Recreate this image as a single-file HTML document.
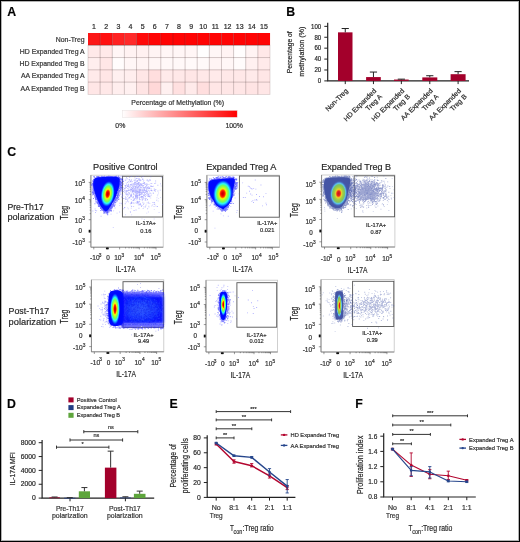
<!DOCTYPE html>
<html><head><meta charset="utf-8"><style>
html,body{margin:0;padding:0;background:#fff;}
body{width:520px;height:542px;overflow:hidden;position:relative;}
svg{position:absolute;left:0;top:0;will-change:transform;}
text{font-family:"Liberation Sans",sans-serif;stroke:#333;stroke-width:0.2px;}
</style></head><body>
<svg width="520" height="542" viewBox="0 0 520 542" font-family="Liberation Sans, sans-serif">
<rect x="0" y="0" width="520" height="542" fill="#fff"/>
<text x="7.30" y="16.20" font-size="12.3" text-anchor="start" fill="#000" font-weight="bold" >A</text>
<text x="94.07" y="28.60" font-size="7" text-anchor="middle" fill="#222" >1</text>
<text x="106.20" y="28.60" font-size="7" text-anchor="middle" fill="#222" >2</text>
<text x="118.33" y="28.60" font-size="7" text-anchor="middle" fill="#222" >3</text>
<text x="130.47" y="28.60" font-size="7" text-anchor="middle" fill="#222" >4</text>
<text x="142.60" y="28.60" font-size="7" text-anchor="middle" fill="#222" >5</text>
<text x="154.73" y="28.60" font-size="7" text-anchor="middle" fill="#222" >6</text>
<text x="166.87" y="28.60" font-size="7" text-anchor="middle" fill="#222" >7</text>
<text x="179.00" y="28.60" font-size="7" text-anchor="middle" fill="#222" >8</text>
<text x="191.13" y="28.60" font-size="7" text-anchor="middle" fill="#222" >9</text>
<text x="203.27" y="28.60" font-size="7" text-anchor="middle" fill="#222" >10</text>
<text x="215.40" y="28.60" font-size="7" text-anchor="middle" fill="#222" >11</text>
<text x="227.53" y="28.60" font-size="7" text-anchor="middle" fill="#222" >12</text>
<text x="239.67" y="28.60" font-size="7" text-anchor="middle" fill="#222" >13</text>
<text x="251.80" y="28.60" font-size="7" text-anchor="middle" fill="#222" >14</text>
<text x="263.93" y="28.60" font-size="7" text-anchor="middle" fill="#222" >15</text>
<text x="84.60" y="41.64" font-size="6.9" text-anchor="end" fill="#333" >Non-Treg</text>
<text x="84.60" y="53.92" font-size="6.9" text-anchor="end" fill="#333" >HD Expanded Treg A</text>
<text x="84.60" y="66.20" font-size="6.9" text-anchor="end" fill="#333" >HD Expanded Treg B</text>
<text x="84.60" y="78.48" font-size="6.9" text-anchor="end" fill="#333" >AA Expanded Treg A</text>
<text x="84.60" y="90.76" font-size="6.9" text-anchor="end" fill="#333" >AA Expanded Treg B</text>
<rect x="88.00" y="33.00" width="12.18" height="12.33" fill="#fc1616"/>
<rect x="100.13" y="33.00" width="12.18" height="12.33" fill="#ff1010"/>
<rect x="112.27" y="33.00" width="12.18" height="12.33" fill="#ff2222"/>
<rect x="124.40" y="33.00" width="12.18" height="12.33" fill="#ff2a2a"/>
<rect x="136.53" y="33.00" width="12.18" height="12.33" fill="#ff0a0a"/>
<rect x="148.67" y="33.00" width="12.18" height="12.33" fill="#ff0404"/>
<rect x="160.80" y="33.00" width="12.18" height="12.33" fill="#ff0404"/>
<rect x="172.93" y="33.00" width="12.18" height="12.33" fill="#ff0404"/>
<rect x="185.07" y="33.00" width="12.18" height="12.33" fill="#ff0404"/>
<rect x="197.20" y="33.00" width="12.18" height="12.33" fill="#ff0404"/>
<rect x="209.33" y="33.00" width="12.18" height="12.33" fill="#ff0404"/>
<rect x="221.47" y="33.00" width="12.18" height="12.33" fill="#ff0404"/>
<rect x="233.60" y="33.00" width="12.18" height="12.33" fill="#ff0404"/>
<rect x="245.73" y="33.00" width="12.18" height="12.33" fill="#ff0404"/>
<rect x="257.87" y="33.00" width="12.18" height="12.33" fill="#ff0404"/>
<rect x="88.00" y="45.28" width="12.18" height="12.33" fill="#ffe9e9"/>
<rect x="100.13" y="45.28" width="12.18" height="12.33" fill="#ffe9e9"/>
<rect x="112.27" y="45.28" width="12.18" height="12.33" fill="#fff6f6"/>
<rect x="124.40" y="45.28" width="12.18" height="12.33" fill="#fff2f2"/>
<rect x="136.53" y="45.28" width="12.18" height="12.33" fill="#fff1f1"/>
<rect x="148.67" y="45.28" width="12.18" height="12.33" fill="#fff4f4"/>
<rect x="160.80" y="45.28" width="12.18" height="12.33" fill="#fff6f6"/>
<rect x="172.93" y="45.28" width="12.18" height="12.33" fill="#fff6f6"/>
<rect x="185.07" y="45.28" width="12.18" height="12.33" fill="#fff6f6"/>
<rect x="197.20" y="45.28" width="12.18" height="12.33" fill="#fffefe"/>
<rect x="209.33" y="45.28" width="12.18" height="12.33" fill="#fff6f6"/>
<rect x="221.47" y="45.28" width="12.18" height="12.33" fill="#fff3f3"/>
<rect x="233.60" y="45.28" width="12.18" height="12.33" fill="#fffdfd"/>
<rect x="245.73" y="45.28" width="12.18" height="12.33" fill="#fff3f3"/>
<rect x="257.87" y="45.28" width="12.18" height="12.33" fill="#ffe8e8"/>
<rect x="88.00" y="57.56" width="12.18" height="12.33" fill="#ffeeee"/>
<rect x="100.13" y="57.56" width="12.18" height="12.33" fill="#ffe6e6"/>
<rect x="112.27" y="57.56" width="12.18" height="12.33" fill="#fffcfc"/>
<rect x="124.40" y="57.56" width="12.18" height="12.33" fill="#fff6f6"/>
<rect x="136.53" y="57.56" width="12.18" height="12.33" fill="#fff4f4"/>
<rect x="148.67" y="57.56" width="12.18" height="12.33" fill="#fff6f6"/>
<rect x="160.80" y="57.56" width="12.18" height="12.33" fill="#fff8f8"/>
<rect x="172.93" y="57.56" width="12.18" height="12.33" fill="#fff8f8"/>
<rect x="185.07" y="57.56" width="12.18" height="12.33" fill="#fff9f9"/>
<rect x="197.20" y="57.56" width="12.18" height="12.33" fill="#fff9f9"/>
<rect x="209.33" y="57.56" width="12.18" height="12.33" fill="#fff4f4"/>
<rect x="221.47" y="57.56" width="12.18" height="12.33" fill="#fff6f6"/>
<rect x="233.60" y="57.56" width="12.18" height="12.33" fill="#fffbfb"/>
<rect x="245.73" y="57.56" width="12.18" height="12.33" fill="#fff0f0"/>
<rect x="257.87" y="57.56" width="12.18" height="12.33" fill="#ffeaea"/>
<rect x="88.00" y="69.84" width="12.18" height="12.33" fill="#ffeaea"/>
<rect x="100.13" y="69.84" width="12.18" height="12.33" fill="#ffe6e6"/>
<rect x="112.27" y="69.84" width="12.18" height="12.33" fill="#fff0f0"/>
<rect x="124.40" y="69.84" width="12.18" height="12.33" fill="#ffeeee"/>
<rect x="136.53" y="69.84" width="12.18" height="12.33" fill="#ffe6e6"/>
<rect x="148.67" y="69.84" width="12.18" height="12.33" fill="#ffdede"/>
<rect x="160.80" y="69.84" width="12.18" height="12.33" fill="#ffeaea"/>
<rect x="172.93" y="69.84" width="12.18" height="12.33" fill="#ffe8e8"/>
<rect x="185.07" y="69.84" width="12.18" height="12.33" fill="#ffe6e6"/>
<rect x="197.20" y="69.84" width="12.18" height="12.33" fill="#ffe8e8"/>
<rect x="209.33" y="69.84" width="12.18" height="12.33" fill="#ffeaea"/>
<rect x="221.47" y="69.84" width="12.18" height="12.33" fill="#ffe8e8"/>
<rect x="233.60" y="69.84" width="12.18" height="12.33" fill="#ffe8e8"/>
<rect x="245.73" y="69.84" width="12.18" height="12.33" fill="#ffeaea"/>
<rect x="257.87" y="69.84" width="12.18" height="12.33" fill="#ffe6e6"/>
<rect x="88.00" y="82.12" width="12.18" height="12.33" fill="#ffe6e6"/>
<rect x="100.13" y="82.12" width="12.18" height="12.33" fill="#ffe8e8"/>
<rect x="112.27" y="82.12" width="12.18" height="12.33" fill="#ffeeee"/>
<rect x="124.40" y="82.12" width="12.18" height="12.33" fill="#fff0f0"/>
<rect x="136.53" y="82.12" width="12.18" height="12.33" fill="#ffe4e4"/>
<rect x="148.67" y="82.12" width="12.18" height="12.33" fill="#ffd8d8"/>
<rect x="160.80" y="82.12" width="12.18" height="12.33" fill="#fff0f0"/>
<rect x="172.93" y="82.12" width="12.18" height="12.33" fill="#ffe0e0"/>
<rect x="185.07" y="82.12" width="12.18" height="12.33" fill="#ffeaea"/>
<rect x="197.20" y="82.12" width="12.18" height="12.33" fill="#ffdede"/>
<rect x="209.33" y="82.12" width="12.18" height="12.33" fill="#ffe6e6"/>
<rect x="221.47" y="82.12" width="12.18" height="12.33" fill="#ffe6e6"/>
<rect x="233.60" y="82.12" width="12.18" height="12.33" fill="#ffe6e6"/>
<rect x="245.73" y="82.12" width="12.18" height="12.33" fill="#ffe4e4"/>
<rect x="257.87" y="82.12" width="12.18" height="12.33" fill="#ffe6e6"/>
<path d="M100.13 33.0V94.4M112.27 33.0V94.4M124.40 33.0V94.4M136.53 33.0V94.4M148.67 33.0V94.4M160.80 33.0V94.4M172.93 33.0V94.4M185.07 33.0V94.4M197.20 33.0V94.4M209.33 33.0V94.4M221.47 33.0V94.4M233.60 33.0V94.4M245.73 33.0V94.4M257.87 33.0V94.4M88.0 45.28H270.0M88.0 57.56H270.0M88.0 69.84H270.0M88.0 82.12H270.0" stroke="#3c2020" stroke-width="0.9" fill="none" stroke-opacity="0.26"/>
<rect x="88.0" y="45.28" width="182.0" height="49.12" fill="none" stroke="#3c2020" stroke-opacity="0.18" stroke-width="0.8"/>
<text x="177.70" y="105.20" font-size="6.9" text-anchor="middle" fill="#333" >Percentage of Methylation (%)</text>
<defs><linearGradient id="cb" x1="0" x2="1" y1="0" y2="0"><stop offset="0" stop-color="#ffffff"/><stop offset="1" stop-color="#ff0000"/></linearGradient></defs>
<rect x="122.3" y="110.4" width="114.9" height="6.9" fill="url(#cb)" stroke="#e8e0e0" stroke-width="0.5"/>
<text x="115.30" y="127.60" font-size="6.9" text-anchor="start" fill="#333" >0%</text>
<text x="243.00" y="127.60" font-size="6.9" text-anchor="end" fill="#333" >100%</text>
<text x="286.20" y="16.20" font-size="12.3" text-anchor="start" fill="#000" font-weight="bold" >B</text>
<path d="M327.7 22.8V81.4M327.09999999999997 80.9H469.0" stroke="#222" stroke-width="1.2" fill="none"/>
<text x="321.20" y="83.20" font-size="6.6" text-anchor="end" fill="#222" textLength="3.4" lengthAdjust="spacingAndGlyphs" >0</text>
<text x="321.20" y="72.29" font-size="6.6" text-anchor="end" fill="#222" textLength="6.8" lengthAdjust="spacingAndGlyphs" >20</text>
<text x="321.20" y="61.38" font-size="6.6" text-anchor="end" fill="#222" textLength="6.8" lengthAdjust="spacingAndGlyphs" >40</text>
<text x="321.20" y="50.47" font-size="6.6" text-anchor="end" fill="#222" textLength="6.8" lengthAdjust="spacingAndGlyphs" >60</text>
<text x="321.20" y="39.56" font-size="6.6" text-anchor="end" fill="#222" textLength="6.8" lengthAdjust="spacingAndGlyphs" >80</text>
<text x="321.20" y="28.65" font-size="6.6" text-anchor="end" fill="#222" textLength="10.2" lengthAdjust="spacingAndGlyphs" >100</text>
<path d="M324.3 80.90H327.7M324.3 69.99H327.7M324.3 59.08H327.7M324.3 48.17H327.7M324.3 37.26H327.7M324.3 26.35H327.7" stroke="#222" stroke-width="1" fill="none"/>
<rect x="338.0" y="32.35" width="14.50" height="48.55" fill="#a3002b"/>
<path d="M345.25 32.35V28.53M341.65 28.53H348.85" stroke="#222" stroke-width="1" fill="none"/>
<rect x="366.1" y="77.08" width="14.70" height="3.82" fill="#a3002b"/>
<path d="M373.45 77.08V72.06M369.85 72.06H377.05" stroke="#222" stroke-width="1" fill="none"/>
<rect x="394.0" y="79.54" width="14.70" height="1.36" fill="#a3002b"/>
<path d="M401.35 79.54V79.15M397.75 79.15H404.95" stroke="#222" stroke-width="1" fill="none"/>
<rect x="422.3" y="77.41" width="15.00" height="3.49" fill="#a3002b"/>
<path d="M429.80 77.41V75.72M426.20 75.72H433.40" stroke="#222" stroke-width="1" fill="none"/>
<rect x="450.6" y="74.19" width="15.00" height="6.71" fill="#a3002b"/>
<path d="M458.10 74.19V71.63M454.50 71.63H461.70" stroke="#222" stroke-width="1" fill="none"/>
<path d="M345.25 80.9V84.10000000000001M373.45 80.9V84.10000000000001M401.35 80.9V84.10000000000001M429.80 80.9V84.10000000000001M458.10 80.9V84.10000000000001" stroke="#222" stroke-width="1" fill="none"/>
<text transform="translate(292.0 52.3) rotate(-90)" font-size="7.6" text-anchor="middle" fill="#222" textLength="41.8" lengthAdjust="spacingAndGlyphs">Percentage of</text>
<text transform="translate(304.4 51.7) rotate(-90)" font-size="7.6" text-anchor="middle" fill="#222" textLength="50.3" lengthAdjust="spacingAndGlyphs">methylation (%)</text>
<g transform="translate(346.85 89.60) rotate(-45)"><text x="0" y="2.4" font-size="6.9" text-anchor="end" fill="#222">Non-Treg</text></g>
<g transform="translate(375.05 89.60) rotate(-45)"><text x="0" y="2.4" font-size="6.9" text-anchor="end" fill="#222">HD Expanded</text><text x="0" y="10.6" font-size="6.9" text-anchor="end" fill="#222">Treg A</text></g>
<g transform="translate(402.95 89.60) rotate(-45)"><text x="0" y="2.4" font-size="6.9" text-anchor="end" fill="#222">HD Expanded</text><text x="0" y="10.6" font-size="6.9" text-anchor="end" fill="#222">Treg B</text></g>
<g transform="translate(431.40 89.60) rotate(-45)"><text x="0" y="2.4" font-size="6.9" text-anchor="end" fill="#222">AA Expanded</text><text x="0" y="10.6" font-size="6.9" text-anchor="end" fill="#222">Treg A</text></g>
<g transform="translate(459.70 89.60) rotate(-45)"><text x="0" y="2.4" font-size="6.9" text-anchor="end" fill="#222">AA Expanded</text><text x="0" y="10.6" font-size="6.9" text-anchor="end" fill="#222">Treg B</text></g>
<text x="7.30" y="155.80" font-size="12.3" text-anchor="start" fill="#000" font-weight="bold" >C</text>
<text x="7.40" y="210.00" font-size="9.0" text-anchor="start" fill="#222" textLength="36.2" lengthAdjust="spacingAndGlyphs" >Pre-Th17</text>
<text x="7.40" y="220.40" font-size="9.0" text-anchor="start" fill="#222" textLength="47.0" lengthAdjust="spacingAndGlyphs" >polarization</text>
<text x="8.60" y="313.80" font-size="9.0" text-anchor="start" fill="#222" textLength="40.6" lengthAdjust="spacingAndGlyphs" >Post-Th17</text>
<text x="8.60" y="324.80" font-size="9.0" text-anchor="start" fill="#222" textLength="47.5" lengthAdjust="spacingAndGlyphs" >polarization</text>
<rect x="90.9" y="175.2" width="72.30" height="72.00" fill="none" stroke="#c4c4c4" stroke-width="0.8"/>
<path d="M90.9 175.2V247.2H163.2" stroke="#777" stroke-width="0.8" fill="none"/>
<path d="M88.70 182.40H90.9M156.02 247.2V249.40M88.70 199.60H90.9M139.37 247.2V249.40M88.70 219.70H90.9M119.62 247.2V249.40M88.70 231.20H90.9M107.35 247.2V249.40M88.70 242.00H90.9M93.79 247.2V249.40M89.70 213.65H90.9M125.56 247.2V248.40M89.70 210.11H90.9M129.04 247.2V248.40M89.70 207.60H90.9M131.51 247.2V248.40M89.70 205.65H90.9M133.42 247.2V248.40M89.70 204.06H90.9M134.99 247.2V248.40M89.70 202.71H90.9M136.31 247.2V248.40M89.70 201.55H90.9M137.45 247.2V248.40M89.70 200.52H90.9M138.46 247.2V248.40M89.70 194.42H90.9M144.38 247.2V248.40M89.70 191.39H90.9M147.31 247.2V248.40M89.70 189.24H90.9M149.39 247.2V248.40M89.70 187.58H90.9M151.01 247.2V248.40M89.70 186.22H90.9M152.33 247.2V248.40M89.70 185.06H90.9M153.44 247.2V248.40M89.70 184.07H90.9M154.41 247.2V248.40M89.70 183.19H90.9M155.26 247.2V248.40" stroke="#555" stroke-width="0.6" fill="none"/>
<rect x="88.70" y="229.80" width="1.8" height="2.8" fill="#111"/>
<rect x="105.95" y="247.50" width="2.8" height="1.8" fill="#111"/>
<text x="82.10" y="185.80" font-size="6.6" text-anchor="end" fill="#333" >10</text>
<text x="82.20" y="182.80" font-size="4.8" text-anchor="start" fill="#333" >5</text>
<text x="82.10" y="203.00" font-size="6.6" text-anchor="end" fill="#333" >10</text>
<text x="82.20" y="200.00" font-size="4.8" text-anchor="start" fill="#333" >4</text>
<text x="82.10" y="223.10" font-size="6.6" text-anchor="end" fill="#333" >10</text>
<text x="82.20" y="220.10" font-size="4.8" text-anchor="start" fill="#333" >3</text>
<text x="82.00" y="233.30" font-size="6.3" text-anchor="end" fill="#333" >0</text>
<text x="82.10" y="245.40" font-size="6.6" text-anchor="end" fill="#333" >-10</text>
<text x="82.20" y="242.40" font-size="4.8" text-anchor="start" fill="#333" >3</text>
<text x="94.79" y="260.00" font-size="6.6" text-anchor="middle" fill="#333" >-10</text>
<text x="98.69" y="256.80" font-size="4.8" text-anchor="start" fill="#333" >3</text>
<text x="107.95" y="260.20" font-size="6.4" text-anchor="middle" fill="#333" >0</text>
<text x="117.82" y="260.00" font-size="6.6" text-anchor="middle" fill="#333" >10</text>
<text x="121.62" y="256.80" font-size="4.8" text-anchor="start" fill="#333" >3</text>
<text x="137.57" y="260.00" font-size="6.6" text-anchor="middle" fill="#333" >10</text>
<text x="141.37" y="256.80" font-size="4.8" text-anchor="start" fill="#333" >4</text>
<text x="154.22" y="260.00" font-size="6.6" text-anchor="middle" fill="#333" >10</text>
<text x="158.02" y="256.80" font-size="4.8" text-anchor="start" fill="#333" >5</text>
<text x="125.60" y="272.30" font-size="9.0" text-anchor="middle" fill="#1a1a1a" textLength="19.8" lengthAdjust="spacingAndGlyphs" >IL-17A</text>
<text transform="translate(67.60 212.75) rotate(-90)" font-size="10.2" text-anchor="middle" fill="#1a1a1a" textLength="13.9" lengthAdjust="spacingAndGlyphs">Treg</text>
<text x="93.10" y="169.90" font-size="9.6" text-anchor="start" fill="#222" textLength="64.5" lengthAdjust="spacingAndGlyphs" >Positive Control</text>
<rect x="122.4" y="176.3" width="40.10" height="40.70" fill="none" stroke="#555" stroke-width="0.9"/>
<text x="145.90" y="225.45" font-size="5.7" text-anchor="middle" fill="#2a2a2a" >IL-17A+</text>
<text x="145.90" y="232.55" font-size="5.7" text-anchor="middle" fill="#2a2a2a" >0.16</text>
<path d="M137.0 193.2h0.9v0.9h-0.9zM134.5 184.3h0.9v0.9h-0.9zM132.9 183.6h0.9v0.9h-0.9zM137.5 201.1h0.9v0.9h-0.9zM132.6 186.3h0.9v0.9h-0.9zM141.4 193.7h0.9v0.9h-0.9zM137.9 184.0h0.9v0.9h-0.9zM136.7 196.2h0.9v0.9h-0.9zM124.9 187.6h0.9v0.9h-0.9zM119.9 181.3h0.9v0.9h-0.9zM120.4 189.2h0.9v0.9h-0.9zM125.6 193.0h0.9v0.9h-0.9zM138.4 189.6h0.9v0.9h-0.9zM114.3 187.0h0.9v0.9h-0.9zM136.6 191.8h0.9v0.9h-0.9zM123.2 187.4h0.9v0.9h-0.9zM128.2 184.9h0.9v0.9h-0.9zM146.5 184.9h0.9v0.9h-0.9zM136.7 197.6h0.9v0.9h-0.9zM131.7 190.2h0.9v0.9h-0.9zM138.0 191.5h0.9v0.9h-0.9zM126.0 191.6h0.9v0.9h-0.9zM149.2 179.4h0.9v0.9h-0.9zM144.7 191.9h0.9v0.9h-0.9zM131.2 206.0h0.9v0.9h-0.9zM143.9 182.0h0.9v0.9h-0.9zM137.7 195.3h0.9v0.9h-0.9zM135.3 196.1h0.9v0.9h-0.9zM136.4 196.0h0.9v0.9h-0.9zM149.9 185.9h0.9v0.9h-0.9zM138.8 187.5h0.9v0.9h-0.9zM138.1 182.1h0.9v0.9h-0.9zM131.8 189.5h0.9v0.9h-0.9zM145.1 199.6h0.9v0.9h-0.9zM125.1 185.0h0.9v0.9h-0.9zM142.8 176.1h0.9v0.9h-0.9zM132.8 190.3h0.9v0.9h-0.9zM148.3 196.2h0.9v0.9h-0.9zM134.1 188.2h0.9v0.9h-0.9zM134.7 202.4h0.9v0.9h-0.9zM133.1 188.7h0.9v0.9h-0.9zM140.2 190.1h0.9v0.9h-0.9zM135.2 182.6h0.9v0.9h-0.9zM136.9 187.7h0.9v0.9h-0.9zM147.5 195.9h0.9v0.9h-0.9zM136.8 196.0h0.9v0.9h-0.9zM133.9 198.9h0.9v0.9h-0.9zM137.0 195.4h0.9v0.9h-0.9zM125.4 193.6h0.9v0.9h-0.9zM121.8 175.7h0.9v0.9h-0.9zM134.3 184.3h0.9v0.9h-0.9zM138.5 207.8h0.9v0.9h-0.9zM129.5 186.3h0.9v0.9h-0.9zM138.8 194.7h0.9v0.9h-0.9zM135.4 189.5h0.9v0.9h-0.9zM143.3 194.9h0.9v0.9h-0.9zM127.7 190.4h0.9v0.9h-0.9zM137.3 183.1h0.9v0.9h-0.9zM139.3 184.6h0.9v0.9h-0.9zM145.7 192.4h0.9v0.9h-0.9zM137.8 186.6h0.9v0.9h-0.9zM135.9 176.0h0.9v0.9h-0.9zM126.8 193.7h0.9v0.9h-0.9zM117.8 197.3h0.9v0.9h-0.9zM121.3 196.7h0.9v0.9h-0.9zM129.4 196.8h0.9v0.9h-0.9zM138.2 179.5h0.9v0.9h-0.9zM148.2 201.8h0.9v0.9h-0.9zM136.4 188.9h0.9v0.9h-0.9zM135.6 183.7h0.9v0.9h-0.9zM146.9 186.9h0.9v0.9h-0.9zM136.5 185.1h0.9v0.9h-0.9zM131.4 181.4h0.9v0.9h-0.9zM148.3 189.8h0.9v0.9h-0.9zM145.7 191.1h0.9v0.9h-0.9zM130.8 188.5h0.9v0.9h-0.9zM132.0 191.1h0.9v0.9h-0.9zM133.6 188.8h0.9v0.9h-0.9zM124.6 184.9h0.9v0.9h-0.9zM151.9 186.0h0.9v0.9h-0.9zM127.5 193.5h0.9v0.9h-0.9zM149.7 180.1h0.9v0.9h-0.9zM135.1 186.3h0.9v0.9h-0.9zM121.2 196.5h0.9v0.9h-0.9zM136.8 191.5h0.9v0.9h-0.9zM130.2 194.4h0.9v0.9h-0.9zM132.1 189.9h0.9v0.9h-0.9zM127.0 181.9h0.9v0.9h-0.9zM149.0 187.2h0.9v0.9h-0.9zM139.6 190.7h0.9v0.9h-0.9zM133.0 187.2h0.9v0.9h-0.9zM142.7 188.7h0.9v0.9h-0.9zM135.6 191.2h0.9v0.9h-0.9zM147.6 196.1h0.9v0.9h-0.9zM140.4 186.8h0.9v0.9h-0.9zM124.6 198.1h0.9v0.9h-0.9zM145.7 189.9h0.9v0.9h-0.9zM141.9 196.9h0.9v0.9h-0.9zM144.5 197.9h0.9v0.9h-0.9zM132.9 202.4h0.9v0.9h-0.9zM125.8 197.5h0.9v0.9h-0.9zM141.4 197.6h0.9v0.9h-0.9zM153.9 202.1h0.9v0.9h-0.9zM126.7 178.3h0.9v0.9h-0.9zM144.4 183.4h0.9v0.9h-0.9zM136.9 197.3h0.9v0.9h-0.9zM139.3 191.3h0.9v0.9h-0.9zM134.8 191.3h0.9v0.9h-0.9zM129.3 179.6h0.9v0.9h-0.9zM135.5 183.7h0.9v0.9h-0.9zM122.2 194.8h0.9v0.9h-0.9zM136.4 194.0h0.9v0.9h-0.9zM128.1 186.1h0.9v0.9h-0.9zM128.0 184.4h0.9v0.9h-0.9zM138.8 185.1h0.9v0.9h-0.9zM140.2 193.5h0.9v0.9h-0.9zM155.2 180.6h0.9v0.9h-0.9zM145.0 190.3h0.9v0.9h-0.9zM136.9 180.1h0.9v0.9h-0.9zM132.9 196.6h0.9v0.9h-0.9zM136.3 191.6h0.9v0.9h-0.9zM134.4 199.7h0.9v0.9h-0.9zM130.8 176.2h0.9v0.9h-0.9zM107.7 187.0h0.9v0.9h-0.9zM149.0 191.4h0.9v0.9h-0.9zM126.4 183.9h0.9v0.9h-0.9zM147.2 192.2h0.9v0.9h-0.9zM137.4 190.6h0.9v0.9h-0.9zM137.3 197.0h0.9v0.9h-0.9zM142.0 192.6h0.9v0.9h-0.9zM127.6 194.8h0.9v0.9h-0.9zM130.8 199.2h0.9v0.9h-0.9zM125.6 190.0h0.9v0.9h-0.9zM136.9 181.1h0.9v0.9h-0.9zM152.5 202.0h0.9v0.9h-0.9zM132.8 196.8h0.9v0.9h-0.9zM139.3 190.5h0.9v0.9h-0.9zM137.7 182.9h0.9v0.9h-0.9zM134.6 189.7h0.9v0.9h-0.9zM147.7 193.5h0.9v0.9h-0.9zM137.0 202.5h0.9v0.9h-0.9zM132.0 188.1h0.9v0.9h-0.9zM120.6 202.8h0.9v0.9h-0.9zM145.7 197.9h0.9v0.9h-0.9zM143.0 191.8h0.9v0.9h-0.9zM138.9 189.1h0.9v0.9h-0.9zM135.2 191.4h0.9v0.9h-0.9zM150.6 195.2h0.9v0.9h-0.9zM136.5 186.7h0.9v0.9h-0.9zM131.3 203.0h0.9v0.9h-0.9zM141.6 191.5h0.9v0.9h-0.9zM133.9 182.7h0.9v0.9h-0.9zM136.4 197.6h0.9v0.9h-0.9zM133.5 189.3h0.9v0.9h-0.9zM135.0 191.8h0.9v0.9h-0.9zM122.7 189.2h0.9v0.9h-0.9zM129.3 197.6h0.9v0.9h-0.9zM130.1 195.3h0.9v0.9h-0.9zM150.7 188.6h0.9v0.9h-0.9zM131.6 192.4h0.9v0.9h-0.9zM137.0 183.5h0.9v0.9h-0.9zM141.1 206.1h0.9v0.9h-0.9zM134.7 189.5h0.9v0.9h-0.9zM127.6 193.4h0.9v0.9h-0.9zM125.8 182.7h0.9v0.9h-0.9zM148.5 184.2h0.9v0.9h-0.9zM146.7 202.4h0.9v0.9h-0.9zM139.3 195.2h0.9v0.9h-0.9zM154.6 189.5h0.9v0.9h-0.9zM131.7 180.9h0.9v0.9h-0.9zM137.4 202.1h0.9v0.9h-0.9zM145.6 183.9h0.9v0.9h-0.9zM129.3 187.2h0.9v0.9h-0.9zM139.6 189.5h0.9v0.9h-0.9zM138.9 193.2h0.9v0.9h-0.9zM134.3 190.7h0.9v0.9h-0.9zM138.9 190.4h0.9v0.9h-0.9zM141.5 205.0h0.9v0.9h-0.9zM142.3 191.4h0.9v0.9h-0.9zM121.8 193.9h0.9v0.9h-0.9zM119.5 180.4h0.9v0.9h-0.9zM144.7 196.3h0.9v0.9h-0.9zM135.7 178.2h0.9v0.9h-0.9zM133.7 185.9h0.9v0.9h-0.9zM142.7 207.9h0.9v0.9h-0.9zM139.0 185.2h0.9v0.9h-0.9zM126.5 190.6h0.9v0.9h-0.9zM135.4 182.4h0.9v0.9h-0.9zM138.0 182.4h0.9v0.9h-0.9zM147.0 199.0h0.9v0.9h-0.9zM146.8 187.4h0.9v0.9h-0.9zM141.6 190.0h0.9v0.9h-0.9zM133.5 188.5h0.9v0.9h-0.9zM125.3 180.2h0.9v0.9h-0.9zM144.1 189.6h0.9v0.9h-0.9zM138.9 198.5h0.9v0.9h-0.9zM121.4 185.1h0.9v0.9h-0.9zM138.6 193.9h0.9v0.9h-0.9zM133.6 198.7h0.9v0.9h-0.9zM138.9 181.9h0.9v0.9h-0.9zM128.6 197.0h0.9v0.9h-0.9zM141.2 176.8h0.9v0.9h-0.9zM149.1 195.5h0.9v0.9h-0.9zM149.1 188.1h0.9v0.9h-0.9zM134.3 182.6h0.9v0.9h-0.9zM159.8 189.7h0.9v0.9h-0.9zM151.3 186.1h0.9v0.9h-0.9zM138.5 178.5h0.9v0.9h-0.9zM133.6 198.4h0.9v0.9h-0.9zM125.7 199.0h0.9v0.9h-0.9zM140.0 183.2h0.9v0.9h-0.9zM132.5 187.6h0.9v0.9h-0.9zM136.6 187.0h0.9v0.9h-0.9zM129.6 188.7h0.9v0.9h-0.9zM127.8 181.3h0.9v0.9h-0.9zM136.6 197.6h0.9v0.9h-0.9zM123.2 191.0h0.9v0.9h-0.9zM131.2 183.7h0.9v0.9h-0.9zM144.7 187.1h0.9v0.9h-0.9zM150.5 185.2h0.9v0.9h-0.9zM140.5 189.3h0.9v0.9h-0.9zM130.2 195.4h0.9v0.9h-0.9zM135.6 195.5h0.9v0.9h-0.9zM136.6 182.9h0.9v0.9h-0.9zM136.1 191.4h0.9v0.9h-0.9zM145.6 184.2h0.9v0.9h-0.9zM136.6 178.1h0.9v0.9h-0.9zM142.9 182.9h0.9v0.9h-0.9zM120.7 190.6h0.9v0.9h-0.9zM147.0 179.6h0.9v0.9h-0.9zM127.2 185.4h0.9v0.9h-0.9zM126.8 193.8h0.9v0.9h-0.9zM129.7 185.6h0.9v0.9h-0.9zM142.2 185.3h0.9v0.9h-0.9zM140.9 183.7h0.9v0.9h-0.9zM126.1 177.2h0.9v0.9h-0.9zM153.8 188.6h0.9v0.9h-0.9zM139.2 190.8h0.9v0.9h-0.9zM138.4 191.4h0.9v0.9h-0.9zM154.2 183.2h0.9v0.9h-0.9zM123.0 183.4h0.9v0.9h-0.9zM125.0 196.6h0.9v0.9h-0.9zM144.4 183.8h0.9v0.9h-0.9zM124.5 188.3h0.9v0.9h-0.9zM141.7 182.9h0.9v0.9h-0.9zM146.4 182.9h0.9v0.9h-0.9zM134.4 179.7h0.9v0.9h-0.9zM128.2 201.4h0.9v0.9h-0.9zM144.4 188.0h0.9v0.9h-0.9zM129.2 176.8h0.9v0.9h-0.9zM133.5 190.8h0.9v0.9h-0.9zM136.2 190.3h0.9v0.9h-0.9zM126.9 190.5h0.9v0.9h-0.9zM136.7 200.7h0.9v0.9h-0.9zM153.8 190.0h0.9v0.9h-0.9zM130.1 190.5h0.9v0.9h-0.9zM131.5 185.4h0.9v0.9h-0.9zM136.5 183.2h0.9v0.9h-0.9zM142.5 190.2h0.9v0.9h-0.9zM139.3 189.6h0.9v0.9h-0.9zM130.5 183.9h0.9v0.9h-0.9zM134.9 186.9h0.9v0.9h-0.9zM139.1 191.0h0.9v0.9h-0.9zM124.7 191.5h0.9v0.9h-0.9zM124.9 186.4h0.9v0.9h-0.9zM137.8 192.1h0.9v0.9h-0.9zM135.6 187.8h0.9v0.9h-0.9zM133.6 183.7h0.9v0.9h-0.9zM134.6 186.9h0.9v0.9h-0.9zM137.8 182.0h0.9v0.9h-0.9zM139.1 192.1h0.9v0.9h-0.9zM135.7 187.7h0.9v0.9h-0.9zM142.0 178.5h0.9v0.9h-0.9zM141.1 192.8h0.9v0.9h-0.9zM139.6 193.9h0.9v0.9h-0.9zM131.1 189.1h0.9v0.9h-0.9zM142.7 194.2h0.9v0.9h-0.9zM138.9 179.6h0.9v0.9h-0.9zM141.8 199.8h0.9v0.9h-0.9zM146.1 192.8h0.9v0.9h-0.9zM123.0 198.1h0.9v0.9h-0.9zM140.4 179.8h0.9v0.9h-0.9zM125.3 186.2h0.9v0.9h-0.9zM148.5 188.2h0.9v0.9h-0.9zM139.4 204.1h0.9v0.9h-0.9zM151.3 190.2h0.9v0.9h-0.9zM134.8 181.5h0.9v0.9h-0.9zM130.7 194.2h0.9v0.9h-0.9zM140.6 191.8h0.9v0.9h-0.9zM146.0 185.2h0.9v0.9h-0.9zM136.5 196.5h0.9v0.9h-0.9zM142.3 199.0h0.9v0.9h-0.9zM140.6 188.7h0.9v0.9h-0.9zM140.3 183.5h0.9v0.9h-0.9zM122.2 195.4h0.9v0.9h-0.9zM136.5 193.3h0.9v0.9h-0.9zM121.7 188.3h0.9v0.9h-0.9zM131.6 184.5h0.9v0.9h-0.9zM116.7 188.5h0.9v0.9h-0.9zM145.1 193.9h0.9v0.9h-0.9zM131.6 190.9h0.9v0.9h-0.9zM135.9 195.1h0.9v0.9h-0.9zM143.1 203.8h0.9v0.9h-0.9zM147.2 193.3h0.9v0.9h-0.9zM139.7 196.9h0.9v0.9h-0.9zM132.1 190.7h0.9v0.9h-0.9zM145.2 205.7h0.9v0.9h-0.9zM135.6 190.6h0.9v0.9h-0.9zM138.8 201.1h0.9v0.9h-0.9zM136.7 202.0h0.9v0.9h-0.9zM128.3 189.6h0.9v0.9h-0.9zM135.2 196.9h0.9v0.9h-0.9zM146.4 179.7h0.9v0.9h-0.9zM128.8 193.5h0.9v0.9h-0.9zM131.1 179.6h0.9v0.9h-0.9zM146.3 194.7h0.9v0.9h-0.9zM141.4 187.4h0.9v0.9h-0.9zM146.3 189.2h0.9v0.9h-0.9zM146.9 184.2h0.9v0.9h-0.9zM129.3 192.5h0.9v0.9h-0.9zM130.7 196.1h0.9v0.9h-0.9zM139.3 184.1h0.9v0.9h-0.9zM137.7 188.4h0.9v0.9h-0.9zM145.2 186.3h0.9v0.9h-0.9zM133.0 200.1h0.9v0.9h-0.9zM157.1 206.0h0.9v0.9h-0.9zM137.6 192.6h0.9v0.9h-0.9zM150.8 190.1h0.9v0.9h-0.9zM128.2 191.9h0.9v0.9h-0.9zM141.1 184.8h0.9v0.9h-0.9zM122.2 180.2h0.9v0.9h-0.9zM143.0 185.3h0.9v0.9h-0.9zM135.7 192.6h0.9v0.9h-0.9zM142.6 188.5h0.9v0.9h-0.9zM141.5 184.3h0.9v0.9h-0.9zM133.7 183.3h0.9v0.9h-0.9zM147.2 190.8h0.9v0.9h-0.9zM130.3 188.4h0.9v0.9h-0.9zM135.0 196.3h0.9v0.9h-0.9zM122.6 183.2h0.9v0.9h-0.9zM133.6 210.0h0.9v0.9h-0.9zM145.6 190.2h0.9v0.9h-0.9zM143.4 206.4h0.9v0.9h-0.9zM134.9 188.3h0.9v0.9h-0.9zM147.9 194.7h0.9v0.9h-0.9zM143.0 187.2h0.9v0.9h-0.9zM154.3 203.8h0.9v0.9h-0.9zM142.1 196.1h0.9v0.9h-0.9zM118.8 195.8h0.9v0.9h-0.9zM135.3 194.3h0.9v0.9h-0.9zM143.1 188.4h0.9v0.9h-0.9zM121.8 193.8h0.9v0.9h-0.9zM130.3 188.5h0.9v0.9h-0.9zM131.6 188.4h0.9v0.9h-0.9zM116.2 200.1h0.9v0.9h-0.9zM139.3 199.3h0.9v0.9h-0.9zM154.8 191.2h0.9v0.9h-0.9zM120.8 184.3h0.9v0.9h-0.9zM126.1 187.2h0.9v0.9h-0.9zM137.7 176.0h0.9v0.9h-0.9zM140.1 179.7h0.9v0.9h-0.9zM139.7 190.2h0.9v0.9h-0.9zM134.2 190.5h0.9v0.9h-0.9zM132.1 186.4h0.9v0.9h-0.9zM121.9 190.8h0.9v0.9h-0.9zM153.6 205.9h0.9v0.9h-0.9zM148.9 196.3h0.9v0.9h-0.9zM130.9 201.8h0.9v0.9h-0.9zM136.5 190.5h0.9v0.9h-0.9zM134.4 191.7h0.9v0.9h-0.9zM133.1 190.4h0.9v0.9h-0.9zM127.2 188.2h0.9v0.9h-0.9zM157.5 190.5h0.9v0.9h-0.9zM134.9 195.0h0.9v0.9h-0.9zM143.4 182.6h0.9v0.9h-0.9zM135.1 197.9h0.9v0.9h-0.9zM139.4 191.9h0.9v0.9h-0.9zM151.0 185.9h0.9v0.9h-0.9zM137.7 187.1h0.9v0.9h-0.9zM150.4 176.4h0.9v0.9h-0.9zM131.0 187.0h0.9v0.9h-0.9zM143.0 195.5h0.9v0.9h-0.9zM149.6 179.2h0.9v0.9h-0.9zM143.8 188.8h0.9v0.9h-0.9zM131.0 195.0h0.9v0.9h-0.9zM133.7 179.8h0.9v0.9h-0.9zM131.2 193.8h0.9v0.9h-0.9zM139.8 202.9h0.9v0.9h-0.9zM135.2 179.5h0.9v0.9h-0.9zM130.2 184.1h0.9v0.9h-0.9zM126.0 194.3h0.9v0.9h-0.9zM131.2 176.2h0.9v0.9h-0.9zM143.3 190.2h0.9v0.9h-0.9zM140.2 191.8h0.9v0.9h-0.9zM142.7 191.3h0.9v0.9h-0.9zM148.1 194.2h0.9v0.9h-0.9zM140.5 194.1h0.9v0.9h-0.9zM123.9 189.8h0.9v0.9h-0.9zM134.7 192.6h0.9v0.9h-0.9zM124.8 203.3h0.9v0.9h-0.9zM137.9 181.9h0.9v0.9h-0.9zM121.6 188.9h0.9v0.9h-0.9zM136.2 185.6h0.9v0.9h-0.9zM137.8 186.2h0.9v0.9h-0.9zM142.0 185.6h0.9v0.9h-0.9zM136.7 198.3h0.9v0.9h-0.9zM160.1 183.4h0.9v0.9h-0.9zM132.8 184.7h0.9v0.9h-0.9zM144.1 182.4h0.9v0.9h-0.9zM132.6 190.8h0.9v0.9h-0.9zM128.2 183.8h0.9v0.9h-0.9zM124.0 187.9h0.9v0.9h-0.9zM138.3 189.6h0.9v0.9h-0.9zM121.0 187.5h0.9v0.9h-0.9zM144.2 195.2h0.9v0.9h-0.9zM136.3 184.3h0.9v0.9h-0.9zM142.7 186.7h0.9v0.9h-0.9zM126.5 185.0h0.9v0.9h-0.9zM150.0 192.7h0.9v0.9h-0.9zM147.4 187.4h0.9v0.9h-0.9zM145.4 186.5h0.9v0.9h-0.9zM135.6 209.6h0.9v0.9h-0.9zM143.9 187.2h0.9v0.9h-0.9zM136.2 193.4h0.9v0.9h-0.9zM147.9 187.3h0.9v0.9h-0.9zM121.3 188.9h0.9v0.9h-0.9zM137.1 191.8h0.9v0.9h-0.9zM148.9 193.4h0.9v0.9h-0.9zM144.3 182.7h0.9v0.9h-0.9zM144.8 206.7h0.9v0.9h-0.9zM144.0 192.9h0.9v0.9h-0.9zM138.4 204.4h0.9v0.9h-0.9zM128.7 190.2h0.9v0.9h-0.9zM141.1 196.6h0.9v0.9h-0.9zM133.1 193.3h0.9v0.9h-0.9zM134.5 191.9h0.9v0.9h-0.9zM135.8 182.4h0.9v0.9h-0.9zM136.8 197.6h0.9v0.9h-0.9zM128.3 189.2h0.9v0.9h-0.9zM143.0 183.0h0.9v0.9h-0.9zM138.6 183.0h0.9v0.9h-0.9zM147.2 208.3h0.9v0.9h-0.9zM155.2 189.4h0.9v0.9h-0.9zM143.7 191.9h0.9v0.9h-0.9zM137.9 202.6h0.9v0.9h-0.9zM125.1 198.9h0.9v0.9h-0.9zM136.6 201.6h0.9v0.9h-0.9zM138.7 186.0h0.9v0.9h-0.9zM139.5 196.5h0.9v0.9h-0.9zM137.3 194.7h0.9v0.9h-0.9zM145.1 196.2h0.9v0.9h-0.9zM138.3 191.5h0.9v0.9h-0.9zM146.3 187.6h0.9v0.9h-0.9zM130.6 189.6h0.9v0.9h-0.9zM147.7 180.6h0.9v0.9h-0.9zM147.7 186.2h0.9v0.9h-0.9zM127.1 200.5h0.9v0.9h-0.9zM136.1 181.2h0.9v0.9h-0.9zM133.8 198.0h0.9v0.9h-0.9zM147.7 187.8h0.9v0.9h-0.9zM140.7 196.4h0.9v0.9h-0.9zM131.2 193.7h0.9v0.9h-0.9zM136.7 187.0h0.9v0.9h-0.9zM132.6 191.5h0.9v0.9h-0.9zM137.3 186.8h0.9v0.9h-0.9zM133.2 199.4h0.9v0.9h-0.9zM138.9 197.6h0.9v0.9h-0.9zM147.8 195.4h0.9v0.9h-0.9zM157.4 184.8h0.9v0.9h-0.9zM144.3 188.6h0.9v0.9h-0.9zM153.7 203.8h0.9v0.9h-0.9zM119.4 183.7h0.9v0.9h-0.9zM143.0 196.9h0.9v0.9h-0.9zM143.6 190.5h0.9v0.9h-0.9zM141.1 195.9h0.9v0.9h-0.9zM136.3 198.7h0.9v0.9h-0.9zM116.7 195.8h0.9v0.9h-0.9zM127.7 198.2h0.9v0.9h-0.9zM134.9 184.3h0.9v0.9h-0.9zM140.4 184.2h0.9v0.9h-0.9zM128.8 179.2h0.9v0.9h-0.9zM136.8 194.7h0.9v0.9h-0.9zM146.2 189.9h0.9v0.9h-0.9zM146.4 191.1h0.9v0.9h-0.9zM136.2 195.3h0.9v0.9h-0.9zM146.5 188.4h0.9v0.9h-0.9zM134.8 189.8h0.9v0.9h-0.9zM137.7 184.2h0.9v0.9h-0.9zM146.3 188.0h0.9v0.9h-0.9zM141.2 184.8h0.9v0.9h-0.9zM140.2 193.9h0.9v0.9h-0.9zM133.2 206.2h0.9v0.9h-0.9zM140.3 204.3h0.9v0.9h-0.9zM145.6 186.0h0.9v0.9h-0.9zM133.6 194.3h0.9v0.9h-0.9zM137.6 191.4h0.9v0.9h-0.9zM134.4 177.4h0.9v0.9h-0.9zM140.3 185.6h0.9v0.9h-0.9zM130.6 189.4h0.9v0.9h-0.9zM139.5 180.3h0.9v0.9h-0.9zM121.3 183.0h0.9v0.9h-0.9zM118.6 183.7h0.9v0.9h-0.9zM151.3 183.1h0.9v0.9h-0.9zM142.9 180.7h0.9v0.9h-0.9zM139.7 188.6h0.9v0.9h-0.9zM136.5 195.3h0.9v0.9h-0.9zM152.8 192.5h0.9v0.9h-0.9zM138.1 183.7h0.9v0.9h-0.9zM142.3 189.2h0.9v0.9h-0.9z" fill="#6a6aff" opacity="0.5"/>
<path d="M150.8 193.6h0.9v0.9h-0.9zM136.1 202.8h0.9v0.9h-0.9zM135.4 186.1h0.9v0.9h-0.9zM136.5 180.2h0.9v0.9h-0.9zM141.5 218.4h0.9v0.9h-0.9zM154.9 182.9h0.9v0.9h-0.9zM128.6 190.0h0.9v0.9h-0.9zM153.1 185.8h0.9v0.9h-0.9zM131.0 202.8h0.9v0.9h-0.9zM151.2 190.3h0.9v0.9h-0.9zM125.5 178.5h0.9v0.9h-0.9zM149.7 187.7h0.9v0.9h-0.9zM146.3 212.7h0.9v0.9h-0.9zM155.2 182.5h0.9v0.9h-0.9zM151.3 205.6h0.9v0.9h-0.9zM130.3 184.5h0.9v0.9h-0.9zM138.6 178.0h0.9v0.9h-0.9zM125.6 191.3h0.9v0.9h-0.9zM137.0 195.7h0.9v0.9h-0.9zM143.5 191.9h0.9v0.9h-0.9zM140.0 186.9h0.9v0.9h-0.9zM141.7 196.2h0.9v0.9h-0.9zM128.1 187.6h0.9v0.9h-0.9zM150.3 197.5h0.9v0.9h-0.9zM131.2 214.4h0.9v0.9h-0.9zM143.9 219.1h0.9v0.9h-0.9zM150.2 196.2h0.9v0.9h-0.9zM137.3 188.6h0.9v0.9h-0.9zM137.2 188.5h0.9v0.9h-0.9zM149.7 190.0h0.9v0.9h-0.9zM134.3 182.0h0.9v0.9h-0.9zM139.4 185.1h0.9v0.9h-0.9zM137.7 204.4h0.9v0.9h-0.9zM144.8 199.0h0.9v0.9h-0.9zM144.6 194.6h0.9v0.9h-0.9zM138.3 190.9h0.9v0.9h-0.9zM149.9 183.2h0.9v0.9h-0.9zM157.4 194.3h0.9v0.9h-0.9zM130.3 189.1h0.9v0.9h-0.9zM131.2 195.6h0.9v0.9h-0.9zM130.7 205.4h0.9v0.9h-0.9zM139.5 204.6h0.9v0.9h-0.9zM148.4 180.6h0.9v0.9h-0.9zM130.1 211.8h0.9v0.9h-0.9zM144.1 194.0h0.9v0.9h-0.9zM153.7 218.5h0.9v0.9h-0.9zM156.9 195.4h0.9v0.9h-0.9zM144.6 200.2h0.9v0.9h-0.9zM132.0 183.4h0.9v0.9h-0.9zM140.7 184.5h0.9v0.9h-0.9zM139.2 195.0h0.9v0.9h-0.9zM138.4 192.4h0.9v0.9h-0.9zM145.7 204.5h0.9v0.9h-0.9zM133.6 185.8h0.9v0.9h-0.9zM118.7 184.7h0.9v0.9h-0.9zM147.0 194.5h0.9v0.9h-0.9zM126.8 190.3h0.9v0.9h-0.9zM140.4 199.0h0.9v0.9h-0.9zM132.3 191.5h0.9v0.9h-0.9zM116.4 182.5h0.9v0.9h-0.9zM135.6 196.2h0.9v0.9h-0.9zM135.1 185.9h0.9v0.9h-0.9zM139.2 194.0h0.9v0.9h-0.9zM138.1 185.4h0.9v0.9h-0.9zM132.9 196.3h0.9v0.9h-0.9zM148.3 203.0h0.9v0.9h-0.9zM133.5 203.2h0.9v0.9h-0.9zM155.3 205.4h0.9v0.9h-0.9zM158.1 192.5h0.9v0.9h-0.9zM137.7 202.3h0.9v0.9h-0.9zM122.2 196.1h0.9v0.9h-0.9zM133.1 190.3h0.9v0.9h-0.9zM117.4 185.1h0.9v0.9h-0.9zM139.7 202.9h0.9v0.9h-0.9zM152.9 193.2h0.9v0.9h-0.9zM137.5 185.7h0.9v0.9h-0.9zM145.2 191.5h0.9v0.9h-0.9zM147.9 211.5h0.9v0.9h-0.9zM139.6 179.0h0.9v0.9h-0.9zM128.8 179.4h0.9v0.9h-0.9zM124.4 207.1h0.9v0.9h-0.9zM142.9 178.8h0.9v0.9h-0.9zM148.5 206.6h0.9v0.9h-0.9zM135.3 187.2h0.9v0.9h-0.9zM135.6 196.8h0.9v0.9h-0.9zM148.3 205.8h0.9v0.9h-0.9zM155.8 205.9h0.9v0.9h-0.9zM157.7 200.6h0.9v0.9h-0.9zM120.1 192.7h0.9v0.9h-0.9zM144.1 190.2h0.9v0.9h-0.9zM151.8 190.4h0.9v0.9h-0.9zM128.0 208.4h0.9v0.9h-0.9zM148.7 196.2h0.9v0.9h-0.9zM152.0 204.6h0.9v0.9h-0.9zM131.2 189.4h0.9v0.9h-0.9zM127.2 196.0h0.9v0.9h-0.9zM155.5 189.2h0.9v0.9h-0.9zM125.2 214.3h0.9v0.9h-0.9zM134.1 181.7h0.9v0.9h-0.9zM143.1 198.3h0.9v0.9h-0.9zM130.8 201.9h0.9v0.9h-0.9zM133.7 184.8h0.9v0.9h-0.9zM142.3 201.7h0.9v0.9h-0.9zM131.8 197.3h0.9v0.9h-0.9zM138.8 222.2h0.9v0.9h-0.9zM130.8 207.8h0.9v0.9h-0.9zM139.3 192.7h0.9v0.9h-0.9zM149.4 202.9h0.9v0.9h-0.9zM156.5 197.3h0.9v0.9h-0.9zM132.2 188.6h0.9v0.9h-0.9zM146.6 199.8h0.9v0.9h-0.9zM158.2 198.2h0.9v0.9h-0.9zM153.8 209.2h0.9v0.9h-0.9zM142.1 179.1h0.9v0.9h-0.9zM124.7 179.6h0.9v0.9h-0.9zM160.7 185.5h0.9v0.9h-0.9zM156.0 199.9h0.9v0.9h-0.9zM162.3 204.0h0.9v0.9h-0.9zM138.7 192.0h0.9v0.9h-0.9zM141.1 195.8h0.9v0.9h-0.9zM133.1 193.7h0.9v0.9h-0.9zM160.9 177.0h0.9v0.9h-0.9zM143.4 184.9h0.9v0.9h-0.9zM142.4 202.4h0.9v0.9h-0.9zM139.3 201.7h0.9v0.9h-0.9zM119.3 205.1h0.9v0.9h-0.9zM132.2 200.2h0.9v0.9h-0.9zM130.2 196.2h0.9v0.9h-0.9zM160.2 196.9h0.9v0.9h-0.9zM143.4 179.9h0.9v0.9h-0.9zM158.6 212.1h0.9v0.9h-0.9zM140.4 191.8h0.9v0.9h-0.9zM119.0 202.8h0.9v0.9h-0.9zM156.4 199.4h0.9v0.9h-0.9zM127.2 207.4h0.9v0.9h-0.9zM124.0 191.9h0.9v0.9h-0.9zM143.6 202.8h0.9v0.9h-0.9zM145.4 197.9h0.9v0.9h-0.9zM130.1 181.1h0.9v0.9h-0.9zM140.8 186.9h0.9v0.9h-0.9zM123.0 181.3h0.9v0.9h-0.9zM122.5 177.6h0.9v0.9h-0.9zM142.4 198.1h0.9v0.9h-0.9zM131.2 203.1h0.9v0.9h-0.9zM137.2 190.7h0.9v0.9h-0.9z" fill="#8888ff" opacity="0.4"/>
<path d="M121.4 190.3h0.9v0.9h-0.9zM95.6 179.5h0.9v0.9h-0.9zM109.0 197.4h0.9v0.9h-0.9zM93.7 183.2h0.9v0.9h-0.9zM110.8 200.3h0.9v0.9h-0.9zM100.2 200.8h0.9v0.9h-0.9zM103.2 198.6h0.9v0.9h-0.9zM103.5 202.3h0.9v0.9h-0.9zM129.5 181.6h0.9v0.9h-0.9zM114.6 207.6h0.9v0.9h-0.9zM114.8 195.6h0.9v0.9h-0.9zM95.5 200.9h0.9v0.9h-0.9zM131.5 201.8h0.9v0.9h-0.9zM122.4 184.0h0.9v0.9h-0.9zM119.2 211.5h0.9v0.9h-0.9zM120.0 193.8h0.9v0.9h-0.9zM95.2 192.0h0.9v0.9h-0.9zM106.8 183.1h0.9v0.9h-0.9zM104.5 192.8h0.9v0.9h-0.9zM123.4 208.3h0.9v0.9h-0.9zM105.6 207.3h0.9v0.9h-0.9zM99.0 190.3h0.9v0.9h-0.9zM114.2 180.3h0.9v0.9h-0.9zM103.5 179.5h0.9v0.9h-0.9zM107.1 212.0h0.9v0.9h-0.9zM99.2 196.5h0.9v0.9h-0.9zM97.9 181.4h0.9v0.9h-0.9zM94.9 210.0h0.9v0.9h-0.9zM127.3 199.3h0.9v0.9h-0.9zM99.6 201.8h0.9v0.9h-0.9zM103.0 202.8h0.9v0.9h-0.9zM108.6 197.1h0.9v0.9h-0.9zM111.5 187.6h0.9v0.9h-0.9zM102.0 178.4h0.9v0.9h-0.9zM104.7 183.5h0.9v0.9h-0.9zM106.9 199.0h0.9v0.9h-0.9zM93.2 185.1h0.9v0.9h-0.9zM97.5 202.2h0.9v0.9h-0.9zM121.4 203.4h0.9v0.9h-0.9zM102.9 210.1h0.9v0.9h-0.9zM92.4 210.5h0.9v0.9h-0.9zM129.9 211.4h0.9v0.9h-0.9zM96.7 195.9h0.9v0.9h-0.9zM104.1 195.1h0.9v0.9h-0.9zM92.7 186.5h0.9v0.9h-0.9zM110.2 196.4h0.9v0.9h-0.9zM116.8 194.9h0.9v0.9h-0.9zM127.1 186.1h0.9v0.9h-0.9zM94.7 208.6h0.9v0.9h-0.9zM97.5 199.8h0.9v0.9h-0.9zM105.4 182.5h0.9v0.9h-0.9zM102.9 188.3h0.9v0.9h-0.9zM101.6 202.3h0.9v0.9h-0.9zM111.9 187.6h0.9v0.9h-0.9zM97.8 197.1h0.9v0.9h-0.9zM105.1 205.3h0.9v0.9h-0.9zM129.9 203.3h0.9v0.9h-0.9zM105.7 192.1h0.9v0.9h-0.9zM98.3 184.0h0.9v0.9h-0.9zM97.0 189.7h0.9v0.9h-0.9zM102.2 202.2h0.9v0.9h-0.9zM102.4 191.8h0.9v0.9h-0.9zM95.0 212.1h0.9v0.9h-0.9zM110.6 213.7h0.9v0.9h-0.9zM113.2 210.4h0.9v0.9h-0.9zM103.8 201.9h0.9v0.9h-0.9zM130.3 180.5h0.9v0.9h-0.9zM116.6 212.7h0.9v0.9h-0.9zM109.8 202.4h0.9v0.9h-0.9zM117.5 186.6h0.9v0.9h-0.9zM109.8 184.2h0.9v0.9h-0.9zM99.8 187.1h0.9v0.9h-0.9zM104.7 195.6h0.9v0.9h-0.9zM110.2 178.0h0.9v0.9h-0.9zM124.2 207.0h0.9v0.9h-0.9zM112.7 190.0h0.9v0.9h-0.9zM105.2 200.2h0.9v0.9h-0.9zM112.8 226.9h0.9v0.9h-0.9zM109.4 192.7h0.9v0.9h-0.9zM118.7 180.7h0.9v0.9h-0.9zM107.5 210.5h0.9v0.9h-0.9zM104.2 189.3h0.9v0.9h-0.9zM107.1 189.0h0.9v0.9h-0.9zM120.3 183.7h0.9v0.9h-0.9zM114.1 179.8h0.9v0.9h-0.9zM112.2 192.8h0.9v0.9h-0.9zM96.1 189.0h0.9v0.9h-0.9zM120.2 181.4h0.9v0.9h-0.9zM96.2 210.3h0.9v0.9h-0.9zM107.1 211.4h0.9v0.9h-0.9zM109.0 184.0h0.9v0.9h-0.9zM105.4 207.9h0.9v0.9h-0.9zM114.7 194.0h0.9v0.9h-0.9zM106.5 192.7h0.9v0.9h-0.9zM100.6 215.8h0.9v0.9h-0.9zM106.1 181.2h0.9v0.9h-0.9zM101.6 202.2h0.9v0.9h-0.9zM111.9 192.4h0.9v0.9h-0.9zM99.8 194.3h0.9v0.9h-0.9zM113.4 188.6h0.9v0.9h-0.9zM109.5 207.8h0.9v0.9h-0.9zM112.0 194.2h0.9v0.9h-0.9zM125.7 201.6h0.9v0.9h-0.9zM102.7 202.3h0.9v0.9h-0.9zM109.8 184.3h0.9v0.9h-0.9zM106.7 192.1h0.9v0.9h-0.9zM103.4 189.0h0.9v0.9h-0.9z" fill="#5050ff" opacity="0.4"/>
<defs><radialGradient id="g1" cx="0.5" cy="0.5" r="0.5"><stop offset="0" stop-color="#c00000"/><stop offset="0.12" stop-color="#e00000"/><stop offset="0.22" stop-color="#ff2000"/><stop offset="0.27" stop-color="#ff6000"/><stop offset="0.31" stop-color="#ffb000"/><stop offset="0.35" stop-color="#ffe800"/><stop offset="0.39" stop-color="#d8ff18"/><stop offset="0.46" stop-color="#a8ff38"/><stop offset="0.55" stop-color="#80ff50"/><stop offset="0.61" stop-color="#60ff78"/><stop offset="0.66" stop-color="#40ffc0"/><stop offset="0.71" stop-color="#30f0f8"/><stop offset="0.77" stop-color="#20b8ff"/><stop offset="0.83" stop-color="#1078ff"/><stop offset="0.88" stop-color="#0840ff"/><stop offset="0.94" stop-color="#0010ff"/><stop offset="1" stop-color="#0008ff"/></radialGradient></defs>
<defs><filter id="fg1" x="-30%" y="-30%" width="160%" height="160%"><feGaussianBlur stdDeviation="0.7"/></filter></defs>
<path d="M99.9 206.4h0.9v0.9h-0.9zM99.3 203.6h0.9v0.9h-0.9zM102.8 177.7h0.9v0.9h-0.9zM107.9 209.9h0.9v0.9h-0.9zM96.3 198.5h0.9v0.9h-0.9zM93.9 179.3h0.9v0.9h-0.9zM109.4 175.8h0.9v0.9h-0.9zM116.9 177.4h0.9v0.9h-0.9zM115.5 194.3h0.9v0.9h-0.9zM106.8 177.8h0.9v0.9h-0.9zM112.9 200.9h0.9v0.9h-0.9zM119.8 183.8h0.9v0.9h-0.9zM107.1 211.4h0.9v0.9h-0.9zM113.6 199.8h0.9v0.9h-0.9zM104.0 211.4h0.9v0.9h-0.9zM114.6 177.6h0.9v0.9h-0.9zM102.0 209.9h0.9v0.9h-0.9zM101.6 206.9h0.9v0.9h-0.9zM101.1 209.6h0.9v0.9h-0.9zM96.6 176.1h0.9v0.9h-0.9zM93.7 188.3h0.9v0.9h-0.9zM112.2 204.6h0.9v0.9h-0.9zM117.0 177.4h0.9v0.9h-0.9zM119.0 191.0h0.9v0.9h-0.9zM116.7 200.7h0.9v0.9h-0.9zM114.1 199.1h0.9v0.9h-0.9zM115.1 175.9h0.9v0.9h-0.9zM116.3 176.1h0.9v0.9h-0.9zM119.8 185.6h0.9v0.9h-0.9zM97.1 203.3h0.9v0.9h-0.9zM118.9 192.2h0.9v0.9h-0.9zM93.8 176.6h0.9v0.9h-0.9zM116.4 193.0h0.9v0.9h-0.9zM110.8 177.4h0.9v0.9h-0.9zM92.8 180.9h0.9v0.9h-0.9zM91.6 184.7h0.9v0.9h-0.9zM118.6 178.2h0.9v0.9h-0.9zM115.1 201.8h0.9v0.9h-0.9zM121.4 184.6h0.9v0.9h-0.9zM95.2 177.4h0.9v0.9h-0.9zM94.2 192.1h0.9v0.9h-0.9zM108.9 176.7h0.9v0.9h-0.9zM118.0 190.3h0.9v0.9h-0.9zM120.7 186.3h0.9v0.9h-0.9zM107.6 177.2h0.9v0.9h-0.9zM106.8 211.1h0.9v0.9h-0.9zM99.0 203.5h0.9v0.9h-0.9zM99.9 204.4h0.9v0.9h-0.9zM103.6 213.0h0.9v0.9h-0.9zM92.0 180.4h0.9v0.9h-0.9zM112.5 177.3h0.9v0.9h-0.9zM114.6 199.3h0.9v0.9h-0.9zM103.6 209.1h0.9v0.9h-0.9zM120.3 186.8h0.9v0.9h-0.9zM118.0 192.8h0.9v0.9h-0.9zM96.7 197.8h0.9v0.9h-0.9zM94.2 180.4h0.9v0.9h-0.9zM116.4 177.7h0.9v0.9h-0.9zM119.0 177.4h0.9v0.9h-0.9zM93.3 182.8h0.9v0.9h-0.9zM112.8 176.7h0.9v0.9h-0.9zM95.1 178.6h0.9v0.9h-0.9zM119.7 190.1h0.9v0.9h-0.9zM107.5 209.3h0.9v0.9h-0.9zM105.5 175.9h0.9v0.9h-0.9zM95.0 198.3h0.9v0.9h-0.9zM110.0 176.4h0.9v0.9h-0.9zM103.5 208.7h0.9v0.9h-0.9zM95.5 194.6h0.9v0.9h-0.9zM110.3 176.4h0.9v0.9h-0.9zM101.2 207.1h0.9v0.9h-0.9zM97.1 197.9h0.9v0.9h-0.9zM115.1 176.5h0.9v0.9h-0.9zM100.0 176.9h0.9v0.9h-0.9zM111.0 205.1h0.9v0.9h-0.9zM114.9 198.2h0.9v0.9h-0.9zM117.3 196.5h0.9v0.9h-0.9zM98.8 202.6h0.9v0.9h-0.9zM116.5 194.4h0.9v0.9h-0.9zM114.7 197.4h0.9v0.9h-0.9zM116.5 196.9h0.9v0.9h-0.9zM116.6 192.8h0.9v0.9h-0.9zM118.0 189.0h0.9v0.9h-0.9zM120.5 178.3h0.9v0.9h-0.9zM116.4 177.2h0.9v0.9h-0.9zM99.5 202.3h0.9v0.9h-0.9zM101.1 176.9h0.9v0.9h-0.9zM111.1 176.1h0.9v0.9h-0.9zM114.5 200.0h0.9v0.9h-0.9zM122.3 178.8h0.9v0.9h-0.9zM113.8 177.6h0.9v0.9h-0.9zM120.5 186.4h0.9v0.9h-0.9zM116.6 198.5h0.9v0.9h-0.9zM105.4 211.3h0.9v0.9h-0.9zM93.7 185.4h0.9v0.9h-0.9zM93.0 198.1h0.9v0.9h-0.9zM118.2 191.5h0.9v0.9h-0.9zM117.2 193.9h0.9v0.9h-0.9zM117.9 190.0h0.9v0.9h-0.9zM114.9 175.9h0.9v0.9h-0.9zM97.9 177.9h0.9v0.9h-0.9zM110.8 176.0h0.9v0.9h-0.9zM106.7 212.7h0.9v0.9h-0.9zM111.1 205.3h0.9v0.9h-0.9zM118.0 176.9h0.9v0.9h-0.9zM94.0 189.0h0.9v0.9h-0.9zM119.6 189.1h0.9v0.9h-0.9zM110.9 206.0h0.9v0.9h-0.9zM99.3 176.9h0.9v0.9h-0.9zM94.2 193.0h0.9v0.9h-0.9zM100.5 176.5h0.9v0.9h-0.9zM118.8 188.0h0.9v0.9h-0.9zM93.2 193.8h0.9v0.9h-0.9zM92.3 188.5h0.9v0.9h-0.9zM91.8 192.3h0.9v0.9h-0.9zM95.0 199.4h0.9v0.9h-0.9zM113.7 176.8h0.9v0.9h-0.9zM94.0 179.1h0.9v0.9h-0.9zM118.1 193.8h0.9v0.9h-0.9zM96.6 176.2h0.9v0.9h-0.9zM93.0 186.8h0.9v0.9h-0.9zM93.8 181.7h0.9v0.9h-0.9zM120.5 180.8h0.9v0.9h-0.9zM110.7 176.4h0.9v0.9h-0.9zM92.9 180.6h0.9v0.9h-0.9zM116.2 197.8h0.9v0.9h-0.9zM98.2 176.8h0.9v0.9h-0.9zM95.1 192.4h0.9v0.9h-0.9zM104.5 209.7h0.9v0.9h-0.9zM119.7 185.5h0.9v0.9h-0.9zM97.0 197.4h0.9v0.9h-0.9zM97.2 201.8h0.9v0.9h-0.9zM121.3 182.0h0.9v0.9h-0.9zM96.5 196.6h0.9v0.9h-0.9zM94.9 189.0h0.9v0.9h-0.9zM111.1 208.7h0.9v0.9h-0.9zM118.9 184.2h0.9v0.9h-0.9zM95.9 191.4h0.9v0.9h-0.9zM94.3 188.0h0.9v0.9h-0.9zM120.2 183.2h0.9v0.9h-0.9zM98.2 176.0h0.9v0.9h-0.9zM96.6 195.9h0.9v0.9h-0.9zM107.1 211.5h0.9v0.9h-0.9zM113.2 176.8h0.9v0.9h-0.9zM112.9 203.7h0.9v0.9h-0.9zM120.5 178.3h0.9v0.9h-0.9zM92.8 190.7h0.9v0.9h-0.9zM120.4 183.1h0.9v0.9h-0.9zM109.5 176.9h0.9v0.9h-0.9zM93.3 176.3h0.9v0.9h-0.9zM119.2 183.5h0.9v0.9h-0.9zM92.8 183.1h0.9v0.9h-0.9zM111.9 176.6h0.9v0.9h-0.9zM117.6 194.3h0.9v0.9h-0.9zM91.4 185.0h0.9v0.9h-0.9zM118.8 177.9h0.9v0.9h-0.9zM97.4 199.3h0.9v0.9h-0.9zM100.2 177.0h0.9v0.9h-0.9zM92.4 190.6h0.9v0.9h-0.9zM97.3 198.5h0.9v0.9h-0.9zM112.0 206.8h0.9v0.9h-0.9zM114.5 204.2h0.9v0.9h-0.9zM103.3 211.4h0.9v0.9h-0.9zM121.4 179.1h0.9v0.9h-0.9zM119.1 186.6h0.9v0.9h-0.9zM114.5 176.7h0.9v0.9h-0.9zM119.0 177.8h0.9v0.9h-0.9zM108.2 176.0h0.9v0.9h-0.9zM93.4 191.7h0.9v0.9h-0.9zM94.6 194.0h0.9v0.9h-0.9zM119.3 184.7h0.9v0.9h-0.9zM103.8 209.3h0.9v0.9h-0.9zM116.6 197.5h0.9v0.9h-0.9zM117.6 177.7h0.9v0.9h-0.9zM119.7 183.3h0.9v0.9h-0.9zM92.3 185.7h0.9v0.9h-0.9zM120.7 182.2h0.9v0.9h-0.9zM114.1 206.2h0.9v0.9h-0.9zM92.7 187.2h0.9v0.9h-0.9zM119.2 178.4h0.9v0.9h-0.9zM97.4 201.4h0.9v0.9h-0.9zM101.4 175.8h0.9v0.9h-0.9zM100.1 207.4h0.9v0.9h-0.9zM96.0 201.6h0.9v0.9h-0.9zM96.7 197.5h0.9v0.9h-0.9zM92.9 185.4h0.9v0.9h-0.9zM102.7 208.8h0.9v0.9h-0.9zM92.9 184.5h0.9v0.9h-0.9zM117.5 177.2h0.9v0.9h-0.9zM115.0 200.0h0.9v0.9h-0.9zM99.1 176.8h0.9v0.9h-0.9zM116.8 192.0h0.9v0.9h-0.9zM101.7 209.0h0.9v0.9h-0.9zM98.8 203.4h0.9v0.9h-0.9zM92.6 180.9h0.9v0.9h-0.9zM93.3 188.0h0.9v0.9h-0.9zM114.5 176.1h0.9v0.9h-0.9zM118.9 177.1h0.9v0.9h-0.9zM97.5 198.1h0.9v0.9h-0.9zM94.3 193.2h0.9v0.9h-0.9zM100.6 208.2h0.9v0.9h-0.9zM120.9 182.0h0.9v0.9h-0.9zM116.2 195.1h0.9v0.9h-0.9zM97.5 198.7h0.9v0.9h-0.9zM120.2 183.6h0.9v0.9h-0.9zM97.8 201.3h0.9v0.9h-0.9zM99.1 203.0h0.9v0.9h-0.9zM117.1 195.2h0.9v0.9h-0.9zM92.8 193.4h0.9v0.9h-0.9zM121.3 187.5h0.9v0.9h-0.9zM100.3 206.7h0.9v0.9h-0.9zM108.0 208.8h0.9v0.9h-0.9zM120.9 182.1h0.9v0.9h-0.9zM113.8 200.0h0.9v0.9h-0.9zM111.6 207.6h0.9v0.9h-0.9zM114.2 201.6h0.9v0.9h-0.9zM101.7 176.3h0.9v0.9h-0.9zM93.8 183.6h0.9v0.9h-0.9zM93.0 185.7h0.9v0.9h-0.9zM94.6 178.8h0.9v0.9h-0.9zM93.1 188.0h0.9v0.9h-0.9zM113.7 199.8h0.9v0.9h-0.9zM102.8 177.3h0.9v0.9h-0.9zM97.7 200.3h0.9v0.9h-0.9zM118.0 191.6h0.9v0.9h-0.9zM101.8 209.2h0.9v0.9h-0.9zM95.5 199.5h0.9v0.9h-0.9zM114.2 200.8h0.9v0.9h-0.9zM93.8 176.0h0.9v0.9h-0.9zM95.8 199.2h0.9v0.9h-0.9zM104.2 210.3h0.9v0.9h-0.9zM93.4 192.1h0.9v0.9h-0.9zM118.1 175.8h0.9v0.9h-0.9zM99.7 202.8h0.9v0.9h-0.9zM95.2 195.0h0.9v0.9h-0.9zM120.1 184.0h0.9v0.9h-0.9zM119.3 190.0h0.9v0.9h-0.9zM120.1 182.1h0.9v0.9h-0.9zM94.2 182.6h0.9v0.9h-0.9zM113.5 177.4h0.9v0.9h-0.9zM119.9 181.7h0.9v0.9h-0.9zM98.1 205.9h0.9v0.9h-0.9zM118.0 190.7h0.9v0.9h-0.9zM112.4 204.5h0.9v0.9h-0.9zM118.7 177.5h0.9v0.9h-0.9zM121.0 184.7h0.9v0.9h-0.9zM98.9 206.1h0.9v0.9h-0.9zM117.3 194.6h0.9v0.9h-0.9zM111.3 205.7h0.9v0.9h-0.9zM118.9 191.2h0.9v0.9h-0.9zM113.1 203.0h0.9v0.9h-0.9zM92.6 193.1h0.9v0.9h-0.9zM116.3 178.2h0.9v0.9h-0.9zM114.5 199.6h0.9v0.9h-0.9zM103.3 211.4h0.9v0.9h-0.9zM98.4 177.5h0.9v0.9h-0.9zM93.7 186.5h0.9v0.9h-0.9zM115.3 197.6h0.9v0.9h-0.9zM98.4 205.6h0.9v0.9h-0.9zM97.0 199.9h0.9v0.9h-0.9zM109.0 208.5h0.9v0.9h-0.9zM94.7 190.4h0.9v0.9h-0.9zM99.7 177.5h0.9v0.9h-0.9zM113.6 200.0h0.9v0.9h-0.9zM100.8 206.4h0.9v0.9h-0.9zM93.9 190.2h0.9v0.9h-0.9zM110.6 210.7h0.9v0.9h-0.9zM110.3 206.0h0.9v0.9h-0.9zM120.5 187.6h0.9v0.9h-0.9zM112.4 203.9h0.9v0.9h-0.9zM113.0 201.6h0.9v0.9h-0.9zM93.5 193.0h0.9v0.9h-0.9zM96.1 199.4h0.9v0.9h-0.9zM101.8 206.3h0.9v0.9h-0.9zM94.5 190.2h0.9v0.9h-0.9zM96.9 177.4h0.9v0.9h-0.9zM99.3 204.3h0.9v0.9h-0.9zM116.4 194.9h0.9v0.9h-0.9zM100.0 206.0h0.9v0.9h-0.9zM117.8 178.8h0.9v0.9h-0.9zM118.7 195.1h0.9v0.9h-0.9zM96.1 198.9h0.9v0.9h-0.9zM93.7 178.4h0.9v0.9h-0.9zM119.3 176.9h0.9v0.9h-0.9zM117.6 197.4h0.9v0.9h-0.9zM95.7 196.8h0.9v0.9h-0.9zM97.7 198.6h0.9v0.9h-0.9zM114.2 177.3h0.9v0.9h-0.9zM118.9 179.5h0.9v0.9h-0.9zM113.2 202.7h0.9v0.9h-0.9zM107.4 210.4h0.9v0.9h-0.9zM95.3 193.9h0.9v0.9h-0.9zM95.1 194.0h0.9v0.9h-0.9zM114.9 176.9h0.9v0.9h-0.9zM99.9 206.3h0.9v0.9h-0.9zM108.5 209.8h0.9v0.9h-0.9zM119.8 187.8h0.9v0.9h-0.9zM98.5 204.4h0.9v0.9h-0.9zM93.5 192.8h0.9v0.9h-0.9zM116.7 196.3h0.9v0.9h-0.9zM94.5 191.1h0.9v0.9h-0.9zM100.0 203.9h0.9v0.9h-0.9zM119.3 179.4h0.9v0.9h-0.9zM112.7 206.2h0.9v0.9h-0.9zM115.6 197.7h0.9v0.9h-0.9zM104.2 175.8h0.9v0.9h-0.9zM99.9 205.3h0.9v0.9h-0.9zM100.6 206.9h0.9v0.9h-0.9zM115.9 176.3h0.9v0.9h-0.9zM97.6 202.1h0.9v0.9h-0.9zM94.4 191.4h0.9v0.9h-0.9zM96.1 194.5h0.9v0.9h-0.9zM115.6 198.1h0.9v0.9h-0.9zM119.8 185.5h0.9v0.9h-0.9zM117.7 192.8h0.9v0.9h-0.9zM108.0 176.3h0.9v0.9h-0.9zM117.0 198.2h0.9v0.9h-0.9zM120.4 186.9h0.9v0.9h-0.9zM97.3 176.7h0.9v0.9h-0.9zM116.0 195.0h0.9v0.9h-0.9zM103.0 210.3h0.9v0.9h-0.9zM108.1 210.6h0.9v0.9h-0.9zM93.1 185.2h0.9v0.9h-0.9zM95.5 193.8h0.9v0.9h-0.9zM109.3 209.5h0.9v0.9h-0.9zM95.3 192.6h0.9v0.9h-0.9zM117.7 193.0h0.9v0.9h-0.9zM94.5 203.3h0.9v0.9h-0.9zM119.5 177.8h0.9v0.9h-0.9zM114.5 200.0h0.9v0.9h-0.9zM92.6 184.1h0.9v0.9h-0.9zM111.0 206.2h0.9v0.9h-0.9zM116.9 199.7h0.9v0.9h-0.9zM97.5 202.9h0.9v0.9h-0.9zM119.8 179.3h0.9v0.9h-0.9zM96.1 198.8h0.9v0.9h-0.9zM94.2 180.1h0.9v0.9h-0.9zM114.3 177.1h0.9v0.9h-0.9zM94.3 187.9h0.9v0.9h-0.9zM94.5 181.4h0.9v0.9h-0.9zM120.6 178.6h0.9v0.9h-0.9zM112.7 203.9h0.9v0.9h-0.9zM102.1 209.9h0.9v0.9h-0.9zM99.3 203.9h0.9v0.9h-0.9zM118.4 187.4h0.9v0.9h-0.9zM94.9 197.4h0.9v0.9h-0.9zM102.7 176.1h0.9v0.9h-0.9zM96.3 176.7h0.9v0.9h-0.9zM113.3 177.7h0.9v0.9h-0.9zM116.5 197.0h0.9v0.9h-0.9zM93.8 187.8h0.9v0.9h-0.9zM102.0 207.1h0.9v0.9h-0.9zM113.0 203.7h0.9v0.9h-0.9zM115.4 199.9h0.9v0.9h-0.9zM103.4 210.8h0.9v0.9h-0.9zM108.8 209.0h0.9v0.9h-0.9zM119.8 182.6h0.9v0.9h-0.9zM100.3 177.1h0.9v0.9h-0.9zM110.8 176.3h0.9v0.9h-0.9zM98.8 203.2h0.9v0.9h-0.9zM110.1 210.3h0.9v0.9h-0.9zM98.6 202.3h0.9v0.9h-0.9zM94.6 179.1h0.9v0.9h-0.9zM93.0 193.1h0.9v0.9h-0.9zM119.7 187.2h0.9v0.9h-0.9zM94.3 189.9h0.9v0.9h-0.9zM111.4 205.9h0.9v0.9h-0.9zM114.0 201.8h0.9v0.9h-0.9zM97.3 200.3h0.9v0.9h-0.9zM111.0 210.5h0.9v0.9h-0.9zM104.0 211.5h0.9v0.9h-0.9zM110.7 207.0h0.9v0.9h-0.9zM120.0 184.6h0.9v0.9h-0.9zM97.6 176.0h0.9v0.9h-0.9zM103.0 178.0h0.9v0.9h-0.9zM115.0 195.8h0.9v0.9h-0.9zM116.9 176.8h0.9v0.9h-0.9zM97.8 205.4h0.9v0.9h-0.9zM102.8 177.5h0.9v0.9h-0.9zM92.7 181.3h0.9v0.9h-0.9zM93.1 183.2h0.9v0.9h-0.9zM120.6 179.8h0.9v0.9h-0.9zM113.9 198.6h0.9v0.9h-0.9zM111.8 176.9h0.9v0.9h-0.9zM111.1 178.1h0.9v0.9h-0.9zM117.6 188.9h0.9v0.9h-0.9zM98.7 202.2h0.9v0.9h-0.9zM94.6 179.5h0.9v0.9h-0.9zM96.3 197.9h0.9v0.9h-0.9zM92.1 183.7h0.9v0.9h-0.9zM112.8 203.3h0.9v0.9h-0.9zM120.8 184.7h0.9v0.9h-0.9zM113.9 176.5h0.9v0.9h-0.9zM122.9 180.8h0.9v0.9h-0.9zM96.3 197.0h0.9v0.9h-0.9zM93.4 181.2h0.9v0.9h-0.9zM96.6 202.7h0.9v0.9h-0.9zM107.3 214.4h0.9v0.9h-0.9zM96.6 176.5h0.9v0.9h-0.9zM100.0 208.2h0.9v0.9h-0.9zM105.3 211.1h0.9v0.9h-0.9zM119.3 180.7h0.9v0.9h-0.9zM95.8 195.8h0.9v0.9h-0.9zM110.9 175.9h0.9v0.9h-0.9zM118.8 191.1h0.9v0.9h-0.9zM107.6 209.2h0.9v0.9h-0.9zM98.2 176.7h0.9v0.9h-0.9zM100.1 204.5h0.9v0.9h-0.9zM114.6 197.9h0.9v0.9h-0.9zM106.6 211.7h0.9v0.9h-0.9zM100.0 207.3h0.9v0.9h-0.9zM110.5 206.4h0.9v0.9h-0.9zM104.1 209.4h0.9v0.9h-0.9zM102.1 176.2h0.9v0.9h-0.9zM116.6 176.6h0.9v0.9h-0.9zM116.7 192.5h0.9v0.9h-0.9zM101.8 177.3h0.9v0.9h-0.9zM100.5 176.3h0.9v0.9h-0.9zM108.2 210.7h0.9v0.9h-0.9zM99.9 206.4h0.9v0.9h-0.9zM119.0 185.8h0.9v0.9h-0.9zM119.4 187.7h0.9v0.9h-0.9zM111.4 176.9h0.9v0.9h-0.9zM113.9 199.7h0.9v0.9h-0.9zM112.5 205.6h0.9v0.9h-0.9zM93.6 188.8h0.9v0.9h-0.9zM94.2 177.4h0.9v0.9h-0.9zM92.2 191.9h0.9v0.9h-0.9zM92.2 183.0h0.9v0.9h-0.9zM119.2 182.8h0.9v0.9h-0.9zM101.7 207.8h0.9v0.9h-0.9zM97.1 199.3h0.9v0.9h-0.9zM106.9 210.1h0.9v0.9h-0.9zM118.6 176.4h0.9v0.9h-0.9zM109.7 209.0h0.9v0.9h-0.9zM94.9 194.5h0.9v0.9h-0.9zM101.2 176.7h0.9v0.9h-0.9zM117.5 196.7h0.9v0.9h-0.9zM94.0 180.3h0.9v0.9h-0.9zM96.8 197.1h0.9v0.9h-0.9zM98.3 204.3h0.9v0.9h-0.9zM95.5 178.4h0.9v0.9h-0.9zM100.4 206.0h0.9v0.9h-0.9zM104.0 210.8h0.9v0.9h-0.9zM115.0 200.0h0.9v0.9h-0.9zM103.6 212.0h0.9v0.9h-0.9zM120.5 182.5h0.9v0.9h-0.9zM115.6 197.9h0.9v0.9h-0.9zM93.0 184.9h0.9v0.9h-0.9zM108.3 208.8h0.9v0.9h-0.9zM114.7 197.6h0.9v0.9h-0.9zM96.2 176.6h0.9v0.9h-0.9zM102.5 176.7h0.9v0.9h-0.9zM94.5 196.8h0.9v0.9h-0.9zM100.7 206.6h0.9v0.9h-0.9zM97.1 198.0h0.9v0.9h-0.9zM111.3 204.0h0.9v0.9h-0.9zM113.2 204.9h0.9v0.9h-0.9zM113.7 201.1h0.9v0.9h-0.9zM100.6 207.7h0.9v0.9h-0.9zM119.9 181.6h0.9v0.9h-0.9zM115.1 197.1h0.9v0.9h-0.9zM117.1 195.5h0.9v0.9h-0.9zM107.1 212.2h0.9v0.9h-0.9zM93.3 179.8h0.9v0.9h-0.9zM99.2 176.6h0.9v0.9h-0.9zM108.2 176.1h0.9v0.9h-0.9zM95.6 197.1h0.9v0.9h-0.9zM101.1 208.8h0.9v0.9h-0.9zM99.7 205.5h0.9v0.9h-0.9zM118.8 192.7h0.9v0.9h-0.9zM100.1 177.2h0.9v0.9h-0.9zM118.0 195.5h0.9v0.9h-0.9zM96.2 196.1h0.9v0.9h-0.9zM115.0 198.3h0.9v0.9h-0.9zM110.9 210.0h0.9v0.9h-0.9zM121.6 186.9h0.9v0.9h-0.9zM109.2 208.8h0.9v0.9h-0.9zM114.9 196.2h0.9v0.9h-0.9zM118.9 183.2h0.9v0.9h-0.9zM115.6 177.6h0.9v0.9h-0.9zM103.8 209.9h0.9v0.9h-0.9zM122.0 179.5h0.9v0.9h-0.9zM111.6 204.5h0.9v0.9h-0.9zM99.2 206.2h0.9v0.9h-0.9zM119.5 186.6h0.9v0.9h-0.9zM115.2 195.9h0.9v0.9h-0.9zM93.9 189.6h0.9v0.9h-0.9zM101.4 209.5h0.9v0.9h-0.9zM100.9 207.1h0.9v0.9h-0.9zM121.4 182.3h0.9v0.9h-0.9zM96.0 198.1h0.9v0.9h-0.9zM120.0 187.2h0.9v0.9h-0.9zM93.4 184.2h0.9v0.9h-0.9zM95.0 193.0h0.9v0.9h-0.9zM106.2 210.9h0.9v0.9h-0.9zM96.2 199.1h0.9v0.9h-0.9zM114.2 201.9h0.9v0.9h-0.9zM101.7 208.1h0.9v0.9h-0.9zM93.8 183.4h0.9v0.9h-0.9zM99.0 202.0h0.9v0.9h-0.9zM104.0 176.5h0.9v0.9h-0.9zM114.2 176.7h0.9v0.9h-0.9zM111.4 204.8h0.9v0.9h-0.9zM99.5 205.0h0.9v0.9h-0.9zM105.5 177.1h0.9v0.9h-0.9zM92.5 187.3h0.9v0.9h-0.9zM120.6 183.2h0.9v0.9h-0.9zM91.6 182.6h0.9v0.9h-0.9zM99.1 206.2h0.9v0.9h-0.9zM116.8 196.7h0.9v0.9h-0.9zM119.1 184.4h0.9v0.9h-0.9zM99.5 177.6h0.9v0.9h-0.9zM100.0 177.4h0.9v0.9h-0.9zM109.3 208.2h0.9v0.9h-0.9zM98.2 203.9h0.9v0.9h-0.9zM92.0 192.3h0.9v0.9h-0.9zM120.0 185.1h0.9v0.9h-0.9zM119.0 178.0h0.9v0.9h-0.9zM93.8 188.1h0.9v0.9h-0.9zM93.5 190.6h0.9v0.9h-0.9zM94.9 196.2h0.9v0.9h-0.9zM103.9 208.4h0.9v0.9h-0.9zM103.7 209.0h0.9v0.9h-0.9zM95.9 197.8h0.9v0.9h-0.9zM113.1 201.0h0.9v0.9h-0.9zM115.7 197.6h0.9v0.9h-0.9zM119.3 186.1h0.9v0.9h-0.9zM96.6 195.9h0.9v0.9h-0.9zM94.4 191.6h0.9v0.9h-0.9zM105.7 176.7h0.9v0.9h-0.9zM100.2 203.4h0.9v0.9h-0.9zM117.2 177.8h0.9v0.9h-0.9zM110.4 176.0h0.9v0.9h-0.9zM111.5 204.7h0.9v0.9h-0.9zM118.2 176.0h0.9v0.9h-0.9zM113.4 176.2h0.9v0.9h-0.9zM99.9 177.6h0.9v0.9h-0.9zM120.1 181.2h0.9v0.9h-0.9zM99.1 204.0h0.9v0.9h-0.9zM94.0 180.4h0.9v0.9h-0.9zM114.8 196.4h0.9v0.9h-0.9zM111.0 206.6h0.9v0.9h-0.9zM95.8 179.0h0.9v0.9h-0.9zM120.5 176.2h0.9v0.9h-0.9zM92.8 192.3h0.9v0.9h-0.9zM93.5 182.8h0.9v0.9h-0.9zM95.2 196.5h0.9v0.9h-0.9zM107.5 176.0h0.9v0.9h-0.9zM98.3 205.3h0.9v0.9h-0.9zM118.5 194.0h0.9v0.9h-0.9zM107.4 177.1h0.9v0.9h-0.9zM117.9 197.2h0.9v0.9h-0.9zM94.7 189.9h0.9v0.9h-0.9zM96.1 193.6h0.9v0.9h-0.9zM118.1 187.9h0.9v0.9h-0.9zM96.6 177.5h0.9v0.9h-0.9zM93.4 192.4h0.9v0.9h-0.9zM93.5 184.5h0.9v0.9h-0.9zM114.3 197.9h0.9v0.9h-0.9zM113.1 177.3h0.9v0.9h-0.9zM114.7 202.3h0.9v0.9h-0.9zM104.2 210.4h0.9v0.9h-0.9zM117.0 195.7h0.9v0.9h-0.9zM119.6 183.6h0.9v0.9h-0.9zM114.8 177.1h0.9v0.9h-0.9zM119.3 179.1h0.9v0.9h-0.9zM95.1 178.2h0.9v0.9h-0.9zM93.9 187.3h0.9v0.9h-0.9zM93.3 182.5h0.9v0.9h-0.9zM101.2 208.2h0.9v0.9h-0.9zM98.7 201.5h0.9v0.9h-0.9zM120.4 189.4h0.9v0.9h-0.9zM110.2 206.1h0.9v0.9h-0.9zM105.8 212.6h0.9v0.9h-0.9zM102.7 209.0h0.9v0.9h-0.9zM100.8 207.5h0.9v0.9h-0.9zM118.5 198.6h0.9v0.9h-0.9zM92.8 185.9h0.9v0.9h-0.9zM96.2 195.5h0.9v0.9h-0.9zM114.3 205.0h0.9v0.9h-0.9zM104.0 212.2h0.9v0.9h-0.9zM93.9 187.8h0.9v0.9h-0.9zM108.7 210.7h0.9v0.9h-0.9zM92.0 194.4h0.9v0.9h-0.9zM117.9 178.2h0.9v0.9h-0.9zM94.0 184.0h0.9v0.9h-0.9zM100.1 177.2h0.9v0.9h-0.9zM113.7 199.7h0.9v0.9h-0.9zM108.5 175.9h0.9v0.9h-0.9zM99.3 204.3h0.9v0.9h-0.9zM96.7 177.0h0.9v0.9h-0.9zM119.9 187.0h0.9v0.9h-0.9zM96.2 196.1h0.9v0.9h-0.9zM98.3 176.5h0.9v0.9h-0.9zM121.4 182.2h0.9v0.9h-0.9zM95.2 196.2h0.9v0.9h-0.9zM104.6 210.7h0.9v0.9h-0.9zM103.9 209.4h0.9v0.9h-0.9zM93.1 183.5h0.9v0.9h-0.9zM94.0 180.4h0.9v0.9h-0.9zM106.6 212.3h0.9v0.9h-0.9zM101.1 206.2h0.9v0.9h-0.9zM99.8 206.6h0.9v0.9h-0.9zM100.0 209.9h0.9v0.9h-0.9zM97.7 177.1h0.9v0.9h-0.9zM99.3 177.4h0.9v0.9h-0.9zM98.1 204.2h0.9v0.9h-0.9zM109.8 207.1h0.9v0.9h-0.9zM116.5 176.7h0.9v0.9h-0.9zM93.2 181.5h0.9v0.9h-0.9zM113.3 200.7h0.9v0.9h-0.9zM98.7 177.7h0.9v0.9h-0.9zM101.3 206.4h0.9v0.9h-0.9zM120.4 182.7h0.9v0.9h-0.9zM97.3 201.9h0.9v0.9h-0.9zM99.2 177.0h0.9v0.9h-0.9zM118.2 199.0h0.9v0.9h-0.9zM99.8 176.9h0.9v0.9h-0.9zM99.3 203.9h0.9v0.9h-0.9zM113.3 203.3h0.9v0.9h-0.9zM113.4 177.5h0.9v0.9h-0.9zM92.2 185.7h0.9v0.9h-0.9zM104.5 210.9h0.9v0.9h-0.9zM119.0 181.7h0.9v0.9h-0.9zM95.6 196.1h0.9v0.9h-0.9zM118.3 186.6h0.9v0.9h-0.9zM93.2 188.2h0.9v0.9h-0.9zM119.6 178.6h0.9v0.9h-0.9zM92.6 183.2h0.9v0.9h-0.9zM97.2 178.5h0.9v0.9h-0.9zM101.9 206.8h0.9v0.9h-0.9zM118.5 177.7h0.9v0.9h-0.9zM118.8 190.6h0.9v0.9h-0.9zM107.8 208.5h0.9v0.9h-0.9zM94.7 178.8h0.9v0.9h-0.9zM112.6 176.4h0.9v0.9h-0.9zM100.6 206.7h0.9v0.9h-0.9zM114.9 197.8h0.9v0.9h-0.9zM121.8 181.2h0.9v0.9h-0.9zM113.3 177.6h0.9v0.9h-0.9zM93.1 188.8h0.9v0.9h-0.9zM116.3 199.0h0.9v0.9h-0.9zM108.5 211.5h0.9v0.9h-0.9zM102.8 209.5h0.9v0.9h-0.9zM97.6 198.8h0.9v0.9h-0.9zM115.9 177.7h0.9v0.9h-0.9zM97.4 176.9h0.9v0.9h-0.9zM116.7 194.7h0.9v0.9h-0.9zM107.3 176.1h0.9v0.9h-0.9zM94.3 180.4h0.9v0.9h-0.9zM91.9 190.7h0.9v0.9h-0.9zM109.7 208.9h0.9v0.9h-0.9zM117.5 189.6h0.9v0.9h-0.9zM103.6 177.1h0.9v0.9h-0.9zM99.7 205.9h0.9v0.9h-0.9zM113.1 201.1h0.9v0.9h-0.9zM107.7 177.0h0.9v0.9h-0.9zM91.4 184.1h0.9v0.9h-0.9zM93.2 187.8h0.9v0.9h-0.9zM93.2 190.2h0.9v0.9h-0.9zM97.3 199.5h0.9v0.9h-0.9zM115.3 201.6h0.9v0.9h-0.9zM119.2 179.3h0.9v0.9h-0.9zM107.8 210.7h0.9v0.9h-0.9zM105.6 176.3h0.9v0.9h-0.9zM110.0 206.7h0.9v0.9h-0.9zM96.0 176.5h0.9v0.9h-0.9zM92.7 181.0h0.9v0.9h-0.9zM102.9 209.5h0.9v0.9h-0.9zM119.0 183.5h0.9v0.9h-0.9zM104.3 210.1h0.9v0.9h-0.9zM98.9 203.5h0.9v0.9h-0.9zM95.8 198.3h0.9v0.9h-0.9zM110.3 208.0h0.9v0.9h-0.9zM97.0 197.1h0.9v0.9h-0.9zM107.4 213.4h0.9v0.9h-0.9zM94.6 189.7h0.9v0.9h-0.9zM95.0 192.1h0.9v0.9h-0.9zM95.4 178.0h0.9v0.9h-0.9zM119.4 188.3h0.9v0.9h-0.9zM114.2 177.0h0.9v0.9h-0.9zM108.0 176.8h0.9v0.9h-0.9zM93.9 195.3h0.9v0.9h-0.9zM108.2 176.0h0.9v0.9h-0.9zM98.8 205.0h0.9v0.9h-0.9zM112.7 176.7h0.9v0.9h-0.9zM115.9 176.6h0.9v0.9h-0.9zM93.5 185.0h0.9v0.9h-0.9zM100.3 204.3h0.9v0.9h-0.9zM118.3 193.7h0.9v0.9h-0.9zM103.5 176.2h0.9v0.9h-0.9zM117.6 177.5h0.9v0.9h-0.9zM92.6 184.4h0.9v0.9h-0.9zM98.3 202.9h0.9v0.9h-0.9zM97.7 178.3h0.9v0.9h-0.9zM103.1 209.2h0.9v0.9h-0.9zM121.0 185.3h0.9v0.9h-0.9zM101.6 208.3h0.9v0.9h-0.9zM119.1 178.2h0.9v0.9h-0.9zM103.6 176.8h0.9v0.9h-0.9zM93.8 181.2h0.9v0.9h-0.9zM120.9 178.3h0.9v0.9h-0.9zM95.9 196.4h0.9v0.9h-0.9zM95.1 192.8h0.9v0.9h-0.9zM103.5 212.5h0.9v0.9h-0.9zM101.5 206.0h0.9v0.9h-0.9zM110.1 176.6h0.9v0.9h-0.9zM118.9 183.9h0.9v0.9h-0.9zM94.4 192.4h0.9v0.9h-0.9zM93.2 183.8h0.9v0.9h-0.9zM117.5 193.1h0.9v0.9h-0.9zM98.6 204.1h0.9v0.9h-0.9zM92.9 189.4h0.9v0.9h-0.9zM94.1 183.1h0.9v0.9h-0.9zM120.0 178.3h0.9v0.9h-0.9zM108.2 211.9h0.9v0.9h-0.9zM117.4 187.1h0.9v0.9h-0.9zM117.3 194.9h0.9v0.9h-0.9zM117.1 194.8h0.9v0.9h-0.9zM118.3 176.9h0.9v0.9h-0.9zM94.2 181.5h0.9v0.9h-0.9zM97.8 205.4h0.9v0.9h-0.9zM104.6 209.9h0.9v0.9h-0.9zM95.5 198.0h0.9v0.9h-0.9zM105.4 177.1h0.9v0.9h-0.9zM114.2 176.9h0.9v0.9h-0.9zM111.3 206.8h0.9v0.9h-0.9zM92.6 189.1h0.9v0.9h-0.9zM116.8 195.4h0.9v0.9h-0.9zM111.6 206.0h0.9v0.9h-0.9zM92.8 187.2h0.9v0.9h-0.9zM94.5 195.5h0.9v0.9h-0.9zM94.8 192.3h0.9v0.9h-0.9zM119.8 189.9h0.9v0.9h-0.9zM115.9 177.2h0.9v0.9h-0.9zM95.3 195.4h0.9v0.9h-0.9zM97.5 202.4h0.9v0.9h-0.9zM96.2 196.9h0.9v0.9h-0.9zM119.3 188.0h0.9v0.9h-0.9zM118.6 176.6h0.9v0.9h-0.9zM113.2 176.9h0.9v0.9h-0.9zM95.8 195.0h0.9v0.9h-0.9zM95.0 189.9h0.9v0.9h-0.9zM120.0 185.1h0.9v0.9h-0.9zM93.3 194.1h0.9v0.9h-0.9zM119.7 186.7h0.9v0.9h-0.9zM117.3 192.8h0.9v0.9h-0.9zM112.8 204.7h0.9v0.9h-0.9zM112.2 176.1h0.9v0.9h-0.9zM116.6 176.2h0.9v0.9h-0.9zM116.0 177.3h0.9v0.9h-0.9zM114.7 199.7h0.9v0.9h-0.9zM100.3 177.4h0.9v0.9h-0.9zM97.9 203.7h0.9v0.9h-0.9zM108.1 175.8h0.9v0.9h-0.9zM117.7 193.0h0.9v0.9h-0.9zM108.7 209.9h0.9v0.9h-0.9zM118.1 188.8h0.9v0.9h-0.9zM113.2 203.9h0.9v0.9h-0.9zM113.0 202.2h0.9v0.9h-0.9zM93.4 193.6h0.9v0.9h-0.9zM97.7 203.4h0.9v0.9h-0.9zM102.9 176.8h0.9v0.9h-0.9zM95.5 198.8h0.9v0.9h-0.9zM114.4 202.6h0.9v0.9h-0.9zM104.9 212.4h0.9v0.9h-0.9zM106.3 176.9h0.9v0.9h-0.9zM117.0 195.4h0.9v0.9h-0.9zM103.9 209.7h0.9v0.9h-0.9zM98.1 201.7h0.9v0.9h-0.9zM96.7 201.6h0.9v0.9h-0.9zM111.2 176.6h0.9v0.9h-0.9zM96.5 198.4h0.9v0.9h-0.9zM112.0 203.6h0.9v0.9h-0.9zM106.8 213.6h0.9v0.9h-0.9zM95.9 196.3h0.9v0.9h-0.9zM119.4 188.8h0.9v0.9h-0.9zM94.9 190.2h0.9v0.9h-0.9zM95.6 193.9h0.9v0.9h-0.9zM97.3 200.9h0.9v0.9h-0.9zM119.7 186.7h0.9v0.9h-0.9zM115.8 201.4h0.9v0.9h-0.9zM107.1 176.7h0.9v0.9h-0.9zM99.7 205.7h0.9v0.9h-0.9zM94.9 193.3h0.9v0.9h-0.9zM106.4 176.2h0.9v0.9h-0.9zM101.7 206.5h0.9v0.9h-0.9zM103.7 210.4h0.9v0.9h-0.9zM93.0 178.9h0.9v0.9h-0.9zM92.6 191.5h0.9v0.9h-0.9zM116.2 195.2h0.9v0.9h-0.9zM116.5 177.2h0.9v0.9h-0.9zM94.7 180.4h0.9v0.9h-0.9zM99.5 202.5h0.9v0.9h-0.9zM119.5 182.8h0.9v0.9h-0.9zM115.2 199.3h0.9v0.9h-0.9zM109.7 175.9h0.9v0.9h-0.9zM110.2 206.9h0.9v0.9h-0.9zM118.3 187.7h0.9v0.9h-0.9zM98.0 200.5h0.9v0.9h-0.9zM106.2 211.0h0.9v0.9h-0.9zM101.6 209.3h0.9v0.9h-0.9zM115.7 177.2h0.9v0.9h-0.9zM96.7 178.7h0.9v0.9h-0.9zM95.7 194.5h0.9v0.9h-0.9zM93.7 188.8h0.9v0.9h-0.9zM108.5 210.3h0.9v0.9h-0.9zM92.9 190.0h0.9v0.9h-0.9zM103.2 209.4h0.9v0.9h-0.9zM110.5 207.1h0.9v0.9h-0.9zM118.8 190.0h0.9v0.9h-0.9zM119.9 183.2h0.9v0.9h-0.9zM115.6 197.1h0.9v0.9h-0.9zM120.0 191.4h0.9v0.9h-0.9zM114.5 197.8h0.9v0.9h-0.9zM94.8 179.7h0.9v0.9h-0.9zM119.7 188.7h0.9v0.9h-0.9zM118.3 178.8h0.9v0.9h-0.9zM109.1 208.9h0.9v0.9h-0.9zM95.5 201.5h0.9v0.9h-0.9zM110.0 208.7h0.9v0.9h-0.9zM106.3 210.9h0.9v0.9h-0.9zM110.0 208.0h0.9v0.9h-0.9zM115.8 175.8h0.9v0.9h-0.9zM118.8 185.3h0.9v0.9h-0.9zM97.1 197.0h0.9v0.9h-0.9zM107.9 176.3h0.9v0.9h-0.9zM93.7 181.8h0.9v0.9h-0.9zM92.6 187.2h0.9v0.9h-0.9zM96.6 196.7h0.9v0.9h-0.9zM110.7 208.0h0.9v0.9h-0.9zM97.2 200.1h0.9v0.9h-0.9zM110.8 205.1h0.9v0.9h-0.9zM94.1 191.3h0.9v0.9h-0.9zM117.7 192.3h0.9v0.9h-0.9zM105.9 211.7h0.9v0.9h-0.9zM111.1 176.7h0.9v0.9h-0.9zM101.8 209.1h0.9v0.9h-0.9zM116.0 177.6h0.9v0.9h-0.9zM103.4 209.1h0.9v0.9h-0.9zM98.0 201.9h0.9v0.9h-0.9zM118.2 190.5h0.9v0.9h-0.9zM92.6 184.0h0.9v0.9h-0.9zM109.8 210.1h0.9v0.9h-0.9zM98.1 206.1h0.9v0.9h-0.9zM93.8 179.9h0.9v0.9h-0.9zM101.3 176.2h0.9v0.9h-0.9zM103.9 209.3h0.9v0.9h-0.9zM93.0 188.5h0.9v0.9h-0.9zM109.4 209.3h0.9v0.9h-0.9zM95.2 191.3h0.9v0.9h-0.9z" fill="#1a1aff" opacity="0.6"/>
<path d="M93.30 182.50C93.48 181.25 93.80 179.85 94.50 179.00C95.20 178.15 95.92 177.75 97.50 177.40C99.08 177.05 101.75 177.00 104.00 176.90C106.25 176.80 108.92 176.78 111.00 176.80C113.08 176.82 115.13 176.75 116.50 177.00C117.87 177.25 118.65 177.63 119.20 178.30C119.75 178.97 119.80 179.72 119.80 181.00C119.80 182.28 119.53 184.33 119.20 186.00C118.87 187.67 118.37 189.25 117.80 191.00C117.23 192.75 116.55 194.75 115.80 196.50C115.05 198.25 114.18 199.83 113.30 201.50C112.42 203.17 111.42 205.03 110.50 206.50C109.58 207.97 108.58 209.48 107.80 210.30C107.02 211.12 106.47 211.45 105.80 211.40C105.13 211.35 104.60 210.82 103.80 210.00C103.00 209.18 101.88 207.83 101.00 206.50C100.12 205.17 99.30 203.67 98.50 202.00C97.70 200.33 96.88 198.33 96.20 196.50C95.52 194.67 94.87 192.67 94.40 191.00C93.93 189.33 93.58 187.92 93.40 186.50C93.22 185.08 93.12 183.75 93.30 182.50Z" fill="#0008ff" filter="url(#fg1)"/>
<path d="M93.30 182.50C93.48 181.25 93.80 179.85 94.50 179.00C95.20 178.15 95.92 177.75 97.50 177.40C99.08 177.05 101.75 177.00 104.00 176.90C106.25 176.80 108.92 176.78 111.00 176.80C113.08 176.82 115.13 176.75 116.50 177.00C117.87 177.25 118.65 177.63 119.20 178.30C119.75 178.97 119.80 179.72 119.80 181.00C119.80 182.28 119.53 184.33 119.20 186.00C118.87 187.67 118.37 189.25 117.80 191.00C117.23 192.75 116.55 194.75 115.80 196.50C115.05 198.25 114.18 199.83 113.30 201.50C112.42 203.17 111.42 205.03 110.50 206.50C109.58 207.97 108.58 209.48 107.80 210.30C107.02 211.12 106.47 211.45 105.80 211.40C105.13 211.35 104.60 210.82 103.80 210.00C103.00 209.18 101.88 207.83 101.00 206.50C100.12 205.17 99.30 203.67 98.50 202.00C97.70 200.33 96.88 198.33 96.20 196.50C95.52 194.67 94.87 192.67 94.40 191.00C93.93 189.33 93.58 187.92 93.40 186.50C93.22 185.08 93.12 183.75 93.30 182.50Z" fill="#0008ff" transform="translate(107.7 193.9) scale(0.88) translate(-107.7 -193.9)"/>
<ellipse cx="107.7" cy="193.9" rx="7.18" ry="13.50" transform="rotate(8 107.7 193.9)" fill="url(#g1)"/>
<rect x="206.9" y="175.2" width="72.70" height="72.00" fill="none" stroke="#c4c4c4" stroke-width="0.8"/>
<path d="M206.9 175.2V247.2H279.6" stroke="#777" stroke-width="0.8" fill="none"/>
<path d="M204.70 182.40H206.9M272.38 247.2V249.40M204.70 199.60H206.9M255.63 247.2V249.40M204.70 219.70H206.9M235.78 247.2V249.40M204.70 231.20H206.9M223.45 247.2V249.40M204.70 242.00H206.9M209.81 247.2V249.40M205.70 213.65H206.9M241.76 247.2V248.40M205.70 210.11H206.9M245.25 247.2V248.40M205.70 207.60H206.9M247.73 247.2V248.40M205.70 205.65H206.9M249.66 247.2V248.40M205.70 204.06H206.9M251.23 247.2V248.40M205.70 202.71H206.9M252.56 247.2V248.40M205.70 201.55H206.9M253.71 247.2V248.40M205.70 200.52H206.9M254.73 247.2V248.40M205.70 194.42H206.9M260.68 247.2V248.40M205.70 191.39H206.9M263.62 247.2V248.40M205.70 189.24H206.9M265.72 247.2V248.40M205.70 187.58H206.9M267.34 247.2V248.40M205.70 186.22H206.9M268.67 247.2V248.40M205.70 185.06H206.9M269.79 247.2V248.40M205.70 184.07H206.9M270.76 247.2V248.40M205.70 183.19H206.9M271.61 247.2V248.40" stroke="#555" stroke-width="0.6" fill="none"/>
<rect x="204.70" y="229.80" width="1.8" height="2.8" fill="#111"/>
<rect x="222.05" y="247.50" width="2.8" height="1.8" fill="#111"/>
<text x="198.10" y="185.80" font-size="6.6" text-anchor="end" fill="#333" >10</text>
<text x="198.20" y="182.80" font-size="4.8" text-anchor="start" fill="#333" >5</text>
<text x="198.10" y="203.00" font-size="6.6" text-anchor="end" fill="#333" >10</text>
<text x="198.20" y="200.00" font-size="4.8" text-anchor="start" fill="#333" >4</text>
<text x="198.10" y="223.10" font-size="6.6" text-anchor="end" fill="#333" >10</text>
<text x="198.20" y="220.10" font-size="4.8" text-anchor="start" fill="#333" >3</text>
<text x="198.00" y="233.30" font-size="6.3" text-anchor="end" fill="#333" >0</text>
<text x="198.10" y="245.40" font-size="6.6" text-anchor="end" fill="#333" >-10</text>
<text x="198.20" y="242.40" font-size="4.8" text-anchor="start" fill="#333" >3</text>
<text x="212.11" y="260.00" font-size="6.6" text-anchor="middle" fill="#333" >-10</text>
<text x="216.01" y="256.80" font-size="4.8" text-anchor="start" fill="#333" >3</text>
<text x="225.35" y="260.20" font-size="6.4" text-anchor="middle" fill="#333" >0</text>
<text x="235.28" y="260.00" font-size="6.6" text-anchor="middle" fill="#333" >10</text>
<text x="239.08" y="256.80" font-size="4.8" text-anchor="start" fill="#333" >3</text>
<text x="255.13" y="260.00" font-size="6.6" text-anchor="middle" fill="#333" >10</text>
<text x="258.93" y="256.80" font-size="4.8" text-anchor="start" fill="#333" >4</text>
<text x="271.88" y="260.00" font-size="6.6" text-anchor="middle" fill="#333" >10</text>
<text x="275.68" y="256.80" font-size="4.8" text-anchor="start" fill="#333" >5</text>
<text x="242.70" y="272.30" font-size="9.0" text-anchor="middle" fill="#1a1a1a" textLength="19.8" lengthAdjust="spacingAndGlyphs" >IL-17A</text>
<text transform="translate(182.40 212.30) rotate(-90)" font-size="10.2" text-anchor="middle" fill="#1a1a1a" textLength="13.9" lengthAdjust="spacingAndGlyphs">Treg</text>
<text x="206.20" y="169.90" font-size="9.6" text-anchor="start" fill="#222" textLength="70.2" lengthAdjust="spacingAndGlyphs" >Expanded Treg A</text>
<rect x="239.4" y="176.0" width="39.90" height="41.20" fill="none" stroke="#555" stroke-width="0.9"/>
<text x="267.20" y="225.15" font-size="5.7" text-anchor="middle" fill="#2a2a2a" >IL-17A+</text>
<text x="267.20" y="231.95" font-size="5.7" text-anchor="middle" fill="#2a2a2a" >0.021</text>
<path d="M244.8 197.1h0.9v0.9h-0.9zM247.8 185.8h0.9v0.9h-0.9zM242.9 197.0h0.9v0.9h-0.9zM260.5 184.5h0.9v0.9h-0.9zM266.0 204.3h0.9v0.9h-0.9zM249.0 190.8h0.9v0.9h-0.9zM251.4 200.9h0.9v0.9h-0.9zM249.0 186.3h0.9v0.9h-0.9zM254.8 179.6h0.9v0.9h-0.9zM253.1 202.1h0.9v0.9h-0.9zM254.5 199.5h0.9v0.9h-0.9zM256.0 199.1h0.9v0.9h-0.9zM253.2 188.2h0.9v0.9h-0.9zM250.2 193.5h0.9v0.9h-0.9zM262.1 205.4h0.9v0.9h-0.9zM255.4 188.7h0.9v0.9h-0.9zM246.2 192.7h0.9v0.9h-0.9zM263.1 196.3h0.9v0.9h-0.9zM251.6 188.6h0.9v0.9h-0.9zM259.1 196.0h0.9v0.9h-0.9zM251.6 194.7h0.9v0.9h-0.9zM265.5 192.9h0.9v0.9h-0.9zM265.5 202.7h0.9v0.9h-0.9zM252.4 200.2h0.9v0.9h-0.9zM251.0 188.2h0.9v0.9h-0.9zM249.9 187.6h0.9v0.9h-0.9zM256.1 194.1h0.9v0.9h-0.9zM256.5 199.8h0.9v0.9h-0.9z" fill="#7070ff" opacity="0.55"/>
<path d="M213.1 195.1h0.9v0.9h-0.9zM233.3 176.1h0.9v0.9h-0.9zM222.7 193.2h0.9v0.9h-0.9zM221.3 188.7h0.9v0.9h-0.9zM214.5 227.7h0.9v0.9h-0.9zM212.6 190.2h0.9v0.9h-0.9zM217.5 193.2h0.9v0.9h-0.9zM211.6 199.7h0.9v0.9h-0.9zM216.6 179.7h0.9v0.9h-0.9zM213.7 190.0h0.9v0.9h-0.9zM228.6 199.1h0.9v0.9h-0.9zM218.0 194.2h0.9v0.9h-0.9zM222.9 215.4h0.9v0.9h-0.9zM215.4 198.9h0.9v0.9h-0.9zM227.5 184.0h0.9v0.9h-0.9zM222.7 195.7h0.9v0.9h-0.9zM216.8 200.0h0.9v0.9h-0.9zM230.3 205.9h0.9v0.9h-0.9zM219.3 196.0h0.9v0.9h-0.9zM242.2 182.4h0.9v0.9h-0.9zM223.0 203.3h0.9v0.9h-0.9zM222.4 200.9h0.9v0.9h-0.9zM222.6 201.9h0.9v0.9h-0.9zM232.5 191.7h0.9v0.9h-0.9zM222.8 193.4h0.9v0.9h-0.9zM217.4 193.8h0.9v0.9h-0.9zM210.8 201.8h0.9v0.9h-0.9zM236.3 211.9h0.9v0.9h-0.9zM232.5 183.9h0.9v0.9h-0.9zM234.7 186.5h0.9v0.9h-0.9zM220.5 213.4h0.9v0.9h-0.9zM211.4 202.8h0.9v0.9h-0.9zM223.5 192.4h0.9v0.9h-0.9zM213.1 198.4h0.9v0.9h-0.9zM216.8 205.0h0.9v0.9h-0.9zM232.0 179.5h0.9v0.9h-0.9zM216.5 190.6h0.9v0.9h-0.9zM210.4 182.3h0.9v0.9h-0.9zM221.8 191.8h0.9v0.9h-0.9zM225.7 181.3h0.9v0.9h-0.9zM212.7 210.7h0.9v0.9h-0.9zM232.9 177.0h0.9v0.9h-0.9zM208.8 198.0h0.9v0.9h-0.9zM210.3 191.3h0.9v0.9h-0.9zM216.9 199.9h0.9v0.9h-0.9zM210.0 204.6h0.9v0.9h-0.9zM219.6 176.1h0.9v0.9h-0.9zM225.4 201.4h0.9v0.9h-0.9zM218.8 190.5h0.9v0.9h-0.9zM224.9 206.7h0.9v0.9h-0.9zM222.4 199.6h0.9v0.9h-0.9zM220.6 190.0h0.9v0.9h-0.9zM212.8 196.7h0.9v0.9h-0.9zM218.3 191.4h0.9v0.9h-0.9zM229.4 199.1h0.9v0.9h-0.9zM228.8 177.5h0.9v0.9h-0.9zM226.0 187.8h0.9v0.9h-0.9zM213.7 185.1h0.9v0.9h-0.9zM231.9 202.7h0.9v0.9h-0.9zM214.5 182.1h0.9v0.9h-0.9zM221.1 189.2h0.9v0.9h-0.9zM235.9 178.7h0.9v0.9h-0.9zM221.1 195.4h0.9v0.9h-0.9zM227.8 215.8h0.9v0.9h-0.9zM217.9 188.3h0.9v0.9h-0.9zM228.7 191.3h0.9v0.9h-0.9zM231.6 194.3h0.9v0.9h-0.9zM234.6 197.5h0.9v0.9h-0.9zM211.5 187.3h0.9v0.9h-0.9zM223.4 203.1h0.9v0.9h-0.9zM238.6 193.4h0.9v0.9h-0.9zM218.9 182.4h0.9v0.9h-0.9zM229.9 198.1h0.9v0.9h-0.9zM215.6 201.2h0.9v0.9h-0.9zM227.7 195.4h0.9v0.9h-0.9zM217.5 189.6h0.9v0.9h-0.9zM236.7 210.1h0.9v0.9h-0.9zM237.4 181.9h0.9v0.9h-0.9zM215.1 203.5h0.9v0.9h-0.9zM210.1 186.4h0.9v0.9h-0.9zM230.6 198.8h0.9v0.9h-0.9zM223.0 189.6h0.9v0.9h-0.9zM217.4 200.5h0.9v0.9h-0.9zM214.6 206.9h0.9v0.9h-0.9zM216.6 184.8h0.9v0.9h-0.9zM232.7 192.5h0.9v0.9h-0.9zM226.0 189.6h0.9v0.9h-0.9zM208.9 205.4h0.9v0.9h-0.9z" fill="#5050ff" opacity="0.4"/>
<defs><radialGradient id="g2" cx="0.5" cy="0.5" r="0.5"><stop offset="0" stop-color="#c00000"/><stop offset="0.12" stop-color="#e00000"/><stop offset="0.22" stop-color="#ff2000"/><stop offset="0.27" stop-color="#ff6000"/><stop offset="0.31" stop-color="#ffb000"/><stop offset="0.35" stop-color="#ffe800"/><stop offset="0.39" stop-color="#d8ff18"/><stop offset="0.46" stop-color="#a8ff38"/><stop offset="0.55" stop-color="#80ff50"/><stop offset="0.61" stop-color="#60ff78"/><stop offset="0.66" stop-color="#40ffc0"/><stop offset="0.71" stop-color="#30f0f8"/><stop offset="0.77" stop-color="#20b8ff"/><stop offset="0.83" stop-color="#1078ff"/><stop offset="0.88" stop-color="#0840ff"/><stop offset="0.94" stop-color="#0010ff"/><stop offset="1" stop-color="#0008ff"/></radialGradient></defs>
<defs><filter id="fg2" x="-30%" y="-30%" width="160%" height="160%"><feGaussianBlur stdDeviation="0.7"/></filter></defs>
<path d="M208.7 185.4h0.9v0.9h-0.9zM227.6 204.0h0.9v0.9h-0.9zM219.2 177.9h0.9v0.9h-0.9zM215.6 202.5h0.9v0.9h-0.9zM233.3 178.2h0.9v0.9h-0.9zM233.0 191.8h0.9v0.9h-0.9zM233.3 177.5h0.9v0.9h-0.9zM231.9 195.5h0.9v0.9h-0.9zM234.2 179.9h0.9v0.9h-0.9zM236.3 179.5h0.9v0.9h-0.9zM220.7 178.6h0.9v0.9h-0.9zM207.9 187.6h0.9v0.9h-0.9zM225.3 178.2h0.9v0.9h-0.9zM232.3 177.6h0.9v0.9h-0.9zM234.3 188.7h0.9v0.9h-0.9zM218.0 179.4h0.9v0.9h-0.9zM226.9 177.5h0.9v0.9h-0.9zM235.5 189.0h0.9v0.9h-0.9zM227.2 203.0h0.9v0.9h-0.9zM229.5 199.3h0.9v0.9h-0.9zM236.6 185.1h0.9v0.9h-0.9zM221.0 210.3h0.9v0.9h-0.9zM216.5 205.3h0.9v0.9h-0.9zM230.2 176.9h0.9v0.9h-0.9zM228.9 177.8h0.9v0.9h-0.9zM225.4 206.4h0.9v0.9h-0.9zM233.1 189.0h0.9v0.9h-0.9zM211.8 198.5h0.9v0.9h-0.9zM208.4 182.3h0.9v0.9h-0.9zM228.7 200.0h0.9v0.9h-0.9zM235.4 182.7h0.9v0.9h-0.9zM225.6 178.4h0.9v0.9h-0.9zM208.2 196.9h0.9v0.9h-0.9zM226.8 178.6h0.9v0.9h-0.9zM214.9 201.3h0.9v0.9h-0.9zM210.8 196.6h0.9v0.9h-0.9zM216.4 177.0h0.9v0.9h-0.9zM220.7 176.4h0.9v0.9h-0.9zM213.7 179.1h0.9v0.9h-0.9zM236.2 179.1h0.9v0.9h-0.9zM210.3 192.3h0.9v0.9h-0.9zM225.7 208.5h0.9v0.9h-0.9zM220.4 179.1h0.9v0.9h-0.9zM216.5 179.7h0.9v0.9h-0.9zM217.0 205.0h0.9v0.9h-0.9zM226.0 207.0h0.9v0.9h-0.9zM208.0 183.2h0.9v0.9h-0.9zM227.5 202.8h0.9v0.9h-0.9zM224.0 178.0h0.9v0.9h-0.9zM233.5 179.1h0.9v0.9h-0.9zM215.8 178.5h0.9v0.9h-0.9zM207.8 184.6h0.9v0.9h-0.9zM232.0 192.1h0.9v0.9h-0.9zM226.3 206.2h0.9v0.9h-0.9zM224.4 177.9h0.9v0.9h-0.9zM235.7 185.4h0.9v0.9h-0.9zM225.0 209.1h0.9v0.9h-0.9zM215.7 206.2h0.9v0.9h-0.9zM210.5 191.6h0.9v0.9h-0.9zM229.1 177.8h0.9v0.9h-0.9zM228.3 176.1h0.9v0.9h-0.9zM232.9 187.0h0.9v0.9h-0.9zM234.1 179.5h0.9v0.9h-0.9zM211.5 200.2h0.9v0.9h-0.9zM236.5 185.2h0.9v0.9h-0.9zM234.0 185.0h0.9v0.9h-0.9zM231.2 196.1h0.9v0.9h-0.9zM227.8 202.1h0.9v0.9h-0.9zM235.2 182.7h0.9v0.9h-0.9zM207.9 183.1h0.9v0.9h-0.9zM217.4 206.9h0.9v0.9h-0.9zM217.4 179.3h0.9v0.9h-0.9zM211.8 196.9h0.9v0.9h-0.9zM228.8 178.9h0.9v0.9h-0.9zM230.1 179.0h0.9v0.9h-0.9zM229.5 199.6h0.9v0.9h-0.9zM208.6 192.6h0.9v0.9h-0.9zM234.1 185.4h0.9v0.9h-0.9zM231.5 194.3h0.9v0.9h-0.9zM234.6 188.5h0.9v0.9h-0.9zM217.3 180.1h0.9v0.9h-0.9zM233.0 177.0h0.9v0.9h-0.9zM209.0 192.2h0.9v0.9h-0.9zM207.9 189.1h0.9v0.9h-0.9zM229.5 176.2h0.9v0.9h-0.9zM209.5 191.1h0.9v0.9h-0.9zM208.3 182.3h0.9v0.9h-0.9zM219.2 206.1h0.9v0.9h-0.9zM233.2 190.0h0.9v0.9h-0.9zM235.4 188.8h0.9v0.9h-0.9zM233.1 190.4h0.9v0.9h-0.9zM235.7 182.5h0.9v0.9h-0.9zM209.1 182.1h0.9v0.9h-0.9zM217.0 179.8h0.9v0.9h-0.9zM216.9 205.1h0.9v0.9h-0.9zM218.4 178.8h0.9v0.9h-0.9zM212.2 179.5h0.9v0.9h-0.9zM224.2 177.5h0.9v0.9h-0.9zM208.1 186.7h0.9v0.9h-0.9zM232.6 191.7h0.9v0.9h-0.9zM219.9 178.3h0.9v0.9h-0.9zM224.1 209.7h0.9v0.9h-0.9zM233.9 184.8h0.9v0.9h-0.9zM228.8 201.1h0.9v0.9h-0.9zM208.1 184.0h0.9v0.9h-0.9zM220.2 207.5h0.9v0.9h-0.9zM230.0 199.4h0.9v0.9h-0.9zM208.5 184.8h0.9v0.9h-0.9zM230.6 196.0h0.9v0.9h-0.9zM234.4 192.7h0.9v0.9h-0.9zM210.5 197.1h0.9v0.9h-0.9zM208.7 187.8h0.9v0.9h-0.9zM216.7 208.5h0.9v0.9h-0.9zM235.7 184.4h0.9v0.9h-0.9zM235.0 187.8h0.9v0.9h-0.9zM208.5 183.3h0.9v0.9h-0.9zM228.0 178.5h0.9v0.9h-0.9zM214.5 203.0h0.9v0.9h-0.9zM230.3 194.9h0.9v0.9h-0.9zM209.3 197.1h0.9v0.9h-0.9zM222.8 208.9h0.9v0.9h-0.9zM228.6 201.8h0.9v0.9h-0.9zM211.5 201.7h0.9v0.9h-0.9zM230.9 195.9h0.9v0.9h-0.9zM223.2 209.4h0.9v0.9h-0.9zM230.7 194.7h0.9v0.9h-0.9zM235.6 183.7h0.9v0.9h-0.9zM216.2 203.8h0.9v0.9h-0.9zM213.0 179.3h0.9v0.9h-0.9zM208.8 186.1h0.9v0.9h-0.9zM208.0 187.2h0.9v0.9h-0.9zM211.6 199.4h0.9v0.9h-0.9zM232.8 192.9h0.9v0.9h-0.9zM232.3 190.9h0.9v0.9h-0.9zM234.1 187.9h0.9v0.9h-0.9zM232.9 192.6h0.9v0.9h-0.9zM226.3 178.9h0.9v0.9h-0.9zM213.7 201.1h0.9v0.9h-0.9zM210.2 195.0h0.9v0.9h-0.9zM231.6 196.1h0.9v0.9h-0.9zM209.7 197.4h0.9v0.9h-0.9zM232.9 178.3h0.9v0.9h-0.9zM211.5 197.2h0.9v0.9h-0.9zM207.8 186.8h0.9v0.9h-0.9zM222.6 210.2h0.9v0.9h-0.9zM209.1 187.7h0.9v0.9h-0.9zM218.5 206.0h0.9v0.9h-0.9zM219.9 209.1h0.9v0.9h-0.9zM231.0 194.0h0.9v0.9h-0.9zM211.8 180.7h0.9v0.9h-0.9zM218.3 178.2h0.9v0.9h-0.9zM213.2 198.6h0.9v0.9h-0.9zM223.5 178.8h0.9v0.9h-0.9zM220.6 209.8h0.9v0.9h-0.9zM220.8 178.7h0.9v0.9h-0.9zM215.7 205.5h0.9v0.9h-0.9zM207.8 187.8h0.9v0.9h-0.9zM226.4 205.7h0.9v0.9h-0.9zM210.5 181.5h0.9v0.9h-0.9zM217.6 205.9h0.9v0.9h-0.9zM232.9 194.1h0.9v0.9h-0.9zM211.4 195.5h0.9v0.9h-0.9zM220.6 178.5h0.9v0.9h-0.9zM232.5 178.5h0.9v0.9h-0.9zM208.9 191.3h0.9v0.9h-0.9zM211.4 198.7h0.9v0.9h-0.9zM208.7 192.5h0.9v0.9h-0.9zM230.5 197.9h0.9v0.9h-0.9zM222.8 208.2h0.9v0.9h-0.9zM209.3 190.0h0.9v0.9h-0.9zM223.9 210.2h0.9v0.9h-0.9zM214.6 178.8h0.9v0.9h-0.9zM220.5 179.3h0.9v0.9h-0.9zM208.0 183.4h0.9v0.9h-0.9zM216.2 178.0h0.9v0.9h-0.9zM209.4 181.9h0.9v0.9h-0.9zM234.4 186.3h0.9v0.9h-0.9zM228.0 206.6h0.9v0.9h-0.9zM211.1 196.1h0.9v0.9h-0.9zM234.8 187.6h0.9v0.9h-0.9zM221.3 179.2h0.9v0.9h-0.9zM209.3 193.2h0.9v0.9h-0.9zM209.4 191.9h0.9v0.9h-0.9zM209.7 182.1h0.9v0.9h-0.9zM227.3 203.6h0.9v0.9h-0.9zM226.0 207.8h0.9v0.9h-0.9zM230.4 199.4h0.9v0.9h-0.9zM222.9 179.4h0.9v0.9h-0.9zM210.0 191.1h0.9v0.9h-0.9zM228.9 199.4h0.9v0.9h-0.9zM209.8 181.6h0.9v0.9h-0.9zM233.8 182.2h0.9v0.9h-0.9zM218.1 206.0h0.9v0.9h-0.9zM225.0 178.4h0.9v0.9h-0.9zM214.9 203.2h0.9v0.9h-0.9zM225.4 177.9h0.9v0.9h-0.9zM234.0 190.5h0.9v0.9h-0.9zM233.1 177.2h0.9v0.9h-0.9zM217.8 178.0h0.9v0.9h-0.9zM210.4 195.0h0.9v0.9h-0.9zM233.7 182.3h0.9v0.9h-0.9zM217.0 204.4h0.9v0.9h-0.9zM209.6 194.4h0.9v0.9h-0.9zM232.3 176.4h0.9v0.9h-0.9zM207.9 182.8h0.9v0.9h-0.9zM230.0 198.3h0.9v0.9h-0.9zM227.8 178.4h0.9v0.9h-0.9zM210.9 195.6h0.9v0.9h-0.9zM221.6 177.6h0.9v0.9h-0.9zM219.0 206.7h0.9v0.9h-0.9zM208.7 181.9h0.9v0.9h-0.9zM230.9 178.3h0.9v0.9h-0.9zM224.2 178.6h0.9v0.9h-0.9zM210.8 198.1h0.9v0.9h-0.9zM226.6 204.8h0.9v0.9h-0.9zM223.2 209.1h0.9v0.9h-0.9zM214.1 180.1h0.9v0.9h-0.9zM234.3 179.4h0.9v0.9h-0.9zM208.1 194.4h0.9v0.9h-0.9zM225.6 205.4h0.9v0.9h-0.9zM216.2 204.1h0.9v0.9h-0.9zM232.1 196.8h0.9v0.9h-0.9zM225.5 178.0h0.9v0.9h-0.9zM209.0 191.6h0.9v0.9h-0.9zM230.7 176.7h0.9v0.9h-0.9zM221.9 178.1h0.9v0.9h-0.9zM223.6 208.4h0.9v0.9h-0.9zM214.0 179.6h0.9v0.9h-0.9zM216.3 203.7h0.9v0.9h-0.9zM220.2 207.3h0.9v0.9h-0.9zM234.7 185.9h0.9v0.9h-0.9zM230.4 197.9h0.9v0.9h-0.9zM231.6 195.1h0.9v0.9h-0.9zM213.1 180.4h0.9v0.9h-0.9zM213.6 178.1h0.9v0.9h-0.9zM234.7 182.3h0.9v0.9h-0.9zM208.5 183.8h0.9v0.9h-0.9zM223.4 177.1h0.9v0.9h-0.9zM235.6 183.9h0.9v0.9h-0.9zM227.2 207.3h0.9v0.9h-0.9zM230.0 197.9h0.9v0.9h-0.9zM221.9 177.7h0.9v0.9h-0.9zM216.7 203.3h0.9v0.9h-0.9zM214.3 201.3h0.9v0.9h-0.9zM225.1 211.2h0.9v0.9h-0.9zM221.1 207.6h0.9v0.9h-0.9zM230.1 177.1h0.9v0.9h-0.9zM211.7 198.8h0.9v0.9h-0.9zM226.9 202.9h0.9v0.9h-0.9zM222.6 178.2h0.9v0.9h-0.9zM221.8 209.1h0.9v0.9h-0.9zM224.6 207.4h0.9v0.9h-0.9zM228.5 201.6h0.9v0.9h-0.9zM231.6 193.4h0.9v0.9h-0.9zM214.8 204.6h0.9v0.9h-0.9zM218.7 205.3h0.9v0.9h-0.9zM228.9 204.9h0.9v0.9h-0.9zM212.5 180.3h0.9v0.9h-0.9zM227.4 178.8h0.9v0.9h-0.9zM208.4 185.7h0.9v0.9h-0.9zM234.6 187.9h0.9v0.9h-0.9zM224.8 207.0h0.9v0.9h-0.9zM218.9 178.9h0.9v0.9h-0.9zM230.1 203.2h0.9v0.9h-0.9zM226.3 205.8h0.9v0.9h-0.9zM216.2 204.8h0.9v0.9h-0.9zM208.9 187.5h0.9v0.9h-0.9zM232.9 192.1h0.9v0.9h-0.9zM234.5 179.4h0.9v0.9h-0.9zM220.7 176.4h0.9v0.9h-0.9zM235.0 181.5h0.9v0.9h-0.9zM232.3 191.8h0.9v0.9h-0.9zM208.2 187.3h0.9v0.9h-0.9zM230.3 196.9h0.9v0.9h-0.9zM222.5 209.1h0.9v0.9h-0.9zM218.0 206.3h0.9v0.9h-0.9zM208.9 182.9h0.9v0.9h-0.9zM227.2 178.7h0.9v0.9h-0.9zM231.3 201.3h0.9v0.9h-0.9zM212.1 180.7h0.9v0.9h-0.9zM220.9 179.3h0.9v0.9h-0.9zM216.8 204.6h0.9v0.9h-0.9zM222.0 208.9h0.9v0.9h-0.9zM219.0 178.8h0.9v0.9h-0.9zM217.1 178.6h0.9v0.9h-0.9zM211.4 197.9h0.9v0.9h-0.9zM230.9 193.8h0.9v0.9h-0.9zM235.5 179.6h0.9v0.9h-0.9zM219.2 206.7h0.9v0.9h-0.9zM222.1 209.6h0.9v0.9h-0.9zM208.1 185.1h0.9v0.9h-0.9zM215.9 178.6h0.9v0.9h-0.9zM215.8 203.4h0.9v0.9h-0.9zM232.6 192.3h0.9v0.9h-0.9zM229.0 177.9h0.9v0.9h-0.9zM231.2 196.2h0.9v0.9h-0.9zM209.5 182.0h0.9v0.9h-0.9zM217.7 179.1h0.9v0.9h-0.9zM216.7 179.0h0.9v0.9h-0.9zM221.7 207.7h0.9v0.9h-0.9zM218.2 208.5h0.9v0.9h-0.9zM229.2 179.3h0.9v0.9h-0.9zM235.3 178.8h0.9v0.9h-0.9zM215.2 203.7h0.9v0.9h-0.9zM235.4 186.4h0.9v0.9h-0.9zM236.2 183.0h0.9v0.9h-0.9zM208.1 188.8h0.9v0.9h-0.9zM228.5 199.4h0.9v0.9h-0.9zM229.5 200.0h0.9v0.9h-0.9zM225.8 204.9h0.9v0.9h-0.9zM210.5 180.8h0.9v0.9h-0.9zM234.0 187.3h0.9v0.9h-0.9zM214.7 202.3h0.9v0.9h-0.9zM224.0 208.7h0.9v0.9h-0.9zM208.2 195.1h0.9v0.9h-0.9zM233.6 179.9h0.9v0.9h-0.9zM233.9 194.6h0.9v0.9h-0.9zM222.8 178.3h0.9v0.9h-0.9zM214.4 179.8h0.9v0.9h-0.9zM224.4 178.2h0.9v0.9h-0.9zM221.7 179.3h0.9v0.9h-0.9zM233.3 191.1h0.9v0.9h-0.9zM233.4 189.4h0.9v0.9h-0.9zM215.7 203.3h0.9v0.9h-0.9zM214.5 202.7h0.9v0.9h-0.9zM229.0 199.5h0.9v0.9h-0.9zM223.2 207.9h0.9v0.9h-0.9zM231.2 193.2h0.9v0.9h-0.9zM233.0 179.9h0.9v0.9h-0.9zM230.7 196.5h0.9v0.9h-0.9zM224.9 206.3h0.9v0.9h-0.9zM208.5 188.6h0.9v0.9h-0.9zM212.5 200.9h0.9v0.9h-0.9zM212.4 179.1h0.9v0.9h-0.9zM226.9 208.8h0.9v0.9h-0.9zM214.6 179.1h0.9v0.9h-0.9zM226.5 206.2h0.9v0.9h-0.9zM210.8 198.0h0.9v0.9h-0.9zM220.4 207.4h0.9v0.9h-0.9zM217.9 176.2h0.9v0.9h-0.9zM232.2 189.4h0.9v0.9h-0.9zM223.8 177.8h0.9v0.9h-0.9zM223.6 209.9h0.9v0.9h-0.9zM219.7 207.8h0.9v0.9h-0.9zM217.7 205.6h0.9v0.9h-0.9zM234.4 182.9h0.9v0.9h-0.9zM228.0 206.0h0.9v0.9h-0.9zM225.5 178.2h0.9v0.9h-0.9zM209.5 190.9h0.9v0.9h-0.9zM208.3 189.9h0.9v0.9h-0.9zM209.3 181.5h0.9v0.9h-0.9zM228.3 202.0h0.9v0.9h-0.9zM219.0 206.0h0.9v0.9h-0.9zM227.7 176.9h0.9v0.9h-0.9zM209.2 178.6h0.9v0.9h-0.9zM209.3 184.1h0.9v0.9h-0.9zM220.0 206.0h0.9v0.9h-0.9zM209.3 183.2h0.9v0.9h-0.9zM236.7 186.3h0.9v0.9h-0.9zM214.0 201.3h0.9v0.9h-0.9zM211.2 179.4h0.9v0.9h-0.9zM219.8 207.6h0.9v0.9h-0.9zM232.2 189.9h0.9v0.9h-0.9zM233.4 186.6h0.9v0.9h-0.9zM231.3 195.3h0.9v0.9h-0.9zM235.0 182.8h0.9v0.9h-0.9zM211.2 196.1h0.9v0.9h-0.9zM222.3 210.6h0.9v0.9h-0.9zM234.4 185.5h0.9v0.9h-0.9zM217.7 178.5h0.9v0.9h-0.9zM231.3 195.7h0.9v0.9h-0.9zM207.7 184.1h0.9v0.9h-0.9zM209.9 194.3h0.9v0.9h-0.9zM212.3 179.6h0.9v0.9h-0.9zM234.2 182.9h0.9v0.9h-0.9zM231.4 193.4h0.9v0.9h-0.9zM233.7 188.4h0.9v0.9h-0.9zM216.7 180.2h0.9v0.9h-0.9zM222.8 176.7h0.9v0.9h-0.9zM229.1 199.2h0.9v0.9h-0.9zM219.2 205.6h0.9v0.9h-0.9zM218.6 208.5h0.9v0.9h-0.9zM222.8 208.5h0.9v0.9h-0.9zM221.6 210.6h0.9v0.9h-0.9zM208.3 183.3h0.9v0.9h-0.9zM226.9 178.9h0.9v0.9h-0.9zM234.5 182.1h0.9v0.9h-0.9zM230.2 177.7h0.9v0.9h-0.9zM233.9 186.1h0.9v0.9h-0.9zM234.9 187.6h0.9v0.9h-0.9zM236.1 181.9h0.9v0.9h-0.9zM208.4 182.4h0.9v0.9h-0.9zM210.2 196.2h0.9v0.9h-0.9zM227.1 206.4h0.9v0.9h-0.9zM230.6 178.7h0.9v0.9h-0.9zM233.0 192.1h0.9v0.9h-0.9zM209.4 192.4h0.9v0.9h-0.9zM227.1 205.0h0.9v0.9h-0.9zM221.6 208.0h0.9v0.9h-0.9zM221.2 207.6h0.9v0.9h-0.9zM208.1 186.3h0.9v0.9h-0.9zM224.6 209.2h0.9v0.9h-0.9zM216.5 178.0h0.9v0.9h-0.9zM230.4 197.1h0.9v0.9h-0.9zM209.1 190.8h0.9v0.9h-0.9zM218.7 179.8h0.9v0.9h-0.9zM211.8 181.0h0.9v0.9h-0.9zM210.6 178.6h0.9v0.9h-0.9zM212.9 176.9h0.9v0.9h-0.9zM221.7 178.6h0.9v0.9h-0.9zM213.7 204.7h0.9v0.9h-0.9zM226.0 204.7h0.9v0.9h-0.9zM219.2 205.3h0.9v0.9h-0.9zM233.0 203.2h0.9v0.9h-0.9zM234.6 182.8h0.9v0.9h-0.9zM213.6 203.4h0.9v0.9h-0.9zM222.2 177.7h0.9v0.9h-0.9zM234.9 184.0h0.9v0.9h-0.9zM233.6 189.4h0.9v0.9h-0.9zM221.1 210.5h0.9v0.9h-0.9zM216.7 203.8h0.9v0.9h-0.9zM227.6 201.9h0.9v0.9h-0.9zM226.9 205.1h0.9v0.9h-0.9zM232.7 177.0h0.9v0.9h-0.9zM227.0 204.3h0.9v0.9h-0.9zM212.3 197.7h0.9v0.9h-0.9zM232.0 191.0h0.9v0.9h-0.9zM216.3 205.8h0.9v0.9h-0.9zM230.2 196.8h0.9v0.9h-0.9zM229.5 197.2h0.9v0.9h-0.9zM225.8 204.6h0.9v0.9h-0.9zM219.2 178.4h0.9v0.9h-0.9zM226.7 178.5h0.9v0.9h-0.9zM222.5 178.9h0.9v0.9h-0.9zM230.1 200.3h0.9v0.9h-0.9zM221.5 210.6h0.9v0.9h-0.9zM219.6 207.1h0.9v0.9h-0.9zM226.3 176.1h0.9v0.9h-0.9zM234.0 182.0h0.9v0.9h-0.9zM219.8 178.5h0.9v0.9h-0.9zM224.4 208.9h0.9v0.9h-0.9zM233.4 189.9h0.9v0.9h-0.9zM231.3 178.0h0.9v0.9h-0.9zM227.5 178.6h0.9v0.9h-0.9zM208.2 188.9h0.9v0.9h-0.9zM230.5 194.1h0.9v0.9h-0.9zM236.3 178.6h0.9v0.9h-0.9zM225.9 179.1h0.9v0.9h-0.9zM220.1 206.3h0.9v0.9h-0.9zM208.6 192.4h0.9v0.9h-0.9zM221.7 178.9h0.9v0.9h-0.9zM208.3 198.2h0.9v0.9h-0.9zM228.2 203.8h0.9v0.9h-0.9zM207.9 193.1h0.9v0.9h-0.9zM209.2 189.6h0.9v0.9h-0.9zM234.1 190.5h0.9v0.9h-0.9zM208.3 190.2h0.9v0.9h-0.9zM222.4 179.3h0.9v0.9h-0.9zM233.0 191.5h0.9v0.9h-0.9zM232.9 191.3h0.9v0.9h-0.9zM228.7 177.2h0.9v0.9h-0.9zM231.4 194.8h0.9v0.9h-0.9zM216.6 204.4h0.9v0.9h-0.9zM217.3 180.0h0.9v0.9h-0.9zM230.8 195.0h0.9v0.9h-0.9zM229.6 198.4h0.9v0.9h-0.9zM224.2 178.3h0.9v0.9h-0.9zM224.7 207.9h0.9v0.9h-0.9zM229.3 178.6h0.9v0.9h-0.9zM227.5 201.7h0.9v0.9h-0.9zM228.4 202.1h0.9v0.9h-0.9zM215.7 206.0h0.9v0.9h-0.9zM208.5 190.2h0.9v0.9h-0.9zM208.6 190.5h0.9v0.9h-0.9zM230.0 196.0h0.9v0.9h-0.9zM230.4 177.2h0.9v0.9h-0.9zM213.6 203.9h0.9v0.9h-0.9zM216.6 204.1h0.9v0.9h-0.9zM213.6 202.2h0.9v0.9h-0.9zM212.5 199.5h0.9v0.9h-0.9zM230.8 203.1h0.9v0.9h-0.9zM209.4 193.6h0.9v0.9h-0.9zM225.3 210.1h0.9v0.9h-0.9zM225.8 207.5h0.9v0.9h-0.9zM211.0 199.6h0.9v0.9h-0.9zM225.6 209.5h0.9v0.9h-0.9zM215.8 204.3h0.9v0.9h-0.9zM209.3 190.5h0.9v0.9h-0.9zM236.6 187.6h0.9v0.9h-0.9zM217.1 204.1h0.9v0.9h-0.9zM233.9 177.2h0.9v0.9h-0.9zM231.7 195.1h0.9v0.9h-0.9zM209.8 195.5h0.9v0.9h-0.9zM207.8 186.2h0.9v0.9h-0.9zM208.9 189.1h0.9v0.9h-0.9zM215.4 205.0h0.9v0.9h-0.9zM211.4 197.1h0.9v0.9h-0.9zM210.0 194.6h0.9v0.9h-0.9zM226.3 205.1h0.9v0.9h-0.9zM228.5 179.5h0.9v0.9h-0.9zM209.3 182.4h0.9v0.9h-0.9zM216.6 204.2h0.9v0.9h-0.9zM216.6 203.7h0.9v0.9h-0.9zM217.7 207.3h0.9v0.9h-0.9zM227.4 202.6h0.9v0.9h-0.9zM224.5 210.4h0.9v0.9h-0.9zM219.1 206.2h0.9v0.9h-0.9zM230.9 199.7h0.9v0.9h-0.9zM223.6 208.3h0.9v0.9h-0.9zM226.7 178.0h0.9v0.9h-0.9zM230.6 198.8h0.9v0.9h-0.9zM225.7 207.7h0.9v0.9h-0.9zM229.7 203.1h0.9v0.9h-0.9zM229.8 177.4h0.9v0.9h-0.9zM217.9 177.7h0.9v0.9h-0.9zM225.2 209.7h0.9v0.9h-0.9zM216.3 179.6h0.9v0.9h-0.9zM214.9 200.8h0.9v0.9h-0.9zM223.4 178.8h0.9v0.9h-0.9zM216.9 202.6h0.9v0.9h-0.9zM236.0 183.0h0.9v0.9h-0.9zM209.2 193.1h0.9v0.9h-0.9zM227.3 178.4h0.9v0.9h-0.9zM220.8 178.4h0.9v0.9h-0.9zM222.2 209.1h0.9v0.9h-0.9zM215.6 203.4h0.9v0.9h-0.9zM236.9 183.6h0.9v0.9h-0.9zM231.8 193.9h0.9v0.9h-0.9zM223.2 208.4h0.9v0.9h-0.9zM233.9 178.8h0.9v0.9h-0.9zM234.4 186.7h0.9v0.9h-0.9zM228.5 201.5h0.9v0.9h-0.9zM234.2 179.0h0.9v0.9h-0.9zM219.9 178.2h0.9v0.9h-0.9zM208.7 192.8h0.9v0.9h-0.9zM217.3 177.9h0.9v0.9h-0.9zM208.8 184.2h0.9v0.9h-0.9zM211.7 198.2h0.9v0.9h-0.9zM232.6 191.6h0.9v0.9h-0.9zM211.5 196.4h0.9v0.9h-0.9zM212.7 180.8h0.9v0.9h-0.9zM228.7 201.8h0.9v0.9h-0.9zM235.7 183.5h0.9v0.9h-0.9zM234.1 179.1h0.9v0.9h-0.9zM209.6 193.2h0.9v0.9h-0.9zM209.7 180.3h0.9v0.9h-0.9zM209.9 196.6h0.9v0.9h-0.9zM213.3 179.6h0.9v0.9h-0.9zM222.2 209.9h0.9v0.9h-0.9zM232.8 178.7h0.9v0.9h-0.9zM229.3 198.5h0.9v0.9h-0.9zM209.4 190.1h0.9v0.9h-0.9zM214.1 200.8h0.9v0.9h-0.9zM215.6 178.5h0.9v0.9h-0.9zM235.7 178.8h0.9v0.9h-0.9zM231.9 195.2h0.9v0.9h-0.9zM219.8 206.7h0.9v0.9h-0.9zM208.8 183.5h0.9v0.9h-0.9zM210.6 196.6h0.9v0.9h-0.9zM210.2 198.4h0.9v0.9h-0.9zM224.8 178.2h0.9v0.9h-0.9zM226.2 178.5h0.9v0.9h-0.9zM212.4 198.7h0.9v0.9h-0.9zM231.4 198.4h0.9v0.9h-0.9zM229.7 176.4h0.9v0.9h-0.9zM208.6 182.7h0.9v0.9h-0.9zM226.2 178.3h0.9v0.9h-0.9zM222.6 208.6h0.9v0.9h-0.9zM217.8 205.2h0.9v0.9h-0.9zM235.4 183.7h0.9v0.9h-0.9zM208.8 191.8h0.9v0.9h-0.9zM230.4 196.8h0.9v0.9h-0.9zM229.9 197.7h0.9v0.9h-0.9zM234.4 187.3h0.9v0.9h-0.9zM235.8 188.1h0.9v0.9h-0.9zM236.3 184.5h0.9v0.9h-0.9zM212.3 199.5h0.9v0.9h-0.9zM231.8 191.0h0.9v0.9h-0.9zM227.8 177.1h0.9v0.9h-0.9zM232.8 190.3h0.9v0.9h-0.9zM209.0 190.3h0.9v0.9h-0.9zM225.6 207.8h0.9v0.9h-0.9zM215.6 176.9h0.9v0.9h-0.9zM233.4 188.7h0.9v0.9h-0.9zM231.6 192.8h0.9v0.9h-0.9zM208.3 181.9h0.9v0.9h-0.9zM207.9 187.5h0.9v0.9h-0.9zM209.1 191.4h0.9v0.9h-0.9zM215.5 179.7h0.9v0.9h-0.9zM229.3 199.9h0.9v0.9h-0.9zM234.5 179.4h0.9v0.9h-0.9zM226.0 179.0h0.9v0.9h-0.9zM231.6 178.7h0.9v0.9h-0.9zM211.0 178.8h0.9v0.9h-0.9zM221.5 207.4h0.9v0.9h-0.9zM235.0 184.3h0.9v0.9h-0.9zM220.8 207.5h0.9v0.9h-0.9zM212.2 201.1h0.9v0.9h-0.9zM228.4 201.4h0.9v0.9h-0.9zM234.2 182.3h0.9v0.9h-0.9zM219.2 178.7h0.9v0.9h-0.9zM224.5 209.0h0.9v0.9h-0.9zM223.0 208.7h0.9v0.9h-0.9zM214.9 203.2h0.9v0.9h-0.9zM219.7 179.8h0.9v0.9h-0.9zM210.6 180.0h0.9v0.9h-0.9zM209.6 195.3h0.9v0.9h-0.9zM226.8 205.6h0.9v0.9h-0.9zM214.7 178.7h0.9v0.9h-0.9zM220.1 206.8h0.9v0.9h-0.9zM211.6 179.5h0.9v0.9h-0.9zM226.1 207.4h0.9v0.9h-0.9zM229.5 201.4h0.9v0.9h-0.9zM219.9 206.1h0.9v0.9h-0.9zM215.6 177.4h0.9v0.9h-0.9zM209.8 193.1h0.9v0.9h-0.9zM208.2 189.6h0.9v0.9h-0.9zM215.7 203.3h0.9v0.9h-0.9zM235.4 179.6h0.9v0.9h-0.9zM208.3 186.4h0.9v0.9h-0.9zM226.0 206.6h0.9v0.9h-0.9zM219.6 206.6h0.9v0.9h-0.9zM224.1 209.9h0.9v0.9h-0.9zM225.4 178.5h0.9v0.9h-0.9zM211.9 197.0h0.9v0.9h-0.9zM225.1 208.5h0.9v0.9h-0.9zM227.2 178.8h0.9v0.9h-0.9zM234.0 185.4h0.9v0.9h-0.9zM219.5 179.2h0.9v0.9h-0.9zM232.4 190.8h0.9v0.9h-0.9zM208.8 185.0h0.9v0.9h-0.9zM234.6 186.6h0.9v0.9h-0.9zM233.9 186.1h0.9v0.9h-0.9zM214.7 200.9h0.9v0.9h-0.9zM213.7 179.1h0.9v0.9h-0.9zM217.5 176.6h0.9v0.9h-0.9zM216.5 205.9h0.9v0.9h-0.9zM218.0 179.4h0.9v0.9h-0.9zM226.1 205.9h0.9v0.9h-0.9zM212.1 199.9h0.9v0.9h-0.9zM227.4 201.8h0.9v0.9h-0.9zM213.1 179.7h0.9v0.9h-0.9zM225.6 179.1h0.9v0.9h-0.9zM230.6 200.6h0.9v0.9h-0.9zM208.4 188.6h0.9v0.9h-0.9zM223.5 208.5h0.9v0.9h-0.9zM220.8 207.5h0.9v0.9h-0.9zM228.4 204.8h0.9v0.9h-0.9zM234.0 181.1h0.9v0.9h-0.9zM227.5 205.5h0.9v0.9h-0.9zM208.5 183.1h0.9v0.9h-0.9zM232.7 188.5h0.9v0.9h-0.9zM211.5 201.5h0.9v0.9h-0.9zM225.5 178.2h0.9v0.9h-0.9zM225.5 209.0h0.9v0.9h-0.9zM219.1 207.3h0.9v0.9h-0.9zM220.3 178.7h0.9v0.9h-0.9zM209.0 198.2h0.9v0.9h-0.9zM229.0 178.4h0.9v0.9h-0.9zM207.5 186.9h0.9v0.9h-0.9zM234.3 181.8h0.9v0.9h-0.9zM225.8 204.7h0.9v0.9h-0.9zM211.2 200.7h0.9v0.9h-0.9zM232.9 195.0h0.9v0.9h-0.9zM224.3 179.1h0.9v0.9h-0.9zM225.8 205.9h0.9v0.9h-0.9zM227.1 203.8h0.9v0.9h-0.9zM212.0 179.1h0.9v0.9h-0.9zM235.8 186.4h0.9v0.9h-0.9zM208.7 191.2h0.9v0.9h-0.9zM229.1 198.0h0.9v0.9h-0.9zM222.7 178.3h0.9v0.9h-0.9zM224.8 207.9h0.9v0.9h-0.9zM232.2 192.3h0.9v0.9h-0.9zM209.1 192.5h0.9v0.9h-0.9zM231.3 195.7h0.9v0.9h-0.9zM208.6 181.4h0.9v0.9h-0.9zM222.0 178.2h0.9v0.9h-0.9zM235.2 184.1h0.9v0.9h-0.9zM234.6 183.0h0.9v0.9h-0.9zM207.9 186.1h0.9v0.9h-0.9zM225.3 177.6h0.9v0.9h-0.9zM226.3 206.5h0.9v0.9h-0.9zM207.6 189.1h0.9v0.9h-0.9zM209.8 192.2h0.9v0.9h-0.9zM221.2 178.7h0.9v0.9h-0.9zM231.4 193.6h0.9v0.9h-0.9zM229.4 179.6h0.9v0.9h-0.9zM221.6 207.0h0.9v0.9h-0.9zM228.7 177.1h0.9v0.9h-0.9zM222.9 178.7h0.9v0.9h-0.9zM230.9 179.4h0.9v0.9h-0.9zM218.8 179.1h0.9v0.9h-0.9zM219.1 205.9h0.9v0.9h-0.9zM232.1 178.4h0.9v0.9h-0.9zM234.0 187.0h0.9v0.9h-0.9zM231.8 177.6h0.9v0.9h-0.9zM235.6 185.7h0.9v0.9h-0.9zM235.3 178.5h0.9v0.9h-0.9zM234.2 183.3h0.9v0.9h-0.9zM218.3 208.7h0.9v0.9h-0.9zM222.5 178.4h0.9v0.9h-0.9zM221.9 208.5h0.9v0.9h-0.9zM234.2 182.7h0.9v0.9h-0.9zM215.7 179.3h0.9v0.9h-0.9zM217.3 178.9h0.9v0.9h-0.9zM208.2 192.7h0.9v0.9h-0.9zM209.6 180.2h0.9v0.9h-0.9zM231.9 177.6h0.9v0.9h-0.9zM210.5 196.9h0.9v0.9h-0.9zM213.8 178.8h0.9v0.9h-0.9zM225.4 178.7h0.9v0.9h-0.9zM232.3 178.9h0.9v0.9h-0.9zM211.7 199.3h0.9v0.9h-0.9zM217.1 177.2h0.9v0.9h-0.9zM208.0 189.1h0.9v0.9h-0.9zM217.4 180.2h0.9v0.9h-0.9zM227.3 201.8h0.9v0.9h-0.9zM215.1 202.6h0.9v0.9h-0.9zM229.2 201.3h0.9v0.9h-0.9zM230.3 196.4h0.9v0.9h-0.9zM232.4 190.2h0.9v0.9h-0.9zM229.3 176.2h0.9v0.9h-0.9zM233.8 187.6h0.9v0.9h-0.9zM224.4 207.9h0.9v0.9h-0.9zM228.1 202.6h0.9v0.9h-0.9zM209.2 186.4h0.9v0.9h-0.9zM228.9 177.9h0.9v0.9h-0.9zM219.9 177.1h0.9v0.9h-0.9zM208.9 194.3h0.9v0.9h-0.9zM230.3 197.7h0.9v0.9h-0.9zM227.3 208.7h0.9v0.9h-0.9zM224.7 206.7h0.9v0.9h-0.9zM213.9 203.3h0.9v0.9h-0.9zM209.0 199.1h0.9v0.9h-0.9zM219.5 208.2h0.9v0.9h-0.9zM208.6 183.6h0.9v0.9h-0.9zM210.7 199.9h0.9v0.9h-0.9zM210.2 180.4h0.9v0.9h-0.9zM210.6 197.6h0.9v0.9h-0.9zM207.8 183.4h0.9v0.9h-0.9zM214.5 204.1h0.9v0.9h-0.9zM225.5 207.0h0.9v0.9h-0.9zM208.1 181.9h0.9v0.9h-0.9zM216.7 204.4h0.9v0.9h-0.9zM227.6 202.6h0.9v0.9h-0.9zM217.0 178.6h0.9v0.9h-0.9zM210.3 194.7h0.9v0.9h-0.9zM226.6 203.0h0.9v0.9h-0.9zM232.3 192.6h0.9v0.9h-0.9zM208.8 188.8h0.9v0.9h-0.9zM225.1 176.6h0.9v0.9h-0.9zM222.3 176.1h0.9v0.9h-0.9zM209.7 194.3h0.9v0.9h-0.9zM221.3 178.9h0.9v0.9h-0.9zM212.6 201.0h0.9v0.9h-0.9zM225.8 177.8h0.9v0.9h-0.9zM212.8 200.0h0.9v0.9h-0.9zM234.2 188.4h0.9v0.9h-0.9zM226.7 206.4h0.9v0.9h-0.9zM226.2 204.8h0.9v0.9h-0.9zM233.6 187.5h0.9v0.9h-0.9zM230.1 197.3h0.9v0.9h-0.9zM224.6 208.5h0.9v0.9h-0.9zM218.9 177.8h0.9v0.9h-0.9zM208.8 191.4h0.9v0.9h-0.9zM213.3 199.1h0.9v0.9h-0.9zM225.3 177.5h0.9v0.9h-0.9zM226.8 177.8h0.9v0.9h-0.9zM232.6 185.7h0.9v0.9h-0.9zM215.6 203.4h0.9v0.9h-0.9zM230.5 198.2h0.9v0.9h-0.9zM235.4 178.7h0.9v0.9h-0.9zM215.0 204.4h0.9v0.9h-0.9zM224.0 177.3h0.9v0.9h-0.9zM219.6 207.8h0.9v0.9h-0.9zM215.7 204.8h0.9v0.9h-0.9zM215.3 180.1h0.9v0.9h-0.9zM227.8 202.7h0.9v0.9h-0.9zM227.1 204.4h0.9v0.9h-0.9zM208.1 186.5h0.9v0.9h-0.9zM234.2 179.4h0.9v0.9h-0.9zM232.9 192.8h0.9v0.9h-0.9zM208.8 190.0h0.9v0.9h-0.9zM218.5 177.6h0.9v0.9h-0.9zM210.6 193.3h0.9v0.9h-0.9zM234.2 184.5h0.9v0.9h-0.9zM236.9 182.3h0.9v0.9h-0.9zM208.6 183.9h0.9v0.9h-0.9zM234.9 186.9h0.9v0.9h-0.9zM226.7 178.2h0.9v0.9h-0.9zM221.5 208.1h0.9v0.9h-0.9zM224.6 207.5h0.9v0.9h-0.9zM228.9 177.3h0.9v0.9h-0.9zM232.4 195.9h0.9v0.9h-0.9zM232.6 177.1h0.9v0.9h-0.9zM210.3 198.8h0.9v0.9h-0.9zM235.3 183.5h0.9v0.9h-0.9zM226.1 207.0h0.9v0.9h-0.9zM209.2 192.2h0.9v0.9h-0.9zM228.3 177.8h0.9v0.9h-0.9zM208.1 189.1h0.9v0.9h-0.9zM230.9 195.1h0.9v0.9h-0.9zM224.6 208.6h0.9v0.9h-0.9zM230.9 176.9h0.9v0.9h-0.9zM221.0 208.2h0.9v0.9h-0.9zM218.5 205.6h0.9v0.9h-0.9zM228.0 204.4h0.9v0.9h-0.9zM210.9 195.7h0.9v0.9h-0.9zM232.1 194.3h0.9v0.9h-0.9zM209.2 182.5h0.9v0.9h-0.9zM208.6 193.0h0.9v0.9h-0.9zM228.6 202.0h0.9v0.9h-0.9zM227.7 207.3h0.9v0.9h-0.9zM227.1 203.7h0.9v0.9h-0.9zM210.3 180.6h0.9v0.9h-0.9zM232.7 177.3h0.9v0.9h-0.9zM214.3 177.9h0.9v0.9h-0.9zM226.3 209.5h0.9v0.9h-0.9zM211.1 196.1h0.9v0.9h-0.9zM223.6 209.6h0.9v0.9h-0.9zM212.6 200.8h0.9v0.9h-0.9zM235.1 181.4h0.9v0.9h-0.9zM208.5 180.8h0.9v0.9h-0.9zM232.8 188.1h0.9v0.9h-0.9zM221.5 179.0h0.9v0.9h-0.9zM235.0 178.6h0.9v0.9h-0.9zM228.2 177.0h0.9v0.9h-0.9zM222.9 177.6h0.9v0.9h-0.9zM221.0 209.2h0.9v0.9h-0.9zM227.1 204.4h0.9v0.9h-0.9zM211.3 201.1h0.9v0.9h-0.9zM207.8 184.7h0.9v0.9h-0.9zM227.9 178.0h0.9v0.9h-0.9zM207.7 190.4h0.9v0.9h-0.9z" fill="#1a1aff" opacity="0.6"/>
<path d="M208.70 184.00C208.85 182.87 208.97 181.87 209.60 181.20C210.23 180.53 211.10 180.32 212.50 180.00C213.90 179.68 215.92 179.52 218.00 179.30C220.08 179.08 222.83 178.87 225.00 178.70C227.17 178.53 229.50 178.32 231.00 178.30C232.50 178.28 233.37 178.23 234.00 178.60C234.63 178.97 234.80 179.27 234.80 180.50C234.80 181.73 234.47 184.00 234.00 186.00C233.53 188.00 232.80 190.28 232.00 192.50C231.20 194.72 230.17 197.18 229.20 199.30C228.23 201.42 227.03 203.65 226.20 205.20C225.37 206.75 224.73 207.92 224.20 208.60C223.67 209.28 223.65 209.52 223.00 209.30C222.35 209.08 221.47 208.27 220.30 207.30C219.13 206.33 217.38 204.97 216.00 203.50C214.62 202.03 213.07 200.25 212.00 198.50C210.93 196.75 210.15 194.75 209.60 193.00C209.05 191.25 208.85 189.50 208.70 188.00C208.55 186.50 208.55 185.13 208.70 184.00Z" fill="#0008ff" filter="url(#fg2)"/>
<path d="M208.70 184.00C208.85 182.87 208.97 181.87 209.60 181.20C210.23 180.53 211.10 180.32 212.50 180.00C213.90 179.68 215.92 179.52 218.00 179.30C220.08 179.08 222.83 178.87 225.00 178.70C227.17 178.53 229.50 178.32 231.00 178.30C232.50 178.28 233.37 178.23 234.00 178.60C234.63 178.97 234.80 179.27 234.80 180.50C234.80 181.73 234.47 184.00 234.00 186.00C233.53 188.00 232.80 190.28 232.00 192.50C231.20 194.72 230.17 197.18 229.20 199.30C228.23 201.42 227.03 203.65 226.20 205.20C225.37 206.75 224.73 207.92 224.20 208.60C223.67 209.28 223.65 209.52 223.00 209.30C222.35 209.08 221.47 208.27 220.30 207.30C219.13 206.33 217.38 204.97 216.00 203.50C214.62 202.03 213.07 200.25 212.00 198.50C210.93 196.75 210.15 194.75 209.60 193.00C209.05 191.25 208.85 189.50 208.70 188.00C208.55 186.50 208.55 185.13 208.70 184.00Z" fill="#0008ff" transform="translate(222.7 193.7) scale(0.88) translate(-222.7 -193.7)"/>
<ellipse cx="222.7" cy="193.7" rx="9.98" ry="14.23" transform="rotate(4 222.7 193.7)" fill="url(#g2)"/>
<rect x="321.6" y="175.0" width="73.30" height="72.00" fill="none" stroke="#c4c4c4" stroke-width="0.8"/>
<path d="M321.6 175.0V247.0H394.9" stroke="#777" stroke-width="0.8" fill="none"/>
<path d="M319.40 182.20H321.6M387.62 247.0V249.20M319.40 199.40H321.6M370.74 247.0V249.20M319.40 219.50H321.6M350.72 247.0V249.20M319.40 231.00H321.6M338.28 247.0V249.20M319.40 241.80H321.6M324.53 247.0V249.20M320.40 213.45H321.6M356.74 247.0V248.20M320.40 209.91H321.6M360.27 247.0V248.20M320.40 207.40H321.6M362.77 247.0V248.20M320.40 205.45H321.6M364.71 247.0V248.20M320.40 203.86H321.6M366.30 247.0V248.20M320.40 202.51H321.6M367.64 247.0V248.20M320.40 201.35H321.6M368.80 247.0V248.20M320.40 200.32H321.6M369.82 247.0V248.20M320.40 194.22H321.6M375.82 247.0V248.20M320.40 191.19H321.6M378.79 247.0V248.20M320.40 189.04H321.6M380.90 247.0V248.20M320.40 187.38H321.6M382.54 247.0V248.20M320.40 186.02H321.6M383.87 247.0V248.20M320.40 184.86H321.6M385.01 247.0V248.20M320.40 183.87H321.6M385.98 247.0V248.20M320.40 182.99H321.6M386.85 247.0V248.20" stroke="#555" stroke-width="0.6" fill="none"/>
<rect x="319.40" y="229.60" width="1.8" height="2.8" fill="#111"/>
<rect x="336.88" y="247.30" width="2.8" height="1.8" fill="#111"/>
<text x="312.80" y="187.10" font-size="6.6" text-anchor="end" fill="#333" >10</text>
<text x="312.90" y="184.10" font-size="4.8" text-anchor="start" fill="#333" >5</text>
<text x="312.80" y="204.30" font-size="6.6" text-anchor="end" fill="#333" >10</text>
<text x="312.90" y="201.30" font-size="4.8" text-anchor="start" fill="#333" >4</text>
<text x="312.80" y="224.40" font-size="6.6" text-anchor="end" fill="#333" >10</text>
<text x="312.90" y="221.40" font-size="4.8" text-anchor="start" fill="#333" >3</text>
<text x="312.70" y="234.60" font-size="6.3" text-anchor="end" fill="#333" >0</text>
<text x="312.80" y="246.70" font-size="6.6" text-anchor="end" fill="#333" >-10</text>
<text x="312.90" y="243.70" font-size="4.8" text-anchor="start" fill="#333" >3</text>
<text x="325.53" y="261.30" font-size="6.6" text-anchor="middle" fill="#333" >-10</text>
<text x="329.43" y="258.10" font-size="4.8" text-anchor="start" fill="#333" >3</text>
<text x="338.88" y="261.50" font-size="6.4" text-anchor="middle" fill="#333" >0</text>
<text x="348.92" y="261.30" font-size="6.6" text-anchor="middle" fill="#333" >10</text>
<text x="352.72" y="258.10" font-size="4.8" text-anchor="start" fill="#333" >3</text>
<text x="368.94" y="261.30" font-size="6.6" text-anchor="middle" fill="#333" >10</text>
<text x="372.74" y="258.10" font-size="4.8" text-anchor="start" fill="#333" >4</text>
<text x="385.82" y="261.30" font-size="6.6" text-anchor="middle" fill="#333" >10</text>
<text x="389.62" y="258.10" font-size="4.8" text-anchor="start" fill="#333" >5</text>
<text x="357.58" y="272.90" font-size="9.0" text-anchor="middle" fill="#1a1a1a" textLength="19.8" lengthAdjust="spacingAndGlyphs" >IL-17A</text>
<text transform="translate(298.20 210.20) rotate(-90)" font-size="10.2" text-anchor="middle" fill="#1a1a1a" textLength="13.9" lengthAdjust="spacingAndGlyphs">Treg</text>
<text x="321.20" y="169.90" font-size="9.6" text-anchor="start" fill="#222" textLength="69.9" lengthAdjust="spacingAndGlyphs" >Expanded Treg B</text>
<rect x="354.2" y="175.8" width="40.40" height="41.00" fill="none" stroke="#555" stroke-width="0.9"/>
<text x="376.00" y="226.75" font-size="5.7" text-anchor="middle" fill="#2a2a2a" >IL-17A+</text>
<text x="376.00" y="233.85" font-size="5.7" text-anchor="middle" fill="#2a2a2a" >0.87</text>
<path d="M361.9 186.4h0.9v0.9h-0.9zM373.0 197.2h0.9v0.9h-0.9zM362.7 192.6h0.9v0.9h-0.9zM378.0 192.5h0.9v0.9h-0.9zM366.2 179.5h0.9v0.9h-0.9zM377.6 194.3h0.9v0.9h-0.9zM367.7 188.3h0.9v0.9h-0.9zM356.4 190.2h0.9v0.9h-0.9zM365.8 196.7h0.9v0.9h-0.9zM356.7 198.6h0.9v0.9h-0.9zM367.0 197.2h0.9v0.9h-0.9zM358.7 192.7h0.9v0.9h-0.9zM376.7 191.4h0.9v0.9h-0.9zM354.6 189.0h0.9v0.9h-0.9zM371.1 183.2h0.9v0.9h-0.9zM354.8 192.1h0.9v0.9h-0.9zM358.9 194.5h0.9v0.9h-0.9zM357.0 180.8h0.9v0.9h-0.9zM360.3 198.9h0.9v0.9h-0.9zM359.6 190.8h0.9v0.9h-0.9zM368.7 185.6h0.9v0.9h-0.9zM375.6 191.7h0.9v0.9h-0.9zM370.3 181.7h0.9v0.9h-0.9zM352.3 175.9h0.9v0.9h-0.9zM365.1 189.6h0.9v0.9h-0.9zM372.6 198.8h0.9v0.9h-0.9zM364.6 189.3h0.9v0.9h-0.9zM370.4 199.1h0.9v0.9h-0.9zM359.9 194.2h0.9v0.9h-0.9zM364.7 189.0h0.9v0.9h-0.9zM373.4 186.5h0.9v0.9h-0.9zM357.9 194.4h0.9v0.9h-0.9zM366.5 189.4h0.9v0.9h-0.9zM365.6 193.5h0.9v0.9h-0.9zM363.7 194.9h0.9v0.9h-0.9zM370.1 198.8h0.9v0.9h-0.9zM377.1 195.4h0.9v0.9h-0.9zM365.0 191.4h0.9v0.9h-0.9zM361.8 206.2h0.9v0.9h-0.9zM364.9 193.8h0.9v0.9h-0.9zM377.9 183.4h0.9v0.9h-0.9zM359.9 188.7h0.9v0.9h-0.9zM358.6 184.0h0.9v0.9h-0.9zM362.5 197.8h0.9v0.9h-0.9zM372.7 191.0h0.9v0.9h-0.9zM367.0 181.8h0.9v0.9h-0.9zM372.4 193.1h0.9v0.9h-0.9zM357.9 191.9h0.9v0.9h-0.9zM365.2 188.0h0.9v0.9h-0.9zM358.6 187.2h0.9v0.9h-0.9zM359.0 193.3h0.9v0.9h-0.9zM369.7 192.6h0.9v0.9h-0.9zM365.2 188.6h0.9v0.9h-0.9zM383.5 180.8h0.9v0.9h-0.9zM376.6 192.7h0.9v0.9h-0.9zM367.3 188.1h0.9v0.9h-0.9zM365.0 184.4h0.9v0.9h-0.9zM355.4 190.2h0.9v0.9h-0.9zM353.2 195.4h0.9v0.9h-0.9zM354.0 192.3h0.9v0.9h-0.9zM368.5 191.4h0.9v0.9h-0.9zM370.2 194.9h0.9v0.9h-0.9zM373.9 200.5h0.9v0.9h-0.9zM367.0 195.5h0.9v0.9h-0.9zM353.5 190.1h0.9v0.9h-0.9zM356.8 198.4h0.9v0.9h-0.9zM385.9 193.8h0.9v0.9h-0.9zM356.1 190.3h0.9v0.9h-0.9zM367.0 191.9h0.9v0.9h-0.9zM375.7 196.0h0.9v0.9h-0.9zM345.1 198.2h0.9v0.9h-0.9zM362.7 187.8h0.9v0.9h-0.9zM378.4 189.4h0.9v0.9h-0.9zM355.6 183.7h0.9v0.9h-0.9zM367.3 195.8h0.9v0.9h-0.9zM379.1 189.9h0.9v0.9h-0.9zM363.0 199.6h0.9v0.9h-0.9zM363.1 198.7h0.9v0.9h-0.9zM368.7 192.2h0.9v0.9h-0.9zM364.9 192.5h0.9v0.9h-0.9zM363.0 187.2h0.9v0.9h-0.9zM365.7 187.4h0.9v0.9h-0.9zM369.3 191.3h0.9v0.9h-0.9zM364.7 189.8h0.9v0.9h-0.9zM364.9 200.3h0.9v0.9h-0.9zM366.7 187.7h0.9v0.9h-0.9zM364.4 194.5h0.9v0.9h-0.9zM365.2 190.1h0.9v0.9h-0.9zM364.7 191.8h0.9v0.9h-0.9zM370.0 193.3h0.9v0.9h-0.9zM353.4 185.1h0.9v0.9h-0.9zM345.3 195.2h0.9v0.9h-0.9zM375.9 197.9h0.9v0.9h-0.9zM368.0 197.1h0.9v0.9h-0.9zM366.5 190.2h0.9v0.9h-0.9zM354.2 186.6h0.9v0.9h-0.9zM362.0 195.8h0.9v0.9h-0.9zM380.4 188.3h0.9v0.9h-0.9zM369.9 192.4h0.9v0.9h-0.9zM360.5 181.6h0.9v0.9h-0.9zM360.6 183.1h0.9v0.9h-0.9zM364.2 190.1h0.9v0.9h-0.9zM365.3 190.0h0.9v0.9h-0.9zM370.8 185.8h0.9v0.9h-0.9zM374.1 181.8h0.9v0.9h-0.9zM367.3 193.0h0.9v0.9h-0.9zM360.3 182.3h0.9v0.9h-0.9zM372.0 187.2h0.9v0.9h-0.9zM373.2 195.0h0.9v0.9h-0.9zM366.7 190.8h0.9v0.9h-0.9zM374.9 192.9h0.9v0.9h-0.9zM359.1 191.8h0.9v0.9h-0.9zM371.3 191.9h0.9v0.9h-0.9zM368.3 190.1h0.9v0.9h-0.9zM365.8 185.8h0.9v0.9h-0.9zM355.1 196.9h0.9v0.9h-0.9zM361.6 192.0h0.9v0.9h-0.9zM354.5 191.7h0.9v0.9h-0.9zM360.0 206.8h0.9v0.9h-0.9zM358.5 185.7h0.9v0.9h-0.9zM374.5 197.0h0.9v0.9h-0.9zM349.6 192.2h0.9v0.9h-0.9zM373.9 184.3h0.9v0.9h-0.9zM372.3 188.0h0.9v0.9h-0.9zM358.6 189.0h0.9v0.9h-0.9zM363.0 183.4h0.9v0.9h-0.9zM385.0 188.4h0.9v0.9h-0.9zM360.7 195.4h0.9v0.9h-0.9zM366.2 198.0h0.9v0.9h-0.9zM364.6 192.7h0.9v0.9h-0.9zM367.5 191.7h0.9v0.9h-0.9zM365.1 190.3h0.9v0.9h-0.9zM380.4 187.2h0.9v0.9h-0.9zM362.3 189.0h0.9v0.9h-0.9zM371.4 193.0h0.9v0.9h-0.9zM374.4 183.7h0.9v0.9h-0.9zM368.9 189.9h0.9v0.9h-0.9zM364.4 191.7h0.9v0.9h-0.9zM350.7 192.3h0.9v0.9h-0.9zM367.9 183.2h0.9v0.9h-0.9zM366.0 199.1h0.9v0.9h-0.9zM363.6 194.0h0.9v0.9h-0.9zM364.9 186.5h0.9v0.9h-0.9zM359.3 188.7h0.9v0.9h-0.9zM377.3 195.2h0.9v0.9h-0.9zM361.0 196.2h0.9v0.9h-0.9zM365.7 187.1h0.9v0.9h-0.9zM370.3 186.0h0.9v0.9h-0.9zM354.0 197.8h0.9v0.9h-0.9zM351.9 193.7h0.9v0.9h-0.9zM354.4 190.7h0.9v0.9h-0.9zM365.2 188.5h0.9v0.9h-0.9zM349.0 190.3h0.9v0.9h-0.9zM366.5 186.1h0.9v0.9h-0.9zM366.2 196.2h0.9v0.9h-0.9zM361.0 192.2h0.9v0.9h-0.9zM357.5 192.9h0.9v0.9h-0.9zM372.0 204.1h0.9v0.9h-0.9zM374.1 193.2h0.9v0.9h-0.9zM378.2 185.6h0.9v0.9h-0.9zM375.5 188.0h0.9v0.9h-0.9zM361.8 196.7h0.9v0.9h-0.9zM368.7 197.9h0.9v0.9h-0.9zM355.1 192.3h0.9v0.9h-0.9zM362.6 189.4h0.9v0.9h-0.9zM351.4 195.9h0.9v0.9h-0.9zM368.5 185.6h0.9v0.9h-0.9zM355.9 186.3h0.9v0.9h-0.9zM378.1 190.4h0.9v0.9h-0.9zM364.1 193.5h0.9v0.9h-0.9zM366.9 192.1h0.9v0.9h-0.9zM372.9 192.7h0.9v0.9h-0.9zM373.9 184.6h0.9v0.9h-0.9zM367.4 189.0h0.9v0.9h-0.9zM367.7 190.7h0.9v0.9h-0.9zM361.8 189.1h0.9v0.9h-0.9zM374.5 188.0h0.9v0.9h-0.9zM356.9 194.1h0.9v0.9h-0.9zM374.7 189.5h0.9v0.9h-0.9zM368.0 186.5h0.9v0.9h-0.9zM365.3 196.8h0.9v0.9h-0.9zM373.4 191.8h0.9v0.9h-0.9zM364.7 182.3h0.9v0.9h-0.9zM369.5 193.4h0.9v0.9h-0.9zM375.4 201.6h0.9v0.9h-0.9zM370.0 196.0h0.9v0.9h-0.9zM358.0 197.4h0.9v0.9h-0.9zM374.0 198.2h0.9v0.9h-0.9zM372.4 193.4h0.9v0.9h-0.9zM378.9 187.5h0.9v0.9h-0.9zM372.2 196.7h0.9v0.9h-0.9zM360.7 184.9h0.9v0.9h-0.9zM370.5 191.7h0.9v0.9h-0.9zM371.9 194.4h0.9v0.9h-0.9zM360.9 192.8h0.9v0.9h-0.9zM376.1 189.2h0.9v0.9h-0.9zM364.8 185.1h0.9v0.9h-0.9zM373.6 201.3h0.9v0.9h-0.9zM356.1 195.1h0.9v0.9h-0.9zM374.3 188.1h0.9v0.9h-0.9zM364.1 185.6h0.9v0.9h-0.9zM360.8 191.9h0.9v0.9h-0.9zM372.3 191.7h0.9v0.9h-0.9zM374.0 192.2h0.9v0.9h-0.9zM357.8 198.7h0.9v0.9h-0.9zM376.6 187.3h0.9v0.9h-0.9zM381.3 193.6h0.9v0.9h-0.9zM368.2 201.2h0.9v0.9h-0.9zM347.2 182.7h0.9v0.9h-0.9zM372.8 189.8h0.9v0.9h-0.9zM359.6 199.1h0.9v0.9h-0.9zM371.1 184.4h0.9v0.9h-0.9zM361.9 195.6h0.9v0.9h-0.9zM381.5 180.6h0.9v0.9h-0.9zM369.2 189.1h0.9v0.9h-0.9zM353.2 190.3h0.9v0.9h-0.9zM354.4 188.3h0.9v0.9h-0.9zM380.2 193.9h0.9v0.9h-0.9zM373.5 194.3h0.9v0.9h-0.9zM370.1 196.3h0.9v0.9h-0.9zM357.9 189.3h0.9v0.9h-0.9zM374.1 187.3h0.9v0.9h-0.9zM363.8 197.5h0.9v0.9h-0.9zM379.5 188.0h0.9v0.9h-0.9zM360.8 194.3h0.9v0.9h-0.9zM369.5 187.6h0.9v0.9h-0.9zM372.1 194.1h0.9v0.9h-0.9zM368.0 206.7h0.9v0.9h-0.9zM378.2 195.5h0.9v0.9h-0.9zM375.5 206.8h0.9v0.9h-0.9zM376.1 187.4h0.9v0.9h-0.9zM369.9 191.6h0.9v0.9h-0.9zM362.8 192.6h0.9v0.9h-0.9zM369.3 190.9h0.9v0.9h-0.9zM363.4 195.6h0.9v0.9h-0.9zM354.6 195.6h0.9v0.9h-0.9zM367.4 192.7h0.9v0.9h-0.9zM348.3 200.1h0.9v0.9h-0.9zM353.5 186.7h0.9v0.9h-0.9zM372.5 188.0h0.9v0.9h-0.9zM364.1 179.4h0.9v0.9h-0.9zM363.8 192.4h0.9v0.9h-0.9zM372.8 189.7h0.9v0.9h-0.9zM369.1 193.5h0.9v0.9h-0.9zM361.9 187.3h0.9v0.9h-0.9zM383.1 186.7h0.9v0.9h-0.9zM377.3 191.6h0.9v0.9h-0.9zM379.2 187.9h0.9v0.9h-0.9zM371.5 193.0h0.9v0.9h-0.9zM365.5 192.9h0.9v0.9h-0.9zM361.2 190.8h0.9v0.9h-0.9zM364.2 195.3h0.9v0.9h-0.9zM366.6 183.9h0.9v0.9h-0.9zM364.4 190.7h0.9v0.9h-0.9zM360.1 198.3h0.9v0.9h-0.9zM370.6 195.7h0.9v0.9h-0.9zM361.2 189.1h0.9v0.9h-0.9zM375.5 183.7h0.9v0.9h-0.9zM370.3 191.7h0.9v0.9h-0.9zM363.3 191.7h0.9v0.9h-0.9zM358.7 192.4h0.9v0.9h-0.9zM357.6 184.5h0.9v0.9h-0.9zM378.6 187.5h0.9v0.9h-0.9zM350.4 196.4h0.9v0.9h-0.9zM366.9 196.2h0.9v0.9h-0.9zM370.2 200.4h0.9v0.9h-0.9zM366.4 194.4h0.9v0.9h-0.9zM359.3 192.1h0.9v0.9h-0.9zM379.7 193.9h0.9v0.9h-0.9zM368.7 180.8h0.9v0.9h-0.9zM364.3 184.4h0.9v0.9h-0.9zM373.6 187.3h0.9v0.9h-0.9zM370.3 185.9h0.9v0.9h-0.9zM382.6 185.0h0.9v0.9h-0.9zM368.5 205.2h0.9v0.9h-0.9zM369.1 186.6h0.9v0.9h-0.9zM372.3 196.5h0.9v0.9h-0.9zM374.4 180.8h0.9v0.9h-0.9zM369.1 179.9h0.9v0.9h-0.9zM382.7 191.6h0.9v0.9h-0.9zM363.7 194.8h0.9v0.9h-0.9zM371.3 184.9h0.9v0.9h-0.9zM380.5 190.0h0.9v0.9h-0.9zM353.2 198.7h0.9v0.9h-0.9zM379.8 197.9h0.9v0.9h-0.9zM371.8 186.5h0.9v0.9h-0.9zM375.0 201.2h0.9v0.9h-0.9zM374.0 199.8h0.9v0.9h-0.9zM361.1 196.7h0.9v0.9h-0.9zM375.0 183.3h0.9v0.9h-0.9zM354.2 187.4h0.9v0.9h-0.9zM368.1 193.7h0.9v0.9h-0.9zM365.6 190.9h0.9v0.9h-0.9zM366.5 191.7h0.9v0.9h-0.9zM372.2 193.9h0.9v0.9h-0.9zM367.0 192.7h0.9v0.9h-0.9zM363.8 195.5h0.9v0.9h-0.9zM363.3 200.1h0.9v0.9h-0.9zM367.2 192.8h0.9v0.9h-0.9zM361.3 189.4h0.9v0.9h-0.9zM368.8 191.4h0.9v0.9h-0.9zM362.4 185.1h0.9v0.9h-0.9zM367.8 192.1h0.9v0.9h-0.9zM371.9 198.0h0.9v0.9h-0.9zM364.9 180.6h0.9v0.9h-0.9zM366.3 181.4h0.9v0.9h-0.9zM357.0 196.8h0.9v0.9h-0.9zM372.1 187.8h0.9v0.9h-0.9zM362.3 190.8h0.9v0.9h-0.9zM353.1 193.9h0.9v0.9h-0.9zM364.6 201.2h0.9v0.9h-0.9zM358.8 196.7h0.9v0.9h-0.9zM361.9 196.8h0.9v0.9h-0.9zM359.5 195.2h0.9v0.9h-0.9zM363.9 186.9h0.9v0.9h-0.9zM366.2 193.9h0.9v0.9h-0.9zM370.8 199.8h0.9v0.9h-0.9zM374.2 177.1h0.9v0.9h-0.9zM364.2 180.6h0.9v0.9h-0.9zM364.3 194.7h0.9v0.9h-0.9zM356.5 185.0h0.9v0.9h-0.9zM368.6 189.8h0.9v0.9h-0.9zM380.4 193.0h0.9v0.9h-0.9zM371.8 200.7h0.9v0.9h-0.9zM363.4 191.3h0.9v0.9h-0.9zM359.4 192.7h0.9v0.9h-0.9zM375.9 198.7h0.9v0.9h-0.9zM367.2 187.5h0.9v0.9h-0.9zM361.2 183.8h0.9v0.9h-0.9zM368.5 198.6h0.9v0.9h-0.9zM348.1 179.6h0.9v0.9h-0.9zM378.9 182.7h0.9v0.9h-0.9zM370.2 184.5h0.9v0.9h-0.9zM373.9 195.5h0.9v0.9h-0.9zM368.9 195.8h0.9v0.9h-0.9zM367.9 194.4h0.9v0.9h-0.9zM382.4 197.3h0.9v0.9h-0.9zM362.1 187.0h0.9v0.9h-0.9zM365.6 190.1h0.9v0.9h-0.9zM368.1 188.1h0.9v0.9h-0.9zM372.9 191.6h0.9v0.9h-0.9zM370.5 191.4h0.9v0.9h-0.9zM372.6 184.9h0.9v0.9h-0.9zM380.5 193.2h0.9v0.9h-0.9zM371.2 194.7h0.9v0.9h-0.9zM376.4 195.3h0.9v0.9h-0.9zM369.5 190.4h0.9v0.9h-0.9zM354.1 192.5h0.9v0.9h-0.9zM365.0 189.7h0.9v0.9h-0.9zM387.3 181.4h0.9v0.9h-0.9zM368.1 197.9h0.9v0.9h-0.9zM375.5 198.1h0.9v0.9h-0.9zM357.2 186.2h0.9v0.9h-0.9zM372.7 189.8h0.9v0.9h-0.9zM381.7 192.6h0.9v0.9h-0.9zM369.2 193.8h0.9v0.9h-0.9zM365.4 192.1h0.9v0.9h-0.9zM362.1 191.2h0.9v0.9h-0.9zM363.7 192.8h0.9v0.9h-0.9zM356.1 183.4h0.9v0.9h-0.9zM371.4 192.7h0.9v0.9h-0.9zM359.8 190.2h0.9v0.9h-0.9zM359.1 202.5h0.9v0.9h-0.9zM354.9 200.7h0.9v0.9h-0.9zM360.9 193.7h0.9v0.9h-0.9zM365.5 189.4h0.9v0.9h-0.9zM375.4 195.9h0.9v0.9h-0.9zM365.3 186.6h0.9v0.9h-0.9zM384.7 199.1h0.9v0.9h-0.9zM368.9 189.9h0.9v0.9h-0.9zM370.1 191.9h0.9v0.9h-0.9zM377.5 186.3h0.9v0.9h-0.9zM367.9 187.2h0.9v0.9h-0.9zM378.4 201.2h0.9v0.9h-0.9zM367.0 194.4h0.9v0.9h-0.9zM379.3 189.9h0.9v0.9h-0.9zM360.1 197.1h0.9v0.9h-0.9zM371.9 190.4h0.9v0.9h-0.9zM379.7 192.8h0.9v0.9h-0.9zM353.1 193.4h0.9v0.9h-0.9zM367.3 201.6h0.9v0.9h-0.9zM367.6 190.4h0.9v0.9h-0.9zM371.3 192.8h0.9v0.9h-0.9zM356.2 192.1h0.9v0.9h-0.9zM365.1 199.1h0.9v0.9h-0.9zM387.4 185.5h0.9v0.9h-0.9zM359.8 186.9h0.9v0.9h-0.9zM362.4 187.8h0.9v0.9h-0.9zM368.2 197.4h0.9v0.9h-0.9zM357.1 183.2h0.9v0.9h-0.9zM352.7 197.5h0.9v0.9h-0.9zM378.6 183.2h0.9v0.9h-0.9zM354.4 192.2h0.9v0.9h-0.9zM376.7 197.0h0.9v0.9h-0.9zM369.4 195.2h0.9v0.9h-0.9zM370.5 188.5h0.9v0.9h-0.9zM383.4 191.5h0.9v0.9h-0.9zM358.7 189.0h0.9v0.9h-0.9zM355.1 191.6h0.9v0.9h-0.9zM376.8 184.7h0.9v0.9h-0.9zM377.0 202.8h0.9v0.9h-0.9zM370.9 185.3h0.9v0.9h-0.9zM360.8 189.7h0.9v0.9h-0.9zM357.3 184.8h0.9v0.9h-0.9zM365.6 190.5h0.9v0.9h-0.9zM372.7 185.0h0.9v0.9h-0.9zM383.1 197.2h0.9v0.9h-0.9zM375.1 188.0h0.9v0.9h-0.9zM382.0 189.7h0.9v0.9h-0.9zM382.7 197.3h0.9v0.9h-0.9zM360.4 189.1h0.9v0.9h-0.9zM383.1 196.9h0.9v0.9h-0.9zM366.5 192.6h0.9v0.9h-0.9zM369.4 187.3h0.9v0.9h-0.9zM366.1 187.9h0.9v0.9h-0.9zM364.3 194.0h0.9v0.9h-0.9zM359.9 195.4h0.9v0.9h-0.9zM368.7 195.6h0.9v0.9h-0.9zM375.1 198.3h0.9v0.9h-0.9zM372.9 195.3h0.9v0.9h-0.9zM366.3 194.6h0.9v0.9h-0.9zM360.4 190.2h0.9v0.9h-0.9zM373.9 191.2h0.9v0.9h-0.9zM371.4 185.8h0.9v0.9h-0.9zM379.0 188.4h0.9v0.9h-0.9zM371.0 191.4h0.9v0.9h-0.9zM375.4 189.4h0.9v0.9h-0.9zM359.6 181.2h0.9v0.9h-0.9zM365.3 185.1h0.9v0.9h-0.9zM372.2 199.3h0.9v0.9h-0.9zM349.5 184.5h0.9v0.9h-0.9zM370.3 198.2h0.9v0.9h-0.9zM370.3 193.3h0.9v0.9h-0.9zM371.9 194.6h0.9v0.9h-0.9zM381.3 194.8h0.9v0.9h-0.9zM357.6 189.0h0.9v0.9h-0.9zM369.5 187.1h0.9v0.9h-0.9zM365.6 188.7h0.9v0.9h-0.9zM362.0 195.3h0.9v0.9h-0.9zM364.6 185.6h0.9v0.9h-0.9zM361.9 191.7h0.9v0.9h-0.9zM385.2 192.9h0.9v0.9h-0.9zM380.0 194.2h0.9v0.9h-0.9zM350.1 193.6h0.9v0.9h-0.9zM360.8 184.2h0.9v0.9h-0.9zM358.9 201.2h0.9v0.9h-0.9zM354.8 188.1h0.9v0.9h-0.9zM377.3 195.1h0.9v0.9h-0.9zM353.7 190.9h0.9v0.9h-0.9zM363.5 190.4h0.9v0.9h-0.9zM374.0 188.4h0.9v0.9h-0.9zM365.1 199.4h0.9v0.9h-0.9zM352.5 189.5h0.9v0.9h-0.9zM371.6 184.7h0.9v0.9h-0.9zM362.6 184.4h0.9v0.9h-0.9zM369.0 188.1h0.9v0.9h-0.9zM374.3 197.0h0.9v0.9h-0.9zM368.1 189.4h0.9v0.9h-0.9zM369.9 191.8h0.9v0.9h-0.9zM357.7 197.3h0.9v0.9h-0.9zM369.6 195.8h0.9v0.9h-0.9zM356.5 196.3h0.9v0.9h-0.9zM385.1 194.8h0.9v0.9h-0.9zM355.8 191.7h0.9v0.9h-0.9zM367.3 192.7h0.9v0.9h-0.9zM365.8 194.2h0.9v0.9h-0.9zM363.9 192.7h0.9v0.9h-0.9zM362.0 192.0h0.9v0.9h-0.9zM376.0 188.8h0.9v0.9h-0.9zM373.2 186.6h0.9v0.9h-0.9zM364.6 190.2h0.9v0.9h-0.9zM378.0 187.3h0.9v0.9h-0.9zM377.8 183.5h0.9v0.9h-0.9zM366.4 196.4h0.9v0.9h-0.9zM373.5 186.0h0.9v0.9h-0.9zM357.6 196.2h0.9v0.9h-0.9zM357.3 194.6h0.9v0.9h-0.9zM363.4 191.4h0.9v0.9h-0.9zM386.9 199.9h0.9v0.9h-0.9zM374.7 183.9h0.9v0.9h-0.9zM370.3 191.7h0.9v0.9h-0.9zM366.9 198.7h0.9v0.9h-0.9zM353.4 193.2h0.9v0.9h-0.9zM368.7 187.4h0.9v0.9h-0.9zM382.0 184.5h0.9v0.9h-0.9zM367.9 191.9h0.9v0.9h-0.9zM349.5 183.6h0.9v0.9h-0.9zM359.6 195.7h0.9v0.9h-0.9zM375.5 194.7h0.9v0.9h-0.9zM369.7 179.4h0.9v0.9h-0.9zM369.5 188.6h0.9v0.9h-0.9zM377.4 198.8h0.9v0.9h-0.9zM386.2 195.3h0.9v0.9h-0.9zM374.4 185.8h0.9v0.9h-0.9zM368.3 184.7h0.9v0.9h-0.9zM375.1 184.9h0.9v0.9h-0.9zM365.9 186.9h0.9v0.9h-0.9zM363.8 193.9h0.9v0.9h-0.9zM363.0 192.6h0.9v0.9h-0.9zM359.3 199.1h0.9v0.9h-0.9zM362.3 197.0h0.9v0.9h-0.9zM385.4 178.1h0.9v0.9h-0.9zM359.4 190.3h0.9v0.9h-0.9zM377.4 188.8h0.9v0.9h-0.9zM370.8 187.4h0.9v0.9h-0.9zM372.3 184.8h0.9v0.9h-0.9zM351.9 201.4h0.9v0.9h-0.9zM369.0 186.5h0.9v0.9h-0.9zM386.0 197.2h0.9v0.9h-0.9zM377.0 189.1h0.9v0.9h-0.9zM372.8 194.2h0.9v0.9h-0.9zM353.8 194.7h0.9v0.9h-0.9zM366.1 198.5h0.9v0.9h-0.9zM378.5 187.9h0.9v0.9h-0.9zM362.5 192.4h0.9v0.9h-0.9zM373.1 189.1h0.9v0.9h-0.9zM366.6 194.7h0.9v0.9h-0.9zM371.1 197.8h0.9v0.9h-0.9zM369.6 186.5h0.9v0.9h-0.9zM352.8 195.8h0.9v0.9h-0.9zM364.8 189.5h0.9v0.9h-0.9zM365.1 182.7h0.9v0.9h-0.9zM364.3 177.0h0.9v0.9h-0.9zM364.2 186.4h0.9v0.9h-0.9zM383.0 193.8h0.9v0.9h-0.9zM365.8 192.3h0.9v0.9h-0.9zM373.7 187.2h0.9v0.9h-0.9zM365.6 189.4h0.9v0.9h-0.9zM388.4 191.8h0.9v0.9h-0.9zM351.0 195.8h0.9v0.9h-0.9zM389.3 186.1h0.9v0.9h-0.9zM376.0 188.2h0.9v0.9h-0.9zM365.3 184.5h0.9v0.9h-0.9zM358.6 179.5h0.9v0.9h-0.9zM377.2 185.0h0.9v0.9h-0.9zM370.6 193.2h0.9v0.9h-0.9zM362.1 191.6h0.9v0.9h-0.9zM366.7 188.6h0.9v0.9h-0.9zM367.9 191.6h0.9v0.9h-0.9zM358.9 184.1h0.9v0.9h-0.9zM360.3 192.0h0.9v0.9h-0.9zM379.2 199.5h0.9v0.9h-0.9zM370.2 196.6h0.9v0.9h-0.9zM368.5 197.5h0.9v0.9h-0.9zM368.6 193.5h0.9v0.9h-0.9zM365.1 191.3h0.9v0.9h-0.9zM383.5 184.6h0.9v0.9h-0.9zM367.5 188.0h0.9v0.9h-0.9zM375.6 201.4h0.9v0.9h-0.9zM364.8 175.9h0.9v0.9h-0.9zM372.7 194.7h0.9v0.9h-0.9zM353.2 190.0h0.9v0.9h-0.9zM366.9 178.4h0.9v0.9h-0.9zM373.2 193.8h0.9v0.9h-0.9zM369.5 185.4h0.9v0.9h-0.9zM361.4 187.8h0.9v0.9h-0.9zM371.5 185.8h0.9v0.9h-0.9zM379.9 193.4h0.9v0.9h-0.9zM348.9 200.7h0.9v0.9h-0.9zM368.8 188.2h0.9v0.9h-0.9zM368.3 181.1h0.9v0.9h-0.9zM369.0 177.5h0.9v0.9h-0.9zM358.7 198.9h0.9v0.9h-0.9zM378.2 189.4h0.9v0.9h-0.9zM359.2 196.5h0.9v0.9h-0.9zM367.0 192.5h0.9v0.9h-0.9zM372.7 185.2h0.9v0.9h-0.9zM374.2 179.4h0.9v0.9h-0.9zM379.9 182.4h0.9v0.9h-0.9zM362.0 187.5h0.9v0.9h-0.9zM373.6 195.4h0.9v0.9h-0.9zM370.4 194.3h0.9v0.9h-0.9zM371.4 190.8h0.9v0.9h-0.9zM351.0 178.3h0.9v0.9h-0.9zM347.7 191.0h0.9v0.9h-0.9zM365.4 190.4h0.9v0.9h-0.9zM369.3 189.9h0.9v0.9h-0.9zM358.8 182.8h0.9v0.9h-0.9zM351.1 198.1h0.9v0.9h-0.9zM375.1 183.6h0.9v0.9h-0.9zM365.0 193.7h0.9v0.9h-0.9zM380.9 187.8h0.9v0.9h-0.9zM368.8 197.7h0.9v0.9h-0.9zM352.4 187.1h0.9v0.9h-0.9zM367.0 187.1h0.9v0.9h-0.9zM385.4 196.1h0.9v0.9h-0.9zM369.0 185.8h0.9v0.9h-0.9zM374.7 194.7h0.9v0.9h-0.9zM362.9 188.7h0.9v0.9h-0.9zM354.7 190.7h0.9v0.9h-0.9zM374.7 196.8h0.9v0.9h-0.9zM372.2 195.8h0.9v0.9h-0.9zM362.2 188.5h0.9v0.9h-0.9zM377.6 193.7h0.9v0.9h-0.9zM360.4 194.0h0.9v0.9h-0.9zM374.3 195.1h0.9v0.9h-0.9zM368.2 188.2h0.9v0.9h-0.9zM370.6 200.7h0.9v0.9h-0.9zM368.5 187.4h0.9v0.9h-0.9zM370.1 184.2h0.9v0.9h-0.9zM369.2 189.5h0.9v0.9h-0.9zM375.4 191.7h0.9v0.9h-0.9zM376.2 204.1h0.9v0.9h-0.9zM365.4 186.4h0.9v0.9h-0.9zM371.1 190.6h0.9v0.9h-0.9zM368.4 187.7h0.9v0.9h-0.9zM372.0 191.5h0.9v0.9h-0.9zM348.7 189.8h0.9v0.9h-0.9zM370.0 197.8h0.9v0.9h-0.9zM362.3 186.6h0.9v0.9h-0.9zM377.0 187.7h0.9v0.9h-0.9zM368.1 193.8h0.9v0.9h-0.9zM373.5 191.2h0.9v0.9h-0.9zM357.7 196.8h0.9v0.9h-0.9zM363.5 188.2h0.9v0.9h-0.9zM384.3 196.1h0.9v0.9h-0.9zM358.1 188.4h0.9v0.9h-0.9zM365.1 186.9h0.9v0.9h-0.9zM350.8 195.6h0.9v0.9h-0.9zM373.8 192.5h0.9v0.9h-0.9zM363.7 192.3h0.9v0.9h-0.9zM372.6 185.3h0.9v0.9h-0.9zM364.3 188.0h0.9v0.9h-0.9zM373.1 192.6h0.9v0.9h-0.9zM356.1 187.6h0.9v0.9h-0.9zM382.2 185.7h0.9v0.9h-0.9zM368.4 187.6h0.9v0.9h-0.9zM377.8 190.7h0.9v0.9h-0.9zM363.4 184.5h0.9v0.9h-0.9zM365.1 195.7h0.9v0.9h-0.9zM372.9 183.7h0.9v0.9h-0.9zM380.4 189.7h0.9v0.9h-0.9zM358.2 191.8h0.9v0.9h-0.9zM361.8 187.8h0.9v0.9h-0.9zM361.8 190.6h0.9v0.9h-0.9zM362.9 181.5h0.9v0.9h-0.9zM371.5 188.2h0.9v0.9h-0.9zM377.3 194.1h0.9v0.9h-0.9zM372.3 192.1h0.9v0.9h-0.9zM378.1 189.2h0.9v0.9h-0.9zM358.7 193.0h0.9v0.9h-0.9zM344.0 189.0h0.9v0.9h-0.9zM368.9 188.7h0.9v0.9h-0.9zM377.8 195.0h0.9v0.9h-0.9zM368.0 188.8h0.9v0.9h-0.9zM376.4 187.3h0.9v0.9h-0.9zM363.6 195.2h0.9v0.9h-0.9zM372.1 202.4h0.9v0.9h-0.9zM365.2 180.6h0.9v0.9h-0.9zM372.7 198.1h0.9v0.9h-0.9zM365.7 199.7h0.9v0.9h-0.9zM382.1 187.3h0.9v0.9h-0.9zM363.0 184.1h0.9v0.9h-0.9zM371.7 195.0h0.9v0.9h-0.9zM372.2 184.2h0.9v0.9h-0.9zM360.6 183.1h0.9v0.9h-0.9zM353.4 183.5h0.9v0.9h-0.9zM353.7 190.0h0.9v0.9h-0.9zM370.6 194.5h0.9v0.9h-0.9zM366.9 187.3h0.9v0.9h-0.9zM366.9 194.2h0.9v0.9h-0.9zM364.5 191.3h0.9v0.9h-0.9zM364.4 188.1h0.9v0.9h-0.9zM367.3 184.8h0.9v0.9h-0.9zM375.9 182.3h0.9v0.9h-0.9zM370.9 183.4h0.9v0.9h-0.9zM379.8 195.8h0.9v0.9h-0.9zM360.2 188.5h0.9v0.9h-0.9zM357.5 190.7h0.9v0.9h-0.9zM370.5 205.2h0.9v0.9h-0.9zM355.5 197.9h0.9v0.9h-0.9zM362.1 192.5h0.9v0.9h-0.9zM374.4 194.0h0.9v0.9h-0.9zM370.6 189.9h0.9v0.9h-0.9zM366.9 191.8h0.9v0.9h-0.9zM377.1 182.8h0.9v0.9h-0.9zM362.9 184.1h0.9v0.9h-0.9zM358.9 186.6h0.9v0.9h-0.9zM376.3 202.9h0.9v0.9h-0.9zM378.4 184.4h0.9v0.9h-0.9zM367.6 184.7h0.9v0.9h-0.9zM370.8 198.1h0.9v0.9h-0.9zM372.0 195.8h0.9v0.9h-0.9zM365.8 180.1h0.9v0.9h-0.9zM350.3 190.5h0.9v0.9h-0.9zM371.8 198.1h0.9v0.9h-0.9zM364.1 191.4h0.9v0.9h-0.9zM369.2 196.9h0.9v0.9h-0.9zM366.4 184.9h0.9v0.9h-0.9zM376.1 193.3h0.9v0.9h-0.9zM370.2 183.9h0.9v0.9h-0.9zM366.9 181.5h0.9v0.9h-0.9zM350.1 189.7h0.9v0.9h-0.9zM363.3 194.1h0.9v0.9h-0.9zM379.1 190.8h0.9v0.9h-0.9zM382.1 187.7h0.9v0.9h-0.9zM373.4 184.0h0.9v0.9h-0.9zM368.1 189.2h0.9v0.9h-0.9zM365.2 194.3h0.9v0.9h-0.9zM351.1 191.6h0.9v0.9h-0.9zM360.2 191.6h0.9v0.9h-0.9zM370.3 188.9h0.9v0.9h-0.9zM363.9 184.6h0.9v0.9h-0.9zM371.6 187.3h0.9v0.9h-0.9zM370.7 183.1h0.9v0.9h-0.9zM378.5 185.3h0.9v0.9h-0.9zM376.7 188.5h0.9v0.9h-0.9zM371.6 190.2h0.9v0.9h-0.9zM372.7 191.0h0.9v0.9h-0.9zM377.7 194.7h0.9v0.9h-0.9zM372.7 200.2h0.9v0.9h-0.9zM361.1 198.2h0.9v0.9h-0.9zM367.6 182.8h0.9v0.9h-0.9zM371.0 189.9h0.9v0.9h-0.9zM381.2 188.3h0.9v0.9h-0.9zM367.4 192.3h0.9v0.9h-0.9zM351.0 193.8h0.9v0.9h-0.9zM358.6 198.8h0.9v0.9h-0.9zM381.0 191.0h0.9v0.9h-0.9zM353.7 192.0h0.9v0.9h-0.9zM368.5 195.0h0.9v0.9h-0.9zM364.5 184.4h0.9v0.9h-0.9zM365.8 185.9h0.9v0.9h-0.9zM381.9 187.1h0.9v0.9h-0.9zM361.5 190.7h0.9v0.9h-0.9zM356.6 188.5h0.9v0.9h-0.9zM365.9 188.3h0.9v0.9h-0.9zM364.9 197.9h0.9v0.9h-0.9zM370.6 183.6h0.9v0.9h-0.9zM363.4 195.1h0.9v0.9h-0.9zM361.5 191.5h0.9v0.9h-0.9zM366.8 193.9h0.9v0.9h-0.9zM365.5 190.2h0.9v0.9h-0.9zM359.8 193.0h0.9v0.9h-0.9zM359.2 200.6h0.9v0.9h-0.9zM366.8 189.8h0.9v0.9h-0.9zM373.6 190.5h0.9v0.9h-0.9zM367.7 190.7h0.9v0.9h-0.9zM360.9 185.9h0.9v0.9h-0.9zM361.1 197.3h0.9v0.9h-0.9zM361.7 188.8h0.9v0.9h-0.9zM363.2 194.9h0.9v0.9h-0.9zM383.6 185.9h0.9v0.9h-0.9zM371.6 191.7h0.9v0.9h-0.9zM364.5 193.8h0.9v0.9h-0.9zM356.3 195.6h0.9v0.9h-0.9zM368.9 185.5h0.9v0.9h-0.9zM380.4 195.7h0.9v0.9h-0.9zM376.8 183.0h0.9v0.9h-0.9zM364.7 188.1h0.9v0.9h-0.9zM372.3 198.5h0.9v0.9h-0.9zM351.0 191.1h0.9v0.9h-0.9zM365.9 196.5h0.9v0.9h-0.9zM366.7 184.0h0.9v0.9h-0.9zM365.4 185.3h0.9v0.9h-0.9zM360.5 191.2h0.9v0.9h-0.9zM363.0 192.5h0.9v0.9h-0.9zM354.3 203.8h0.9v0.9h-0.9zM377.6 195.0h0.9v0.9h-0.9zM356.2 179.1h0.9v0.9h-0.9zM359.8 189.7h0.9v0.9h-0.9zM385.7 198.2h0.9v0.9h-0.9zM362.6 197.7h0.9v0.9h-0.9zM377.3 191.1h0.9v0.9h-0.9zM377.2 192.8h0.9v0.9h-0.9zM361.5 184.5h0.9v0.9h-0.9zM366.0 196.5h0.9v0.9h-0.9zM355.6 182.1h0.9v0.9h-0.9zM371.6 176.0h0.9v0.9h-0.9zM382.3 188.6h0.9v0.9h-0.9zM373.1 201.3h0.9v0.9h-0.9zM354.8 185.2h0.9v0.9h-0.9zM385.8 189.4h0.9v0.9h-0.9zM365.9 192.3h0.9v0.9h-0.9zM375.9 198.3h0.9v0.9h-0.9zM367.9 189.1h0.9v0.9h-0.9zM366.7 192.7h0.9v0.9h-0.9zM378.0 191.7h0.9v0.9h-0.9zM382.3 186.3h0.9v0.9h-0.9zM371.5 200.7h0.9v0.9h-0.9zM377.8 192.8h0.9v0.9h-0.9zM359.6 187.1h0.9v0.9h-0.9zM365.7 192.7h0.9v0.9h-0.9zM364.9 183.0h0.9v0.9h-0.9zM360.8 193.9h0.9v0.9h-0.9zM374.0 183.3h0.9v0.9h-0.9zM363.9 181.8h0.9v0.9h-0.9zM362.3 210.6h0.9v0.9h-0.9zM367.5 189.1h0.9v0.9h-0.9zM362.1 184.3h0.9v0.9h-0.9zM351.4 190.8h0.9v0.9h-0.9zM364.7 199.2h0.9v0.9h-0.9zM353.3 193.4h0.9v0.9h-0.9zM378.2 180.2h0.9v0.9h-0.9zM372.5 182.1h0.9v0.9h-0.9zM371.4 199.1h0.9v0.9h-0.9zM367.0 192.6h0.9v0.9h-0.9zM361.2 192.6h0.9v0.9h-0.9zM376.5 190.0h0.9v0.9h-0.9zM365.8 193.2h0.9v0.9h-0.9zM373.9 182.0h0.9v0.9h-0.9zM367.5 187.2h0.9v0.9h-0.9zM371.2 196.7h0.9v0.9h-0.9zM369.6 198.1h0.9v0.9h-0.9zM358.7 188.7h0.9v0.9h-0.9zM358.7 191.3h0.9v0.9h-0.9zM367.8 189.9h0.9v0.9h-0.9zM356.8 190.6h0.9v0.9h-0.9zM363.3 194.3h0.9v0.9h-0.9zM364.7 197.4h0.9v0.9h-0.9zM368.9 180.7h0.9v0.9h-0.9zM365.6 183.1h0.9v0.9h-0.9zM375.1 198.9h0.9v0.9h-0.9zM366.8 193.5h0.9v0.9h-0.9zM354.9 178.6h0.9v0.9h-0.9zM362.4 189.6h0.9v0.9h-0.9zM354.3 191.5h0.9v0.9h-0.9zM369.6 194.6h0.9v0.9h-0.9zM380.0 195.5h0.9v0.9h-0.9zM363.9 191.6h0.9v0.9h-0.9zM372.1 185.2h0.9v0.9h-0.9zM378.2 196.0h0.9v0.9h-0.9zM365.1 187.5h0.9v0.9h-0.9zM374.9 201.0h0.9v0.9h-0.9zM375.3 192.2h0.9v0.9h-0.9zM372.9 186.0h0.9v0.9h-0.9zM373.0 182.5h0.9v0.9h-0.9zM370.6 194.1h0.9v0.9h-0.9zM354.0 201.6h0.9v0.9h-0.9zM357.4 196.8h0.9v0.9h-0.9zM362.6 192.8h0.9v0.9h-0.9zM361.5 204.8h0.9v0.9h-0.9zM375.7 201.1h0.9v0.9h-0.9zM373.7 194.9h0.9v0.9h-0.9zM368.4 189.8h0.9v0.9h-0.9zM372.2 192.0h0.9v0.9h-0.9zM365.9 183.5h0.9v0.9h-0.9zM364.6 194.4h0.9v0.9h-0.9zM363.2 193.0h0.9v0.9h-0.9zM366.0 185.4h0.9v0.9h-0.9zM359.6 187.0h0.9v0.9h-0.9zM364.7 189.7h0.9v0.9h-0.9zM376.6 185.1h0.9v0.9h-0.9zM350.0 194.9h0.9v0.9h-0.9zM363.4 190.5h0.9v0.9h-0.9zM388.6 199.2h0.9v0.9h-0.9zM372.2 196.4h0.9v0.9h-0.9zM368.2 196.4h0.9v0.9h-0.9zM362.1 187.2h0.9v0.9h-0.9zM363.3 199.9h0.9v0.9h-0.9zM380.3 187.8h0.9v0.9h-0.9zM377.0 190.3h0.9v0.9h-0.9zM376.3 189.4h0.9v0.9h-0.9zM375.3 190.5h0.9v0.9h-0.9zM364.8 191.0h0.9v0.9h-0.9zM368.6 188.0h0.9v0.9h-0.9zM355.8 200.6h0.9v0.9h-0.9zM364.0 181.1h0.9v0.9h-0.9zM348.2 175.6h0.9v0.9h-0.9zM362.1 198.7h0.9v0.9h-0.9zM353.5 189.4h0.9v0.9h-0.9zM351.8 197.3h0.9v0.9h-0.9zM370.4 193.0h0.9v0.9h-0.9zM378.7 200.3h0.9v0.9h-0.9zM376.0 188.0h0.9v0.9h-0.9zM356.1 185.4h0.9v0.9h-0.9zM352.5 201.2h0.9v0.9h-0.9zM365.7 191.9h0.9v0.9h-0.9zM369.0 202.4h0.9v0.9h-0.9zM362.6 197.8h0.9v0.9h-0.9zM369.9 190.4h0.9v0.9h-0.9zM351.2 196.3h0.9v0.9h-0.9zM361.1 188.7h0.9v0.9h-0.9zM369.2 191.8h0.9v0.9h-0.9zM376.8 187.5h0.9v0.9h-0.9zM368.7 192.8h0.9v0.9h-0.9zM367.6 195.0h0.9v0.9h-0.9zM365.2 197.9h0.9v0.9h-0.9zM361.4 183.2h0.9v0.9h-0.9zM367.0 197.8h0.9v0.9h-0.9zM363.0 187.7h0.9v0.9h-0.9zM364.4 192.1h0.9v0.9h-0.9zM365.9 193.0h0.9v0.9h-0.9zM352.8 199.6h0.9v0.9h-0.9zM372.3 186.4h0.9v0.9h-0.9zM378.9 193.7h0.9v0.9h-0.9zM379.8 184.7h0.9v0.9h-0.9zM381.4 191.5h0.9v0.9h-0.9zM350.0 195.4h0.9v0.9h-0.9zM364.8 185.6h0.9v0.9h-0.9zM365.5 180.4h0.9v0.9h-0.9zM372.3 190.0h0.9v0.9h-0.9zM365.1 199.1h0.9v0.9h-0.9zM367.6 187.6h0.9v0.9h-0.9zM359.3 190.9h0.9v0.9h-0.9zM376.3 188.0h0.9v0.9h-0.9zM358.6 196.4h0.9v0.9h-0.9zM367.9 191.1h0.9v0.9h-0.9zM385.0 184.5h0.9v0.9h-0.9zM369.0 181.4h0.9v0.9h-0.9zM364.8 194.5h0.9v0.9h-0.9zM376.9 184.2h0.9v0.9h-0.9zM374.4 195.6h0.9v0.9h-0.9zM366.3 204.9h0.9v0.9h-0.9zM367.4 186.3h0.9v0.9h-0.9zM370.9 180.9h0.9v0.9h-0.9zM380.5 196.7h0.9v0.9h-0.9zM364.0 194.6h0.9v0.9h-0.9zM371.9 202.0h0.9v0.9h-0.9zM362.1 184.0h0.9v0.9h-0.9zM350.2 189.6h0.9v0.9h-0.9zM354.1 190.3h0.9v0.9h-0.9zM370.8 188.8h0.9v0.9h-0.9zM359.4 197.9h0.9v0.9h-0.9zM365.7 192.5h0.9v0.9h-0.9zM375.4 184.0h0.9v0.9h-0.9zM359.6 205.1h0.9v0.9h-0.9zM366.0 185.4h0.9v0.9h-0.9zM365.2 188.0h0.9v0.9h-0.9zM357.0 188.9h0.9v0.9h-0.9zM367.2 191.1h0.9v0.9h-0.9zM371.9 181.6h0.9v0.9h-0.9zM354.7 195.6h0.9v0.9h-0.9zM363.6 198.0h0.9v0.9h-0.9zM369.9 183.4h0.9v0.9h-0.9zM371.9 185.6h0.9v0.9h-0.9zM369.5 198.1h0.9v0.9h-0.9zM385.2 190.8h0.9v0.9h-0.9zM373.2 192.9h0.9v0.9h-0.9zM374.0 177.0h0.9v0.9h-0.9zM364.1 192.8h0.9v0.9h-0.9zM371.3 187.0h0.9v0.9h-0.9zM374.3 197.4h0.9v0.9h-0.9zM367.9 190.0h0.9v0.9h-0.9zM364.3 192.0h0.9v0.9h-0.9zM377.3 199.5h0.9v0.9h-0.9zM363.4 186.1h0.9v0.9h-0.9zM360.7 196.7h0.9v0.9h-0.9zM369.2 192.9h0.9v0.9h-0.9zM371.4 193.3h0.9v0.9h-0.9zM366.3 185.5h0.9v0.9h-0.9zM362.1 191.9h0.9v0.9h-0.9zM370.6 189.2h0.9v0.9h-0.9zM363.8 198.8h0.9v0.9h-0.9zM363.4 192.5h0.9v0.9h-0.9zM364.7 186.5h0.9v0.9h-0.9zM354.6 188.3h0.9v0.9h-0.9zM360.4 195.9h0.9v0.9h-0.9zM357.7 188.9h0.9v0.9h-0.9zM372.8 190.6h0.9v0.9h-0.9zM371.5 195.8h0.9v0.9h-0.9zM353.4 188.9h0.9v0.9h-0.9zM359.3 198.7h0.9v0.9h-0.9zM366.4 194.0h0.9v0.9h-0.9zM381.6 189.3h0.9v0.9h-0.9zM368.0 193.5h0.9v0.9h-0.9zM365.1 198.1h0.9v0.9h-0.9zM374.2 196.7h0.9v0.9h-0.9zM367.7 189.3h0.9v0.9h-0.9zM364.4 189.2h0.9v0.9h-0.9zM353.6 193.2h0.9v0.9h-0.9zM374.1 191.2h0.9v0.9h-0.9zM363.2 191.4h0.9v0.9h-0.9zM369.2 193.0h0.9v0.9h-0.9zM382.3 186.5h0.9v0.9h-0.9zM370.4 195.0h0.9v0.9h-0.9zM368.0 189.9h0.9v0.9h-0.9zM358.8 188.0h0.9v0.9h-0.9zM373.2 199.2h0.9v0.9h-0.9zM361.9 193.8h0.9v0.9h-0.9zM371.7 196.7h0.9v0.9h-0.9zM369.4 193.6h0.9v0.9h-0.9zM374.8 184.8h0.9v0.9h-0.9zM367.7 181.5h0.9v0.9h-0.9zM350.9 186.7h0.9v0.9h-0.9zM354.5 194.0h0.9v0.9h-0.9zM375.6 189.5h0.9v0.9h-0.9zM366.2 189.9h0.9v0.9h-0.9zM365.1 191.9h0.9v0.9h-0.9zM370.2 188.7h0.9v0.9h-0.9zM360.8 188.4h0.9v0.9h-0.9zM373.9 188.9h0.9v0.9h-0.9zM379.3 189.9h0.9v0.9h-0.9zM378.6 184.7h0.9v0.9h-0.9zM361.6 193.8h0.9v0.9h-0.9zM371.3 190.3h0.9v0.9h-0.9zM384.2 191.6h0.9v0.9h-0.9zM369.7 188.1h0.9v0.9h-0.9zM381.0 195.9h0.9v0.9h-0.9zM370.7 182.3h0.9v0.9h-0.9zM370.3 188.6h0.9v0.9h-0.9zM370.5 196.2h0.9v0.9h-0.9zM361.1 192.4h0.9v0.9h-0.9zM374.5 192.1h0.9v0.9h-0.9zM364.6 185.4h0.9v0.9h-0.9zM361.8 184.3h0.9v0.9h-0.9zM375.4 191.7h0.9v0.9h-0.9zM357.3 191.2h0.9v0.9h-0.9zM377.2 197.5h0.9v0.9h-0.9zM355.1 187.3h0.9v0.9h-0.9zM369.0 189.1h0.9v0.9h-0.9zM360.2 188.4h0.9v0.9h-0.9zM365.3 188.2h0.9v0.9h-0.9zM369.0 189.9h0.9v0.9h-0.9zM361.0 191.3h0.9v0.9h-0.9zM353.6 199.0h0.9v0.9h-0.9zM352.9 190.7h0.9v0.9h-0.9zM370.0 193.4h0.9v0.9h-0.9zM369.4 198.0h0.9v0.9h-0.9zM358.0 190.8h0.9v0.9h-0.9zM368.4 188.5h0.9v0.9h-0.9zM362.4 198.1h0.9v0.9h-0.9zM361.4 188.6h0.9v0.9h-0.9zM365.0 190.0h0.9v0.9h-0.9zM368.6 190.0h0.9v0.9h-0.9zM370.3 191.9h0.9v0.9h-0.9zM371.2 198.5h0.9v0.9h-0.9zM360.3 200.1h0.9v0.9h-0.9zM363.5 194.7h0.9v0.9h-0.9zM368.5 189.5h0.9v0.9h-0.9zM351.1 199.8h0.9v0.9h-0.9zM361.0 186.9h0.9v0.9h-0.9zM375.9 191.5h0.9v0.9h-0.9zM382.8 200.2h0.9v0.9h-0.9zM373.0 192.5h0.9v0.9h-0.9zM373.4 184.0h0.9v0.9h-0.9zM368.6 191.9h0.9v0.9h-0.9zM363.3 192.5h0.9v0.9h-0.9zM355.3 196.0h0.9v0.9h-0.9zM377.7 184.2h0.9v0.9h-0.9zM368.4 199.4h0.9v0.9h-0.9zM370.6 185.6h0.9v0.9h-0.9zM359.1 195.7h0.9v0.9h-0.9zM382.1 185.3h0.9v0.9h-0.9zM367.5 186.9h0.9v0.9h-0.9zM364.9 192.8h0.9v0.9h-0.9zM366.8 187.4h0.9v0.9h-0.9zM384.3 190.3h0.9v0.9h-0.9zM365.7 197.1h0.9v0.9h-0.9zM367.3 190.0h0.9v0.9h-0.9zM374.9 185.6h0.9v0.9h-0.9zM373.3 196.6h0.9v0.9h-0.9zM372.6 190.2h0.9v0.9h-0.9zM367.1 181.9h0.9v0.9h-0.9zM366.1 192.7h0.9v0.9h-0.9zM374.2 191.9h0.9v0.9h-0.9zM364.0 186.6h0.9v0.9h-0.9zM366.8 191.8h0.9v0.9h-0.9zM377.0 191.2h0.9v0.9h-0.9zM363.1 190.5h0.9v0.9h-0.9zM363.2 189.8h0.9v0.9h-0.9zM349.2 182.6h0.9v0.9h-0.9zM357.5 193.6h0.9v0.9h-0.9zM366.5 191.9h0.9v0.9h-0.9zM376.6 185.5h0.9v0.9h-0.9zM376.4 193.2h0.9v0.9h-0.9zM361.4 199.1h0.9v0.9h-0.9zM355.6 185.1h0.9v0.9h-0.9zM365.5 193.3h0.9v0.9h-0.9zM365.6 179.7h0.9v0.9h-0.9zM364.7 190.6h0.9v0.9h-0.9zM387.8 198.4h0.9v0.9h-0.9zM368.1 185.3h0.9v0.9h-0.9zM369.9 184.9h0.9v0.9h-0.9zM368.8 193.0h0.9v0.9h-0.9zM363.9 192.4h0.9v0.9h-0.9zM364.5 188.0h0.9v0.9h-0.9zM379.6 194.2h0.9v0.9h-0.9zM364.6 187.0h0.9v0.9h-0.9zM368.6 194.1h0.9v0.9h-0.9zM374.0 198.9h0.9v0.9h-0.9zM370.9 185.1h0.9v0.9h-0.9zM383.6 197.3h0.9v0.9h-0.9zM373.9 198.2h0.9v0.9h-0.9zM355.1 189.1h0.9v0.9h-0.9zM363.0 197.4h0.9v0.9h-0.9zM357.6 189.4h0.9v0.9h-0.9zM379.4 194.5h0.9v0.9h-0.9zM364.0 201.1h0.9v0.9h-0.9zM356.4 193.5h0.9v0.9h-0.9zM365.3 193.8h0.9v0.9h-0.9zM364.9 186.6h0.9v0.9h-0.9zM368.8 184.1h0.9v0.9h-0.9zM371.4 189.4h0.9v0.9h-0.9zM374.6 188.7h0.9v0.9h-0.9zM361.7 193.2h0.9v0.9h-0.9zM377.1 180.0h0.9v0.9h-0.9zM368.1 194.4h0.9v0.9h-0.9zM355.6 186.4h0.9v0.9h-0.9zM372.3 186.7h0.9v0.9h-0.9zM361.9 200.2h0.9v0.9h-0.9zM359.5 186.5h0.9v0.9h-0.9zM348.4 185.2h0.9v0.9h-0.9zM357.1 200.2h0.9v0.9h-0.9zM376.9 184.3h0.9v0.9h-0.9zM383.0 195.2h0.9v0.9h-0.9zM365.6 195.4h0.9v0.9h-0.9zM370.2 187.0h0.9v0.9h-0.9zM352.9 186.2h0.9v0.9h-0.9zM367.0 189.2h0.9v0.9h-0.9zM361.1 196.2h0.9v0.9h-0.9zM358.5 195.8h0.9v0.9h-0.9zM363.2 191.6h0.9v0.9h-0.9zM358.0 191.0h0.9v0.9h-0.9zM360.7 181.8h0.9v0.9h-0.9zM366.9 190.8h0.9v0.9h-0.9zM373.8 192.6h0.9v0.9h-0.9zM358.9 187.8h0.9v0.9h-0.9zM347.0 185.1h0.9v0.9h-0.9zM377.5 199.1h0.9v0.9h-0.9zM373.2 192.6h0.9v0.9h-0.9zM371.8 193.6h0.9v0.9h-0.9zM353.0 186.4h0.9v0.9h-0.9zM376.6 197.3h0.9v0.9h-0.9zM369.0 189.4h0.9v0.9h-0.9zM363.9 188.1h0.9v0.9h-0.9zM359.6 180.8h0.9v0.9h-0.9zM368.3 188.6h0.9v0.9h-0.9zM365.3 200.2h0.9v0.9h-0.9zM371.8 187.3h0.9v0.9h-0.9zM371.7 183.0h0.9v0.9h-0.9zM375.6 192.4h0.9v0.9h-0.9zM365.5 194.1h0.9v0.9h-0.9zM378.8 188.6h0.9v0.9h-0.9zM359.0 202.3h0.9v0.9h-0.9zM367.2 199.0h0.9v0.9h-0.9zM361.6 193.0h0.9v0.9h-0.9zM361.8 194.4h0.9v0.9h-0.9zM364.8 187.4h0.9v0.9h-0.9zM379.6 192.8h0.9v0.9h-0.9zM350.6 189.8h0.9v0.9h-0.9zM359.6 184.5h0.9v0.9h-0.9zM362.3 188.5h0.9v0.9h-0.9zM367.3 186.8h0.9v0.9h-0.9zM351.9 188.2h0.9v0.9h-0.9zM374.2 183.7h0.9v0.9h-0.9zM372.1 193.5h0.9v0.9h-0.9zM363.4 192.7h0.9v0.9h-0.9zM360.9 188.9h0.9v0.9h-0.9zM358.7 193.5h0.9v0.9h-0.9zM378.2 187.4h0.9v0.9h-0.9zM376.8 179.6h0.9v0.9h-0.9zM359.8 185.6h0.9v0.9h-0.9zM381.0 187.8h0.9v0.9h-0.9zM373.4 180.0h0.9v0.9h-0.9zM367.9 194.0h0.9v0.9h-0.9zM366.7 176.4h0.9v0.9h-0.9zM368.5 195.4h0.9v0.9h-0.9zM377.8 193.1h0.9v0.9h-0.9zM353.2 189.9h0.9v0.9h-0.9zM374.4 186.6h0.9v0.9h-0.9zM371.6 188.4h0.9v0.9h-0.9zM367.8 195.1h0.9v0.9h-0.9zM361.2 206.4h0.9v0.9h-0.9zM368.2 192.8h0.9v0.9h-0.9zM360.9 191.3h0.9v0.9h-0.9zM364.8 183.1h0.9v0.9h-0.9zM354.5 192.5h0.9v0.9h-0.9zM366.3 176.8h0.9v0.9h-0.9zM349.4 189.3h0.9v0.9h-0.9zM366.4 194.3h0.9v0.9h-0.9zM356.9 194.2h0.9v0.9h-0.9zM364.5 188.3h0.9v0.9h-0.9zM365.8 196.3h0.9v0.9h-0.9zM371.6 195.8h0.9v0.9h-0.9zM361.4 189.5h0.9v0.9h-0.9zM357.5 188.0h0.9v0.9h-0.9zM363.7 188.5h0.9v0.9h-0.9zM372.8 193.3h0.9v0.9h-0.9zM373.2 191.7h0.9v0.9h-0.9zM375.8 191.6h0.9v0.9h-0.9zM374.9 193.7h0.9v0.9h-0.9zM373.0 190.6h0.9v0.9h-0.9zM356.8 183.2h0.9v0.9h-0.9zM383.1 193.1h0.9v0.9h-0.9zM370.6 190.1h0.9v0.9h-0.9zM363.2 206.5h0.9v0.9h-0.9zM357.8 190.7h0.9v0.9h-0.9zM366.6 184.9h0.9v0.9h-0.9zM356.6 187.2h0.9v0.9h-0.9zM364.2 188.4h0.9v0.9h-0.9zM373.7 184.6h0.9v0.9h-0.9zM370.3 198.9h0.9v0.9h-0.9zM374.3 184.8h0.9v0.9h-0.9zM342.8 195.6h0.9v0.9h-0.9zM371.1 187.8h0.9v0.9h-0.9zM377.5 188.8h0.9v0.9h-0.9zM367.9 185.4h0.9v0.9h-0.9zM369.6 188.7h0.9v0.9h-0.9zM362.9 196.8h0.9v0.9h-0.9zM368.8 182.9h0.9v0.9h-0.9zM372.7 195.5h0.9v0.9h-0.9zM360.2 188.9h0.9v0.9h-0.9zM367.4 189.7h0.9v0.9h-0.9zM368.0 194.5h0.9v0.9h-0.9zM363.0 202.2h0.9v0.9h-0.9zM361.2 188.1h0.9v0.9h-0.9zM383.1 203.9h0.9v0.9h-0.9zM367.3 190.0h0.9v0.9h-0.9zM358.2 197.2h0.9v0.9h-0.9zM368.4 186.4h0.9v0.9h-0.9zM370.3 198.4h0.9v0.9h-0.9zM372.6 202.9h0.9v0.9h-0.9zM376.5 193.4h0.9v0.9h-0.9zM366.7 194.0h0.9v0.9h-0.9zM377.0 195.6h0.9v0.9h-0.9zM375.6 192.2h0.9v0.9h-0.9zM373.3 197.6h0.9v0.9h-0.9zM365.6 184.0h0.9v0.9h-0.9zM381.2 194.1h0.9v0.9h-0.9zM363.4 192.3h0.9v0.9h-0.9zM365.0 181.8h0.9v0.9h-0.9zM365.5 183.3h0.9v0.9h-0.9zM368.7 190.4h0.9v0.9h-0.9zM376.3 190.4h0.9v0.9h-0.9zM370.1 189.4h0.9v0.9h-0.9zM363.9 183.5h0.9v0.9h-0.9zM375.1 191.9h0.9v0.9h-0.9zM362.2 192.1h0.9v0.9h-0.9zM363.6 187.1h0.9v0.9h-0.9zM369.0 197.6h0.9v0.9h-0.9zM364.8 183.3h0.9v0.9h-0.9zM362.0 200.7h0.9v0.9h-0.9zM360.3 197.4h0.9v0.9h-0.9zM365.0 195.0h0.9v0.9h-0.9zM366.1 182.5h0.9v0.9h-0.9zM363.6 202.4h0.9v0.9h-0.9zM365.9 194.1h0.9v0.9h-0.9zM364.2 190.3h0.9v0.9h-0.9zM369.6 193.6h0.9v0.9h-0.9zM385.2 190.9h0.9v0.9h-0.9zM365.5 187.4h0.9v0.9h-0.9zM356.2 182.3h0.9v0.9h-0.9zM372.4 181.0h0.9v0.9h-0.9zM378.5 195.6h0.9v0.9h-0.9zM364.6 184.8h0.9v0.9h-0.9zM367.2 191.1h0.9v0.9h-0.9zM376.3 187.0h0.9v0.9h-0.9zM363.9 190.7h0.9v0.9h-0.9zM364.7 187.6h0.9v0.9h-0.9zM353.0 182.2h0.9v0.9h-0.9zM361.5 189.8h0.9v0.9h-0.9zM375.2 203.5h0.9v0.9h-0.9zM381.1 193.2h0.9v0.9h-0.9zM382.4 190.4h0.9v0.9h-0.9zM362.7 203.5h0.9v0.9h-0.9zM358.3 188.8h0.9v0.9h-0.9zM364.9 198.9h0.9v0.9h-0.9zM362.2 195.2h0.9v0.9h-0.9zM363.7 184.4h0.9v0.9h-0.9zM369.0 191.9h0.9v0.9h-0.9zM357.6 186.3h0.9v0.9h-0.9zM360.5 196.2h0.9v0.9h-0.9zM370.8 192.3h0.9v0.9h-0.9zM371.1 188.5h0.9v0.9h-0.9zM371.0 187.8h0.9v0.9h-0.9zM356.1 187.2h0.9v0.9h-0.9zM368.8 191.5h0.9v0.9h-0.9zM375.7 181.9h0.9v0.9h-0.9zM365.2 193.2h0.9v0.9h-0.9zM359.2 192.4h0.9v0.9h-0.9zM363.7 184.9h0.9v0.9h-0.9zM376.2 183.5h0.9v0.9h-0.9zM375.3 188.8h0.9v0.9h-0.9zM359.3 186.3h0.9v0.9h-0.9zM361.0 186.5h0.9v0.9h-0.9zM369.3 181.0h0.9v0.9h-0.9zM377.2 195.5h0.9v0.9h-0.9zM378.4 185.7h0.9v0.9h-0.9zM348.1 187.7h0.9v0.9h-0.9zM365.7 192.7h0.9v0.9h-0.9zM362.8 190.6h0.9v0.9h-0.9zM368.3 182.7h0.9v0.9h-0.9zM381.9 185.0h0.9v0.9h-0.9zM369.2 196.9h0.9v0.9h-0.9zM360.7 191.1h0.9v0.9h-0.9zM380.5 189.5h0.9v0.9h-0.9zM375.7 192.6h0.9v0.9h-0.9zM369.0 194.9h0.9v0.9h-0.9zM365.2 189.9h0.9v0.9h-0.9zM375.0 192.5h0.9v0.9h-0.9zM371.2 184.6h0.9v0.9h-0.9zM367.2 197.6h0.9v0.9h-0.9zM374.5 192.9h0.9v0.9h-0.9zM362.9 187.8h0.9v0.9h-0.9zM370.7 198.7h0.9v0.9h-0.9zM367.5 198.1h0.9v0.9h-0.9zM364.7 197.6h0.9v0.9h-0.9zM358.9 192.1h0.9v0.9h-0.9zM358.4 194.6h0.9v0.9h-0.9zM371.8 186.0h0.9v0.9h-0.9zM361.0 188.7h0.9v0.9h-0.9zM354.9 186.1h0.9v0.9h-0.9zM360.0 195.3h0.9v0.9h-0.9zM378.5 188.7h0.9v0.9h-0.9zM364.8 192.2h0.9v0.9h-0.9zM362.9 189.6h0.9v0.9h-0.9zM374.0 192.3h0.9v0.9h-0.9zM366.4 188.0h0.9v0.9h-0.9zM379.2 187.8h0.9v0.9h-0.9zM368.1 185.5h0.9v0.9h-0.9zM362.3 191.6h0.9v0.9h-0.9zM363.9 194.0h0.9v0.9h-0.9zM367.7 183.6h0.9v0.9h-0.9zM348.2 196.4h0.9v0.9h-0.9zM362.3 199.1h0.9v0.9h-0.9zM367.2 187.0h0.9v0.9h-0.9zM371.7 189.6h0.9v0.9h-0.9zM367.2 186.1h0.9v0.9h-0.9zM372.3 197.0h0.9v0.9h-0.9zM362.8 200.7h0.9v0.9h-0.9zM362.5 192.4h0.9v0.9h-0.9zM353.7 180.7h0.9v0.9h-0.9zM384.3 198.8h0.9v0.9h-0.9zM376.5 181.9h0.9v0.9h-0.9zM369.0 193.3h0.9v0.9h-0.9zM367.8 192.7h0.9v0.9h-0.9zM359.6 190.2h0.9v0.9h-0.9zM357.8 189.2h0.9v0.9h-0.9zM370.1 186.9h0.9v0.9h-0.9zM364.8 188.7h0.9v0.9h-0.9zM367.2 196.0h0.9v0.9h-0.9zM369.0 193.2h0.9v0.9h-0.9zM355.3 189.1h0.9v0.9h-0.9zM373.8 186.4h0.9v0.9h-0.9zM363.5 185.8h0.9v0.9h-0.9zM378.0 188.6h0.9v0.9h-0.9zM361.1 194.4h0.9v0.9h-0.9zM376.1 193.7h0.9v0.9h-0.9zM375.1 192.2h0.9v0.9h-0.9zM366.0 188.7h0.9v0.9h-0.9zM362.9 187.8h0.9v0.9h-0.9zM370.1 190.4h0.9v0.9h-0.9zM367.8 194.3h0.9v0.9h-0.9zM366.6 183.7h0.9v0.9h-0.9zM360.6 185.0h0.9v0.9h-0.9zM351.5 191.6h0.9v0.9h-0.9zM357.2 184.1h0.9v0.9h-0.9zM358.2 195.7h0.9v0.9h-0.9zM364.5 196.4h0.9v0.9h-0.9zM366.3 188.7h0.9v0.9h-0.9zM371.7 194.3h0.9v0.9h-0.9zM368.0 185.4h0.9v0.9h-0.9zM363.3 184.7h0.9v0.9h-0.9z" fill="#4555a8" opacity="0.52"/>
<path d="M367.0 192.2h0.9v0.9h-0.9zM387.8 201.4h0.9v0.9h-0.9zM378.2 198.2h0.9v0.9h-0.9zM372.8 210.9h0.9v0.9h-0.9zM388.4 210.0h0.9v0.9h-0.9zM374.6 194.4h0.9v0.9h-0.9zM382.7 192.8h0.9v0.9h-0.9zM373.8 184.6h0.9v0.9h-0.9zM381.3 192.5h0.9v0.9h-0.9zM379.7 190.0h0.9v0.9h-0.9zM348.7 195.0h0.9v0.9h-0.9zM384.0 182.6h0.9v0.9h-0.9zM358.4 189.4h0.9v0.9h-0.9zM367.1 179.6h0.9v0.9h-0.9zM391.1 198.6h0.9v0.9h-0.9zM362.6 178.8h0.9v0.9h-0.9zM374.4 205.4h0.9v0.9h-0.9zM379.9 199.6h0.9v0.9h-0.9zM358.7 193.1h0.9v0.9h-0.9zM352.0 205.4h0.9v0.9h-0.9zM376.8 176.8h0.9v0.9h-0.9zM347.8 194.9h0.9v0.9h-0.9zM371.7 189.3h0.9v0.9h-0.9zM377.4 205.5h0.9v0.9h-0.9zM374.4 178.9h0.9v0.9h-0.9zM368.1 182.3h0.9v0.9h-0.9zM360.3 193.8h0.9v0.9h-0.9zM367.9 184.0h0.9v0.9h-0.9zM369.6 185.8h0.9v0.9h-0.9zM376.3 189.8h0.9v0.9h-0.9zM374.6 189.6h0.9v0.9h-0.9zM378.9 190.5h0.9v0.9h-0.9zM369.8 187.5h0.9v0.9h-0.9zM371.6 179.0h0.9v0.9h-0.9zM371.1 188.1h0.9v0.9h-0.9zM364.0 194.2h0.9v0.9h-0.9zM363.7 188.4h0.9v0.9h-0.9zM353.3 185.0h0.9v0.9h-0.9zM355.8 204.0h0.9v0.9h-0.9zM353.8 183.9h0.9v0.9h-0.9zM372.2 201.4h0.9v0.9h-0.9zM349.5 180.6h0.9v0.9h-0.9zM371.3 193.8h0.9v0.9h-0.9zM352.8 178.8h0.9v0.9h-0.9zM358.3 196.6h0.9v0.9h-0.9zM369.3 196.6h0.9v0.9h-0.9zM368.5 191.2h0.9v0.9h-0.9zM377.2 190.5h0.9v0.9h-0.9zM372.6 185.0h0.9v0.9h-0.9zM362.6 194.7h0.9v0.9h-0.9zM366.9 186.1h0.9v0.9h-0.9zM377.7 195.2h0.9v0.9h-0.9zM369.7 186.0h0.9v0.9h-0.9zM380.5 208.8h0.9v0.9h-0.9zM359.9 180.6h0.9v0.9h-0.9zM360.4 184.8h0.9v0.9h-0.9zM354.6 183.1h0.9v0.9h-0.9zM379.9 197.4h0.9v0.9h-0.9zM387.5 196.6h0.9v0.9h-0.9zM364.0 198.9h0.9v0.9h-0.9zM362.4 188.9h0.9v0.9h-0.9zM355.6 199.9h0.9v0.9h-0.9zM381.8 188.1h0.9v0.9h-0.9zM366.0 191.6h0.9v0.9h-0.9zM372.1 197.2h0.9v0.9h-0.9zM370.5 194.1h0.9v0.9h-0.9zM351.7 189.2h0.9v0.9h-0.9zM348.2 203.8h0.9v0.9h-0.9zM386.4 196.3h0.9v0.9h-0.9zM383.0 205.3h0.9v0.9h-0.9zM380.9 180.2h0.9v0.9h-0.9zM359.9 182.6h0.9v0.9h-0.9zM369.5 194.0h0.9v0.9h-0.9zM358.5 189.3h0.9v0.9h-0.9zM373.0 190.2h0.9v0.9h-0.9zM364.3 196.8h0.9v0.9h-0.9zM372.7 180.9h0.9v0.9h-0.9zM366.3 193.1h0.9v0.9h-0.9zM357.9 196.0h0.9v0.9h-0.9zM360.0 188.9h0.9v0.9h-0.9zM368.3 206.8h0.9v0.9h-0.9zM365.7 187.3h0.9v0.9h-0.9zM378.2 187.9h0.9v0.9h-0.9zM373.1 191.1h0.9v0.9h-0.9zM354.1 200.7h0.9v0.9h-0.9zM366.7 189.9h0.9v0.9h-0.9zM353.8 179.9h0.9v0.9h-0.9zM362.7 180.6h0.9v0.9h-0.9zM375.4 197.3h0.9v0.9h-0.9zM361.9 180.0h0.9v0.9h-0.9zM364.8 183.8h0.9v0.9h-0.9zM371.5 192.5h0.9v0.9h-0.9zM364.4 191.7h0.9v0.9h-0.9zM382.0 203.2h0.9v0.9h-0.9zM363.3 196.3h0.9v0.9h-0.9zM366.7 183.8h0.9v0.9h-0.9zM384.9 194.0h0.9v0.9h-0.9zM371.2 193.7h0.9v0.9h-0.9zM367.6 183.8h0.9v0.9h-0.9zM390.8 197.5h0.9v0.9h-0.9zM372.7 198.0h0.9v0.9h-0.9zM384.9 189.8h0.9v0.9h-0.9zM376.5 188.9h0.9v0.9h-0.9zM377.2 189.4h0.9v0.9h-0.9zM375.7 194.5h0.9v0.9h-0.9zM365.5 197.8h0.9v0.9h-0.9zM368.5 188.3h0.9v0.9h-0.9zM369.5 186.0h0.9v0.9h-0.9zM383.9 195.6h0.9v0.9h-0.9zM381.3 181.8h0.9v0.9h-0.9zM372.7 185.8h0.9v0.9h-0.9zM370.5 200.1h0.9v0.9h-0.9zM372.6 190.0h0.9v0.9h-0.9zM382.9 198.3h0.9v0.9h-0.9zM391.7 178.2h0.9v0.9h-0.9zM373.4 188.3h0.9v0.9h-0.9zM359.0 192.0h0.9v0.9h-0.9zM355.6 175.6h0.9v0.9h-0.9zM358.7 189.4h0.9v0.9h-0.9zM391.9 186.2h0.9v0.9h-0.9zM355.5 177.4h0.9v0.9h-0.9zM365.3 189.5h0.9v0.9h-0.9zM371.3 181.1h0.9v0.9h-0.9zM371.5 180.2h0.9v0.9h-0.9zM336.5 199.3h0.9v0.9h-0.9zM375.6 193.7h0.9v0.9h-0.9zM373.7 184.0h0.9v0.9h-0.9zM382.4 183.9h0.9v0.9h-0.9zM392.4 192.8h0.9v0.9h-0.9zM347.4 197.3h0.9v0.9h-0.9zM393.2 189.4h0.9v0.9h-0.9zM382.3 189.7h0.9v0.9h-0.9zM384.4 188.1h0.9v0.9h-0.9zM374.1 183.3h0.9v0.9h-0.9zM358.6 199.0h0.9v0.9h-0.9zM364.9 188.4h0.9v0.9h-0.9zM354.4 192.7h0.9v0.9h-0.9zM378.9 188.0h0.9v0.9h-0.9zM367.3 182.7h0.9v0.9h-0.9zM386.4 186.9h0.9v0.9h-0.9zM367.7 203.0h0.9v0.9h-0.9zM366.8 180.4h0.9v0.9h-0.9zM358.4 188.7h0.9v0.9h-0.9zM391.0 192.8h0.9v0.9h-0.9zM366.9 197.1h0.9v0.9h-0.9zM385.3 185.9h0.9v0.9h-0.9zM386.9 197.3h0.9v0.9h-0.9zM372.0 201.1h0.9v0.9h-0.9zM366.3 207.5h0.9v0.9h-0.9zM370.5 184.1h0.9v0.9h-0.9zM376.8 193.4h0.9v0.9h-0.9zM379.7 189.7h0.9v0.9h-0.9zM385.4 187.4h0.9v0.9h-0.9zM371.3 182.5h0.9v0.9h-0.9zM360.0 192.7h0.9v0.9h-0.9zM361.7 188.1h0.9v0.9h-0.9zM367.2 193.1h0.9v0.9h-0.9zM379.0 196.7h0.9v0.9h-0.9zM382.1 192.8h0.9v0.9h-0.9zM363.1 180.1h0.9v0.9h-0.9zM365.5 185.7h0.9v0.9h-0.9zM347.7 203.0h0.9v0.9h-0.9zM347.4 193.9h0.9v0.9h-0.9zM376.5 189.7h0.9v0.9h-0.9zM360.4 203.8h0.9v0.9h-0.9zM360.0 181.2h0.9v0.9h-0.9zM357.5 186.8h0.9v0.9h-0.9zM370.3 193.7h0.9v0.9h-0.9zM351.3 193.8h0.9v0.9h-0.9zM368.1 196.3h0.9v0.9h-0.9zM384.4 186.6h0.9v0.9h-0.9zM358.0 184.2h0.9v0.9h-0.9zM383.1 197.7h0.9v0.9h-0.9zM343.4 176.2h0.9v0.9h-0.9zM354.7 180.7h0.9v0.9h-0.9zM374.7 192.9h0.9v0.9h-0.9zM393.6 197.0h0.9v0.9h-0.9zM371.2 199.7h0.9v0.9h-0.9zM358.9 181.4h0.9v0.9h-0.9zM370.1 198.0h0.9v0.9h-0.9zM350.0 197.7h0.9v0.9h-0.9zM380.2 187.8h0.9v0.9h-0.9zM371.8 189.4h0.9v0.9h-0.9zM370.7 197.1h0.9v0.9h-0.9zM359.9 198.7h0.9v0.9h-0.9zM380.3 197.8h0.9v0.9h-0.9zM345.7 178.1h0.9v0.9h-0.9zM378.2 187.2h0.9v0.9h-0.9zM361.3 185.9h0.9v0.9h-0.9zM353.4 189.3h0.9v0.9h-0.9zM360.9 186.7h0.9v0.9h-0.9zM375.6 182.9h0.9v0.9h-0.9zM383.4 175.5h0.9v0.9h-0.9zM376.8 197.8h0.9v0.9h-0.9zM369.7 196.6h0.9v0.9h-0.9zM368.4 178.8h0.9v0.9h-0.9zM373.9 199.5h0.9v0.9h-0.9zM363.0 179.3h0.9v0.9h-0.9zM362.4 193.7h0.9v0.9h-0.9zM373.4 199.2h0.9v0.9h-0.9zM376.5 195.0h0.9v0.9h-0.9zM345.3 207.2h0.9v0.9h-0.9zM370.3 197.5h0.9v0.9h-0.9zM365.5 190.3h0.9v0.9h-0.9zM370.5 202.6h0.9v0.9h-0.9zM388.3 195.8h0.9v0.9h-0.9zM376.1 188.1h0.9v0.9h-0.9zM385.6 191.6h0.9v0.9h-0.9zM381.7 203.7h0.9v0.9h-0.9zM344.4 206.9h0.9v0.9h-0.9zM373.7 189.1h0.9v0.9h-0.9zM346.3 189.2h0.9v0.9h-0.9zM341.6 192.0h0.9v0.9h-0.9zM367.7 204.4h0.9v0.9h-0.9zM365.8 199.1h0.9v0.9h-0.9zM384.1 206.2h0.9v0.9h-0.9zM366.8 196.9h0.9v0.9h-0.9zM351.2 183.5h0.9v0.9h-0.9zM366.5 191.3h0.9v0.9h-0.9zM354.9 188.5h0.9v0.9h-0.9zM378.5 188.2h0.9v0.9h-0.9zM368.0 185.1h0.9v0.9h-0.9zM386.9 204.2h0.9v0.9h-0.9zM372.4 190.6h0.9v0.9h-0.9zM390.4 194.9h0.9v0.9h-0.9zM361.7 181.8h0.9v0.9h-0.9zM362.7 207.2h0.9v0.9h-0.9zM362.6 212.2h0.9v0.9h-0.9zM369.9 189.9h0.9v0.9h-0.9zM386.2 189.7h0.9v0.9h-0.9zM374.6 184.0h0.9v0.9h-0.9zM354.6 186.2h0.9v0.9h-0.9zM372.7 186.7h0.9v0.9h-0.9zM345.8 194.9h0.9v0.9h-0.9zM367.9 189.5h0.9v0.9h-0.9zM389.5 188.0h0.9v0.9h-0.9zM376.4 201.5h0.9v0.9h-0.9zM383.9 192.9h0.9v0.9h-0.9zM370.1 193.7h0.9v0.9h-0.9zM381.1 195.6h0.9v0.9h-0.9zM364.5 194.7h0.9v0.9h-0.9zM374.6 196.5h0.9v0.9h-0.9zM372.5 201.3h0.9v0.9h-0.9zM372.5 197.9h0.9v0.9h-0.9zM370.5 187.4h0.9v0.9h-0.9zM358.3 190.3h0.9v0.9h-0.9zM376.6 200.6h0.9v0.9h-0.9z" fill="#6070b8" opacity="0.4"/>
<path d="M351.8 187.3h0.9v0.9h-0.9zM350.7 200.3h0.9v0.9h-0.9zM352.3 187.4h0.9v0.9h-0.9zM353.9 181.5h0.9v0.9h-0.9zM352.3 190.7h0.9v0.9h-0.9zM351.7 182.7h0.9v0.9h-0.9zM354.5 203.1h0.9v0.9h-0.9zM348.6 191.9h0.9v0.9h-0.9zM353.7 207.2h0.9v0.9h-0.9zM350.9 184.2h0.9v0.9h-0.9zM352.0 205.5h0.9v0.9h-0.9zM352.2 192.9h0.9v0.9h-0.9zM356.5 175.7h0.9v0.9h-0.9zM346.4 197.5h0.9v0.9h-0.9zM354.0 181.0h0.9v0.9h-0.9zM353.3 191.3h0.9v0.9h-0.9zM352.6 185.2h0.9v0.9h-0.9zM350.8 184.7h0.9v0.9h-0.9zM352.1 189.3h0.9v0.9h-0.9zM356.3 195.5h0.9v0.9h-0.9zM348.0 194.0h0.9v0.9h-0.9zM355.7 193.0h0.9v0.9h-0.9zM354.8 190.8h0.9v0.9h-0.9zM353.8 184.3h0.9v0.9h-0.9zM354.0 181.1h0.9v0.9h-0.9zM355.3 180.1h0.9v0.9h-0.9zM346.6 194.8h0.9v0.9h-0.9zM351.6 191.8h0.9v0.9h-0.9zM353.1 190.8h0.9v0.9h-0.9zM349.7 192.5h0.9v0.9h-0.9zM352.9 194.5h0.9v0.9h-0.9zM357.1 185.7h0.9v0.9h-0.9zM352.2 195.0h0.9v0.9h-0.9zM350.9 182.4h0.9v0.9h-0.9zM350.5 198.6h0.9v0.9h-0.9zM351.3 195.4h0.9v0.9h-0.9zM350.1 194.2h0.9v0.9h-0.9zM350.3 185.0h0.9v0.9h-0.9zM352.3 191.4h0.9v0.9h-0.9zM355.8 179.3h0.9v0.9h-0.9zM353.3 202.6h0.9v0.9h-0.9zM355.5 188.2h0.9v0.9h-0.9zM350.3 187.4h0.9v0.9h-0.9zM352.8 192.4h0.9v0.9h-0.9zM352.9 195.3h0.9v0.9h-0.9zM349.3 182.9h0.9v0.9h-0.9zM348.9 181.4h0.9v0.9h-0.9zM351.7 193.2h0.9v0.9h-0.9zM358.5 194.8h0.9v0.9h-0.9zM352.0 201.2h0.9v0.9h-0.9zM350.1 193.4h0.9v0.9h-0.9zM354.5 196.6h0.9v0.9h-0.9zM353.0 188.5h0.9v0.9h-0.9zM348.8 189.9h0.9v0.9h-0.9zM350.5 195.9h0.9v0.9h-0.9zM351.7 195.0h0.9v0.9h-0.9zM347.9 198.0h0.9v0.9h-0.9zM349.8 179.8h0.9v0.9h-0.9zM348.5 186.5h0.9v0.9h-0.9zM354.9 196.1h0.9v0.9h-0.9zM349.0 191.6h0.9v0.9h-0.9zM351.7 179.7h0.9v0.9h-0.9zM349.5 176.4h0.9v0.9h-0.9zM350.0 184.3h0.9v0.9h-0.9zM350.0 185.1h0.9v0.9h-0.9zM355.0 188.5h0.9v0.9h-0.9zM352.6 196.4h0.9v0.9h-0.9zM354.3 195.9h0.9v0.9h-0.9zM350.6 183.1h0.9v0.9h-0.9zM350.0 187.6h0.9v0.9h-0.9zM352.0 190.4h0.9v0.9h-0.9zM354.8 190.3h0.9v0.9h-0.9zM356.6 198.4h0.9v0.9h-0.9zM350.8 197.2h0.9v0.9h-0.9zM344.6 200.9h0.9v0.9h-0.9zM353.1 193.8h0.9v0.9h-0.9zM347.7 209.1h0.9v0.9h-0.9zM351.3 190.0h0.9v0.9h-0.9zM354.9 189.6h0.9v0.9h-0.9zM349.8 195.7h0.9v0.9h-0.9zM349.4 196.3h0.9v0.9h-0.9zM352.4 199.1h0.9v0.9h-0.9zM348.9 199.9h0.9v0.9h-0.9zM352.8 205.1h0.9v0.9h-0.9zM350.3 204.3h0.9v0.9h-0.9zM353.8 196.6h0.9v0.9h-0.9zM350.1 195.0h0.9v0.9h-0.9zM353.7 185.1h0.9v0.9h-0.9zM349.0 185.5h0.9v0.9h-0.9zM355.7 192.1h0.9v0.9h-0.9zM354.4 193.1h0.9v0.9h-0.9zM352.3 192.6h0.9v0.9h-0.9zM350.9 199.7h0.9v0.9h-0.9zM352.4 192.6h0.9v0.9h-0.9zM348.5 193.2h0.9v0.9h-0.9zM350.3 187.4h0.9v0.9h-0.9zM354.6 183.2h0.9v0.9h-0.9zM351.5 195.5h0.9v0.9h-0.9zM354.9 187.3h0.9v0.9h-0.9zM352.8 193.0h0.9v0.9h-0.9zM349.1 175.7h0.9v0.9h-0.9zM347.1 195.3h0.9v0.9h-0.9zM352.3 181.4h0.9v0.9h-0.9zM350.4 188.1h0.9v0.9h-0.9zM351.1 190.8h0.9v0.9h-0.9zM357.6 185.4h0.9v0.9h-0.9zM352.4 185.5h0.9v0.9h-0.9zM350.4 184.7h0.9v0.9h-0.9zM351.4 187.0h0.9v0.9h-0.9zM352.9 192.5h0.9v0.9h-0.9zM349.7 204.7h0.9v0.9h-0.9zM349.0 193.5h0.9v0.9h-0.9zM357.5 185.9h0.9v0.9h-0.9zM355.4 201.1h0.9v0.9h-0.9zM352.9 177.8h0.9v0.9h-0.9zM355.6 191.7h0.9v0.9h-0.9zM350.6 200.1h0.9v0.9h-0.9zM350.1 198.6h0.9v0.9h-0.9zM350.6 194.8h0.9v0.9h-0.9z" fill="#4555a8" opacity="0.5"/>
<path d="M326.0 188.7h0.9v0.9h-0.9zM327.6 185.4h0.9v0.9h-0.9zM338.9 191.2h0.9v0.9h-0.9zM338.9 206.7h0.9v0.9h-0.9zM334.0 193.8h0.9v0.9h-0.9zM347.4 204.1h0.9v0.9h-0.9zM346.7 190.6h0.9v0.9h-0.9zM343.6 177.5h0.9v0.9h-0.9zM350.2 197.7h0.9v0.9h-0.9zM342.2 188.9h0.9v0.9h-0.9zM337.6 185.8h0.9v0.9h-0.9zM342.8 178.7h0.9v0.9h-0.9zM346.9 198.8h0.9v0.9h-0.9zM357.7 192.6h0.9v0.9h-0.9zM336.0 195.1h0.9v0.9h-0.9zM337.4 191.8h0.9v0.9h-0.9zM325.7 181.1h0.9v0.9h-0.9zM331.2 189.9h0.9v0.9h-0.9zM324.9 180.5h0.9v0.9h-0.9zM334.1 200.9h0.9v0.9h-0.9zM335.0 200.3h0.9v0.9h-0.9zM346.9 201.2h0.9v0.9h-0.9zM332.7 188.7h0.9v0.9h-0.9zM341.8 181.3h0.9v0.9h-0.9zM350.8 208.4h0.9v0.9h-0.9zM333.2 202.9h0.9v0.9h-0.9zM322.5 181.8h0.9v0.9h-0.9zM333.2 193.1h0.9v0.9h-0.9zM335.1 183.8h0.9v0.9h-0.9zM357.1 196.1h0.9v0.9h-0.9zM339.9 200.3h0.9v0.9h-0.9zM338.8 190.5h0.9v0.9h-0.9zM352.3 183.1h0.9v0.9h-0.9zM340.7 208.1h0.9v0.9h-0.9zM351.8 199.1h0.9v0.9h-0.9zM342.8 185.3h0.9v0.9h-0.9zM336.1 186.5h0.9v0.9h-0.9zM337.4 185.5h0.9v0.9h-0.9zM349.9 201.2h0.9v0.9h-0.9zM344.0 202.5h0.9v0.9h-0.9zM336.3 179.5h0.9v0.9h-0.9zM341.4 204.3h0.9v0.9h-0.9zM354.8 194.0h0.9v0.9h-0.9zM341.9 189.6h0.9v0.9h-0.9zM336.9 218.2h0.9v0.9h-0.9zM350.6 189.6h0.9v0.9h-0.9zM333.1 193.2h0.9v0.9h-0.9zM359.4 195.2h0.9v0.9h-0.9zM348.3 189.1h0.9v0.9h-0.9zM324.0 207.2h0.9v0.9h-0.9zM336.2 184.6h0.9v0.9h-0.9zM329.9 185.8h0.9v0.9h-0.9zM330.8 176.5h0.9v0.9h-0.9zM349.2 197.1h0.9v0.9h-0.9zM346.9 189.3h0.9v0.9h-0.9zM340.5 194.8h0.9v0.9h-0.9zM349.0 201.7h0.9v0.9h-0.9zM340.7 186.1h0.9v0.9h-0.9zM324.8 184.5h0.9v0.9h-0.9zM330.5 187.2h0.9v0.9h-0.9zM324.4 210.7h0.9v0.9h-0.9zM325.9 178.7h0.9v0.9h-0.9zM339.4 204.4h0.9v0.9h-0.9zM327.0 199.6h0.9v0.9h-0.9zM334.2 205.3h0.9v0.9h-0.9zM350.9 196.3h0.9v0.9h-0.9zM344.3 193.0h0.9v0.9h-0.9zM333.2 180.6h0.9v0.9h-0.9zM340.3 192.3h0.9v0.9h-0.9zM333.1 192.2h0.9v0.9h-0.9zM335.1 181.9h0.9v0.9h-0.9zM331.6 205.2h0.9v0.9h-0.9zM334.6 207.9h0.9v0.9h-0.9zM325.3 178.6h0.9v0.9h-0.9zM338.3 201.3h0.9v0.9h-0.9zM330.3 199.7h0.9v0.9h-0.9zM346.5 204.4h0.9v0.9h-0.9zM335.9 192.5h0.9v0.9h-0.9zM339.8 208.0h0.9v0.9h-0.9zM324.1 184.0h0.9v0.9h-0.9zM326.9 202.6h0.9v0.9h-0.9zM357.9 200.0h0.9v0.9h-0.9zM323.5 192.4h0.9v0.9h-0.9zM345.6 198.9h0.9v0.9h-0.9zM334.8 184.6h0.9v0.9h-0.9zM345.4 192.9h0.9v0.9h-0.9zM345.2 197.2h0.9v0.9h-0.9zM332.3 208.3h0.9v0.9h-0.9zM332.0 197.6h0.9v0.9h-0.9zM330.6 190.6h0.9v0.9h-0.9zM334.5 186.0h0.9v0.9h-0.9zM339.4 206.9h0.9v0.9h-0.9zM355.8 208.2h0.9v0.9h-0.9zM335.3 208.5h0.9v0.9h-0.9zM341.2 212.1h0.9v0.9h-0.9zM324.3 208.7h0.9v0.9h-0.9zM331.0 205.3h0.9v0.9h-0.9zM332.3 202.7h0.9v0.9h-0.9zM327.2 190.4h0.9v0.9h-0.9zM324.9 185.3h0.9v0.9h-0.9zM334.9 195.3h0.9v0.9h-0.9zM328.7 176.9h0.9v0.9h-0.9zM340.1 189.5h0.9v0.9h-0.9zM346.0 187.4h0.9v0.9h-0.9zM343.5 183.6h0.9v0.9h-0.9zM339.7 194.0h0.9v0.9h-0.9zM341.5 183.1h0.9v0.9h-0.9z" fill="#6070b8" opacity="0.45"/>
<defs><radialGradient id="g3" cx="0.5" cy="0.5" r="0.5"><stop offset="0" stop-color="#c81818"/><stop offset="0.12" stop-color="#d82020"/><stop offset="0.19" stop-color="#e83020"/><stop offset="0.24" stop-color="#f07020"/><stop offset="0.3" stop-color="#f0c020"/><stop offset="0.35" stop-color="#d8d830"/><stop offset="0.42" stop-color="#b0d040"/><stop offset="0.55" stop-color="#90c850"/><stop offset="0.65" stop-color="#80c460"/><stop offset="0.71" stop-color="#70c4a0"/><stop offset="0.76" stop-color="#60c4e4"/><stop offset="0.82" stop-color="#5098d8"/><stop offset="0.88" stop-color="#4868b8"/><stop offset="0.94" stop-color="#4458a8"/><stop offset="1" stop-color="#4455a5"/></radialGradient></defs>
<defs><filter id="fg3" x="-30%" y="-30%" width="160%" height="160%"><feGaussianBlur stdDeviation="0.7"/></filter></defs>
<path d="M345.4 175.8h0.9v0.9h-0.9zM323.1 185.6h0.9v0.9h-0.9zM339.5 207.7h0.9v0.9h-0.9zM331.9 206.2h0.9v0.9h-0.9zM349.8 186.5h0.9v0.9h-0.9zM347.3 199.2h0.9v0.9h-0.9zM350.6 183.0h0.9v0.9h-0.9zM346.7 196.8h0.9v0.9h-0.9zM326.2 198.2h0.9v0.9h-0.9zM329.1 203.6h0.9v0.9h-0.9zM325.1 200.3h0.9v0.9h-0.9zM350.3 188.4h0.9v0.9h-0.9zM348.5 178.5h0.9v0.9h-0.9zM344.4 205.1h0.9v0.9h-0.9zM323.2 187.5h0.9v0.9h-0.9zM334.5 208.0h0.9v0.9h-0.9zM342.1 176.7h0.9v0.9h-0.9zM328.3 202.7h0.9v0.9h-0.9zM325.5 194.6h0.9v0.9h-0.9zM332.7 205.4h0.9v0.9h-0.9zM332.7 208.6h0.9v0.9h-0.9zM337.9 207.3h0.9v0.9h-0.9zM347.8 203.4h0.9v0.9h-0.9zM349.6 186.3h0.9v0.9h-0.9zM332.8 208.0h0.9v0.9h-0.9zM349.7 189.2h0.9v0.9h-0.9zM337.7 177.1h0.9v0.9h-0.9zM325.0 193.3h0.9v0.9h-0.9zM324.4 191.5h0.9v0.9h-0.9zM332.7 177.6h0.9v0.9h-0.9zM328.2 201.2h0.9v0.9h-0.9zM341.6 206.0h0.9v0.9h-0.9zM353.1 179.8h0.9v0.9h-0.9zM350.9 180.0h0.9v0.9h-0.9zM335.1 176.9h0.9v0.9h-0.9zM349.3 191.7h0.9v0.9h-0.9zM340.7 176.9h0.9v0.9h-0.9zM337.9 208.6h0.9v0.9h-0.9zM323.6 188.2h0.9v0.9h-0.9zM349.2 176.3h0.9v0.9h-0.9zM345.7 175.5h0.9v0.9h-0.9zM345.9 198.4h0.9v0.9h-0.9zM332.1 177.0h0.9v0.9h-0.9zM334.3 178.0h0.9v0.9h-0.9zM337.0 176.6h0.9v0.9h-0.9zM325.9 200.0h0.9v0.9h-0.9zM348.7 197.3h0.9v0.9h-0.9zM328.0 203.6h0.9v0.9h-0.9zM326.5 199.2h0.9v0.9h-0.9zM349.0 176.9h0.9v0.9h-0.9zM336.7 176.9h0.9v0.9h-0.9zM327.1 179.8h0.9v0.9h-0.9zM331.7 207.6h0.9v0.9h-0.9zM345.3 199.3h0.9v0.9h-0.9zM325.1 197.8h0.9v0.9h-0.9zM339.1 208.8h0.9v0.9h-0.9zM337.2 175.6h0.9v0.9h-0.9zM348.3 195.3h0.9v0.9h-0.9zM349.3 187.7h0.9v0.9h-0.9zM333.2 176.3h0.9v0.9h-0.9zM333.3 209.7h0.9v0.9h-0.9zM338.7 207.6h0.9v0.9h-0.9zM351.4 189.8h0.9v0.9h-0.9zM332.2 175.9h0.9v0.9h-0.9zM345.4 178.2h0.9v0.9h-0.9zM348.5 191.6h0.9v0.9h-0.9zM331.9 205.6h0.9v0.9h-0.9zM349.7 188.0h0.9v0.9h-0.9zM329.8 205.6h0.9v0.9h-0.9zM350.8 184.0h0.9v0.9h-0.9zM343.1 205.9h0.9v0.9h-0.9zM330.6 205.3h0.9v0.9h-0.9zM348.8 188.9h0.9v0.9h-0.9zM348.7 193.9h0.9v0.9h-0.9zM325.4 178.2h0.9v0.9h-0.9zM331.7 177.8h0.9v0.9h-0.9zM337.5 207.6h0.9v0.9h-0.9zM329.2 176.1h0.9v0.9h-0.9zM338.5 177.0h0.9v0.9h-0.9zM347.1 195.7h0.9v0.9h-0.9zM322.1 190.4h0.9v0.9h-0.9zM322.1 184.0h0.9v0.9h-0.9zM327.6 204.8h0.9v0.9h-0.9zM349.4 183.8h0.9v0.9h-0.9zM337.4 176.3h0.9v0.9h-0.9zM350.7 188.6h0.9v0.9h-0.9zM326.2 178.3h0.9v0.9h-0.9zM347.2 176.7h0.9v0.9h-0.9zM333.0 207.4h0.9v0.9h-0.9zM343.6 207.3h0.9v0.9h-0.9zM324.1 189.1h0.9v0.9h-0.9zM349.7 179.6h0.9v0.9h-0.9zM350.5 188.8h0.9v0.9h-0.9zM332.0 206.2h0.9v0.9h-0.9zM344.1 176.3h0.9v0.9h-0.9zM342.6 177.1h0.9v0.9h-0.9zM322.8 186.2h0.9v0.9h-0.9zM352.5 182.3h0.9v0.9h-0.9zM322.3 195.7h0.9v0.9h-0.9zM349.3 187.3h0.9v0.9h-0.9zM325.3 193.3h0.9v0.9h-0.9zM325.0 199.9h0.9v0.9h-0.9zM348.7 176.6h0.9v0.9h-0.9zM326.4 179.1h0.9v0.9h-0.9zM339.6 209.9h0.9v0.9h-0.9zM350.7 181.7h0.9v0.9h-0.9zM350.2 180.2h0.9v0.9h-0.9zM333.3 206.5h0.9v0.9h-0.9zM349.7 188.0h0.9v0.9h-0.9zM347.3 176.5h0.9v0.9h-0.9zM324.7 197.0h0.9v0.9h-0.9zM327.4 202.8h0.9v0.9h-0.9zM327.9 201.2h0.9v0.9h-0.9zM351.0 180.4h0.9v0.9h-0.9zM323.0 185.2h0.9v0.9h-0.9zM345.9 197.5h0.9v0.9h-0.9zM349.6 180.0h0.9v0.9h-0.9zM332.5 177.4h0.9v0.9h-0.9zM326.9 201.4h0.9v0.9h-0.9zM334.7 209.9h0.9v0.9h-0.9zM323.4 189.9h0.9v0.9h-0.9zM330.0 176.4h0.9v0.9h-0.9zM326.4 179.6h0.9v0.9h-0.9zM325.1 193.6h0.9v0.9h-0.9zM344.5 177.5h0.9v0.9h-0.9zM350.3 180.1h0.9v0.9h-0.9zM332.7 177.8h0.9v0.9h-0.9zM347.5 196.4h0.9v0.9h-0.9zM340.2 177.9h0.9v0.9h-0.9zM326.1 178.4h0.9v0.9h-0.9zM323.5 188.0h0.9v0.9h-0.9zM333.8 177.7h0.9v0.9h-0.9zM349.5 182.9h0.9v0.9h-0.9zM339.5 177.0h0.9v0.9h-0.9zM325.9 200.1h0.9v0.9h-0.9zM327.1 204.5h0.9v0.9h-0.9zM324.7 191.3h0.9v0.9h-0.9zM348.4 194.2h0.9v0.9h-0.9zM329.0 203.1h0.9v0.9h-0.9zM326.0 201.3h0.9v0.9h-0.9zM325.6 198.2h0.9v0.9h-0.9zM335.9 178.1h0.9v0.9h-0.9zM346.4 194.9h0.9v0.9h-0.9zM339.6 207.9h0.9v0.9h-0.9zM349.6 177.5h0.9v0.9h-0.9zM329.2 203.2h0.9v0.9h-0.9zM340.9 208.2h0.9v0.9h-0.9zM327.1 202.9h0.9v0.9h-0.9zM332.1 205.7h0.9v0.9h-0.9zM349.6 189.9h0.9v0.9h-0.9zM331.3 177.3h0.9v0.9h-0.9zM344.3 176.2h0.9v0.9h-0.9zM348.3 196.0h0.9v0.9h-0.9zM322.4 186.9h0.9v0.9h-0.9zM341.1 177.6h0.9v0.9h-0.9zM325.2 200.6h0.9v0.9h-0.9zM344.9 177.1h0.9v0.9h-0.9zM343.3 204.1h0.9v0.9h-0.9zM323.4 193.2h0.9v0.9h-0.9zM349.8 192.1h0.9v0.9h-0.9zM341.5 177.2h0.9v0.9h-0.9zM348.9 179.0h0.9v0.9h-0.9zM330.9 205.5h0.9v0.9h-0.9zM338.0 208.4h0.9v0.9h-0.9zM342.4 208.2h0.9v0.9h-0.9zM341.1 177.4h0.9v0.9h-0.9zM329.3 207.5h0.9v0.9h-0.9zM326.2 198.3h0.9v0.9h-0.9zM350.5 193.5h0.9v0.9h-0.9zM346.8 177.3h0.9v0.9h-0.9zM342.7 205.3h0.9v0.9h-0.9zM328.9 203.6h0.9v0.9h-0.9zM347.9 192.1h0.9v0.9h-0.9zM345.2 202.1h0.9v0.9h-0.9zM330.5 205.9h0.9v0.9h-0.9zM323.1 191.3h0.9v0.9h-0.9zM327.7 177.5h0.9v0.9h-0.9zM336.0 208.1h0.9v0.9h-0.9zM326.2 178.0h0.9v0.9h-0.9zM345.6 178.4h0.9v0.9h-0.9zM337.2 208.4h0.9v0.9h-0.9zM336.7 177.3h0.9v0.9h-0.9zM338.0 208.8h0.9v0.9h-0.9zM329.1 203.7h0.9v0.9h-0.9zM337.3 207.5h0.9v0.9h-0.9zM326.5 199.9h0.9v0.9h-0.9zM344.8 207.2h0.9v0.9h-0.9zM346.4 196.5h0.9v0.9h-0.9zM324.8 185.1h0.9v0.9h-0.9zM351.6 181.8h0.9v0.9h-0.9zM347.2 196.4h0.9v0.9h-0.9zM344.3 204.4h0.9v0.9h-0.9zM349.7 182.7h0.9v0.9h-0.9zM323.3 188.6h0.9v0.9h-0.9zM350.0 181.2h0.9v0.9h-0.9zM338.4 177.6h0.9v0.9h-0.9zM346.5 200.2h0.9v0.9h-0.9zM342.1 178.1h0.9v0.9h-0.9zM341.1 207.5h0.9v0.9h-0.9zM347.8 176.8h0.9v0.9h-0.9zM349.9 184.3h0.9v0.9h-0.9zM336.4 208.2h0.9v0.9h-0.9zM336.5 209.6h0.9v0.9h-0.9zM325.7 179.6h0.9v0.9h-0.9zM344.2 202.3h0.9v0.9h-0.9zM344.6 202.4h0.9v0.9h-0.9zM350.3 183.3h0.9v0.9h-0.9zM353.4 185.1h0.9v0.9h-0.9zM343.4 206.5h0.9v0.9h-0.9zM327.9 204.6h0.9v0.9h-0.9zM327.5 203.9h0.9v0.9h-0.9zM324.1 199.3h0.9v0.9h-0.9zM346.7 200.0h0.9v0.9h-0.9zM344.7 176.3h0.9v0.9h-0.9zM332.8 206.4h0.9v0.9h-0.9zM335.8 178.2h0.9v0.9h-0.9zM323.3 182.1h0.9v0.9h-0.9zM333.3 177.6h0.9v0.9h-0.9zM326.0 178.9h0.9v0.9h-0.9zM350.4 188.7h0.9v0.9h-0.9zM351.8 186.9h0.9v0.9h-0.9zM323.8 187.0h0.9v0.9h-0.9zM326.0 197.1h0.9v0.9h-0.9zM324.9 200.5h0.9v0.9h-0.9zM332.4 206.5h0.9v0.9h-0.9zM337.7 178.1h0.9v0.9h-0.9zM335.1 178.0h0.9v0.9h-0.9zM327.2 200.0h0.9v0.9h-0.9zM329.1 204.5h0.9v0.9h-0.9zM324.9 179.3h0.9v0.9h-0.9zM348.6 188.3h0.9v0.9h-0.9zM346.7 176.0h0.9v0.9h-0.9zM347.1 201.5h0.9v0.9h-0.9zM348.5 192.2h0.9v0.9h-0.9zM347.4 193.3h0.9v0.9h-0.9zM341.3 206.3h0.9v0.9h-0.9zM328.9 203.6h0.9v0.9h-0.9zM324.5 193.6h0.9v0.9h-0.9zM347.0 194.6h0.9v0.9h-0.9zM349.9 184.7h0.9v0.9h-0.9zM325.5 197.4h0.9v0.9h-0.9zM325.1 181.4h0.9v0.9h-0.9zM330.1 204.2h0.9v0.9h-0.9zM326.4 178.7h0.9v0.9h-0.9zM348.1 178.1h0.9v0.9h-0.9zM325.6 190.3h0.9v0.9h-0.9zM349.0 178.9h0.9v0.9h-0.9zM325.8 178.4h0.9v0.9h-0.9zM332.5 177.4h0.9v0.9h-0.9zM323.4 188.3h0.9v0.9h-0.9zM350.2 188.2h0.9v0.9h-0.9zM349.6 184.3h0.9v0.9h-0.9zM324.9 192.0h0.9v0.9h-0.9zM326.2 198.2h0.9v0.9h-0.9zM343.6 175.6h0.9v0.9h-0.9zM331.5 177.4h0.9v0.9h-0.9zM324.5 193.4h0.9v0.9h-0.9zM350.0 184.9h0.9v0.9h-0.9zM348.1 192.4h0.9v0.9h-0.9zM335.1 177.3h0.9v0.9h-0.9zM350.4 188.4h0.9v0.9h-0.9zM326.0 192.8h0.9v0.9h-0.9zM323.0 191.9h0.9v0.9h-0.9zM338.3 177.5h0.9v0.9h-0.9zM341.0 209.4h0.9v0.9h-0.9zM333.9 177.6h0.9v0.9h-0.9zM346.8 196.6h0.9v0.9h-0.9zM328.2 203.6h0.9v0.9h-0.9zM345.1 176.4h0.9v0.9h-0.9zM344.9 204.8h0.9v0.9h-0.9zM338.6 176.3h0.9v0.9h-0.9zM346.5 178.5h0.9v0.9h-0.9zM340.9 209.3h0.9v0.9h-0.9zM350.4 181.1h0.9v0.9h-0.9zM341.0 177.7h0.9v0.9h-0.9zM349.8 179.7h0.9v0.9h-0.9zM327.8 205.7h0.9v0.9h-0.9zM349.7 188.1h0.9v0.9h-0.9zM342.6 205.1h0.9v0.9h-0.9zM342.9 208.2h0.9v0.9h-0.9zM325.1 179.3h0.9v0.9h-0.9zM325.9 179.4h0.9v0.9h-0.9zM341.2 177.0h0.9v0.9h-0.9zM327.4 203.5h0.9v0.9h-0.9zM350.3 188.7h0.9v0.9h-0.9zM323.5 184.6h0.9v0.9h-0.9zM343.2 177.0h0.9v0.9h-0.9zM334.3 176.0h0.9v0.9h-0.9zM347.2 176.1h0.9v0.9h-0.9zM345.6 198.6h0.9v0.9h-0.9zM325.0 192.9h0.9v0.9h-0.9zM324.2 180.5h0.9v0.9h-0.9zM345.5 199.5h0.9v0.9h-0.9zM324.6 181.6h0.9v0.9h-0.9zM323.2 184.1h0.9v0.9h-0.9zM348.0 192.7h0.9v0.9h-0.9zM337.1 208.8h0.9v0.9h-0.9zM345.3 178.0h0.9v0.9h-0.9zM348.6 194.2h0.9v0.9h-0.9zM326.1 199.5h0.9v0.9h-0.9zM331.0 177.6h0.9v0.9h-0.9zM341.0 176.3h0.9v0.9h-0.9zM349.2 176.4h0.9v0.9h-0.9zM327.3 200.0h0.9v0.9h-0.9zM322.7 192.8h0.9v0.9h-0.9zM331.4 205.4h0.9v0.9h-0.9zM343.8 177.9h0.9v0.9h-0.9zM348.7 179.6h0.9v0.9h-0.9zM331.5 207.1h0.9v0.9h-0.9zM348.5 190.8h0.9v0.9h-0.9zM349.3 183.0h0.9v0.9h-0.9zM322.3 184.2h0.9v0.9h-0.9zM345.3 177.4h0.9v0.9h-0.9zM329.5 203.6h0.9v0.9h-0.9zM337.9 177.9h0.9v0.9h-0.9zM323.2 192.0h0.9v0.9h-0.9zM347.3 177.8h0.9v0.9h-0.9zM323.9 191.3h0.9v0.9h-0.9zM333.7 209.7h0.9v0.9h-0.9zM325.7 196.0h0.9v0.9h-0.9zM341.6 210.3h0.9v0.9h-0.9zM330.5 177.3h0.9v0.9h-0.9zM349.1 187.0h0.9v0.9h-0.9zM323.8 185.1h0.9v0.9h-0.9zM332.4 177.9h0.9v0.9h-0.9zM345.8 198.6h0.9v0.9h-0.9zM348.1 199.6h0.9v0.9h-0.9zM349.7 191.2h0.9v0.9h-0.9zM347.3 177.2h0.9v0.9h-0.9zM349.0 178.5h0.9v0.9h-0.9zM345.4 177.5h0.9v0.9h-0.9zM325.0 179.7h0.9v0.9h-0.9zM331.2 205.3h0.9v0.9h-0.9zM324.8 192.5h0.9v0.9h-0.9zM341.0 177.7h0.9v0.9h-0.9zM326.5 179.2h0.9v0.9h-0.9zM351.7 186.1h0.9v0.9h-0.9zM330.3 177.6h0.9v0.9h-0.9zM349.0 190.2h0.9v0.9h-0.9zM344.4 177.0h0.9v0.9h-0.9zM344.3 202.6h0.9v0.9h-0.9zM331.7 205.0h0.9v0.9h-0.9zM325.5 194.2h0.9v0.9h-0.9zM333.4 208.1h0.9v0.9h-0.9zM324.3 200.4h0.9v0.9h-0.9zM324.0 184.8h0.9v0.9h-0.9zM351.4 187.9h0.9v0.9h-0.9zM335.2 176.3h0.9v0.9h-0.9zM347.5 193.5h0.9v0.9h-0.9zM335.6 208.8h0.9v0.9h-0.9zM325.9 198.2h0.9v0.9h-0.9zM336.0 176.8h0.9v0.9h-0.9zM346.3 197.2h0.9v0.9h-0.9zM326.4 177.2h0.9v0.9h-0.9zM344.7 203.0h0.9v0.9h-0.9zM325.7 196.3h0.9v0.9h-0.9zM349.2 181.7h0.9v0.9h-0.9zM337.2 209.9h0.9v0.9h-0.9zM340.8 207.6h0.9v0.9h-0.9zM338.7 208.8h0.9v0.9h-0.9zM338.1 176.5h0.9v0.9h-0.9zM347.5 197.9h0.9v0.9h-0.9zM325.5 179.2h0.9v0.9h-0.9zM350.9 188.4h0.9v0.9h-0.9zM325.0 178.4h0.9v0.9h-0.9zM322.2 186.7h0.9v0.9h-0.9zM349.4 181.7h0.9v0.9h-0.9zM344.6 177.0h0.9v0.9h-0.9zM323.7 193.2h0.9v0.9h-0.9zM348.8 189.9h0.9v0.9h-0.9zM347.6 197.3h0.9v0.9h-0.9zM324.7 196.2h0.9v0.9h-0.9zM346.3 198.2h0.9v0.9h-0.9zM349.4 186.2h0.9v0.9h-0.9zM332.1 205.9h0.9v0.9h-0.9zM349.5 177.9h0.9v0.9h-0.9zM335.0 177.4h0.9v0.9h-0.9zM333.1 208.1h0.9v0.9h-0.9zM347.8 196.1h0.9v0.9h-0.9zM323.2 183.8h0.9v0.9h-0.9zM345.4 200.0h0.9v0.9h-0.9zM324.6 193.3h0.9v0.9h-0.9zM324.3 179.3h0.9v0.9h-0.9zM350.7 182.3h0.9v0.9h-0.9zM326.2 199.1h0.9v0.9h-0.9zM348.4 194.8h0.9v0.9h-0.9zM342.7 204.7h0.9v0.9h-0.9zM351.1 183.5h0.9v0.9h-0.9zM351.2 182.5h0.9v0.9h-0.9zM350.5 180.1h0.9v0.9h-0.9zM347.3 177.9h0.9v0.9h-0.9zM325.1 180.6h0.9v0.9h-0.9zM337.4 208.9h0.9v0.9h-0.9zM349.4 178.7h0.9v0.9h-0.9zM324.6 190.8h0.9v0.9h-0.9zM345.4 205.2h0.9v0.9h-0.9zM335.7 177.0h0.9v0.9h-0.9zM348.3 177.3h0.9v0.9h-0.9zM338.2 176.0h0.9v0.9h-0.9zM330.8 204.7h0.9v0.9h-0.9zM344.7 177.3h0.9v0.9h-0.9zM345.7 202.8h0.9v0.9h-0.9zM348.0 190.5h0.9v0.9h-0.9zM350.8 184.4h0.9v0.9h-0.9zM325.6 195.7h0.9v0.9h-0.9zM347.2 197.5h0.9v0.9h-0.9zM350.9 178.7h0.9v0.9h-0.9zM337.0 177.3h0.9v0.9h-0.9zM348.8 178.6h0.9v0.9h-0.9zM338.4 177.5h0.9v0.9h-0.9zM338.8 208.7h0.9v0.9h-0.9zM330.7 205.8h0.9v0.9h-0.9zM343.6 204.8h0.9v0.9h-0.9zM333.3 207.9h0.9v0.9h-0.9zM331.4 205.5h0.9v0.9h-0.9zM343.6 203.0h0.9v0.9h-0.9zM341.1 208.9h0.9v0.9h-0.9zM325.3 181.3h0.9v0.9h-0.9zM346.5 194.2h0.9v0.9h-0.9zM335.7 177.9h0.9v0.9h-0.9zM335.9 207.6h0.9v0.9h-0.9zM338.5 208.1h0.9v0.9h-0.9zM351.2 180.1h0.9v0.9h-0.9zM343.4 203.7h0.9v0.9h-0.9zM334.6 206.9h0.9v0.9h-0.9zM346.4 198.1h0.9v0.9h-0.9zM344.4 175.8h0.9v0.9h-0.9zM331.3 178.4h0.9v0.9h-0.9zM325.1 196.5h0.9v0.9h-0.9zM328.9 177.6h0.9v0.9h-0.9zM339.3 176.0h0.9v0.9h-0.9zM328.7 203.4h0.9v0.9h-0.9zM326.2 179.0h0.9v0.9h-0.9zM334.4 177.3h0.9v0.9h-0.9zM349.6 184.6h0.9v0.9h-0.9zM334.9 177.4h0.9v0.9h-0.9zM324.9 179.5h0.9v0.9h-0.9zM330.2 204.3h0.9v0.9h-0.9zM324.5 191.9h0.9v0.9h-0.9zM325.3 178.4h0.9v0.9h-0.9zM345.9 176.7h0.9v0.9h-0.9zM346.4 203.7h0.9v0.9h-0.9zM329.7 177.2h0.9v0.9h-0.9zM348.0 195.0h0.9v0.9h-0.9zM347.9 194.9h0.9v0.9h-0.9zM343.6 205.1h0.9v0.9h-0.9zM324.7 191.0h0.9v0.9h-0.9zM349.3 188.1h0.9v0.9h-0.9zM325.6 191.3h0.9v0.9h-0.9zM342.0 176.7h0.9v0.9h-0.9zM339.0 208.6h0.9v0.9h-0.9zM350.0 190.2h0.9v0.9h-0.9zM328.8 203.2h0.9v0.9h-0.9zM346.6 198.8h0.9v0.9h-0.9zM324.9 198.0h0.9v0.9h-0.9zM335.7 178.0h0.9v0.9h-0.9zM346.4 176.1h0.9v0.9h-0.9zM345.8 199.9h0.9v0.9h-0.9zM342.5 207.6h0.9v0.9h-0.9zM350.0 185.8h0.9v0.9h-0.9zM328.3 201.4h0.9v0.9h-0.9zM349.7 185.4h0.9v0.9h-0.9zM324.6 189.6h0.9v0.9h-0.9zM323.9 189.9h0.9v0.9h-0.9zM324.6 179.5h0.9v0.9h-0.9zM340.1 208.7h0.9v0.9h-0.9zM324.6 196.7h0.9v0.9h-0.9zM324.8 177.7h0.9v0.9h-0.9zM332.0 207.4h0.9v0.9h-0.9zM344.6 204.3h0.9v0.9h-0.9zM347.0 198.7h0.9v0.9h-0.9zM346.5 177.2h0.9v0.9h-0.9zM331.8 206.4h0.9v0.9h-0.9zM341.2 177.2h0.9v0.9h-0.9zM337.9 176.2h0.9v0.9h-0.9zM350.9 182.2h0.9v0.9h-0.9zM323.5 183.9h0.9v0.9h-0.9zM349.6 187.9h0.9v0.9h-0.9zM334.1 177.1h0.9v0.9h-0.9zM349.0 187.3h0.9v0.9h-0.9zM330.3 204.3h0.9v0.9h-0.9zM341.4 205.7h0.9v0.9h-0.9zM333.9 206.6h0.9v0.9h-0.9zM326.6 199.6h0.9v0.9h-0.9zM347.9 178.4h0.9v0.9h-0.9zM350.1 183.4h0.9v0.9h-0.9zM324.7 197.1h0.9v0.9h-0.9zM349.9 185.5h0.9v0.9h-0.9zM347.7 196.9h0.9v0.9h-0.9zM326.3 199.3h0.9v0.9h-0.9zM341.2 207.1h0.9v0.9h-0.9zM323.3 191.2h0.9v0.9h-0.9zM322.1 181.6h0.9v0.9h-0.9zM342.7 206.8h0.9v0.9h-0.9zM348.6 197.7h0.9v0.9h-0.9zM349.3 188.3h0.9v0.9h-0.9zM347.7 178.7h0.9v0.9h-0.9zM349.1 184.8h0.9v0.9h-0.9zM328.1 199.9h0.9v0.9h-0.9zM347.6 194.3h0.9v0.9h-0.9zM341.4 175.5h0.9v0.9h-0.9zM335.4 208.6h0.9v0.9h-0.9zM326.7 199.6h0.9v0.9h-0.9zM350.4 188.1h0.9v0.9h-0.9zM332.5 176.6h0.9v0.9h-0.9zM330.6 207.8h0.9v0.9h-0.9zM336.0 207.9h0.9v0.9h-0.9zM335.8 207.2h0.9v0.9h-0.9zM325.2 182.4h0.9v0.9h-0.9zM323.4 186.8h0.9v0.9h-0.9zM346.0 201.1h0.9v0.9h-0.9zM345.0 177.7h0.9v0.9h-0.9zM324.4 178.5h0.9v0.9h-0.9zM349.5 194.4h0.9v0.9h-0.9zM351.3 179.5h0.9v0.9h-0.9zM335.4 177.4h0.9v0.9h-0.9zM341.3 211.6h0.9v0.9h-0.9zM337.6 177.2h0.9v0.9h-0.9zM323.9 187.9h0.9v0.9h-0.9zM342.0 177.2h0.9v0.9h-0.9zM325.2 193.9h0.9v0.9h-0.9zM350.0 182.4h0.9v0.9h-0.9zM348.1 178.1h0.9v0.9h-0.9zM329.6 206.4h0.9v0.9h-0.9zM347.7 196.8h0.9v0.9h-0.9zM334.5 177.9h0.9v0.9h-0.9zM326.4 199.1h0.9v0.9h-0.9zM345.3 200.8h0.9v0.9h-0.9zM344.1 202.6h0.9v0.9h-0.9zM349.7 184.9h0.9v0.9h-0.9zM327.4 199.4h0.9v0.9h-0.9zM342.8 207.1h0.9v0.9h-0.9zM326.9 178.2h0.9v0.9h-0.9zM323.8 194.1h0.9v0.9h-0.9zM346.4 203.4h0.9v0.9h-0.9zM346.1 177.1h0.9v0.9h-0.9zM324.3 179.3h0.9v0.9h-0.9zM324.8 179.3h0.9v0.9h-0.9zM331.9 176.8h0.9v0.9h-0.9zM344.8 177.1h0.9v0.9h-0.9zM346.9 198.9h0.9v0.9h-0.9zM342.7 177.6h0.9v0.9h-0.9zM328.6 203.1h0.9v0.9h-0.9zM346.7 198.6h0.9v0.9h-0.9zM349.3 190.0h0.9v0.9h-0.9zM349.8 189.2h0.9v0.9h-0.9zM343.6 176.8h0.9v0.9h-0.9zM347.4 200.5h0.9v0.9h-0.9zM342.4 176.6h0.9v0.9h-0.9zM350.0 180.2h0.9v0.9h-0.9zM347.7 197.7h0.9v0.9h-0.9zM340.1 207.3h0.9v0.9h-0.9zM352.7 179.6h0.9v0.9h-0.9zM333.3 206.5h0.9v0.9h-0.9zM351.7 183.0h0.9v0.9h-0.9zM334.5 177.9h0.9v0.9h-0.9zM344.6 203.8h0.9v0.9h-0.9zM350.1 182.9h0.9v0.9h-0.9zM349.2 192.6h0.9v0.9h-0.9zM331.5 177.3h0.9v0.9h-0.9zM349.8 181.5h0.9v0.9h-0.9zM338.3 176.4h0.9v0.9h-0.9zM336.0 209.4h0.9v0.9h-0.9zM329.2 204.2h0.9v0.9h-0.9zM328.1 204.0h0.9v0.9h-0.9zM324.3 191.9h0.9v0.9h-0.9zM349.3 185.9h0.9v0.9h-0.9zM340.4 207.6h0.9v0.9h-0.9zM322.5 187.9h0.9v0.9h-0.9zM348.3 196.0h0.9v0.9h-0.9zM345.8 198.4h0.9v0.9h-0.9zM339.2 210.6h0.9v0.9h-0.9zM323.0 179.3h0.9v0.9h-0.9zM327.0 197.2h0.9v0.9h-0.9zM348.7 189.2h0.9v0.9h-0.9zM329.1 205.9h0.9v0.9h-0.9zM332.8 176.2h0.9v0.9h-0.9zM347.3 196.3h0.9v0.9h-0.9zM343.8 202.4h0.9v0.9h-0.9zM329.7 203.9h0.9v0.9h-0.9zM342.9 204.5h0.9v0.9h-0.9zM342.6 207.1h0.9v0.9h-0.9zM323.6 190.3h0.9v0.9h-0.9zM346.1 178.3h0.9v0.9h-0.9zM348.0 192.2h0.9v0.9h-0.9zM324.8 195.7h0.9v0.9h-0.9zM350.3 192.5h0.9v0.9h-0.9zM344.9 205.7h0.9v0.9h-0.9zM347.9 197.0h0.9v0.9h-0.9zM323.9 186.0h0.9v0.9h-0.9zM336.8 208.3h0.9v0.9h-0.9zM328.8 204.5h0.9v0.9h-0.9zM322.8 180.8h0.9v0.9h-0.9zM351.4 186.6h0.9v0.9h-0.9zM331.3 206.4h0.9v0.9h-0.9zM335.6 176.3h0.9v0.9h-0.9zM329.2 202.7h0.9v0.9h-0.9zM323.6 192.1h0.9v0.9h-0.9zM331.5 204.7h0.9v0.9h-0.9zM333.0 207.9h0.9v0.9h-0.9zM346.6 176.7h0.9v0.9h-0.9zM332.4 177.8h0.9v0.9h-0.9zM324.3 189.6h0.9v0.9h-0.9zM348.4 189.8h0.9v0.9h-0.9zM324.8 192.9h0.9v0.9h-0.9zM338.1 209.4h0.9v0.9h-0.9zM323.7 189.9h0.9v0.9h-0.9zM324.9 181.0h0.9v0.9h-0.9zM326.8 202.2h0.9v0.9h-0.9zM331.6 207.0h0.9v0.9h-0.9zM347.1 202.5h0.9v0.9h-0.9zM335.8 177.1h0.9v0.9h-0.9zM340.1 177.6h0.9v0.9h-0.9zM323.4 189.7h0.9v0.9h-0.9zM350.9 186.8h0.9v0.9h-0.9zM329.8 207.0h0.9v0.9h-0.9zM322.4 186.0h0.9v0.9h-0.9zM342.6 176.5h0.9v0.9h-0.9zM326.8 178.1h0.9v0.9h-0.9zM324.4 180.3h0.9v0.9h-0.9zM349.5 190.4h0.9v0.9h-0.9zM326.8 200.3h0.9v0.9h-0.9zM327.2 202.3h0.9v0.9h-0.9zM344.1 204.3h0.9v0.9h-0.9zM324.9 183.5h0.9v0.9h-0.9zM344.4 176.9h0.9v0.9h-0.9zM334.5 177.8h0.9v0.9h-0.9zM335.8 176.3h0.9v0.9h-0.9zM333.1 177.1h0.9v0.9h-0.9zM325.0 180.3h0.9v0.9h-0.9zM347.3 196.6h0.9v0.9h-0.9zM351.3 181.8h0.9v0.9h-0.9zM350.7 182.7h0.9v0.9h-0.9zM346.6 175.8h0.9v0.9h-0.9zM327.3 203.6h0.9v0.9h-0.9zM347.6 176.8h0.9v0.9h-0.9zM335.4 178.8h0.9v0.9h-0.9zM347.0 177.7h0.9v0.9h-0.9zM344.0 177.5h0.9v0.9h-0.9zM350.3 182.0h0.9v0.9h-0.9zM350.9 184.9h0.9v0.9h-0.9zM342.2 176.4h0.9v0.9h-0.9zM341.2 206.5h0.9v0.9h-0.9zM335.3 175.6h0.9v0.9h-0.9zM322.9 192.4h0.9v0.9h-0.9zM322.9 194.5h0.9v0.9h-0.9zM347.4 195.8h0.9v0.9h-0.9zM331.8 207.9h0.9v0.9h-0.9zM340.9 176.7h0.9v0.9h-0.9zM348.2 176.7h0.9v0.9h-0.9zM324.5 192.4h0.9v0.9h-0.9zM348.6 194.2h0.9v0.9h-0.9zM332.5 205.9h0.9v0.9h-0.9zM326.6 201.5h0.9v0.9h-0.9zM335.3 209.7h0.9v0.9h-0.9zM349.3 192.6h0.9v0.9h-0.9zM349.6 185.2h0.9v0.9h-0.9zM326.9 179.5h0.9v0.9h-0.9zM326.1 196.7h0.9v0.9h-0.9zM335.5 208.7h0.9v0.9h-0.9zM327.3 179.1h0.9v0.9h-0.9zM324.5 199.6h0.9v0.9h-0.9zM346.8 177.8h0.9v0.9h-0.9zM327.3 196.7h0.9v0.9h-0.9zM334.0 177.1h0.9v0.9h-0.9zM322.4 180.2h0.9v0.9h-0.9zM326.2 196.7h0.9v0.9h-0.9zM324.1 194.4h0.9v0.9h-0.9zM347.2 196.4h0.9v0.9h-0.9zM324.0 191.6h0.9v0.9h-0.9zM328.4 177.8h0.9v0.9h-0.9zM334.7 177.5h0.9v0.9h-0.9zM323.0 186.2h0.9v0.9h-0.9zM323.6 189.0h0.9v0.9h-0.9zM335.4 208.4h0.9v0.9h-0.9zM350.2 181.4h0.9v0.9h-0.9zM333.5 208.7h0.9v0.9h-0.9zM322.2 181.8h0.9v0.9h-0.9zM349.5 183.1h0.9v0.9h-0.9zM323.2 198.7h0.9v0.9h-0.9zM341.4 177.8h0.9v0.9h-0.9zM332.5 177.1h0.9v0.9h-0.9zM348.8 196.0h0.9v0.9h-0.9zM336.6 210.6h0.9v0.9h-0.9zM349.0 179.3h0.9v0.9h-0.9zM326.9 201.0h0.9v0.9h-0.9zM324.2 192.2h0.9v0.9h-0.9zM340.9 177.3h0.9v0.9h-0.9zM350.4 186.5h0.9v0.9h-0.9zM326.3 199.1h0.9v0.9h-0.9zM347.1 196.1h0.9v0.9h-0.9zM330.8 205.6h0.9v0.9h-0.9zM349.8 179.1h0.9v0.9h-0.9zM327.9 200.1h0.9v0.9h-0.9zM325.5 199.4h0.9v0.9h-0.9zM329.2 204.4h0.9v0.9h-0.9zM325.4 194.9h0.9v0.9h-0.9zM348.8 186.9h0.9v0.9h-0.9zM345.6 197.7h0.9v0.9h-0.9zM328.7 201.1h0.9v0.9h-0.9zM332.6 207.3h0.9v0.9h-0.9zM345.2 199.4h0.9v0.9h-0.9zM324.2 180.4h0.9v0.9h-0.9zM341.4 176.2h0.9v0.9h-0.9zM348.5 191.7h0.9v0.9h-0.9zM331.2 204.7h0.9v0.9h-0.9zM324.1 192.4h0.9v0.9h-0.9zM324.1 185.4h0.9v0.9h-0.9zM349.3 185.3h0.9v0.9h-0.9zM323.6 186.6h0.9v0.9h-0.9zM349.2 185.4h0.9v0.9h-0.9zM338.6 177.3h0.9v0.9h-0.9zM323.8 190.4h0.9v0.9h-0.9zM330.2 177.9h0.9v0.9h-0.9zM348.7 194.1h0.9v0.9h-0.9zM330.1 203.1h0.9v0.9h-0.9zM341.1 206.8h0.9v0.9h-0.9zM326.7 196.9h0.9v0.9h-0.9zM346.0 200.1h0.9v0.9h-0.9zM347.9 191.7h0.9v0.9h-0.9zM350.6 180.7h0.9v0.9h-0.9zM342.0 206.5h0.9v0.9h-0.9zM344.8 201.5h0.9v0.9h-0.9zM348.5 196.6h0.9v0.9h-0.9zM336.9 208.4h0.9v0.9h-0.9zM347.5 196.9h0.9v0.9h-0.9zM335.4 208.1h0.9v0.9h-0.9zM347.9 196.3h0.9v0.9h-0.9zM327.7 204.6h0.9v0.9h-0.9zM339.6 177.9h0.9v0.9h-0.9zM350.7 183.2h0.9v0.9h-0.9zM348.8 178.3h0.9v0.9h-0.9zM323.1 195.5h0.9v0.9h-0.9zM344.5 203.4h0.9v0.9h-0.9zM325.1 189.0h0.9v0.9h-0.9zM344.8 201.5h0.9v0.9h-0.9zM322.5 189.2h0.9v0.9h-0.9zM331.7 206.8h0.9v0.9h-0.9zM322.2 194.5h0.9v0.9h-0.9zM348.6 177.0h0.9v0.9h-0.9zM324.0 184.5h0.9v0.9h-0.9zM331.0 206.1h0.9v0.9h-0.9zM342.0 206.8h0.9v0.9h-0.9zM349.9 182.8h0.9v0.9h-0.9zM330.5 177.4h0.9v0.9h-0.9zM324.8 178.9h0.9v0.9h-0.9zM324.2 182.5h0.9v0.9h-0.9zM345.3 201.4h0.9v0.9h-0.9zM346.8 202.9h0.9v0.9h-0.9zM325.3 179.7h0.9v0.9h-0.9zM324.5 181.3h0.9v0.9h-0.9zM346.4 204.1h0.9v0.9h-0.9zM330.6 205.1h0.9v0.9h-0.9zM324.5 193.7h0.9v0.9h-0.9zM347.5 193.4h0.9v0.9h-0.9zM331.4 205.6h0.9v0.9h-0.9zM343.6 177.6h0.9v0.9h-0.9zM324.6 178.8h0.9v0.9h-0.9zM343.9 203.4h0.9v0.9h-0.9zM348.7 180.1h0.9v0.9h-0.9zM349.7 186.9h0.9v0.9h-0.9zM331.8 177.1h0.9v0.9h-0.9zM336.1 209.4h0.9v0.9h-0.9zM324.9 194.2h0.9v0.9h-0.9zM331.5 206.3h0.9v0.9h-0.9zM333.3 176.2h0.9v0.9h-0.9zM347.5 177.4h0.9v0.9h-0.9zM339.0 177.1h0.9v0.9h-0.9zM322.1 184.4h0.9v0.9h-0.9zM349.0 185.5h0.9v0.9h-0.9zM334.6 177.1h0.9v0.9h-0.9zM325.2 202.5h0.9v0.9h-0.9zM327.7 176.9h0.9v0.9h-0.9zM350.7 184.5h0.9v0.9h-0.9zM322.9 179.8h0.9v0.9h-0.9zM348.0 192.3h0.9v0.9h-0.9zM348.9 191.0h0.9v0.9h-0.9zM350.5 178.8h0.9v0.9h-0.9zM344.5 200.5h0.9v0.9h-0.9zM329.3 203.0h0.9v0.9h-0.9zM349.9 181.0h0.9v0.9h-0.9zM346.4 176.6h0.9v0.9h-0.9zM340.7 209.0h0.9v0.9h-0.9zM348.3 189.3h0.9v0.9h-0.9zM344.6 175.5h0.9v0.9h-0.9zM323.8 188.8h0.9v0.9h-0.9zM340.1 176.6h0.9v0.9h-0.9zM348.9 186.5h0.9v0.9h-0.9zM347.7 177.9h0.9v0.9h-0.9zM326.5 201.6h0.9v0.9h-0.9zM337.5 208.4h0.9v0.9h-0.9zM324.9 191.9h0.9v0.9h-0.9zM346.3 176.1h0.9v0.9h-0.9zM326.1 199.9h0.9v0.9h-0.9zM337.5 208.3h0.9v0.9h-0.9zM330.5 178.0h0.9v0.9h-0.9zM343.7 177.0h0.9v0.9h-0.9zM325.9 198.1h0.9v0.9h-0.9zM349.6 190.4h0.9v0.9h-0.9zM336.3 177.3h0.9v0.9h-0.9zM332.7 177.3h0.9v0.9h-0.9zM348.5 177.4h0.9v0.9h-0.9zM340.1 207.4h0.9v0.9h-0.9zM333.1 177.9h0.9v0.9h-0.9zM335.6 176.0h0.9v0.9h-0.9zM326.6 196.8h0.9v0.9h-0.9zM336.7 207.4h0.9v0.9h-0.9zM326.7 200.0h0.9v0.9h-0.9zM330.7 205.7h0.9v0.9h-0.9zM341.7 206.5h0.9v0.9h-0.9zM348.5 192.1h0.9v0.9h-0.9zM334.6 208.1h0.9v0.9h-0.9zM352.1 184.5h0.9v0.9h-0.9zM329.6 205.8h0.9v0.9h-0.9zM333.9 207.7h0.9v0.9h-0.9zM331.0 177.9h0.9v0.9h-0.9zM324.1 183.1h0.9v0.9h-0.9zM337.7 207.8h0.9v0.9h-0.9zM347.9 194.2h0.9v0.9h-0.9zM343.0 206.1h0.9v0.9h-0.9zM338.8 207.0h0.9v0.9h-0.9zM348.4 193.5h0.9v0.9h-0.9zM332.5 176.4h0.9v0.9h-0.9zM345.6 204.5h0.9v0.9h-0.9zM347.7 177.7h0.9v0.9h-0.9zM347.0 196.6h0.9v0.9h-0.9zM323.4 180.4h0.9v0.9h-0.9zM323.8 187.1h0.9v0.9h-0.9zM338.2 176.5h0.9v0.9h-0.9zM323.4 184.1h0.9v0.9h-0.9zM327.1 202.8h0.9v0.9h-0.9zM350.5 185.8h0.9v0.9h-0.9zM344.4 201.3h0.9v0.9h-0.9zM340.7 177.0h0.9v0.9h-0.9zM346.8 196.0h0.9v0.9h-0.9zM327.4 177.9h0.9v0.9h-0.9zM337.0 176.6h0.9v0.9h-0.9zM326.6 178.8h0.9v0.9h-0.9zM345.0 201.6h0.9v0.9h-0.9zM338.3 208.6h0.9v0.9h-0.9zM323.0 187.3h0.9v0.9h-0.9zM343.4 177.4h0.9v0.9h-0.9zM325.8 198.4h0.9v0.9h-0.9zM345.7 205.4h0.9v0.9h-0.9zM350.0 183.8h0.9v0.9h-0.9zM324.1 186.2h0.9v0.9h-0.9zM331.5 207.3h0.9v0.9h-0.9zM337.4 209.7h0.9v0.9h-0.9zM334.0 208.3h0.9v0.9h-0.9zM346.1 199.5h0.9v0.9h-0.9zM333.0 176.2h0.9v0.9h-0.9zM325.9 179.0h0.9v0.9h-0.9zM344.0 201.5h0.9v0.9h-0.9zM336.9 177.3h0.9v0.9h-0.9zM324.7 188.7h0.9v0.9h-0.9zM322.7 185.8h0.9v0.9h-0.9zM346.3 202.0h0.9v0.9h-0.9zM341.5 206.0h0.9v0.9h-0.9zM332.6 176.8h0.9v0.9h-0.9zM327.5 200.8h0.9v0.9h-0.9zM350.6 189.5h0.9v0.9h-0.9zM329.6 206.6h0.9v0.9h-0.9zM350.9 190.9h0.9v0.9h-0.9zM327.1 202.3h0.9v0.9h-0.9zM332.1 176.7h0.9v0.9h-0.9zM322.4 185.7h0.9v0.9h-0.9zM336.3 208.9h0.9v0.9h-0.9zM351.3 182.5h0.9v0.9h-0.9zM348.7 188.1h0.9v0.9h-0.9zM341.2 177.1h0.9v0.9h-0.9zM346.9 196.4h0.9v0.9h-0.9zM323.6 193.3h0.9v0.9h-0.9zM348.9 194.8h0.9v0.9h-0.9zM351.1 180.3h0.9v0.9h-0.9zM348.8 192.5h0.9v0.9h-0.9zM350.0 189.4h0.9v0.9h-0.9zM351.1 189.5h0.9v0.9h-0.9zM345.9 197.3h0.9v0.9h-0.9zM332.6 207.8h0.9v0.9h-0.9zM332.7 208.9h0.9v0.9h-0.9zM323.5 181.0h0.9v0.9h-0.9zM325.0 188.8h0.9v0.9h-0.9z" fill="#4455a5" opacity="0.6"/>
<path d="M324.00 183.50C324.15 182.00 324.33 180.42 325.00 179.50C325.67 178.58 326.33 178.35 328.00 178.00C329.67 177.65 332.33 177.53 335.00 177.40C337.67 177.27 341.62 177.05 344.00 177.20C346.38 177.35 348.27 177.58 349.30 178.30C350.33 179.02 350.20 179.97 350.20 181.50C350.20 183.03 349.70 185.50 349.30 187.50C348.90 189.50 348.38 191.50 347.80 193.50C347.22 195.50 346.55 197.62 345.80 199.50C345.05 201.38 344.10 203.45 343.30 204.80C342.50 206.15 341.88 207.02 341.00 207.60C340.12 208.18 339.12 208.28 338.00 208.30C336.88 208.32 335.55 208.20 334.30 207.70C333.05 207.20 331.68 206.50 330.50 205.30C329.32 204.10 328.08 202.25 327.20 200.50C326.32 198.75 325.72 196.80 325.20 194.80C324.68 192.80 324.30 190.38 324.10 188.50C323.90 186.62 323.85 185.00 324.00 183.50Z" fill="#4455a5" filter="url(#fg3)"/>
<path d="M324.00 183.50C324.15 182.00 324.33 180.42 325.00 179.50C325.67 178.58 326.33 178.35 328.00 178.00C329.67 177.65 332.33 177.53 335.00 177.40C337.67 177.27 341.62 177.05 344.00 177.20C346.38 177.35 348.27 177.58 349.30 178.30C350.33 179.02 350.20 179.97 350.20 181.50C350.20 183.03 349.70 185.50 349.30 187.50C348.90 189.50 348.38 191.50 347.80 193.50C347.22 195.50 346.55 197.62 345.80 199.50C345.05 201.38 344.10 203.45 343.30 204.80C342.50 206.15 341.88 207.02 341.00 207.60C340.12 208.18 339.12 208.28 338.00 208.30C336.88 208.32 335.55 208.20 334.30 207.70C333.05 207.20 331.68 206.50 330.50 205.30C329.32 204.10 328.08 202.25 327.20 200.50C326.32 198.75 325.72 196.80 325.20 194.80C324.68 192.80 324.30 190.38 324.10 188.50C323.90 186.62 323.85 185.00 324.00 183.50Z" fill="#4455a5" transform="translate(338.6 193.5) scale(0.88) translate(-338.6 -193.5)"/>
<ellipse cx="338.6" cy="193.5" rx="9.19" ry="13.38" transform="rotate(6 338.6 193.5)" fill="url(#g3)"/>
<rect x="91.4" y="279.8" width="72.40" height="72.00" fill="none" stroke="#c4c4c4" stroke-width="0.8"/>
<path d="M91.4 279.8V351.8H163.8" stroke="#777" stroke-width="0.8" fill="none"/>
<path d="M89.20 287.00H91.4M156.61 351.8V354.00M89.20 304.20H91.4M139.93 351.8V354.00M89.20 324.30H91.4M120.16 351.8V354.00M89.20 335.80H91.4M107.88 351.8V354.00M89.20 346.60H91.4M94.30 351.8V354.00M90.20 318.25H91.4M126.11 351.8V353.00M90.20 314.71H91.4M129.59 351.8V353.00M90.20 312.20H91.4M132.06 351.8V353.00M90.20 310.25H91.4M133.98 351.8V353.00M90.20 308.66H91.4M135.55 351.8V353.00M90.20 307.31H91.4M136.87 351.8V353.00M90.20 306.15H91.4M138.02 351.8V353.00M90.20 305.12H91.4M139.03 351.8V353.00M90.20 299.02H91.4M144.95 351.8V353.00M90.20 295.99H91.4M147.89 351.8V353.00M90.20 293.84H91.4M149.97 351.8V353.00M90.20 292.18H91.4M151.59 351.8V353.00M90.20 290.82H91.4M152.91 351.8V353.00M90.20 289.66H91.4M154.03 351.8V353.00M90.20 288.67H91.4M154.99 351.8V353.00M90.20 287.79H91.4M155.85 351.8V353.00" stroke="#555" stroke-width="0.6" fill="none"/>
<rect x="89.20" y="334.40" width="1.8" height="2.8" fill="#111"/>
<rect x="106.48" y="352.10" width="2.8" height="1.8" fill="#111"/>
<text x="82.60" y="290.40" font-size="6.6" text-anchor="end" fill="#333" >10</text>
<text x="82.70" y="287.40" font-size="4.8" text-anchor="start" fill="#333" >5</text>
<text x="82.60" y="307.60" font-size="6.6" text-anchor="end" fill="#333" >10</text>
<text x="82.70" y="304.60" font-size="4.8" text-anchor="start" fill="#333" >4</text>
<text x="82.60" y="327.70" font-size="6.6" text-anchor="end" fill="#333" >10</text>
<text x="82.70" y="324.70" font-size="4.8" text-anchor="start" fill="#333" >3</text>
<text x="82.50" y="337.90" font-size="6.3" text-anchor="end" fill="#333" >0</text>
<text x="82.60" y="350.00" font-size="6.6" text-anchor="end" fill="#333" >-10</text>
<text x="82.70" y="347.00" font-size="4.8" text-anchor="start" fill="#333" >3</text>
<text x="95.30" y="364.60" font-size="6.6" text-anchor="middle" fill="#333" >-10</text>
<text x="99.20" y="361.40" font-size="4.8" text-anchor="start" fill="#333" >3</text>
<text x="108.48" y="364.80" font-size="6.4" text-anchor="middle" fill="#333" >0</text>
<text x="118.36" y="364.60" font-size="6.6" text-anchor="middle" fill="#333" >10</text>
<text x="122.16" y="361.40" font-size="4.8" text-anchor="start" fill="#333" >3</text>
<text x="138.13" y="364.60" font-size="6.6" text-anchor="middle" fill="#333" >10</text>
<text x="141.93" y="361.40" font-size="4.8" text-anchor="start" fill="#333" >4</text>
<text x="154.81" y="364.60" font-size="6.6" text-anchor="middle" fill="#333" >10</text>
<text x="158.61" y="361.40" font-size="4.8" text-anchor="start" fill="#333" >5</text>
<text x="126.15" y="376.90" font-size="9.0" text-anchor="middle" fill="#1a1a1a" textLength="19.8" lengthAdjust="spacingAndGlyphs" >IL-17A</text>
<text transform="translate(67.90 316.50) rotate(-90)" font-size="10.2" text-anchor="middle" fill="#1a1a1a" textLength="13.9" lengthAdjust="spacingAndGlyphs">Treg</text>
<rect x="123.0" y="281.7" width="40.30" height="45.60" fill="none" stroke="#555" stroke-width="0.9"/>
<text x="143.60" y="336.55" font-size="5.7" text-anchor="middle" fill="#2a2a2a" >IL-17A+</text>
<text x="143.60" y="342.95" font-size="5.7" text-anchor="middle" fill="#2a2a2a" >9.49</text>
<path d="M105.3 307.4h0.9v0.9h-0.9zM100.4 309.3h0.9v0.9h-0.9zM108.5 323.8h0.9v0.9h-0.9zM106.8 305.9h0.9v0.9h-0.9zM105.6 313.1h0.9v0.9h-0.9zM108.9 301.3h0.9v0.9h-0.9zM106.8 313.4h0.9v0.9h-0.9zM99.1 319.2h0.9v0.9h-0.9zM105.4 315.2h0.9v0.9h-0.9zM106.0 306.3h0.9v0.9h-0.9zM105.9 310.5h0.9v0.9h-0.9zM109.2 306.1h0.9v0.9h-0.9zM102.2 302.6h0.9v0.9h-0.9zM102.8 314.3h0.9v0.9h-0.9zM102.8 320.4h0.9v0.9h-0.9zM106.6 307.5h0.9v0.9h-0.9zM110.7 305.3h0.9v0.9h-0.9zM105.1 314.5h0.9v0.9h-0.9zM108.8 300.3h0.9v0.9h-0.9zM114.8 312.8h0.9v0.9h-0.9zM101.8 306.9h0.9v0.9h-0.9zM109.4 310.1h0.9v0.9h-0.9zM109.2 327.2h0.9v0.9h-0.9zM109.5 324.4h0.9v0.9h-0.9zM108.6 303.0h0.9v0.9h-0.9zM111.5 302.8h0.9v0.9h-0.9zM109.6 313.6h0.9v0.9h-0.9zM103.3 302.8h0.9v0.9h-0.9zM105.6 311.6h0.9v0.9h-0.9zM110.9 309.1h0.9v0.9h-0.9zM112.9 315.5h0.9v0.9h-0.9zM104.0 303.6h0.9v0.9h-0.9zM106.6 304.4h0.9v0.9h-0.9zM106.0 314.8h0.9v0.9h-0.9zM107.2 316.4h0.9v0.9h-0.9zM103.9 301.7h0.9v0.9h-0.9zM101.4 294.4h0.9v0.9h-0.9zM104.8 309.2h0.9v0.9h-0.9zM105.7 308.7h0.9v0.9h-0.9zM113.5 300.0h0.9v0.9h-0.9zM105.4 304.8h0.9v0.9h-0.9zM103.2 319.5h0.9v0.9h-0.9zM106.3 318.8h0.9v0.9h-0.9zM102.4 323.8h0.9v0.9h-0.9zM114.3 301.8h0.9v0.9h-0.9zM106.4 307.7h0.9v0.9h-0.9zM108.4 298.4h0.9v0.9h-0.9zM108.0 314.6h0.9v0.9h-0.9zM104.3 290.7h0.9v0.9h-0.9zM104.0 305.6h0.9v0.9h-0.9zM109.1 303.9h0.9v0.9h-0.9zM102.4 313.7h0.9v0.9h-0.9zM107.7 314.7h0.9v0.9h-0.9zM106.6 317.3h0.9v0.9h-0.9zM108.2 294.5h0.9v0.9h-0.9zM107.1 315.0h0.9v0.9h-0.9zM106.6 320.5h0.9v0.9h-0.9zM104.8 314.4h0.9v0.9h-0.9zM102.1 308.8h0.9v0.9h-0.9zM104.5 300.8h0.9v0.9h-0.9zM101.9 310.6h0.9v0.9h-0.9zM107.9 303.8h0.9v0.9h-0.9zM102.1 301.8h0.9v0.9h-0.9zM109.1 299.2h0.9v0.9h-0.9zM110.4 295.5h0.9v0.9h-0.9zM107.4 314.2h0.9v0.9h-0.9zM110.7 305.4h0.9v0.9h-0.9zM103.8 297.5h0.9v0.9h-0.9zM109.6 307.8h0.9v0.9h-0.9zM104.8 305.5h0.9v0.9h-0.9zM107.3 309.1h0.9v0.9h-0.9zM110.6 291.7h0.9v0.9h-0.9zM109.4 304.6h0.9v0.9h-0.9zM106.2 306.4h0.9v0.9h-0.9zM106.2 314.9h0.9v0.9h-0.9zM107.2 297.4h0.9v0.9h-0.9zM106.2 308.1h0.9v0.9h-0.9zM107.8 309.2h0.9v0.9h-0.9zM106.2 317.1h0.9v0.9h-0.9zM102.7 326.4h0.9v0.9h-0.9zM104.5 300.6h0.9v0.9h-0.9zM109.2 317.5h0.9v0.9h-0.9zM110.9 320.6h0.9v0.9h-0.9zM108.1 309.5h0.9v0.9h-0.9zM107.8 308.9h0.9v0.9h-0.9zM104.6 321.8h0.9v0.9h-0.9zM112.8 309.0h0.9v0.9h-0.9zM105.7 305.0h0.9v0.9h-0.9zM100.6 303.6h0.9v0.9h-0.9zM104.7 308.8h0.9v0.9h-0.9zM103.0 293.8h0.9v0.9h-0.9zM108.8 322.8h0.9v0.9h-0.9zM99.0 307.9h0.9v0.9h-0.9zM109.5 299.7h0.9v0.9h-0.9zM101.5 309.3h0.9v0.9h-0.9zM105.7 303.9h0.9v0.9h-0.9zM112.3 321.0h0.9v0.9h-0.9zM108.8 308.5h0.9v0.9h-0.9zM105.4 316.1h0.9v0.9h-0.9zM105.7 321.0h0.9v0.9h-0.9zM110.9 304.3h0.9v0.9h-0.9zM109.2 321.7h0.9v0.9h-0.9zM108.9 301.6h0.9v0.9h-0.9zM105.6 306.5h0.9v0.9h-0.9zM107.0 309.5h0.9v0.9h-0.9zM105.4 316.1h0.9v0.9h-0.9zM111.3 304.8h0.9v0.9h-0.9zM101.5 312.3h0.9v0.9h-0.9zM106.7 312.7h0.9v0.9h-0.9zM104.3 311.7h0.9v0.9h-0.9zM103.5 318.1h0.9v0.9h-0.9zM112.6 302.0h0.9v0.9h-0.9zM97.6 305.5h0.9v0.9h-0.9zM104.9 311.0h0.9v0.9h-0.9zM106.8 313.4h0.9v0.9h-0.9zM116.2 305.0h0.9v0.9h-0.9zM105.4 313.0h0.9v0.9h-0.9zM100.3 315.8h0.9v0.9h-0.9zM104.6 298.0h0.9v0.9h-0.9zM103.8 313.6h0.9v0.9h-0.9zM109.7 319.6h0.9v0.9h-0.9zM108.3 303.8h0.9v0.9h-0.9zM108.7 309.0h0.9v0.9h-0.9zM115.0 293.2h0.9v0.9h-0.9zM112.4 315.8h0.9v0.9h-0.9zM108.2 308.9h0.9v0.9h-0.9zM104.8 302.0h0.9v0.9h-0.9zM101.3 326.0h0.9v0.9h-0.9zM110.1 315.1h0.9v0.9h-0.9zM108.1 294.4h0.9v0.9h-0.9zM105.9 310.7h0.9v0.9h-0.9zM110.9 301.7h0.9v0.9h-0.9zM107.8 307.9h0.9v0.9h-0.9zM106.9 303.6h0.9v0.9h-0.9zM108.1 310.5h0.9v0.9h-0.9zM100.3 319.5h0.9v0.9h-0.9zM114.6 302.8h0.9v0.9h-0.9zM110.9 302.0h0.9v0.9h-0.9zM105.0 323.9h0.9v0.9h-0.9zM107.6 322.0h0.9v0.9h-0.9zM107.9 318.0h0.9v0.9h-0.9zM106.3 321.4h0.9v0.9h-0.9zM113.2 315.4h0.9v0.9h-0.9zM104.9 307.0h0.9v0.9h-0.9zM103.6 314.8h0.9v0.9h-0.9zM108.8 304.4h0.9v0.9h-0.9zM110.1 305.4h0.9v0.9h-0.9zM113.3 316.6h0.9v0.9h-0.9zM112.5 304.3h0.9v0.9h-0.9zM103.5 295.4h0.9v0.9h-0.9zM109.2 301.1h0.9v0.9h-0.9zM111.7 311.2h0.9v0.9h-0.9zM109.6 299.8h0.9v0.9h-0.9zM104.9 311.6h0.9v0.9h-0.9zM109.6 299.8h0.9v0.9h-0.9zM108.2 303.5h0.9v0.9h-0.9zM109.8 308.3h0.9v0.9h-0.9zM105.9 313.6h0.9v0.9h-0.9zM111.0 308.2h0.9v0.9h-0.9zM111.3 302.2h0.9v0.9h-0.9z" fill="#4a4aff" opacity="0.4"/>
<defs><filter id="fb4" x="-10%" y="-30%" width="120%" height="160%"><feGaussianBlur stdDeviation="0.8 1.5"/></filter><radialGradient id="rb4" cx="0.5" cy="0.5" r="0.5"><stop offset="0" stop-color="#2850ff"/><stop offset="0.6" stop-color="#1434ff"/><stop offset="1" stop-color="#0a14ff"/></radialGradient></defs>
<path d="M118 295C130 294.3 150 294.5 163.6 295.5V323.8C150 324.5 130 324.5 118 324Z" fill="url(#rb4)" filter="url(#fb4)"/>
<path d="M154.3 293.4h0.9v0.9h-0.9zM149.3 293.3h0.9v0.9h-0.9zM148.7 294.1h0.9v0.9h-0.9zM134.6 291.8h0.9v0.9h-0.9zM160.8 294.3h0.9v0.9h-0.9zM144.9 292.7h0.9v0.9h-0.9zM156.7 294.9h0.9v0.9h-0.9zM124.5 293.8h0.9v0.9h-0.9zM142.3 292.9h0.9v0.9h-0.9zM131.2 292.9h0.9v0.9h-0.9zM138.4 290.7h0.9v0.9h-0.9zM135.0 293.8h0.9v0.9h-0.9zM144.6 293.2h0.9v0.9h-0.9zM126.6 294.2h0.9v0.9h-0.9zM139.9 294.0h0.9v0.9h-0.9zM134.6 292.6h0.9v0.9h-0.9zM149.9 293.7h0.9v0.9h-0.9zM131.5 294.3h0.9v0.9h-0.9zM135.5 292.6h0.9v0.9h-0.9zM132.0 293.3h0.9v0.9h-0.9zM160.7 294.8h0.9v0.9h-0.9zM125.1 294.3h0.9v0.9h-0.9zM128.9 292.0h0.9v0.9h-0.9zM158.1 290.9h0.9v0.9h-0.9zM136.8 291.2h0.9v0.9h-0.9zM152.7 292.1h0.9v0.9h-0.9zM124.4 293.8h0.9v0.9h-0.9zM127.0 292.5h0.9v0.9h-0.9zM146.5 294.2h0.9v0.9h-0.9zM128.0 294.4h0.9v0.9h-0.9zM131.2 294.1h0.9v0.9h-0.9zM136.4 294.4h0.9v0.9h-0.9zM147.4 294.7h0.9v0.9h-0.9zM128.0 294.2h0.9v0.9h-0.9zM123.8 294.3h0.9v0.9h-0.9zM137.5 294.4h0.9v0.9h-0.9zM149.5 293.6h0.9v0.9h-0.9zM155.2 294.1h0.9v0.9h-0.9zM145.0 294.1h0.9v0.9h-0.9zM134.6 294.4h0.9v0.9h-0.9zM160.2 294.0h0.9v0.9h-0.9zM134.2 294.2h0.9v0.9h-0.9zM153.5 294.4h0.9v0.9h-0.9zM153.2 292.0h0.9v0.9h-0.9zM149.0 291.9h0.9v0.9h-0.9zM143.4 292.6h0.9v0.9h-0.9zM129.8 292.3h0.9v0.9h-0.9zM145.0 293.7h0.9v0.9h-0.9zM121.4 293.1h0.9v0.9h-0.9zM161.2 294.3h0.9v0.9h-0.9zM143.2 293.8h0.9v0.9h-0.9zM141.3 294.4h0.9v0.9h-0.9zM161.2 293.9h0.9v0.9h-0.9zM157.2 293.8h0.9v0.9h-0.9zM133.5 292.2h0.9v0.9h-0.9zM160.5 293.2h0.9v0.9h-0.9zM159.6 294.5h0.9v0.9h-0.9zM128.1 292.1h0.9v0.9h-0.9zM139.2 292.5h0.9v0.9h-0.9zM137.3 293.5h0.9v0.9h-0.9zM144.6 294.3h0.9v0.9h-0.9zM148.6 294.4h0.9v0.9h-0.9zM138.1 294.6h0.9v0.9h-0.9zM149.1 290.9h0.9v0.9h-0.9zM147.3 293.0h0.9v0.9h-0.9zM142.2 291.6h0.9v0.9h-0.9zM122.2 291.0h0.9v0.9h-0.9zM132.1 294.0h0.9v0.9h-0.9zM137.0 294.9h0.9v0.9h-0.9zM151.2 294.2h0.9v0.9h-0.9zM136.3 294.8h0.9v0.9h-0.9zM131.7 293.7h0.9v0.9h-0.9zM122.8 294.2h0.9v0.9h-0.9zM151.0 294.0h0.9v0.9h-0.9zM136.6 293.3h0.9v0.9h-0.9zM143.2 293.3h0.9v0.9h-0.9zM158.2 293.1h0.9v0.9h-0.9zM148.8 292.7h0.9v0.9h-0.9zM131.4 292.9h0.9v0.9h-0.9zM132.8 292.8h0.9v0.9h-0.9zM147.4 293.0h0.9v0.9h-0.9zM156.1 292.4h0.9v0.9h-0.9zM128.7 295.0h0.9v0.9h-0.9zM138.6 294.3h0.9v0.9h-0.9zM129.7 292.3h0.9v0.9h-0.9zM126.0 291.1h0.9v0.9h-0.9zM150.3 294.0h0.9v0.9h-0.9zM138.1 292.3h0.9v0.9h-0.9zM138.4 291.4h0.9v0.9h-0.9zM156.6 292.9h0.9v0.9h-0.9zM121.6 291.6h0.9v0.9h-0.9zM130.7 293.3h0.9v0.9h-0.9zM123.3 294.6h0.9v0.9h-0.9zM121.8 293.2h0.9v0.9h-0.9zM143.4 292.9h0.9v0.9h-0.9zM134.7 292.2h0.9v0.9h-0.9zM149.7 293.4h0.9v0.9h-0.9zM129.1 294.5h0.9v0.9h-0.9zM126.5 292.7h0.9v0.9h-0.9zM152.1 293.9h0.9v0.9h-0.9zM123.2 293.5h0.9v0.9h-0.9zM144.3 294.2h0.9v0.9h-0.9zM123.2 289.8h0.9v0.9h-0.9zM160.5 294.3h0.9v0.9h-0.9zM158.7 291.9h0.9v0.9h-0.9zM123.4 293.5h0.9v0.9h-0.9zM160.9 294.2h0.9v0.9h-0.9zM144.5 294.2h0.9v0.9h-0.9zM152.3 293.1h0.9v0.9h-0.9zM156.7 294.2h0.9v0.9h-0.9zM140.2 293.2h0.9v0.9h-0.9zM140.4 293.8h0.9v0.9h-0.9zM135.1 294.7h0.9v0.9h-0.9zM147.0 294.9h0.9v0.9h-0.9zM122.3 294.9h0.9v0.9h-0.9zM149.9 293.1h0.9v0.9h-0.9zM152.0 293.3h0.9v0.9h-0.9zM150.2 292.6h0.9v0.9h-0.9zM147.2 293.6h0.9v0.9h-0.9zM134.6 293.6h0.9v0.9h-0.9zM149.9 292.2h0.9v0.9h-0.9zM137.3 294.5h0.9v0.9h-0.9zM148.2 293.4h0.9v0.9h-0.9zM131.6 293.9h0.9v0.9h-0.9zM132.2 294.6h0.9v0.9h-0.9zM148.5 293.4h0.9v0.9h-0.9zM128.3 293.3h0.9v0.9h-0.9zM156.3 293.9h0.9v0.9h-0.9zM155.7 293.9h0.9v0.9h-0.9zM144.4 292.7h0.9v0.9h-0.9zM132.0 294.4h0.9v0.9h-0.9zM135.5 294.6h0.9v0.9h-0.9zM127.3 294.1h0.9v0.9h-0.9zM152.5 294.1h0.9v0.9h-0.9zM161.4 293.6h0.9v0.9h-0.9zM126.0 293.0h0.9v0.9h-0.9zM124.0 292.6h0.9v0.9h-0.9zM139.4 295.0h0.9v0.9h-0.9zM162.1 293.0h0.9v0.9h-0.9zM129.8 293.9h0.9v0.9h-0.9zM129.7 293.0h0.9v0.9h-0.9zM137.9 294.7h0.9v0.9h-0.9zM135.2 294.1h0.9v0.9h-0.9zM132.2 294.1h0.9v0.9h-0.9zM145.3 292.5h0.9v0.9h-0.9zM125.6 294.6h0.9v0.9h-0.9zM124.8 294.0h0.9v0.9h-0.9zM141.8 293.3h0.9v0.9h-0.9zM161.1 294.3h0.9v0.9h-0.9zM129.3 294.1h0.9v0.9h-0.9zM130.7 294.1h0.9v0.9h-0.9zM130.6 293.0h0.9v0.9h-0.9zM124.6 293.8h0.9v0.9h-0.9zM125.1 294.5h0.9v0.9h-0.9zM134.5 293.2h0.9v0.9h-0.9zM133.1 293.8h0.9v0.9h-0.9zM145.9 292.8h0.9v0.9h-0.9zM127.9 293.9h0.9v0.9h-0.9zM159.5 291.9h0.9v0.9h-0.9zM145.1 295.1h0.9v0.9h-0.9zM155.0 291.6h0.9v0.9h-0.9zM126.4 291.8h0.9v0.9h-0.9zM155.5 292.1h0.9v0.9h-0.9zM138.2 294.9h0.9v0.9h-0.9zM135.0 293.0h0.9v0.9h-0.9zM158.2 292.8h0.9v0.9h-0.9zM139.6 291.3h0.9v0.9h-0.9zM133.4 293.2h0.9v0.9h-0.9zM137.9 294.8h0.9v0.9h-0.9zM146.0 291.9h0.9v0.9h-0.9zM131.2 292.3h0.9v0.9h-0.9zM142.3 291.1h0.9v0.9h-0.9zM134.9 294.7h0.9v0.9h-0.9zM126.4 294.0h0.9v0.9h-0.9zM122.2 292.8h0.9v0.9h-0.9zM155.8 293.1h0.9v0.9h-0.9zM159.0 292.0h0.9v0.9h-0.9zM133.0 292.8h0.9v0.9h-0.9zM153.3 293.0h0.9v0.9h-0.9zM138.2 292.3h0.9v0.9h-0.9zM135.8 294.1h0.9v0.9h-0.9zM133.1 294.4h0.9v0.9h-0.9zM135.0 292.9h0.9v0.9h-0.9zM136.0 293.0h0.9v0.9h-0.9zM126.0 291.4h0.9v0.9h-0.9zM155.8 294.9h0.9v0.9h-0.9zM138.9 293.4h0.9v0.9h-0.9zM129.2 294.7h0.9v0.9h-0.9zM138.4 293.9h0.9v0.9h-0.9zM141.2 290.7h0.9v0.9h-0.9zM152.7 294.4h0.9v0.9h-0.9zM127.9 294.2h0.9v0.9h-0.9zM142.1 294.6h0.9v0.9h-0.9zM153.3 292.1h0.9v0.9h-0.9zM155.4 293.3h0.9v0.9h-0.9zM127.4 291.2h0.9v0.9h-0.9zM136.4 292.8h0.9v0.9h-0.9zM150.7 293.8h0.9v0.9h-0.9zM135.3 293.8h0.9v0.9h-0.9zM148.9 294.6h0.9v0.9h-0.9zM132.1 293.2h0.9v0.9h-0.9zM134.7 290.1h0.9v0.9h-0.9zM124.2 292.0h0.9v0.9h-0.9zM148.2 294.2h0.9v0.9h-0.9zM133.4 293.6h0.9v0.9h-0.9zM124.7 295.3h0.9v0.9h-0.9zM132.1 289.5h0.9v0.9h-0.9zM128.6 293.7h0.9v0.9h-0.9zM136.8 293.0h0.9v0.9h-0.9zM161.4 290.2h0.9v0.9h-0.9zM159.9 294.6h0.9v0.9h-0.9zM156.5 293.5h0.9v0.9h-0.9zM154.9 291.4h0.9v0.9h-0.9zM159.3 291.5h0.9v0.9h-0.9zM128.2 294.8h0.9v0.9h-0.9zM142.1 292.8h0.9v0.9h-0.9zM154.2 292.4h0.9v0.9h-0.9zM160.8 293.2h0.9v0.9h-0.9zM146.8 294.2h0.9v0.9h-0.9zM126.7 292.3h0.9v0.9h-0.9zM135.7 291.7h0.9v0.9h-0.9zM129.0 294.3h0.9v0.9h-0.9zM153.4 291.8h0.9v0.9h-0.9zM155.0 294.1h0.9v0.9h-0.9zM137.8 294.0h0.9v0.9h-0.9zM121.0 292.2h0.9v0.9h-0.9zM160.1 293.2h0.9v0.9h-0.9zM158.2 292.2h0.9v0.9h-0.9zM160.3 294.2h0.9v0.9h-0.9zM152.6 293.4h0.9v0.9h-0.9zM162.9 293.8h0.9v0.9h-0.9zM132.5 292.8h0.9v0.9h-0.9zM126.3 294.5h0.9v0.9h-0.9zM156.2 294.0h0.9v0.9h-0.9zM155.4 291.9h0.9v0.9h-0.9zM132.3 292.8h0.9v0.9h-0.9zM146.4 293.2h0.9v0.9h-0.9zM124.9 294.1h0.9v0.9h-0.9zM127.2 293.4h0.9v0.9h-0.9zM162.1 289.4h0.9v0.9h-0.9zM157.9 293.9h0.9v0.9h-0.9zM128.3 294.7h0.9v0.9h-0.9zM148.6 294.3h0.9v0.9h-0.9zM151.1 293.6h0.9v0.9h-0.9zM143.4 293.7h0.9v0.9h-0.9zM142.2 293.1h0.9v0.9h-0.9zM149.8 293.7h0.9v0.9h-0.9zM122.1 292.9h0.9v0.9h-0.9zM161.8 294.5h0.9v0.9h-0.9zM146.8 293.1h0.9v0.9h-0.9zM141.2 293.9h0.9v0.9h-0.9zM132.9 292.6h0.9v0.9h-0.9zM132.6 294.7h0.9v0.9h-0.9zM147.1 295.0h0.9v0.9h-0.9zM129.2 292.0h0.9v0.9h-0.9zM150.6 293.5h0.9v0.9h-0.9zM124.6 292.8h0.9v0.9h-0.9zM137.3 293.7h0.9v0.9h-0.9zM133.0 295.4h0.9v0.9h-0.9zM121.1 294.7h0.9v0.9h-0.9zM150.4 294.6h0.9v0.9h-0.9zM158.6 294.2h0.9v0.9h-0.9zM137.4 294.3h0.9v0.9h-0.9zM131.2 290.2h0.9v0.9h-0.9zM148.8 291.2h0.9v0.9h-0.9zM125.8 292.7h0.9v0.9h-0.9zM157.0 294.7h0.9v0.9h-0.9zM142.4 292.7h0.9v0.9h-0.9zM149.8 292.8h0.9v0.9h-0.9zM134.0 292.4h0.9v0.9h-0.9zM143.3 294.6h0.9v0.9h-0.9zM145.0 293.0h0.9v0.9h-0.9zM147.3 293.9h0.9v0.9h-0.9zM154.5 294.6h0.9v0.9h-0.9zM139.2 293.9h0.9v0.9h-0.9zM139.3 292.9h0.9v0.9h-0.9zM139.1 294.1h0.9v0.9h-0.9zM122.7 294.2h0.9v0.9h-0.9zM136.7 294.0h0.9v0.9h-0.9zM160.2 291.7h0.9v0.9h-0.9zM149.8 294.0h0.9v0.9h-0.9zM136.8 294.9h0.9v0.9h-0.9zM155.7 294.1h0.9v0.9h-0.9zM132.6 292.9h0.9v0.9h-0.9zM138.6 293.6h0.9v0.9h-0.9zM133.3 292.0h0.9v0.9h-0.9zM138.3 295.0h0.9v0.9h-0.9zM126.9 294.9h0.9v0.9h-0.9zM145.2 294.4h0.9v0.9h-0.9zM127.0 292.4h0.9v0.9h-0.9zM140.2 293.8h0.9v0.9h-0.9zM153.2 293.3h0.9v0.9h-0.9zM158.9 293.2h0.9v0.9h-0.9zM148.9 292.0h0.9v0.9h-0.9zM137.1 291.9h0.9v0.9h-0.9zM129.6 292.6h0.9v0.9h-0.9zM132.8 294.0h0.9v0.9h-0.9zM132.5 292.2h0.9v0.9h-0.9zM149.1 292.2h0.9v0.9h-0.9zM153.5 292.0h0.9v0.9h-0.9zM127.0 293.0h0.9v0.9h-0.9zM140.2 290.9h0.9v0.9h-0.9zM153.1 294.8h0.9v0.9h-0.9zM150.5 293.4h0.9v0.9h-0.9zM125.6 294.3h0.9v0.9h-0.9zM145.3 291.5h0.9v0.9h-0.9zM160.5 291.3h0.9v0.9h-0.9zM157.3 293.2h0.9v0.9h-0.9zM131.0 293.9h0.9v0.9h-0.9zM156.6 293.6h0.9v0.9h-0.9zM162.6 293.4h0.9v0.9h-0.9zM160.5 293.7h0.9v0.9h-0.9zM157.7 293.9h0.9v0.9h-0.9zM126.1 294.4h0.9v0.9h-0.9zM139.4 293.9h0.9v0.9h-0.9zM148.9 290.9h0.9v0.9h-0.9zM157.7 293.2h0.9v0.9h-0.9zM156.1 293.5h0.9v0.9h-0.9zM138.5 294.1h0.9v0.9h-0.9zM136.0 293.6h0.9v0.9h-0.9zM150.6 292.1h0.9v0.9h-0.9zM132.7 292.6h0.9v0.9h-0.9zM138.8 291.6h0.9v0.9h-0.9zM157.1 294.3h0.9v0.9h-0.9zM132.9 292.6h0.9v0.9h-0.9zM156.9 294.4h0.9v0.9h-0.9zM123.4 292.8h0.9v0.9h-0.9zM124.7 292.5h0.9v0.9h-0.9zM136.4 294.4h0.9v0.9h-0.9zM149.8 291.8h0.9v0.9h-0.9zM130.4 291.5h0.9v0.9h-0.9zM161.7 294.3h0.9v0.9h-0.9zM146.3 292.4h0.9v0.9h-0.9zM124.3 293.9h0.9v0.9h-0.9zM130.9 293.5h0.9v0.9h-0.9zM157.4 294.6h0.9v0.9h-0.9zM125.7 293.0h0.9v0.9h-0.9zM122.0 293.8h0.9v0.9h-0.9zM131.5 294.5h0.9v0.9h-0.9zM122.2 293.4h0.9v0.9h-0.9zM129.5 293.4h0.9v0.9h-0.9zM141.7 292.9h0.9v0.9h-0.9zM156.1 293.8h0.9v0.9h-0.9zM140.4 293.7h0.9v0.9h-0.9zM144.5 293.7h0.9v0.9h-0.9zM125.9 294.3h0.9v0.9h-0.9zM135.6 294.6h0.9v0.9h-0.9zM148.5 292.3h0.9v0.9h-0.9zM141.4 293.1h0.9v0.9h-0.9zM160.7 292.7h0.9v0.9h-0.9zM138.7 292.8h0.9v0.9h-0.9zM160.1 293.5h0.9v0.9h-0.9zM129.9 292.1h0.9v0.9h-0.9zM149.7 290.4h0.9v0.9h-0.9zM153.5 294.8h0.9v0.9h-0.9zM161.9 294.7h0.9v0.9h-0.9zM128.3 294.6h0.9v0.9h-0.9zM147.2 293.1h0.9v0.9h-0.9zM160.3 294.0h0.9v0.9h-0.9zM142.1 294.6h0.9v0.9h-0.9zM162.6 292.6h0.9v0.9h-0.9zM159.3 295.4h0.9v0.9h-0.9zM133.5 293.0h0.9v0.9h-0.9zM141.6 293.4h0.9v0.9h-0.9zM134.7 294.7h0.9v0.9h-0.9zM155.1 294.1h0.9v0.9h-0.9zM123.3 293.9h0.9v0.9h-0.9zM150.1 293.3h0.9v0.9h-0.9zM121.2 292.8h0.9v0.9h-0.9zM123.4 294.1h0.9v0.9h-0.9zM153.9 294.1h0.9v0.9h-0.9zM130.0 294.6h0.9v0.9h-0.9zM145.1 292.7h0.9v0.9h-0.9zM159.6 291.5h0.9v0.9h-0.9zM128.5 294.1h0.9v0.9h-0.9zM137.7 294.7h0.9v0.9h-0.9zM153.9 294.3h0.9v0.9h-0.9zM147.0 290.3h0.9v0.9h-0.9zM147.5 293.6h0.9v0.9h-0.9zM129.1 292.4h0.9v0.9h-0.9zM143.2 294.0h0.9v0.9h-0.9zM156.5 293.4h0.9v0.9h-0.9zM143.3 293.3h0.9v0.9h-0.9zM148.1 293.6h0.9v0.9h-0.9zM150.5 294.4h0.9v0.9h-0.9zM136.5 292.0h0.9v0.9h-0.9zM142.8 293.9h0.9v0.9h-0.9zM136.1 292.1h0.9v0.9h-0.9zM132.7 293.4h0.9v0.9h-0.9zM124.2 294.4h0.9v0.9h-0.9zM158.5 293.9h0.9v0.9h-0.9zM135.5 292.4h0.9v0.9h-0.9zM151.1 293.5h0.9v0.9h-0.9zM129.7 291.6h0.9v0.9h-0.9zM146.2 293.0h0.9v0.9h-0.9zM152.4 294.6h0.9v0.9h-0.9zM150.5 294.0h0.9v0.9h-0.9zM141.1 293.7h0.9v0.9h-0.9zM162.8 292.1h0.9v0.9h-0.9zM127.4 294.8h0.9v0.9h-0.9zM152.4 294.7h0.9v0.9h-0.9zM126.1 293.7h0.9v0.9h-0.9zM142.2 294.6h0.9v0.9h-0.9zM121.3 293.9h0.9v0.9h-0.9zM123.6 293.8h0.9v0.9h-0.9zM159.1 293.3h0.9v0.9h-0.9zM152.4 292.4h0.9v0.9h-0.9zM122.6 292.3h0.9v0.9h-0.9zM124.5 292.2h0.9v0.9h-0.9zM125.5 292.7h0.9v0.9h-0.9zM156.6 292.9h0.9v0.9h-0.9zM141.2 294.1h0.9v0.9h-0.9zM156.3 294.0h0.9v0.9h-0.9zM146.5 293.0h0.9v0.9h-0.9zM153.5 292.6h0.9v0.9h-0.9zM126.5 293.3h0.9v0.9h-0.9zM151.5 291.6h0.9v0.9h-0.9zM133.5 293.1h0.9v0.9h-0.9zM147.9 293.0h0.9v0.9h-0.9zM127.4 294.9h0.9v0.9h-0.9zM134.9 294.7h0.9v0.9h-0.9zM154.9 294.5h0.9v0.9h-0.9zM124.2 293.3h0.9v0.9h-0.9zM127.5 291.9h0.9v0.9h-0.9zM133.1 293.9h0.9v0.9h-0.9zM129.9 293.5h0.9v0.9h-0.9zM156.1 291.5h0.9v0.9h-0.9zM158.1 294.3h0.9v0.9h-0.9zM156.1 293.9h0.9v0.9h-0.9zM139.5 292.2h0.9v0.9h-0.9zM147.7 290.1h0.9v0.9h-0.9zM145.2 293.3h0.9v0.9h-0.9zM148.1 293.2h0.9v0.9h-0.9zM147.0 293.9h0.9v0.9h-0.9zM160.0 292.4h0.9v0.9h-0.9zM148.5 291.0h0.9v0.9h-0.9zM122.3 293.4h0.9v0.9h-0.9zM152.8 293.1h0.9v0.9h-0.9zM144.6 291.9h0.9v0.9h-0.9zM154.3 293.9h0.9v0.9h-0.9zM135.2 292.6h0.9v0.9h-0.9zM129.8 293.8h0.9v0.9h-0.9zM142.4 293.6h0.9v0.9h-0.9zM130.6 293.3h0.9v0.9h-0.9zM145.9 292.6h0.9v0.9h-0.9zM144.0 293.7h0.9v0.9h-0.9zM150.2 293.3h0.9v0.9h-0.9zM122.1 294.6h0.9v0.9h-0.9zM154.3 292.5h0.9v0.9h-0.9zM126.1 291.8h0.9v0.9h-0.9zM141.1 292.4h0.9v0.9h-0.9zM138.7 293.9h0.9v0.9h-0.9zM162.5 292.7h0.9v0.9h-0.9zM154.7 292.6h0.9v0.9h-0.9zM159.6 293.3h0.9v0.9h-0.9zM132.3 294.5h0.9v0.9h-0.9zM142.2 292.4h0.9v0.9h-0.9zM158.0 295.0h0.9v0.9h-0.9zM157.2 290.7h0.9v0.9h-0.9zM146.1 292.6h0.9v0.9h-0.9zM142.3 294.9h0.9v0.9h-0.9zM131.7 293.8h0.9v0.9h-0.9zM143.4 292.0h0.9v0.9h-0.9zM157.6 292.6h0.9v0.9h-0.9zM151.4 294.5h0.9v0.9h-0.9zM155.7 294.1h0.9v0.9h-0.9zM146.6 294.2h0.9v0.9h-0.9zM125.1 294.5h0.9v0.9h-0.9zM128.9 293.4h0.9v0.9h-0.9zM138.8 292.0h0.9v0.9h-0.9zM158.6 293.0h0.9v0.9h-0.9zM141.2 295.1h0.9v0.9h-0.9zM160.7 293.9h0.9v0.9h-0.9zM141.2 292.1h0.9v0.9h-0.9zM152.0 294.8h0.9v0.9h-0.9zM150.3 291.8h0.9v0.9h-0.9zM121.5 295.1h0.9v0.9h-0.9zM139.3 293.1h0.9v0.9h-0.9zM145.2 293.6h0.9v0.9h-0.9zM162.6 294.2h0.9v0.9h-0.9zM155.5 292.2h0.9v0.9h-0.9zM131.1 290.8h0.9v0.9h-0.9zM133.5 291.3h0.9v0.9h-0.9zM141.6 294.5h0.9v0.9h-0.9zM136.2 293.2h0.9v0.9h-0.9zM136.5 293.8h0.9v0.9h-0.9zM145.0 292.7h0.9v0.9h-0.9zM123.0 292.1h0.9v0.9h-0.9zM139.1 294.1h0.9v0.9h-0.9zM124.1 293.9h0.9v0.9h-0.9zM121.7 293.5h0.9v0.9h-0.9zM157.0 294.1h0.9v0.9h-0.9zM123.6 292.6h0.9v0.9h-0.9zM148.8 294.1h0.9v0.9h-0.9zM153.6 294.7h0.9v0.9h-0.9zM124.5 293.9h0.9v0.9h-0.9zM124.3 294.9h0.9v0.9h-0.9zM122.2 293.1h0.9v0.9h-0.9zM158.0 294.4h0.9v0.9h-0.9zM141.2 291.0h0.9v0.9h-0.9zM127.3 291.5h0.9v0.9h-0.9zM162.4 294.3h0.9v0.9h-0.9zM147.0 294.4h0.9v0.9h-0.9zM158.4 294.4h0.9v0.9h-0.9zM125.2 293.4h0.9v0.9h-0.9zM145.7 294.2h0.9v0.9h-0.9zM153.0 293.7h0.9v0.9h-0.9zM139.8 292.1h0.9v0.9h-0.9zM141.9 294.6h0.9v0.9h-0.9zM123.2 293.6h0.9v0.9h-0.9zM130.0 294.0h0.9v0.9h-0.9zM131.9 294.6h0.9v0.9h-0.9zM139.7 294.5h0.9v0.9h-0.9zM121.6 292.4h0.9v0.9h-0.9zM124.7 294.2h0.9v0.9h-0.9zM145.9 291.2h0.9v0.9h-0.9zM162.7 294.0h0.9v0.9h-0.9zM131.9 293.6h0.9v0.9h-0.9zM143.3 292.3h0.9v0.9h-0.9zM142.0 293.5h0.9v0.9h-0.9zM153.7 294.9h0.9v0.9h-0.9zM143.5 294.3h0.9v0.9h-0.9zM142.6 294.3h0.9v0.9h-0.9zM122.8 294.3h0.9v0.9h-0.9zM121.6 294.3h0.9v0.9h-0.9zM139.8 292.8h0.9v0.9h-0.9zM126.2 295.1h0.9v0.9h-0.9zM134.5 294.6h0.9v0.9h-0.9zM127.3 290.4h0.9v0.9h-0.9zM154.5 293.1h0.9v0.9h-0.9zM133.4 294.3h0.9v0.9h-0.9zM148.4 294.2h0.9v0.9h-0.9zM146.1 293.5h0.9v0.9h-0.9zM150.6 292.5h0.9v0.9h-0.9zM132.5 292.9h0.9v0.9h-0.9zM127.8 292.6h0.9v0.9h-0.9zM157.8 292.6h0.9v0.9h-0.9zM141.9 290.0h0.9v0.9h-0.9zM151.3 293.6h0.9v0.9h-0.9zM139.8 292.6h0.9v0.9h-0.9zM122.1 294.6h0.9v0.9h-0.9zM126.2 293.4h0.9v0.9h-0.9zM127.2 293.7h0.9v0.9h-0.9zM122.3 294.3h0.9v0.9h-0.9zM151.3 294.5h0.9v0.9h-0.9zM161.6 294.4h0.9v0.9h-0.9zM138.1 293.5h0.9v0.9h-0.9zM162.1 293.6h0.9v0.9h-0.9zM125.7 294.5h0.9v0.9h-0.9zM135.8 292.3h0.9v0.9h-0.9zM146.4 294.8h0.9v0.9h-0.9zM148.3 293.8h0.9v0.9h-0.9zM122.2 293.5h0.9v0.9h-0.9zM158.8 293.3h0.9v0.9h-0.9zM163.1 293.2h0.9v0.9h-0.9zM133.5 294.2h0.9v0.9h-0.9zM133.5 292.3h0.9v0.9h-0.9zM147.7 294.7h0.9v0.9h-0.9zM138.7 292.5h0.9v0.9h-0.9zM143.0 290.5h0.9v0.9h-0.9zM157.5 293.6h0.9v0.9h-0.9zM148.2 293.0h0.9v0.9h-0.9zM126.0 290.7h0.9v0.9h-0.9zM135.0 293.3h0.9v0.9h-0.9zM157.6 294.6h0.9v0.9h-0.9zM160.5 291.4h0.9v0.9h-0.9zM134.0 293.4h0.9v0.9h-0.9zM124.3 294.2h0.9v0.9h-0.9zM154.1 293.7h0.9v0.9h-0.9zM130.2 293.6h0.9v0.9h-0.9zM130.5 295.0h0.9v0.9h-0.9zM138.4 294.5h0.9v0.9h-0.9zM124.5 291.9h0.9v0.9h-0.9zM149.7 294.4h0.9v0.9h-0.9zM157.3 294.2h0.9v0.9h-0.9zM135.2 294.7h0.9v0.9h-0.9zM149.5 292.1h0.9v0.9h-0.9zM126.6 294.0h0.9v0.9h-0.9zM136.2 292.1h0.9v0.9h-0.9zM127.6 294.8h0.9v0.9h-0.9zM125.4 290.7h0.9v0.9h-0.9zM132.6 293.1h0.9v0.9h-0.9zM136.6 294.2h0.9v0.9h-0.9zM122.0 290.9h0.9v0.9h-0.9zM148.1 291.9h0.9v0.9h-0.9zM148.2 292.7h0.9v0.9h-0.9zM133.2 292.1h0.9v0.9h-0.9zM139.4 294.7h0.9v0.9h-0.9zM132.5 293.5h0.9v0.9h-0.9zM125.3 293.5h0.9v0.9h-0.9zM161.3 291.9h0.9v0.9h-0.9zM160.4 292.2h0.9v0.9h-0.9zM140.5 293.5h0.9v0.9h-0.9zM155.7 293.9h0.9v0.9h-0.9zM142.5 293.4h0.9v0.9h-0.9zM161.5 294.2h0.9v0.9h-0.9zM146.9 292.0h0.9v0.9h-0.9zM157.4 292.3h0.9v0.9h-0.9zM144.7 292.3h0.9v0.9h-0.9zM144.7 293.6h0.9v0.9h-0.9zM147.5 293.4h0.9v0.9h-0.9zM156.5 294.0h0.9v0.9h-0.9zM126.2 293.9h0.9v0.9h-0.9zM151.2 294.1h0.9v0.9h-0.9zM151.2 293.5h0.9v0.9h-0.9zM163.3 293.6h0.9v0.9h-0.9zM135.9 293.3h0.9v0.9h-0.9zM150.1 292.9h0.9v0.9h-0.9zM136.7 291.3h0.9v0.9h-0.9zM146.1 291.0h0.9v0.9h-0.9zM121.3 291.6h0.9v0.9h-0.9zM155.7 291.4h0.9v0.9h-0.9zM129.0 292.7h0.9v0.9h-0.9zM141.7 294.9h0.9v0.9h-0.9zM127.9 294.5h0.9v0.9h-0.9zM161.0 293.0h0.9v0.9h-0.9zM151.6 293.4h0.9v0.9h-0.9zM157.5 293.5h0.9v0.9h-0.9zM153.1 293.7h0.9v0.9h-0.9zM159.0 293.8h0.9v0.9h-0.9zM148.7 293.4h0.9v0.9h-0.9zM124.5 293.1h0.9v0.9h-0.9zM124.0 293.4h0.9v0.9h-0.9zM152.7 293.7h0.9v0.9h-0.9zM133.2 294.7h0.9v0.9h-0.9zM151.2 292.3h0.9v0.9h-0.9zM139.4 293.2h0.9v0.9h-0.9zM157.1 292.5h0.9v0.9h-0.9zM135.3 294.8h0.9v0.9h-0.9zM124.9 292.7h0.9v0.9h-0.9zM156.4 294.9h0.9v0.9h-0.9zM133.7 293.9h0.9v0.9h-0.9zM137.8 293.4h0.9v0.9h-0.9zM153.8 294.1h0.9v0.9h-0.9zM131.6 293.4h0.9v0.9h-0.9zM160.7 294.5h0.9v0.9h-0.9zM122.2 294.3h0.9v0.9h-0.9zM153.2 290.8h0.9v0.9h-0.9zM157.1 292.8h0.9v0.9h-0.9zM147.3 294.4h0.9v0.9h-0.9zM129.2 292.2h0.9v0.9h-0.9zM125.4 292.7h0.9v0.9h-0.9zM153.6 293.9h0.9v0.9h-0.9zM151.9 294.3h0.9v0.9h-0.9zM154.0 294.4h0.9v0.9h-0.9zM162.3 292.3h0.9v0.9h-0.9zM146.6 292.3h0.9v0.9h-0.9zM161.1 294.1h0.9v0.9h-0.9zM162.7 294.5h0.9v0.9h-0.9zM145.9 292.3h0.9v0.9h-0.9zM153.7 293.7h0.9v0.9h-0.9zM127.9 293.4h0.9v0.9h-0.9zM163.2 294.6h0.9v0.9h-0.9zM142.0 293.4h0.9v0.9h-0.9zM142.2 292.0h0.9v0.9h-0.9zM150.0 293.9h0.9v0.9h-0.9zM157.2 295.1h0.9v0.9h-0.9zM132.7 294.2h0.9v0.9h-0.9zM152.8 292.3h0.9v0.9h-0.9zM156.2 292.4h0.9v0.9h-0.9zM137.8 292.8h0.9v0.9h-0.9zM139.6 294.3h0.9v0.9h-0.9zM158.3 291.8h0.9v0.9h-0.9zM135.1 293.1h0.9v0.9h-0.9zM155.1 293.8h0.9v0.9h-0.9zM158.7 293.7h0.9v0.9h-0.9zM136.4 294.3h0.9v0.9h-0.9zM134.4 294.4h0.9v0.9h-0.9zM128.9 294.9h0.9v0.9h-0.9zM129.5 290.9h0.9v0.9h-0.9zM157.4 292.9h0.9v0.9h-0.9zM132.8 294.1h0.9v0.9h-0.9zM132.4 290.4h0.9v0.9h-0.9zM148.5 293.8h0.9v0.9h-0.9zM133.0 293.9h0.9v0.9h-0.9zM133.0 293.0h0.9v0.9h-0.9zM160.4 293.8h0.9v0.9h-0.9zM162.9 292.3h0.9v0.9h-0.9zM153.3 293.2h0.9v0.9h-0.9zM154.2 289.9h0.9v0.9h-0.9zM136.8 292.1h0.9v0.9h-0.9zM135.8 293.4h0.9v0.9h-0.9zM155.6 294.3h0.9v0.9h-0.9zM143.3 293.0h0.9v0.9h-0.9zM129.9 294.8h0.9v0.9h-0.9zM134.8 294.4h0.9v0.9h-0.9zM151.8 294.8h0.9v0.9h-0.9zM137.4 294.5h0.9v0.9h-0.9zM155.3 294.2h0.9v0.9h-0.9zM130.4 293.8h0.9v0.9h-0.9zM121.1 293.5h0.9v0.9h-0.9zM127.1 294.0h0.9v0.9h-0.9zM125.5 292.8h0.9v0.9h-0.9zM129.0 294.1h0.9v0.9h-0.9zM162.4 293.4h0.9v0.9h-0.9zM148.6 294.9h0.9v0.9h-0.9zM139.3 294.1h0.9v0.9h-0.9zM127.0 295.0h0.9v0.9h-0.9zM155.3 294.8h0.9v0.9h-0.9zM148.0 293.7h0.9v0.9h-0.9zM132.1 293.2h0.9v0.9h-0.9zM141.3 293.5h0.9v0.9h-0.9zM156.9 292.8h0.9v0.9h-0.9zM161.7 292.1h0.9v0.9h-0.9zM161.2 293.7h0.9v0.9h-0.9zM145.8 291.7h0.9v0.9h-0.9zM143.4 291.2h0.9v0.9h-0.9zM138.7 294.4h0.9v0.9h-0.9zM121.3 293.5h0.9v0.9h-0.9zM133.5 291.4h0.9v0.9h-0.9zM155.9 293.0h0.9v0.9h-0.9zM136.2 293.0h0.9v0.9h-0.9zM148.8 292.7h0.9v0.9h-0.9zM162.5 294.3h0.9v0.9h-0.9zM154.5 295.0h0.9v0.9h-0.9zM134.4 293.0h0.9v0.9h-0.9zM131.0 294.5h0.9v0.9h-0.9zM160.1 294.0h0.9v0.9h-0.9zM129.9 294.9h0.9v0.9h-0.9zM151.2 292.6h0.9v0.9h-0.9zM148.0 294.8h0.9v0.9h-0.9zM144.8 293.3h0.9v0.9h-0.9zM134.2 293.9h0.9v0.9h-0.9zM162.2 293.9h0.9v0.9h-0.9zM153.6 292.0h0.9v0.9h-0.9zM138.4 294.3h0.9v0.9h-0.9zM128.0 293.3h0.9v0.9h-0.9zM138.3 292.8h0.9v0.9h-0.9zM122.9 293.0h0.9v0.9h-0.9zM128.9 294.2h0.9v0.9h-0.9zM131.1 292.8h0.9v0.9h-0.9zM127.6 293.7h0.9v0.9h-0.9zM143.7 293.9h0.9v0.9h-0.9zM127.1 292.6h0.9v0.9h-0.9zM124.8 293.4h0.9v0.9h-0.9zM123.9 292.5h0.9v0.9h-0.9zM158.4 292.8h0.9v0.9h-0.9zM124.4 293.2h0.9v0.9h-0.9zM161.6 293.2h0.9v0.9h-0.9zM160.3 294.5h0.9v0.9h-0.9zM142.6 294.8h0.9v0.9h-0.9zM158.5 293.9h0.9v0.9h-0.9zM122.0 289.6h0.9v0.9h-0.9zM152.9 293.6h0.9v0.9h-0.9zM143.4 292.4h0.9v0.9h-0.9zM146.9 294.0h0.9v0.9h-0.9zM163.3 294.0h0.9v0.9h-0.9zM127.8 293.7h0.9v0.9h-0.9zM134.1 294.0h0.9v0.9h-0.9zM150.1 292.4h0.9v0.9h-0.9zM128.6 294.1h0.9v0.9h-0.9zM159.9 294.0h0.9v0.9h-0.9zM127.9 293.7h0.9v0.9h-0.9zM137.6 292.0h0.9v0.9h-0.9zM152.7 294.3h0.9v0.9h-0.9zM157.7 293.5h0.9v0.9h-0.9zM154.3 294.3h0.9v0.9h-0.9zM155.6 293.8h0.9v0.9h-0.9zM138.2 293.4h0.9v0.9h-0.9zM136.9 292.7h0.9v0.9h-0.9zM144.1 292.7h0.9v0.9h-0.9zM128.4 294.4h0.9v0.9h-0.9zM143.7 291.7h0.9v0.9h-0.9zM144.4 290.2h0.9v0.9h-0.9zM134.5 293.4h0.9v0.9h-0.9zM127.1 294.7h0.9v0.9h-0.9zM124.8 292.3h0.9v0.9h-0.9zM136.1 293.0h0.9v0.9h-0.9zM143.9 293.5h0.9v0.9h-0.9zM162.6 294.4h0.9v0.9h-0.9zM129.3 292.5h0.9v0.9h-0.9zM121.9 293.1h0.9v0.9h-0.9zM133.7 295.2h0.9v0.9h-0.9zM140.8 294.4h0.9v0.9h-0.9zM145.5 293.3h0.9v0.9h-0.9zM135.3 293.8h0.9v0.9h-0.9zM159.7 292.6h0.9v0.9h-0.9zM130.1 294.9h0.9v0.9h-0.9zM132.1 291.4h0.9v0.9h-0.9zM131.9 294.4h0.9v0.9h-0.9zM161.9 293.7h0.9v0.9h-0.9zM141.2 294.1h0.9v0.9h-0.9zM135.9 294.2h0.9v0.9h-0.9zM123.1 294.1h0.9v0.9h-0.9zM137.3 289.8h0.9v0.9h-0.9zM155.0 292.9h0.9v0.9h-0.9zM156.5 293.7h0.9v0.9h-0.9zM161.2 294.0h0.9v0.9h-0.9zM129.4 292.0h0.9v0.9h-0.9zM122.6 290.0h0.9v0.9h-0.9zM128.5 293.3h0.9v0.9h-0.9zM123.9 294.4h0.9v0.9h-0.9zM157.6 293.8h0.9v0.9h-0.9zM133.1 291.8h0.9v0.9h-0.9zM156.4 292.9h0.9v0.9h-0.9zM133.2 294.4h0.9v0.9h-0.9zM125.4 294.3h0.9v0.9h-0.9zM132.5 294.3h0.9v0.9h-0.9zM146.9 291.5h0.9v0.9h-0.9zM162.1 294.0h0.9v0.9h-0.9zM147.9 291.9h0.9v0.9h-0.9zM155.0 293.3h0.9v0.9h-0.9zM142.7 293.3h0.9v0.9h-0.9zM160.1 290.2h0.9v0.9h-0.9zM157.3 293.9h0.9v0.9h-0.9zM162.8 294.5h0.9v0.9h-0.9zM156.7 293.3h0.9v0.9h-0.9zM150.5 293.2h0.9v0.9h-0.9zM156.2 290.9h0.9v0.9h-0.9zM158.8 293.2h0.9v0.9h-0.9zM149.7 292.2h0.9v0.9h-0.9zM124.3 292.2h0.9v0.9h-0.9zM139.5 292.8h0.9v0.9h-0.9zM161.9 292.8h0.9v0.9h-0.9zM150.3 292.4h0.9v0.9h-0.9zM137.9 294.3h0.9v0.9h-0.9zM158.5 295.0h0.9v0.9h-0.9zM136.2 293.2h0.9v0.9h-0.9zM137.6 294.4h0.9v0.9h-0.9zM143.7 294.9h0.9v0.9h-0.9zM149.6 293.2h0.9v0.9h-0.9zM145.1 293.6h0.9v0.9h-0.9zM135.1 294.8h0.9v0.9h-0.9zM144.8 292.8h0.9v0.9h-0.9zM135.9 291.8h0.9v0.9h-0.9zM149.3 294.3h0.9v0.9h-0.9zM144.6 293.7h0.9v0.9h-0.9zM125.5 293.1h0.9v0.9h-0.9zM147.7 293.2h0.9v0.9h-0.9zM160.8 292.6h0.9v0.9h-0.9zM147.3 294.6h0.9v0.9h-0.9zM124.1 291.2h0.9v0.9h-0.9zM144.4 293.9h0.9v0.9h-0.9zM127.9 293.9h0.9v0.9h-0.9zM138.7 292.3h0.9v0.9h-0.9zM128.0 292.8h0.9v0.9h-0.9zM159.8 294.2h0.9v0.9h-0.9zM153.7 292.5h0.9v0.9h-0.9zM145.1 293.8h0.9v0.9h-0.9zM133.6 293.3h0.9v0.9h-0.9zM125.4 292.5h0.9v0.9h-0.9zM151.0 290.1h0.9v0.9h-0.9zM131.2 294.1h0.9v0.9h-0.9zM159.4 294.7h0.9v0.9h-0.9zM158.1 294.9h0.9v0.9h-0.9zM127.9 293.4h0.9v0.9h-0.9zM163.2 291.9h0.9v0.9h-0.9zM162.0 294.0h0.9v0.9h-0.9zM124.3 294.2h0.9v0.9h-0.9zM142.6 294.5h0.9v0.9h-0.9zM133.3 294.0h0.9v0.9h-0.9zM147.6 295.0h0.9v0.9h-0.9zM156.5 293.8h0.9v0.9h-0.9zM132.2 292.6h0.9v0.9h-0.9zM124.0 294.4h0.9v0.9h-0.9zM136.5 292.7h0.9v0.9h-0.9zM129.4 293.7h0.9v0.9h-0.9zM151.0 292.6h0.9v0.9h-0.9zM133.5 293.2h0.9v0.9h-0.9zM146.3 293.8h0.9v0.9h-0.9zM125.7 295.0h0.9v0.9h-0.9zM132.4 294.3h0.9v0.9h-0.9zM153.5 294.5h0.9v0.9h-0.9zM156.2 294.4h0.9v0.9h-0.9zM144.4 294.9h0.9v0.9h-0.9zM145.4 292.6h0.9v0.9h-0.9zM123.4 294.5h0.9v0.9h-0.9zM146.0 294.4h0.9v0.9h-0.9zM145.7 294.1h0.9v0.9h-0.9zM130.3 294.1h0.9v0.9h-0.9zM151.6 293.5h0.9v0.9h-0.9zM126.3 293.3h0.9v0.9h-0.9zM143.5 292.9h0.9v0.9h-0.9zM124.9 291.8h0.9v0.9h-0.9zM156.8 294.0h0.9v0.9h-0.9zM138.0 292.8h0.9v0.9h-0.9zM161.7 294.5h0.9v0.9h-0.9zM140.0 293.5h0.9v0.9h-0.9zM153.8 293.6h0.9v0.9h-0.9zM142.3 294.2h0.9v0.9h-0.9zM123.1 294.0h0.9v0.9h-0.9zM134.5 294.3h0.9v0.9h-0.9zM145.8 294.8h0.9v0.9h-0.9zM154.5 293.2h0.9v0.9h-0.9zM123.7 293.2h0.9v0.9h-0.9zM142.5 293.2h0.9v0.9h-0.9zM153.7 292.6h0.9v0.9h-0.9zM130.2 292.9h0.9v0.9h-0.9zM135.6 292.8h0.9v0.9h-0.9zM133.2 292.5h0.9v0.9h-0.9zM152.3 295.0h0.9v0.9h-0.9zM133.1 293.2h0.9v0.9h-0.9zM159.4 292.7h0.9v0.9h-0.9zM156.2 294.5h0.9v0.9h-0.9zM144.2 294.1h0.9v0.9h-0.9zM162.4 293.3h0.9v0.9h-0.9zM134.5 294.2h0.9v0.9h-0.9zM121.5 290.4h0.9v0.9h-0.9zM149.8 293.6h0.9v0.9h-0.9zM155.4 291.2h0.9v0.9h-0.9z" fill="#1a1aff" opacity="0.55"/>
<path d="M154.3 325.4h0.9v0.9h-0.9zM149.3 326.8h0.9v0.9h-0.9zM148.7 324.1h0.9v0.9h-0.9zM134.6 324.9h0.9v0.9h-0.9zM160.8 328.3h0.9v0.9h-0.9zM144.9 325.0h0.9v0.9h-0.9zM156.7 326.6h0.9v0.9h-0.9zM124.5 326.6h0.9v0.9h-0.9zM142.3 326.1h0.9v0.9h-0.9zM131.2 325.0h0.9v0.9h-0.9zM138.4 325.0h0.9v0.9h-0.9zM135.0 324.4h0.9v0.9h-0.9zM144.6 326.0h0.9v0.9h-0.9zM126.6 326.9h0.9v0.9h-0.9zM139.9 327.9h0.9v0.9h-0.9zM134.6 326.5h0.9v0.9h-0.9zM149.9 325.0h0.9v0.9h-0.9zM131.5 326.7h0.9v0.9h-0.9zM135.5 324.5h0.9v0.9h-0.9zM132.0 323.9h0.9v0.9h-0.9zM160.7 327.4h0.9v0.9h-0.9zM125.1 324.4h0.9v0.9h-0.9zM128.9 326.5h0.9v0.9h-0.9zM158.1 327.2h0.9v0.9h-0.9zM136.8 324.4h0.9v0.9h-0.9zM152.7 325.6h0.9v0.9h-0.9zM124.4 325.2h0.9v0.9h-0.9zM127.0 325.6h0.9v0.9h-0.9zM146.5 324.6h0.9v0.9h-0.9zM128.0 325.3h0.9v0.9h-0.9zM131.2 325.7h0.9v0.9h-0.9zM136.4 326.1h0.9v0.9h-0.9zM147.4 325.3h0.9v0.9h-0.9zM128.0 324.9h0.9v0.9h-0.9zM123.8 325.9h0.9v0.9h-0.9zM137.5 325.6h0.9v0.9h-0.9zM149.5 325.2h0.9v0.9h-0.9zM155.2 326.8h0.9v0.9h-0.9zM145.0 325.0h0.9v0.9h-0.9zM134.6 326.4h0.9v0.9h-0.9zM160.2 324.9h0.9v0.9h-0.9zM134.2 325.4h0.9v0.9h-0.9zM153.5 324.4h0.9v0.9h-0.9zM153.2 324.0h0.9v0.9h-0.9zM149.0 326.5h0.9v0.9h-0.9zM143.4 325.1h0.9v0.9h-0.9zM129.8 324.7h0.9v0.9h-0.9zM145.0 324.7h0.9v0.9h-0.9zM121.4 323.8h0.9v0.9h-0.9zM161.2 325.2h0.9v0.9h-0.9zM143.2 324.5h0.9v0.9h-0.9zM141.3 327.2h0.9v0.9h-0.9zM161.2 324.5h0.9v0.9h-0.9zM157.2 326.2h0.9v0.9h-0.9zM133.5 325.8h0.9v0.9h-0.9zM160.5 327.2h0.9v0.9h-0.9zM159.6 326.0h0.9v0.9h-0.9zM128.1 324.9h0.9v0.9h-0.9zM139.2 327.6h0.9v0.9h-0.9zM137.3 324.7h0.9v0.9h-0.9zM144.6 324.3h0.9v0.9h-0.9zM148.6 324.6h0.9v0.9h-0.9zM138.1 324.7h0.9v0.9h-0.9zM149.1 325.8h0.9v0.9h-0.9zM147.3 324.6h0.9v0.9h-0.9zM142.2 325.2h0.9v0.9h-0.9zM122.2 325.6h0.9v0.9h-0.9zM132.1 325.7h0.9v0.9h-0.9zM137.0 325.3h0.9v0.9h-0.9zM151.2 327.5h0.9v0.9h-0.9zM136.3 325.7h0.9v0.9h-0.9zM131.7 325.2h0.9v0.9h-0.9zM122.8 327.9h0.9v0.9h-0.9zM151.0 326.3h0.9v0.9h-0.9zM136.6 327.4h0.9v0.9h-0.9zM143.2 325.7h0.9v0.9h-0.9zM158.2 324.7h0.9v0.9h-0.9zM148.8 325.8h0.9v0.9h-0.9zM131.4 328.9h0.9v0.9h-0.9zM132.8 325.0h0.9v0.9h-0.9zM147.4 324.2h0.9v0.9h-0.9zM156.1 325.8h0.9v0.9h-0.9zM128.7 324.1h0.9v0.9h-0.9zM138.6 327.6h0.9v0.9h-0.9zM129.7 324.5h0.9v0.9h-0.9zM126.0 325.3h0.9v0.9h-0.9zM150.3 325.3h0.9v0.9h-0.9zM138.1 325.0h0.9v0.9h-0.9zM138.4 324.2h0.9v0.9h-0.9zM156.6 326.7h0.9v0.9h-0.9zM121.6 324.9h0.9v0.9h-0.9zM130.7 327.3h0.9v0.9h-0.9zM123.3 327.5h0.9v0.9h-0.9zM121.8 326.0h0.9v0.9h-0.9zM143.4 326.1h0.9v0.9h-0.9zM134.7 325.0h0.9v0.9h-0.9zM149.7 324.4h0.9v0.9h-0.9zM129.1 326.2h0.9v0.9h-0.9zM126.5 325.3h0.9v0.9h-0.9zM152.1 326.1h0.9v0.9h-0.9zM123.2 324.7h0.9v0.9h-0.9zM144.3 326.2h0.9v0.9h-0.9zM123.2 323.9h0.9v0.9h-0.9zM160.5 325.7h0.9v0.9h-0.9zM158.7 324.9h0.9v0.9h-0.9zM123.4 324.6h0.9v0.9h-0.9zM160.9 325.3h0.9v0.9h-0.9zM144.5 327.1h0.9v0.9h-0.9zM152.3 324.6h0.9v0.9h-0.9zM156.7 326.4h0.9v0.9h-0.9zM140.2 325.2h0.9v0.9h-0.9zM140.4 324.5h0.9v0.9h-0.9zM135.1 324.5h0.9v0.9h-0.9zM147.0 324.5h0.9v0.9h-0.9zM122.3 324.6h0.9v0.9h-0.9zM149.9 324.4h0.9v0.9h-0.9zM152.0 326.2h0.9v0.9h-0.9zM150.2 324.4h0.9v0.9h-0.9zM147.2 324.4h0.9v0.9h-0.9zM134.6 328.0h0.9v0.9h-0.9zM149.9 325.6h0.9v0.9h-0.9zM137.3 326.0h0.9v0.9h-0.9zM148.2 325.5h0.9v0.9h-0.9zM131.6 325.4h0.9v0.9h-0.9zM132.2 325.9h0.9v0.9h-0.9zM148.5 326.3h0.9v0.9h-0.9zM128.3 325.9h0.9v0.9h-0.9zM156.3 324.2h0.9v0.9h-0.9zM155.7 325.6h0.9v0.9h-0.9zM144.4 327.6h0.9v0.9h-0.9zM132.0 326.6h0.9v0.9h-0.9zM135.5 326.9h0.9v0.9h-0.9zM127.3 326.1h0.9v0.9h-0.9zM152.5 325.8h0.9v0.9h-0.9zM161.4 326.2h0.9v0.9h-0.9zM126.0 325.0h0.9v0.9h-0.9zM124.0 324.7h0.9v0.9h-0.9zM139.4 325.0h0.9v0.9h-0.9zM162.1 326.0h0.9v0.9h-0.9zM129.8 325.8h0.9v0.9h-0.9zM129.7 324.2h0.9v0.9h-0.9zM137.9 325.8h0.9v0.9h-0.9zM135.2 325.0h0.9v0.9h-0.9zM132.2 325.0h0.9v0.9h-0.9zM145.3 325.5h0.9v0.9h-0.9zM125.6 324.4h0.9v0.9h-0.9zM124.8 325.1h0.9v0.9h-0.9zM141.8 325.0h0.9v0.9h-0.9zM161.1 325.6h0.9v0.9h-0.9zM129.3 324.8h0.9v0.9h-0.9zM130.7 325.0h0.9v0.9h-0.9zM130.6 326.2h0.9v0.9h-0.9zM124.6 327.0h0.9v0.9h-0.9zM125.1 323.9h0.9v0.9h-0.9zM134.5 325.6h0.9v0.9h-0.9zM133.1 325.7h0.9v0.9h-0.9zM145.9 326.6h0.9v0.9h-0.9zM127.9 325.3h0.9v0.9h-0.9zM159.5 324.9h0.9v0.9h-0.9zM145.1 325.8h0.9v0.9h-0.9zM155.0 324.9h0.9v0.9h-0.9zM126.4 326.2h0.9v0.9h-0.9zM155.5 324.0h0.9v0.9h-0.9zM138.2 325.1h0.9v0.9h-0.9zM135.0 324.1h0.9v0.9h-0.9zM158.2 325.9h0.9v0.9h-0.9zM139.6 325.0h0.9v0.9h-0.9zM133.4 325.5h0.9v0.9h-0.9zM137.9 326.9h0.9v0.9h-0.9zM146.0 325.7h0.9v0.9h-0.9zM131.2 325.9h0.9v0.9h-0.9zM142.3 325.5h0.9v0.9h-0.9zM134.9 328.9h0.9v0.9h-0.9zM126.4 325.3h0.9v0.9h-0.9zM122.2 324.2h0.9v0.9h-0.9zM155.8 326.0h0.9v0.9h-0.9zM159.0 324.3h0.9v0.9h-0.9zM133.0 326.4h0.9v0.9h-0.9zM153.3 325.8h0.9v0.9h-0.9zM138.2 326.6h0.9v0.9h-0.9zM135.8 326.5h0.9v0.9h-0.9zM133.1 326.6h0.9v0.9h-0.9zM135.0 325.6h0.9v0.9h-0.9zM136.0 324.6h0.9v0.9h-0.9zM126.0 326.3h0.9v0.9h-0.9zM155.8 326.0h0.9v0.9h-0.9zM138.9 325.3h0.9v0.9h-0.9zM129.2 325.0h0.9v0.9h-0.9zM138.4 326.3h0.9v0.9h-0.9zM141.2 324.8h0.9v0.9h-0.9zM152.7 324.6h0.9v0.9h-0.9zM127.9 325.5h0.9v0.9h-0.9zM142.1 324.3h0.9v0.9h-0.9zM153.3 325.0h0.9v0.9h-0.9zM155.4 325.2h0.9v0.9h-0.9zM127.4 325.4h0.9v0.9h-0.9zM136.4 325.4h0.9v0.9h-0.9zM150.7 324.1h0.9v0.9h-0.9zM135.3 324.7h0.9v0.9h-0.9zM148.9 324.8h0.9v0.9h-0.9zM132.1 326.4h0.9v0.9h-0.9zM134.7 324.2h0.9v0.9h-0.9zM124.2 324.6h0.9v0.9h-0.9zM148.2 326.6h0.9v0.9h-0.9zM133.4 324.3h0.9v0.9h-0.9zM124.7 325.1h0.9v0.9h-0.9zM132.1 326.2h0.9v0.9h-0.9zM128.6 327.2h0.9v0.9h-0.9zM136.8 325.1h0.9v0.9h-0.9zM161.4 324.3h0.9v0.9h-0.9zM159.9 324.0h0.9v0.9h-0.9zM156.5 326.1h0.9v0.9h-0.9zM154.9 325.4h0.9v0.9h-0.9zM159.3 325.3h0.9v0.9h-0.9zM128.2 324.9h0.9v0.9h-0.9zM142.1 325.3h0.9v0.9h-0.9zM154.2 326.6h0.9v0.9h-0.9zM160.8 326.4h0.9v0.9h-0.9zM146.8 324.9h0.9v0.9h-0.9zM126.7 327.1h0.9v0.9h-0.9zM135.7 323.8h0.9v0.9h-0.9zM129.0 324.3h0.9v0.9h-0.9zM153.4 324.8h0.9v0.9h-0.9zM155.0 327.1h0.9v0.9h-0.9zM137.8 326.0h0.9v0.9h-0.9zM121.0 324.0h0.9v0.9h-0.9zM160.1 328.1h0.9v0.9h-0.9zM158.2 325.6h0.9v0.9h-0.9zM160.3 325.6h0.9v0.9h-0.9zM152.6 324.9h0.9v0.9h-0.9zM162.9 325.3h0.9v0.9h-0.9zM132.5 324.4h0.9v0.9h-0.9zM126.3 326.1h0.9v0.9h-0.9zM156.2 325.3h0.9v0.9h-0.9zM155.4 324.4h0.9v0.9h-0.9zM132.3 325.8h0.9v0.9h-0.9zM146.4 326.1h0.9v0.9h-0.9zM124.9 325.6h0.9v0.9h-0.9zM127.2 325.6h0.9v0.9h-0.9zM162.1 324.9h0.9v0.9h-0.9zM157.9 329.5h0.9v0.9h-0.9zM128.3 325.6h0.9v0.9h-0.9zM148.6 325.0h0.9v0.9h-0.9zM151.1 324.2h0.9v0.9h-0.9zM143.4 324.8h0.9v0.9h-0.9zM142.2 325.8h0.9v0.9h-0.9zM149.8 325.3h0.9v0.9h-0.9zM122.1 324.6h0.9v0.9h-0.9zM161.8 325.6h0.9v0.9h-0.9zM146.8 327.3h0.9v0.9h-0.9zM141.2 324.3h0.9v0.9h-0.9zM132.9 325.7h0.9v0.9h-0.9zM132.6 326.5h0.9v0.9h-0.9zM147.1 325.5h0.9v0.9h-0.9zM129.2 324.5h0.9v0.9h-0.9zM150.6 324.9h0.9v0.9h-0.9zM124.6 327.4h0.9v0.9h-0.9zM137.3 324.6h0.9v0.9h-0.9zM133.0 325.3h0.9v0.9h-0.9zM121.1 326.5h0.9v0.9h-0.9zM150.4 325.2h0.9v0.9h-0.9zM158.6 326.1h0.9v0.9h-0.9zM137.4 326.2h0.9v0.9h-0.9zM131.2 325.2h0.9v0.9h-0.9zM148.8 324.9h0.9v0.9h-0.9zM125.8 324.7h0.9v0.9h-0.9zM157.0 324.4h0.9v0.9h-0.9zM142.4 327.7h0.9v0.9h-0.9zM149.8 325.1h0.9v0.9h-0.9zM134.0 324.7h0.9v0.9h-0.9zM143.3 324.6h0.9v0.9h-0.9zM145.0 324.7h0.9v0.9h-0.9zM147.3 327.3h0.9v0.9h-0.9zM154.5 325.2h0.9v0.9h-0.9zM139.2 326.0h0.9v0.9h-0.9zM139.3 326.2h0.9v0.9h-0.9zM139.1 324.9h0.9v0.9h-0.9zM122.7 326.5h0.9v0.9h-0.9zM136.7 325.1h0.9v0.9h-0.9zM160.2 326.1h0.9v0.9h-0.9zM149.8 324.7h0.9v0.9h-0.9zM136.8 325.1h0.9v0.9h-0.9zM155.7 324.1h0.9v0.9h-0.9zM132.6 324.9h0.9v0.9h-0.9zM138.6 325.0h0.9v0.9h-0.9zM133.3 325.8h0.9v0.9h-0.9zM138.3 328.3h0.9v0.9h-0.9zM126.9 325.3h0.9v0.9h-0.9zM145.2 325.4h0.9v0.9h-0.9zM127.0 325.7h0.9v0.9h-0.9zM140.2 325.1h0.9v0.9h-0.9zM153.2 325.0h0.9v0.9h-0.9zM158.9 325.6h0.9v0.9h-0.9zM148.9 326.6h0.9v0.9h-0.9zM137.1 326.0h0.9v0.9h-0.9zM129.6 326.2h0.9v0.9h-0.9zM132.8 325.1h0.9v0.9h-0.9zM132.5 324.2h0.9v0.9h-0.9zM149.1 325.6h0.9v0.9h-0.9zM153.5 325.4h0.9v0.9h-0.9zM127.0 327.5h0.9v0.9h-0.9zM140.2 324.1h0.9v0.9h-0.9zM153.1 327.3h0.9v0.9h-0.9zM150.5 325.1h0.9v0.9h-0.9zM125.6 326.2h0.9v0.9h-0.9zM145.3 324.1h0.9v0.9h-0.9zM160.5 326.7h0.9v0.9h-0.9zM157.3 324.4h0.9v0.9h-0.9zM131.0 326.1h0.9v0.9h-0.9zM156.6 325.8h0.9v0.9h-0.9zM162.6 325.1h0.9v0.9h-0.9zM160.5 325.7h0.9v0.9h-0.9zM157.7 324.9h0.9v0.9h-0.9zM126.1 324.1h0.9v0.9h-0.9zM139.4 326.2h0.9v0.9h-0.9zM148.9 326.7h0.9v0.9h-0.9zM157.7 325.6h0.9v0.9h-0.9zM156.1 326.0h0.9v0.9h-0.9zM138.5 327.5h0.9v0.9h-0.9zM136.0 325.2h0.9v0.9h-0.9zM150.6 325.3h0.9v0.9h-0.9zM132.7 325.0h0.9v0.9h-0.9zM138.8 324.4h0.9v0.9h-0.9zM157.1 324.9h0.9v0.9h-0.9zM132.9 324.3h0.9v0.9h-0.9zM156.9 327.1h0.9v0.9h-0.9zM123.4 325.1h0.9v0.9h-0.9zM124.7 325.7h0.9v0.9h-0.9zM136.4 327.0h0.9v0.9h-0.9zM149.8 326.4h0.9v0.9h-0.9zM130.4 324.2h0.9v0.9h-0.9zM161.7 325.8h0.9v0.9h-0.9zM146.3 325.3h0.9v0.9h-0.9zM124.3 325.4h0.9v0.9h-0.9zM130.9 324.6h0.9v0.9h-0.9zM157.4 324.1h0.9v0.9h-0.9zM125.7 324.5h0.9v0.9h-0.9zM122.0 326.6h0.9v0.9h-0.9zM131.5 324.9h0.9v0.9h-0.9zM122.2 325.1h0.9v0.9h-0.9zM129.5 324.0h0.9v0.9h-0.9zM141.7 326.9h0.9v0.9h-0.9zM156.1 326.1h0.9v0.9h-0.9zM140.4 326.3h0.9v0.9h-0.9zM144.5 325.4h0.9v0.9h-0.9zM125.9 327.4h0.9v0.9h-0.9zM135.6 326.6h0.9v0.9h-0.9zM148.5 325.8h0.9v0.9h-0.9zM141.4 324.4h0.9v0.9h-0.9zM160.7 325.1h0.9v0.9h-0.9zM138.7 324.5h0.9v0.9h-0.9zM160.1 325.9h0.9v0.9h-0.9zM129.9 325.0h0.9v0.9h-0.9zM149.7 327.4h0.9v0.9h-0.9zM153.5 325.0h0.9v0.9h-0.9zM161.9 326.2h0.9v0.9h-0.9zM128.3 326.5h0.9v0.9h-0.9zM147.2 327.1h0.9v0.9h-0.9zM160.3 324.9h0.9v0.9h-0.9zM142.1 327.0h0.9v0.9h-0.9zM162.6 324.8h0.9v0.9h-0.9zM159.3 326.1h0.9v0.9h-0.9zM133.5 325.4h0.9v0.9h-0.9zM141.6 324.5h0.9v0.9h-0.9zM134.7 324.6h0.9v0.9h-0.9zM155.1 325.0h0.9v0.9h-0.9zM123.3 324.7h0.9v0.9h-0.9zM150.1 325.8h0.9v0.9h-0.9zM121.2 325.1h0.9v0.9h-0.9zM123.4 326.3h0.9v0.9h-0.9zM153.9 326.7h0.9v0.9h-0.9zM130.0 325.0h0.9v0.9h-0.9zM145.1 324.9h0.9v0.9h-0.9zM159.6 324.7h0.9v0.9h-0.9zM128.5 324.9h0.9v0.9h-0.9zM137.7 325.2h0.9v0.9h-0.9zM153.9 326.5h0.9v0.9h-0.9zM147.0 326.1h0.9v0.9h-0.9zM147.5 324.6h0.9v0.9h-0.9zM129.1 324.7h0.9v0.9h-0.9zM143.2 324.3h0.9v0.9h-0.9zM156.5 326.3h0.9v0.9h-0.9zM143.3 324.9h0.9v0.9h-0.9zM148.1 326.4h0.9v0.9h-0.9zM150.5 325.8h0.9v0.9h-0.9zM136.5 324.7h0.9v0.9h-0.9zM142.8 324.7h0.9v0.9h-0.9zM136.1 325.4h0.9v0.9h-0.9zM132.7 325.2h0.9v0.9h-0.9zM124.2 324.9h0.9v0.9h-0.9zM158.5 325.8h0.9v0.9h-0.9zM135.5 324.3h0.9v0.9h-0.9zM151.1 326.9h0.9v0.9h-0.9zM129.7 324.8h0.9v0.9h-0.9zM146.2 325.1h0.9v0.9h-0.9zM152.4 324.3h0.9v0.9h-0.9zM150.5 325.8h0.9v0.9h-0.9zM141.1 327.7h0.9v0.9h-0.9zM162.8 326.5h0.9v0.9h-0.9zM127.4 325.1h0.9v0.9h-0.9zM152.4 324.3h0.9v0.9h-0.9zM126.1 324.3h0.9v0.9h-0.9zM142.2 325.6h0.9v0.9h-0.9zM121.3 324.7h0.9v0.9h-0.9zM123.6 325.0h0.9v0.9h-0.9zM159.1 325.5h0.9v0.9h-0.9zM152.4 324.6h0.9v0.9h-0.9zM122.6 324.9h0.9v0.9h-0.9zM124.5 326.8h0.9v0.9h-0.9zM125.5 325.2h0.9v0.9h-0.9zM156.6 324.9h0.9v0.9h-0.9zM141.2 325.0h0.9v0.9h-0.9zM156.3 327.2h0.9v0.9h-0.9zM146.5 324.3h0.9v0.9h-0.9zM153.5 324.8h0.9v0.9h-0.9zM126.5 324.8h0.9v0.9h-0.9zM151.5 326.3h0.9v0.9h-0.9zM133.5 324.2h0.9v0.9h-0.9zM147.9 324.0h0.9v0.9h-0.9zM127.4 327.5h0.9v0.9h-0.9zM134.9 325.6h0.9v0.9h-0.9zM154.9 325.5h0.9v0.9h-0.9zM124.2 325.2h0.9v0.9h-0.9zM127.5 324.6h0.9v0.9h-0.9zM133.1 325.8h0.9v0.9h-0.9zM129.9 326.7h0.9v0.9h-0.9zM156.1 324.6h0.9v0.9h-0.9zM158.1 326.0h0.9v0.9h-0.9zM156.1 325.8h0.9v0.9h-0.9zM139.5 325.1h0.9v0.9h-0.9zM147.7 324.4h0.9v0.9h-0.9zM145.2 324.1h0.9v0.9h-0.9zM148.1 324.3h0.9v0.9h-0.9zM147.0 324.8h0.9v0.9h-0.9zM160.0 326.2h0.9v0.9h-0.9zM148.5 325.7h0.9v0.9h-0.9zM122.3 326.9h0.9v0.9h-0.9zM152.8 325.1h0.9v0.9h-0.9zM144.6 325.4h0.9v0.9h-0.9zM154.3 324.6h0.9v0.9h-0.9zM135.2 325.2h0.9v0.9h-0.9zM129.8 325.2h0.9v0.9h-0.9zM142.4 325.1h0.9v0.9h-0.9zM130.6 326.5h0.9v0.9h-0.9zM145.9 324.9h0.9v0.9h-0.9zM144.0 326.3h0.9v0.9h-0.9zM150.2 325.1h0.9v0.9h-0.9zM122.1 325.8h0.9v0.9h-0.9zM154.3 325.5h0.9v0.9h-0.9zM126.1 324.3h0.9v0.9h-0.9zM141.1 327.1h0.9v0.9h-0.9zM138.7 325.3h0.9v0.9h-0.9zM162.5 327.6h0.9v0.9h-0.9zM154.7 326.3h0.9v0.9h-0.9zM159.6 325.9h0.9v0.9h-0.9zM132.3 327.0h0.9v0.9h-0.9zM142.2 326.4h0.9v0.9h-0.9zM158.0 324.8h0.9v0.9h-0.9zM157.2 326.1h0.9v0.9h-0.9zM146.1 324.3h0.9v0.9h-0.9zM142.3 326.1h0.9v0.9h-0.9zM131.7 325.4h0.9v0.9h-0.9zM143.4 324.4h0.9v0.9h-0.9zM157.6 325.0h0.9v0.9h-0.9zM151.4 325.8h0.9v0.9h-0.9zM155.7 325.9h0.9v0.9h-0.9zM146.6 325.0h0.9v0.9h-0.9zM125.1 324.8h0.9v0.9h-0.9zM128.9 324.1h0.9v0.9h-0.9zM138.8 327.4h0.9v0.9h-0.9zM158.6 327.4h0.9v0.9h-0.9zM141.2 325.0h0.9v0.9h-0.9zM160.7 324.8h0.9v0.9h-0.9zM141.2 327.8h0.9v0.9h-0.9zM152.0 324.6h0.9v0.9h-0.9zM150.3 325.5h0.9v0.9h-0.9zM121.5 324.8h0.9v0.9h-0.9zM139.3 325.8h0.9v0.9h-0.9zM145.2 324.5h0.9v0.9h-0.9zM162.6 323.9h0.9v0.9h-0.9zM155.5 324.4h0.9v0.9h-0.9zM131.1 324.8h0.9v0.9h-0.9zM133.5 326.1h0.9v0.9h-0.9zM141.6 324.9h0.9v0.9h-0.9zM136.2 326.0h0.9v0.9h-0.9zM136.5 325.6h0.9v0.9h-0.9zM145.0 326.0h0.9v0.9h-0.9zM123.0 324.9h0.9v0.9h-0.9zM139.1 324.2h0.9v0.9h-0.9zM124.1 327.2h0.9v0.9h-0.9zM121.7 324.7h0.9v0.9h-0.9zM157.0 324.7h0.9v0.9h-0.9zM123.6 324.4h0.9v0.9h-0.9zM148.8 325.7h0.9v0.9h-0.9zM153.6 324.4h0.9v0.9h-0.9zM124.5 324.5h0.9v0.9h-0.9zM124.3 325.8h0.9v0.9h-0.9zM122.2 327.1h0.9v0.9h-0.9zM158.0 327.6h0.9v0.9h-0.9zM141.2 327.0h0.9v0.9h-0.9zM127.3 324.8h0.9v0.9h-0.9zM162.4 324.1h0.9v0.9h-0.9zM147.0 324.5h0.9v0.9h-0.9zM158.4 326.8h0.9v0.9h-0.9zM125.2 326.6h0.9v0.9h-0.9zM145.7 326.4h0.9v0.9h-0.9zM153.0 324.4h0.9v0.9h-0.9zM139.8 325.9h0.9v0.9h-0.9zM141.9 325.0h0.9v0.9h-0.9zM123.2 325.5h0.9v0.9h-0.9zM130.0 324.9h0.9v0.9h-0.9zM131.9 326.0h0.9v0.9h-0.9zM139.7 325.3h0.9v0.9h-0.9zM121.6 325.9h0.9v0.9h-0.9zM124.7 324.1h0.9v0.9h-0.9zM145.9 324.7h0.9v0.9h-0.9zM162.7 325.6h0.9v0.9h-0.9zM131.9 328.4h0.9v0.9h-0.9zM143.3 324.8h0.9v0.9h-0.9zM142.0 326.7h0.9v0.9h-0.9zM153.7 327.3h0.9v0.9h-0.9zM143.5 325.3h0.9v0.9h-0.9zM142.6 325.0h0.9v0.9h-0.9zM122.8 325.7h0.9v0.9h-0.9zM121.6 327.0h0.9v0.9h-0.9zM139.8 325.6h0.9v0.9h-0.9zM126.2 325.2h0.9v0.9h-0.9zM134.5 323.7h0.9v0.9h-0.9zM127.3 324.9h0.9v0.9h-0.9zM154.5 327.6h0.9v0.9h-0.9zM133.4 327.6h0.9v0.9h-0.9zM148.4 326.4h0.9v0.9h-0.9zM146.1 324.8h0.9v0.9h-0.9zM150.6 325.0h0.9v0.9h-0.9zM132.5 324.9h0.9v0.9h-0.9zM127.8 324.6h0.9v0.9h-0.9zM157.8 326.5h0.9v0.9h-0.9zM141.9 328.7h0.9v0.9h-0.9zM151.3 325.9h0.9v0.9h-0.9zM139.8 325.5h0.9v0.9h-0.9zM122.1 325.8h0.9v0.9h-0.9zM126.2 324.7h0.9v0.9h-0.9zM127.2 324.5h0.9v0.9h-0.9zM122.3 325.8h0.9v0.9h-0.9zM151.3 325.9h0.9v0.9h-0.9zM161.6 326.6h0.9v0.9h-0.9zM138.1 325.8h0.9v0.9h-0.9zM162.1 324.5h0.9v0.9h-0.9zM125.7 325.5h0.9v0.9h-0.9zM135.8 327.4h0.9v0.9h-0.9zM146.4 325.2h0.9v0.9h-0.9zM148.3 324.3h0.9v0.9h-0.9zM122.2 325.1h0.9v0.9h-0.9zM158.8 324.8h0.9v0.9h-0.9zM163.1 326.2h0.9v0.9h-0.9zM133.5 326.4h0.9v0.9h-0.9zM133.5 324.8h0.9v0.9h-0.9zM147.7 323.9h0.9v0.9h-0.9zM138.7 325.0h0.9v0.9h-0.9zM143.0 323.7h0.9v0.9h-0.9zM157.5 325.1h0.9v0.9h-0.9zM148.2 324.0h0.9v0.9h-0.9zM126.0 324.5h0.9v0.9h-0.9zM135.0 324.8h0.9v0.9h-0.9zM157.6 324.3h0.9v0.9h-0.9zM160.5 328.6h0.9v0.9h-0.9zM134.0 325.0h0.9v0.9h-0.9zM124.3 324.5h0.9v0.9h-0.9zM154.1 325.1h0.9v0.9h-0.9zM130.2 324.3h0.9v0.9h-0.9zM130.5 325.2h0.9v0.9h-0.9zM138.4 324.7h0.9v0.9h-0.9zM124.5 325.7h0.9v0.9h-0.9zM149.7 325.5h0.9v0.9h-0.9zM157.3 324.3h0.9v0.9h-0.9zM135.2 326.2h0.9v0.9h-0.9zM149.5 325.1h0.9v0.9h-0.9zM126.6 325.2h0.9v0.9h-0.9zM136.2 324.5h0.9v0.9h-0.9zM127.6 324.6h0.9v0.9h-0.9zM125.4 326.3h0.9v0.9h-0.9zM132.6 325.8h0.9v0.9h-0.9zM136.6 324.3h0.9v0.9h-0.9zM122.0 324.7h0.9v0.9h-0.9zM148.1 324.2h0.9v0.9h-0.9zM148.2 325.5h0.9v0.9h-0.9zM133.2 324.3h0.9v0.9h-0.9zM139.4 325.2h0.9v0.9h-0.9zM132.5 325.4h0.9v0.9h-0.9zM125.3 325.8h0.9v0.9h-0.9zM161.3 324.9h0.9v0.9h-0.9zM160.4 326.7h0.9v0.9h-0.9zM140.5 324.5h0.9v0.9h-0.9zM155.7 325.1h0.9v0.9h-0.9zM142.5 325.6h0.9v0.9h-0.9zM161.5 325.1h0.9v0.9h-0.9zM146.9 325.4h0.9v0.9h-0.9zM157.4 324.5h0.9v0.9h-0.9zM144.7 325.5h0.9v0.9h-0.9zM144.7 324.3h0.9v0.9h-0.9zM147.5 324.4h0.9v0.9h-0.9zM156.5 326.9h0.9v0.9h-0.9zM126.2 326.2h0.9v0.9h-0.9zM151.2 326.6h0.9v0.9h-0.9zM151.2 326.6h0.9v0.9h-0.9zM163.3 325.8h0.9v0.9h-0.9zM135.9 326.0h0.9v0.9h-0.9zM150.1 326.3h0.9v0.9h-0.9zM136.7 324.3h0.9v0.9h-0.9zM146.1 324.8h0.9v0.9h-0.9zM121.3 324.7h0.9v0.9h-0.9zM155.7 326.5h0.9v0.9h-0.9zM129.0 325.8h0.9v0.9h-0.9zM141.7 324.6h0.9v0.9h-0.9zM127.9 324.0h0.9v0.9h-0.9zM161.0 326.3h0.9v0.9h-0.9zM151.6 326.1h0.9v0.9h-0.9zM157.5 325.0h0.9v0.9h-0.9zM153.1 324.4h0.9v0.9h-0.9zM159.0 324.3h0.9v0.9h-0.9zM148.7 325.8h0.9v0.9h-0.9zM124.5 324.3h0.9v0.9h-0.9zM124.0 326.4h0.9v0.9h-0.9zM152.7 325.2h0.9v0.9h-0.9zM133.2 326.0h0.9v0.9h-0.9zM151.2 325.0h0.9v0.9h-0.9zM139.4 325.3h0.9v0.9h-0.9zM157.1 325.8h0.9v0.9h-0.9zM135.3 327.3h0.9v0.9h-0.9zM124.9 325.6h0.9v0.9h-0.9zM156.4 325.7h0.9v0.9h-0.9zM133.7 325.7h0.9v0.9h-0.9zM137.8 325.0h0.9v0.9h-0.9zM153.8 326.1h0.9v0.9h-0.9zM131.6 324.9h0.9v0.9h-0.9zM160.7 325.2h0.9v0.9h-0.9zM122.2 325.1h0.9v0.9h-0.9zM153.2 325.1h0.9v0.9h-0.9zM157.1 326.8h0.9v0.9h-0.9zM147.3 326.0h0.9v0.9h-0.9zM129.2 325.7h0.9v0.9h-0.9zM125.4 326.0h0.9v0.9h-0.9zM153.6 325.1h0.9v0.9h-0.9zM151.9 326.2h0.9v0.9h-0.9zM154.0 325.4h0.9v0.9h-0.9zM162.3 326.0h0.9v0.9h-0.9zM146.6 324.8h0.9v0.9h-0.9zM161.1 325.2h0.9v0.9h-0.9zM162.7 325.5h0.9v0.9h-0.9zM145.9 325.3h0.9v0.9h-0.9zM153.7 325.7h0.9v0.9h-0.9zM127.9 325.4h0.9v0.9h-0.9zM163.2 325.8h0.9v0.9h-0.9zM142.0 324.7h0.9v0.9h-0.9zM142.2 325.1h0.9v0.9h-0.9zM150.0 327.4h0.9v0.9h-0.9zM157.2 325.6h0.9v0.9h-0.9zM132.7 323.9h0.9v0.9h-0.9zM152.8 326.8h0.9v0.9h-0.9zM156.2 325.1h0.9v0.9h-0.9zM137.8 326.2h0.9v0.9h-0.9zM139.6 326.4h0.9v0.9h-0.9zM158.3 324.7h0.9v0.9h-0.9zM135.1 324.5h0.9v0.9h-0.9zM155.1 325.7h0.9v0.9h-0.9zM158.7 325.0h0.9v0.9h-0.9zM136.4 326.4h0.9v0.9h-0.9zM134.4 325.0h0.9v0.9h-0.9zM128.9 325.7h0.9v0.9h-0.9zM129.5 328.8h0.9v0.9h-0.9zM157.4 324.4h0.9v0.9h-0.9zM132.8 323.7h0.9v0.9h-0.9zM132.4 324.6h0.9v0.9h-0.9zM148.5 324.4h0.9v0.9h-0.9zM133.0 325.0h0.9v0.9h-0.9zM133.0 324.7h0.9v0.9h-0.9zM160.4 323.9h0.9v0.9h-0.9zM162.9 324.8h0.9v0.9h-0.9zM153.3 326.8h0.9v0.9h-0.9zM154.2 325.8h0.9v0.9h-0.9zM136.8 326.0h0.9v0.9h-0.9zM135.8 325.1h0.9v0.9h-0.9zM155.6 324.9h0.9v0.9h-0.9zM143.3 326.2h0.9v0.9h-0.9zM129.9 326.0h0.9v0.9h-0.9zM134.8 326.1h0.9v0.9h-0.9zM151.8 326.2h0.9v0.9h-0.9zM137.4 328.0h0.9v0.9h-0.9zM155.3 325.7h0.9v0.9h-0.9zM130.4 324.7h0.9v0.9h-0.9zM121.1 325.1h0.9v0.9h-0.9zM127.1 327.3h0.9v0.9h-0.9zM125.5 324.4h0.9v0.9h-0.9zM129.0 326.1h0.9v0.9h-0.9zM162.4 325.1h0.9v0.9h-0.9zM148.6 324.3h0.9v0.9h-0.9zM139.3 327.5h0.9v0.9h-0.9zM127.0 325.5h0.9v0.9h-0.9zM155.3 324.6h0.9v0.9h-0.9zM148.0 325.3h0.9v0.9h-0.9zM132.1 325.6h0.9v0.9h-0.9zM141.3 328.0h0.9v0.9h-0.9zM156.9 325.2h0.9v0.9h-0.9zM161.7 326.5h0.9v0.9h-0.9zM161.2 324.5h0.9v0.9h-0.9zM145.8 326.9h0.9v0.9h-0.9zM143.4 325.9h0.9v0.9h-0.9zM138.7 324.5h0.9v0.9h-0.9zM121.3 324.7h0.9v0.9h-0.9zM133.5 326.2h0.9v0.9h-0.9zM155.9 325.0h0.9v0.9h-0.9zM136.2 325.0h0.9v0.9h-0.9zM148.8 325.1h0.9v0.9h-0.9zM162.5 325.7h0.9v0.9h-0.9zM154.5 325.2h0.9v0.9h-0.9zM134.4 326.8h0.9v0.9h-0.9zM131.0 326.2h0.9v0.9h-0.9zM160.1 324.5h0.9v0.9h-0.9zM129.9 324.1h0.9v0.9h-0.9zM151.2 326.4h0.9v0.9h-0.9zM148.0 324.4h0.9v0.9h-0.9zM144.8 324.8h0.9v0.9h-0.9zM134.2 325.6h0.9v0.9h-0.9zM162.2 326.5h0.9v0.9h-0.9zM153.6 324.6h0.9v0.9h-0.9zM138.4 324.6h0.9v0.9h-0.9zM128.0 325.2h0.9v0.9h-0.9zM138.3 325.5h0.9v0.9h-0.9zM122.9 325.2h0.9v0.9h-0.9zM128.9 325.4h0.9v0.9h-0.9zM131.1 325.1h0.9v0.9h-0.9zM127.6 327.1h0.9v0.9h-0.9zM143.7 326.0h0.9v0.9h-0.9zM127.1 325.9h0.9v0.9h-0.9zM124.8 324.9h0.9v0.9h-0.9zM123.9 326.8h0.9v0.9h-0.9zM158.4 324.9h0.9v0.9h-0.9zM124.4 324.2h0.9v0.9h-0.9zM161.6 328.2h0.9v0.9h-0.9zM160.3 325.2h0.9v0.9h-0.9zM142.6 324.9h0.9v0.9h-0.9zM158.5 325.4h0.9v0.9h-0.9zM122.0 325.0h0.9v0.9h-0.9zM152.9 325.3h0.9v0.9h-0.9zM143.4 324.7h0.9v0.9h-0.9zM146.9 324.5h0.9v0.9h-0.9zM163.3 324.2h0.9v0.9h-0.9zM127.8 325.4h0.9v0.9h-0.9zM134.1 326.7h0.9v0.9h-0.9zM150.1 324.9h0.9v0.9h-0.9zM128.6 325.0h0.9v0.9h-0.9zM159.9 324.4h0.9v0.9h-0.9zM127.9 325.9h0.9v0.9h-0.9zM137.6 325.2h0.9v0.9h-0.9zM152.7 325.1h0.9v0.9h-0.9zM157.7 323.9h0.9v0.9h-0.9zM154.3 326.8h0.9v0.9h-0.9zM155.6 326.6h0.9v0.9h-0.9zM138.2 326.9h0.9v0.9h-0.9zM136.9 324.0h0.9v0.9h-0.9zM144.1 327.6h0.9v0.9h-0.9zM128.4 325.8h0.9v0.9h-0.9zM143.7 326.3h0.9v0.9h-0.9zM144.4 323.9h0.9v0.9h-0.9zM134.5 327.1h0.9v0.9h-0.9zM127.1 324.2h0.9v0.9h-0.9zM124.8 324.6h0.9v0.9h-0.9zM136.1 325.6h0.9v0.9h-0.9zM143.9 326.0h0.9v0.9h-0.9zM162.6 328.2h0.9v0.9h-0.9zM129.3 326.1h0.9v0.9h-0.9zM121.9 326.2h0.9v0.9h-0.9zM133.7 325.7h0.9v0.9h-0.9zM140.8 325.0h0.9v0.9h-0.9zM145.5 324.6h0.9v0.9h-0.9zM135.3 324.3h0.9v0.9h-0.9zM159.7 324.9h0.9v0.9h-0.9zM130.1 325.2h0.9v0.9h-0.9zM132.1 325.2h0.9v0.9h-0.9zM131.9 325.6h0.9v0.9h-0.9zM161.9 326.5h0.9v0.9h-0.9zM141.2 324.6h0.9v0.9h-0.9zM135.9 325.8h0.9v0.9h-0.9zM123.1 325.0h0.9v0.9h-0.9zM137.3 326.2h0.9v0.9h-0.9zM155.0 324.0h0.9v0.9h-0.9zM156.5 327.0h0.9v0.9h-0.9zM161.2 324.7h0.9v0.9h-0.9zM129.4 324.5h0.9v0.9h-0.9zM122.6 324.9h0.9v0.9h-0.9zM128.5 324.9h0.9v0.9h-0.9zM123.9 325.9h0.9v0.9h-0.9zM157.6 326.6h0.9v0.9h-0.9zM133.1 324.1h0.9v0.9h-0.9zM156.4 325.3h0.9v0.9h-0.9zM133.2 324.2h0.9v0.9h-0.9zM125.4 324.7h0.9v0.9h-0.9zM132.5 326.4h0.9v0.9h-0.9zM146.9 324.5h0.9v0.9h-0.9zM162.1 326.3h0.9v0.9h-0.9zM147.9 328.0h0.9v0.9h-0.9zM155.0 324.4h0.9v0.9h-0.9zM142.7 324.0h0.9v0.9h-0.9zM160.1 325.4h0.9v0.9h-0.9zM157.3 325.0h0.9v0.9h-0.9zM162.8 324.4h0.9v0.9h-0.9zM156.7 325.9h0.9v0.9h-0.9zM150.5 326.1h0.9v0.9h-0.9zM156.2 325.0h0.9v0.9h-0.9zM158.8 325.7h0.9v0.9h-0.9zM149.7 326.9h0.9v0.9h-0.9zM124.3 324.3h0.9v0.9h-0.9zM139.5 324.2h0.9v0.9h-0.9zM161.9 325.7h0.9v0.9h-0.9zM150.3 326.4h0.9v0.9h-0.9zM137.9 325.3h0.9v0.9h-0.9zM158.5 324.9h0.9v0.9h-0.9zM136.2 327.5h0.9v0.9h-0.9zM137.6 328.8h0.9v0.9h-0.9zM143.7 325.0h0.9v0.9h-0.9zM149.6 325.3h0.9v0.9h-0.9zM145.1 324.9h0.9v0.9h-0.9zM135.1 326.4h0.9v0.9h-0.9zM144.8 328.3h0.9v0.9h-0.9zM135.9 324.6h0.9v0.9h-0.9zM149.3 326.0h0.9v0.9h-0.9zM144.6 325.3h0.9v0.9h-0.9zM125.5 325.9h0.9v0.9h-0.9zM147.7 324.5h0.9v0.9h-0.9zM160.8 324.1h0.9v0.9h-0.9zM147.3 324.8h0.9v0.9h-0.9zM124.1 324.7h0.9v0.9h-0.9zM144.4 326.1h0.9v0.9h-0.9zM127.9 325.0h0.9v0.9h-0.9zM138.7 325.0h0.9v0.9h-0.9zM128.0 325.1h0.9v0.9h-0.9zM159.8 325.1h0.9v0.9h-0.9zM153.7 325.0h0.9v0.9h-0.9zM145.1 325.6h0.9v0.9h-0.9zM133.6 326.2h0.9v0.9h-0.9zM125.4 325.2h0.9v0.9h-0.9zM151.0 326.6h0.9v0.9h-0.9zM131.2 324.8h0.9v0.9h-0.9zM159.4 325.0h0.9v0.9h-0.9zM158.1 325.5h0.9v0.9h-0.9zM127.9 326.8h0.9v0.9h-0.9zM163.2 325.4h0.9v0.9h-0.9zM162.0 324.8h0.9v0.9h-0.9zM124.3 326.1h0.9v0.9h-0.9zM142.6 325.7h0.9v0.9h-0.9zM133.3 325.2h0.9v0.9h-0.9zM147.6 324.5h0.9v0.9h-0.9zM156.5 327.4h0.9v0.9h-0.9zM132.2 324.7h0.9v0.9h-0.9zM124.0 327.0h0.9v0.9h-0.9zM136.5 324.2h0.9v0.9h-0.9zM129.4 324.6h0.9v0.9h-0.9zM151.0 326.5h0.9v0.9h-0.9zM133.5 325.2h0.9v0.9h-0.9zM146.3 324.4h0.9v0.9h-0.9zM125.7 326.3h0.9v0.9h-0.9zM132.4 324.3h0.9v0.9h-0.9zM153.5 324.1h0.9v0.9h-0.9zM156.2 326.7h0.9v0.9h-0.9zM144.4 325.5h0.9v0.9h-0.9zM145.4 326.1h0.9v0.9h-0.9zM123.4 327.9h0.9v0.9h-0.9zM146.0 324.7h0.9v0.9h-0.9zM145.7 324.6h0.9v0.9h-0.9zM130.3 325.8h0.9v0.9h-0.9zM151.6 324.9h0.9v0.9h-0.9zM126.3 326.2h0.9v0.9h-0.9zM143.5 325.4h0.9v0.9h-0.9zM124.9 327.3h0.9v0.9h-0.9zM156.8 324.4h0.9v0.9h-0.9zM138.0 324.5h0.9v0.9h-0.9zM161.7 324.6h0.9v0.9h-0.9zM140.0 325.2h0.9v0.9h-0.9zM153.8 324.5h0.9v0.9h-0.9zM142.3 327.8h0.9v0.9h-0.9zM123.1 324.7h0.9v0.9h-0.9zM134.5 325.6h0.9v0.9h-0.9zM145.8 325.0h0.9v0.9h-0.9zM154.5 325.4h0.9v0.9h-0.9zM123.7 327.6h0.9v0.9h-0.9zM142.5 325.0h0.9v0.9h-0.9zM153.7 324.8h0.9v0.9h-0.9zM130.2 325.1h0.9v0.9h-0.9zM135.6 325.1h0.9v0.9h-0.9zM133.2 324.3h0.9v0.9h-0.9zM152.3 325.9h0.9v0.9h-0.9zM133.1 325.8h0.9v0.9h-0.9zM159.4 324.9h0.9v0.9h-0.9zM156.2 324.3h0.9v0.9h-0.9zM144.2 326.0h0.9v0.9h-0.9zM162.4 324.2h0.9v0.9h-0.9zM134.5 325.1h0.9v0.9h-0.9zM121.5 324.9h0.9v0.9h-0.9zM149.8 324.6h0.9v0.9h-0.9zM155.4 324.6h0.9v0.9h-0.9z" fill="#1a1aff" opacity="0.55"/>
<path d="M148.0 301.1h0.9v0.9h-0.9zM140.3 314.5h0.9v0.9h-0.9zM129.9 319.1h0.9v0.9h-0.9zM140.4 309.0h0.9v0.9h-0.9zM137.2 313.5h0.9v0.9h-0.9zM137.2 311.1h0.9v0.9h-0.9zM157.7 318.1h0.9v0.9h-0.9zM124.9 318.8h0.9v0.9h-0.9zM137.0 311.6h0.9v0.9h-0.9zM144.1 311.4h0.9v0.9h-0.9zM135.7 313.5h0.9v0.9h-0.9zM154.8 305.5h0.9v0.9h-0.9zM142.6 315.1h0.9v0.9h-0.9zM155.5 311.8h0.9v0.9h-0.9zM146.0 312.8h0.9v0.9h-0.9zM138.8 311.8h0.9v0.9h-0.9zM139.6 307.1h0.9v0.9h-0.9zM147.2 314.6h0.9v0.9h-0.9zM148.1 310.2h0.9v0.9h-0.9zM139.2 313.3h0.9v0.9h-0.9zM138.0 309.4h0.9v0.9h-0.9zM160.4 299.9h0.9v0.9h-0.9zM135.6 307.7h0.9v0.9h-0.9zM155.2 312.9h0.9v0.9h-0.9zM141.0 318.4h0.9v0.9h-0.9zM131.0 322.6h0.9v0.9h-0.9zM141.9 305.2h0.9v0.9h-0.9zM155.5 313.0h0.9v0.9h-0.9zM145.0 308.5h0.9v0.9h-0.9zM142.6 316.0h0.9v0.9h-0.9zM133.2 309.9h0.9v0.9h-0.9zM124.1 299.0h0.9v0.9h-0.9zM141.8 314.1h0.9v0.9h-0.9zM151.3 317.6h0.9v0.9h-0.9zM133.1 308.1h0.9v0.9h-0.9zM151.7 302.2h0.9v0.9h-0.9zM138.8 309.2h0.9v0.9h-0.9zM142.2 315.3h0.9v0.9h-0.9zM147.4 306.2h0.9v0.9h-0.9zM154.2 312.7h0.9v0.9h-0.9zM146.6 312.3h0.9v0.9h-0.9zM156.7 305.7h0.9v0.9h-0.9zM141.6 302.4h0.9v0.9h-0.9zM139.8 303.5h0.9v0.9h-0.9zM132.7 295.5h0.9v0.9h-0.9zM141.2 316.2h0.9v0.9h-0.9zM141.8 304.5h0.9v0.9h-0.9zM145.8 307.4h0.9v0.9h-0.9zM141.3 318.9h0.9v0.9h-0.9zM144.2 311.6h0.9v0.9h-0.9zM139.0 307.9h0.9v0.9h-0.9zM131.4 308.3h0.9v0.9h-0.9zM133.0 317.0h0.9v0.9h-0.9zM139.4 314.2h0.9v0.9h-0.9zM157.4 316.1h0.9v0.9h-0.9zM134.1 320.6h0.9v0.9h-0.9zM141.2 304.1h0.9v0.9h-0.9zM145.0 297.2h0.9v0.9h-0.9zM149.5 316.9h0.9v0.9h-0.9zM158.0 310.8h0.9v0.9h-0.9zM141.5 306.3h0.9v0.9h-0.9zM149.5 311.3h0.9v0.9h-0.9zM154.9 295.8h0.9v0.9h-0.9zM152.2 305.1h0.9v0.9h-0.9zM133.0 312.0h0.9v0.9h-0.9zM133.3 306.3h0.9v0.9h-0.9zM161.1 311.3h0.9v0.9h-0.9zM146.7 298.2h0.9v0.9h-0.9zM152.7 304.6h0.9v0.9h-0.9zM147.6 302.0h0.9v0.9h-0.9zM146.4 312.8h0.9v0.9h-0.9zM124.8 311.2h0.9v0.9h-0.9zM131.5 317.6h0.9v0.9h-0.9zM146.4 309.4h0.9v0.9h-0.9zM137.6 315.1h0.9v0.9h-0.9zM145.5 318.4h0.9v0.9h-0.9zM130.3 322.6h0.9v0.9h-0.9zM136.1 306.5h0.9v0.9h-0.9zM133.4 307.0h0.9v0.9h-0.9zM129.5 308.0h0.9v0.9h-0.9zM145.1 315.7h0.9v0.9h-0.9zM138.3 310.4h0.9v0.9h-0.9zM143.5 300.8h0.9v0.9h-0.9zM153.4 305.9h0.9v0.9h-0.9zM151.7 305.6h0.9v0.9h-0.9zM138.2 306.5h0.9v0.9h-0.9zM143.2 306.7h0.9v0.9h-0.9zM135.8 309.8h0.9v0.9h-0.9zM141.9 306.5h0.9v0.9h-0.9zM153.0 316.3h0.9v0.9h-0.9zM135.6 323.9h0.9v0.9h-0.9zM146.7 317.6h0.9v0.9h-0.9zM148.2 315.5h0.9v0.9h-0.9zM156.4 314.6h0.9v0.9h-0.9zM154.2 298.7h0.9v0.9h-0.9zM130.9 313.1h0.9v0.9h-0.9zM140.0 311.7h0.9v0.9h-0.9zM152.9 310.8h0.9v0.9h-0.9zM132.4 302.5h0.9v0.9h-0.9zM147.1 313.2h0.9v0.9h-0.9zM146.7 310.1h0.9v0.9h-0.9zM143.5 299.5h0.9v0.9h-0.9zM141.9 314.4h0.9v0.9h-0.9zM128.8 312.1h0.9v0.9h-0.9zM150.5 325.3h0.9v0.9h-0.9zM141.5 307.4h0.9v0.9h-0.9zM127.9 301.6h0.9v0.9h-0.9zM150.5 309.1h0.9v0.9h-0.9zM145.9 298.1h0.9v0.9h-0.9zM161.4 316.9h0.9v0.9h-0.9zM126.3 309.8h0.9v0.9h-0.9zM144.2 302.3h0.9v0.9h-0.9zM134.6 315.7h0.9v0.9h-0.9zM150.7 315.4h0.9v0.9h-0.9zM146.1 310.0h0.9v0.9h-0.9zM148.3 308.1h0.9v0.9h-0.9zM162.4 310.8h0.9v0.9h-0.9zM148.8 308.6h0.9v0.9h-0.9zM134.4 308.9h0.9v0.9h-0.9zM138.5 303.7h0.9v0.9h-0.9zM152.0 323.1h0.9v0.9h-0.9zM145.8 308.5h0.9v0.9h-0.9zM133.9 299.1h0.9v0.9h-0.9zM149.7 313.2h0.9v0.9h-0.9zM133.0 309.8h0.9v0.9h-0.9zM132.4 319.1h0.9v0.9h-0.9zM143.9 312.4h0.9v0.9h-0.9zM162.8 293.9h0.9v0.9h-0.9zM147.4 311.2h0.9v0.9h-0.9zM139.1 309.5h0.9v0.9h-0.9zM157.4 304.8h0.9v0.9h-0.9zM134.9 321.3h0.9v0.9h-0.9zM154.7 312.7h0.9v0.9h-0.9zM152.3 310.0h0.9v0.9h-0.9zM139.2 308.4h0.9v0.9h-0.9zM146.5 306.2h0.9v0.9h-0.9zM123.9 308.3h0.9v0.9h-0.9zM146.1 308.5h0.9v0.9h-0.9zM150.8 311.5h0.9v0.9h-0.9zM154.2 310.4h0.9v0.9h-0.9zM140.8 313.5h0.9v0.9h-0.9zM153.3 306.5h0.9v0.9h-0.9zM132.7 318.7h0.9v0.9h-0.9zM136.7 312.1h0.9v0.9h-0.9zM137.3 311.0h0.9v0.9h-0.9zM159.3 321.1h0.9v0.9h-0.9zM127.4 299.6h0.9v0.9h-0.9zM161.2 311.3h0.9v0.9h-0.9zM139.4 315.2h0.9v0.9h-0.9zM131.8 314.0h0.9v0.9h-0.9zM158.7 318.0h0.9v0.9h-0.9zM151.2 306.0h0.9v0.9h-0.9zM139.0 303.2h0.9v0.9h-0.9zM142.1 309.0h0.9v0.9h-0.9zM145.6 304.9h0.9v0.9h-0.9zM148.9 312.9h0.9v0.9h-0.9zM147.9 309.8h0.9v0.9h-0.9zM126.2 297.9h0.9v0.9h-0.9zM140.5 307.3h0.9v0.9h-0.9zM132.6 320.5h0.9v0.9h-0.9zM135.7 318.1h0.9v0.9h-0.9zM152.6 309.9h0.9v0.9h-0.9zM124.9 314.7h0.9v0.9h-0.9zM154.1 313.9h0.9v0.9h-0.9zM139.1 313.7h0.9v0.9h-0.9zM133.4 311.0h0.9v0.9h-0.9zM146.9 307.7h0.9v0.9h-0.9zM130.9 307.8h0.9v0.9h-0.9zM132.1 301.1h0.9v0.9h-0.9zM154.9 308.2h0.9v0.9h-0.9zM136.4 305.7h0.9v0.9h-0.9zM147.6 307.0h0.9v0.9h-0.9zM134.1 311.1h0.9v0.9h-0.9zM144.1 303.0h0.9v0.9h-0.9zM129.8 318.2h0.9v0.9h-0.9zM139.1 317.5h0.9v0.9h-0.9zM149.5 308.8h0.9v0.9h-0.9zM139.6 320.5h0.9v0.9h-0.9zM134.8 306.6h0.9v0.9h-0.9zM132.7 308.2h0.9v0.9h-0.9zM131.3 310.0h0.9v0.9h-0.9zM127.6 312.8h0.9v0.9h-0.9zM146.4 310.7h0.9v0.9h-0.9zM135.3 318.1h0.9v0.9h-0.9zM133.3 313.6h0.9v0.9h-0.9zM139.9 310.2h0.9v0.9h-0.9zM150.0 299.8h0.9v0.9h-0.9zM150.9 302.0h0.9v0.9h-0.9zM127.6 306.5h0.9v0.9h-0.9zM159.6 304.8h0.9v0.9h-0.9zM147.8 302.8h0.9v0.9h-0.9zM149.7 311.4h0.9v0.9h-0.9zM156.0 310.4h0.9v0.9h-0.9zM142.4 296.3h0.9v0.9h-0.9zM146.0 314.6h0.9v0.9h-0.9zM144.7 310.4h0.9v0.9h-0.9zM149.0 315.2h0.9v0.9h-0.9zM131.7 308.7h0.9v0.9h-0.9zM147.4 310.9h0.9v0.9h-0.9zM131.0 295.5h0.9v0.9h-0.9zM146.1 314.1h0.9v0.9h-0.9zM162.1 312.1h0.9v0.9h-0.9zM132.0 312.2h0.9v0.9h-0.9zM140.9 304.5h0.9v0.9h-0.9zM125.3 296.6h0.9v0.9h-0.9zM134.0 306.3h0.9v0.9h-0.9zM143.0 309.3h0.9v0.9h-0.9zM145.0 322.3h0.9v0.9h-0.9zM141.5 318.6h0.9v0.9h-0.9zM133.0 304.1h0.9v0.9h-0.9zM136.0 296.7h0.9v0.9h-0.9zM161.8 310.9h0.9v0.9h-0.9zM150.8 321.1h0.9v0.9h-0.9zM147.6 320.4h0.9v0.9h-0.9zM145.8 305.3h0.9v0.9h-0.9zM155.1 309.3h0.9v0.9h-0.9zM133.9 295.7h0.9v0.9h-0.9zM143.1 320.2h0.9v0.9h-0.9zM150.0 304.8h0.9v0.9h-0.9zM139.0 304.9h0.9v0.9h-0.9zM145.2 308.6h0.9v0.9h-0.9zM126.9 298.9h0.9v0.9h-0.9zM155.7 300.2h0.9v0.9h-0.9zM128.7 325.2h0.9v0.9h-0.9zM132.2 299.9h0.9v0.9h-0.9zM130.5 314.4h0.9v0.9h-0.9zM133.1 308.0h0.9v0.9h-0.9zM142.4 309.3h0.9v0.9h-0.9zM159.5 312.5h0.9v0.9h-0.9zM131.3 306.9h0.9v0.9h-0.9zM142.5 313.3h0.9v0.9h-0.9zM151.3 301.9h0.9v0.9h-0.9zM136.4 300.4h0.9v0.9h-0.9zM127.6 315.9h0.9v0.9h-0.9zM128.4 310.9h0.9v0.9h-0.9zM144.2 306.3h0.9v0.9h-0.9zM138.4 310.9h0.9v0.9h-0.9zM155.0 313.7h0.9v0.9h-0.9zM137.5 306.4h0.9v0.9h-0.9zM155.8 319.6h0.9v0.9h-0.9zM135.3 317.4h0.9v0.9h-0.9zM148.5 310.6h0.9v0.9h-0.9zM128.5 300.0h0.9v0.9h-0.9zM146.9 289.4h0.9v0.9h-0.9zM135.8 311.9h0.9v0.9h-0.9zM161.7 301.5h0.9v0.9h-0.9zM140.5 308.0h0.9v0.9h-0.9zM135.3 305.5h0.9v0.9h-0.9zM147.6 320.6h0.9v0.9h-0.9zM142.9 309.7h0.9v0.9h-0.9zM143.5 304.1h0.9v0.9h-0.9zM149.4 305.5h0.9v0.9h-0.9zM130.1 313.5h0.9v0.9h-0.9zM137.2 308.0h0.9v0.9h-0.9zM123.5 302.3h0.9v0.9h-0.9zM140.2 313.2h0.9v0.9h-0.9zM140.6 307.5h0.9v0.9h-0.9zM131.9 309.1h0.9v0.9h-0.9zM153.5 308.8h0.9v0.9h-0.9zM130.3 318.3h0.9v0.9h-0.9zM133.8 318.4h0.9v0.9h-0.9zM138.7 303.7h0.9v0.9h-0.9zM139.4 304.2h0.9v0.9h-0.9zM140.0 312.4h0.9v0.9h-0.9zM138.9 305.8h0.9v0.9h-0.9zM141.7 311.7h0.9v0.9h-0.9zM142.0 312.8h0.9v0.9h-0.9zM148.9 311.0h0.9v0.9h-0.9zM150.5 309.1h0.9v0.9h-0.9zM155.6 311.8h0.9v0.9h-0.9zM152.0 307.7h0.9v0.9h-0.9zM125.1 305.9h0.9v0.9h-0.9zM142.5 311.6h0.9v0.9h-0.9zM141.6 319.2h0.9v0.9h-0.9zM126.6 296.8h0.9v0.9h-0.9zM139.9 304.3h0.9v0.9h-0.9zM142.4 313.6h0.9v0.9h-0.9zM129.3 308.6h0.9v0.9h-0.9zM124.5 303.8h0.9v0.9h-0.9zM157.2 308.6h0.9v0.9h-0.9zM141.7 316.6h0.9v0.9h-0.9zM141.4 310.9h0.9v0.9h-0.9zM130.3 306.0h0.9v0.9h-0.9zM140.8 314.1h0.9v0.9h-0.9zM133.4 313.2h0.9v0.9h-0.9zM151.1 302.8h0.9v0.9h-0.9zM138.6 309.0h0.9v0.9h-0.9zM145.4 317.2h0.9v0.9h-0.9zM144.2 307.5h0.9v0.9h-0.9zM139.7 310.9h0.9v0.9h-0.9zM151.2 310.8h0.9v0.9h-0.9zM135.6 306.7h0.9v0.9h-0.9zM132.7 303.1h0.9v0.9h-0.9zM136.3 305.1h0.9v0.9h-0.9zM151.0 300.9h0.9v0.9h-0.9zM142.8 301.0h0.9v0.9h-0.9zM151.3 311.1h0.9v0.9h-0.9zM156.8 312.7h0.9v0.9h-0.9zM130.0 309.3h0.9v0.9h-0.9zM134.7 305.5h0.9v0.9h-0.9zM130.1 306.9h0.9v0.9h-0.9zM143.1 310.4h0.9v0.9h-0.9zM143.0 308.4h0.9v0.9h-0.9zM139.1 307.0h0.9v0.9h-0.9zM142.7 307.7h0.9v0.9h-0.9zM150.5 311.9h0.9v0.9h-0.9zM131.8 309.0h0.9v0.9h-0.9zM145.6 307.2h0.9v0.9h-0.9zM139.4 308.4h0.9v0.9h-0.9zM149.1 310.2h0.9v0.9h-0.9zM135.8 308.7h0.9v0.9h-0.9zM156.3 302.6h0.9v0.9h-0.9zM149.6 307.4h0.9v0.9h-0.9zM142.7 308.3h0.9v0.9h-0.9zM124.5 305.6h0.9v0.9h-0.9zM138.7 309.0h0.9v0.9h-0.9zM142.6 302.6h0.9v0.9h-0.9zM143.3 312.4h0.9v0.9h-0.9zM125.1 307.4h0.9v0.9h-0.9zM151.6 317.3h0.9v0.9h-0.9zM141.1 306.8h0.9v0.9h-0.9zM154.3 311.2h0.9v0.9h-0.9zM143.0 313.1h0.9v0.9h-0.9zM136.9 315.5h0.9v0.9h-0.9zM138.2 316.4h0.9v0.9h-0.9zM144.2 310.6h0.9v0.9h-0.9zM129.1 298.7h0.9v0.9h-0.9zM124.1 312.3h0.9v0.9h-0.9zM138.4 300.1h0.9v0.9h-0.9zM146.0 300.8h0.9v0.9h-0.9zM142.5 307.3h0.9v0.9h-0.9zM155.8 315.0h0.9v0.9h-0.9zM152.8 306.0h0.9v0.9h-0.9zM156.3 308.6h0.9v0.9h-0.9zM143.4 312.0h0.9v0.9h-0.9zM145.2 300.1h0.9v0.9h-0.9zM149.4 298.5h0.9v0.9h-0.9zM147.4 308.6h0.9v0.9h-0.9zM142.9 301.8h0.9v0.9h-0.9zM153.4 308.0h0.9v0.9h-0.9zM151.7 304.2h0.9v0.9h-0.9zM133.9 309.5h0.9v0.9h-0.9zM153.8 300.2h0.9v0.9h-0.9zM135.4 305.7h0.9v0.9h-0.9zM139.0 306.0h0.9v0.9h-0.9zM154.3 313.7h0.9v0.9h-0.9zM142.3 314.6h0.9v0.9h-0.9zM153.8 304.9h0.9v0.9h-0.9zM133.8 313.6h0.9v0.9h-0.9zM135.0 314.2h0.9v0.9h-0.9zM132.9 314.8h0.9v0.9h-0.9zM144.6 300.7h0.9v0.9h-0.9zM136.8 311.5h0.9v0.9h-0.9zM131.8 312.9h0.9v0.9h-0.9zM145.6 307.0h0.9v0.9h-0.9zM146.5 306.6h0.9v0.9h-0.9zM144.6 302.4h0.9v0.9h-0.9zM158.2 307.3h0.9v0.9h-0.9zM155.3 323.3h0.9v0.9h-0.9zM160.1 308.9h0.9v0.9h-0.9zM143.8 308.7h0.9v0.9h-0.9zM145.6 303.5h0.9v0.9h-0.9zM142.6 319.3h0.9v0.9h-0.9zM162.8 299.9h0.9v0.9h-0.9zM131.4 314.2h0.9v0.9h-0.9zM155.5 309.9h0.9v0.9h-0.9zM142.7 296.7h0.9v0.9h-0.9zM148.5 311.3h0.9v0.9h-0.9zM131.8 314.8h0.9v0.9h-0.9zM158.8 308.7h0.9v0.9h-0.9zM143.7 313.4h0.9v0.9h-0.9zM153.3 314.8h0.9v0.9h-0.9zM131.9 302.8h0.9v0.9h-0.9zM135.7 291.0h0.9v0.9h-0.9zM126.9 307.7h0.9v0.9h-0.9zM134.4 303.4h0.9v0.9h-0.9zM152.2 311.3h0.9v0.9h-0.9zM151.5 307.9h0.9v0.9h-0.9zM137.3 303.3h0.9v0.9h-0.9zM144.9 296.9h0.9v0.9h-0.9zM132.1 313.0h0.9v0.9h-0.9zM151.8 308.6h0.9v0.9h-0.9zM128.9 312.8h0.9v0.9h-0.9zM133.6 308.2h0.9v0.9h-0.9zM131.0 321.2h0.9v0.9h-0.9zM159.1 303.4h0.9v0.9h-0.9zM128.7 308.7h0.9v0.9h-0.9zM149.2 317.4h0.9v0.9h-0.9zM141.4 300.7h0.9v0.9h-0.9zM145.4 310.8h0.9v0.9h-0.9zM123.8 307.3h0.9v0.9h-0.9zM138.6 302.5h0.9v0.9h-0.9zM144.6 316.1h0.9v0.9h-0.9zM153.6 303.1h0.9v0.9h-0.9zM135.3 313.6h0.9v0.9h-0.9zM138.2 306.7h0.9v0.9h-0.9zM134.5 303.4h0.9v0.9h-0.9zM141.4 320.4h0.9v0.9h-0.9zM140.4 307.1h0.9v0.9h-0.9zM143.8 307.0h0.9v0.9h-0.9zM146.4 326.0h0.9v0.9h-0.9zM134.1 307.6h0.9v0.9h-0.9zM141.2 295.0h0.9v0.9h-0.9zM148.9 308.6h0.9v0.9h-0.9zM143.9 303.0h0.9v0.9h-0.9zM154.5 305.0h0.9v0.9h-0.9zM124.9 314.4h0.9v0.9h-0.9zM140.4 309.9h0.9v0.9h-0.9zM123.5 299.8h0.9v0.9h-0.9zM130.4 308.0h0.9v0.9h-0.9zM140.4 318.2h0.9v0.9h-0.9zM159.6 309.9h0.9v0.9h-0.9zM140.9 321.7h0.9v0.9h-0.9zM142.7 315.8h0.9v0.9h-0.9zM136.4 308.3h0.9v0.9h-0.9zM138.8 304.4h0.9v0.9h-0.9zM146.3 303.5h0.9v0.9h-0.9zM140.7 311.8h0.9v0.9h-0.9zM142.9 313.4h0.9v0.9h-0.9zM138.0 314.8h0.9v0.9h-0.9zM148.1 312.3h0.9v0.9h-0.9zM137.2 307.6h0.9v0.9h-0.9zM139.4 302.4h0.9v0.9h-0.9zM144.1 301.9h0.9v0.9h-0.9zM131.3 299.7h0.9v0.9h-0.9zM154.6 305.2h0.9v0.9h-0.9zM131.8 314.3h0.9v0.9h-0.9zM137.2 311.2h0.9v0.9h-0.9zM139.9 311.4h0.9v0.9h-0.9zM144.2 294.5h0.9v0.9h-0.9zM158.8 315.7h0.9v0.9h-0.9zM125.3 314.9h0.9v0.9h-0.9zM139.4 309.8h0.9v0.9h-0.9zM156.7 315.6h0.9v0.9h-0.9zM153.2 322.4h0.9v0.9h-0.9zM154.5 305.0h0.9v0.9h-0.9zM127.4 314.6h0.9v0.9h-0.9zM137.9 304.3h0.9v0.9h-0.9zM157.5 311.1h0.9v0.9h-0.9zM139.4 315.0h0.9v0.9h-0.9zM137.3 317.0h0.9v0.9h-0.9zM140.1 316.7h0.9v0.9h-0.9zM130.3 298.2h0.9v0.9h-0.9zM141.9 311.0h0.9v0.9h-0.9zM141.7 308.8h0.9v0.9h-0.9zM152.4 316.1h0.9v0.9h-0.9zM156.2 308.0h0.9v0.9h-0.9zM142.2 318.8h0.9v0.9h-0.9zM146.7 317.8h0.9v0.9h-0.9zM136.6 308.7h0.9v0.9h-0.9zM134.7 308.8h0.9v0.9h-0.9zM146.8 306.0h0.9v0.9h-0.9zM151.9 301.7h0.9v0.9h-0.9zM145.4 303.9h0.9v0.9h-0.9zM142.8 309.5h0.9v0.9h-0.9zM132.8 300.9h0.9v0.9h-0.9zM133.8 309.1h0.9v0.9h-0.9zM151.2 319.7h0.9v0.9h-0.9zM136.6 309.0h0.9v0.9h-0.9zM145.6 314.2h0.9v0.9h-0.9zM146.6 308.8h0.9v0.9h-0.9zM159.8 310.8h0.9v0.9h-0.9zM141.9 316.5h0.9v0.9h-0.9zM128.9 302.7h0.9v0.9h-0.9zM158.5 307.6h0.9v0.9h-0.9zM155.7 303.8h0.9v0.9h-0.9zM127.0 308.6h0.9v0.9h-0.9zM146.0 305.0h0.9v0.9h-0.9zM131.5 312.4h0.9v0.9h-0.9zM147.9 298.4h0.9v0.9h-0.9zM129.2 306.8h0.9v0.9h-0.9zM134.7 310.3h0.9v0.9h-0.9zM147.7 321.2h0.9v0.9h-0.9zM145.9 315.0h0.9v0.9h-0.9zM124.1 304.3h0.9v0.9h-0.9zM153.8 299.2h0.9v0.9h-0.9zM157.0 312.5h0.9v0.9h-0.9zM143.3 308.1h0.9v0.9h-0.9zM128.6 301.7h0.9v0.9h-0.9zM135.8 306.0h0.9v0.9h-0.9zM155.8 302.1h0.9v0.9h-0.9zM134.7 297.3h0.9v0.9h-0.9zM143.6 308.8h0.9v0.9h-0.9zM154.2 321.6h0.9v0.9h-0.9zM147.8 303.2h0.9v0.9h-0.9zM144.3 310.7h0.9v0.9h-0.9zM141.1 301.7h0.9v0.9h-0.9zM145.7 300.8h0.9v0.9h-0.9zM140.8 306.8h0.9v0.9h-0.9zM134.7 315.0h0.9v0.9h-0.9zM126.9 309.0h0.9v0.9h-0.9zM144.5 305.1h0.9v0.9h-0.9zM140.9 303.2h0.9v0.9h-0.9zM135.2 313.2h0.9v0.9h-0.9zM131.8 305.1h0.9v0.9h-0.9zM133.8 312.2h0.9v0.9h-0.9zM137.5 303.2h0.9v0.9h-0.9zM145.5 295.5h0.9v0.9h-0.9zM162.9 305.6h0.9v0.9h-0.9zM145.6 299.7h0.9v0.9h-0.9zM143.1 310.1h0.9v0.9h-0.9zM148.3 303.9h0.9v0.9h-0.9zM159.0 301.7h0.9v0.9h-0.9zM150.7 317.7h0.9v0.9h-0.9zM123.1 314.5h0.9v0.9h-0.9zM133.7 301.8h0.9v0.9h-0.9zM135.1 302.9h0.9v0.9h-0.9zM150.5 310.1h0.9v0.9h-0.9zM149.6 314.6h0.9v0.9h-0.9zM137.4 313.6h0.9v0.9h-0.9zM155.6 321.2h0.9v0.9h-0.9zM143.8 307.2h0.9v0.9h-0.9zM131.3 306.3h0.9v0.9h-0.9zM142.0 310.6h0.9v0.9h-0.9zM126.6 306.2h0.9v0.9h-0.9zM139.6 305.0h0.9v0.9h-0.9zM134.9 311.2h0.9v0.9h-0.9zM130.8 312.1h0.9v0.9h-0.9zM129.6 310.4h0.9v0.9h-0.9zM129.2 316.8h0.9v0.9h-0.9zM150.3 317.8h0.9v0.9h-0.9zM132.4 300.2h0.9v0.9h-0.9zM126.9 307.4h0.9v0.9h-0.9zM154.0 313.6h0.9v0.9h-0.9zM149.5 300.8h0.9v0.9h-0.9zM154.2 313.8h0.9v0.9h-0.9zM135.7 292.0h0.9v0.9h-0.9zM132.8 308.1h0.9v0.9h-0.9zM159.8 310.4h0.9v0.9h-0.9zM141.1 319.5h0.9v0.9h-0.9zM159.6 311.4h0.9v0.9h-0.9zM149.0 317.3h0.9v0.9h-0.9zM133.7 311.6h0.9v0.9h-0.9zM137.1 302.5h0.9v0.9h-0.9zM147.6 316.3h0.9v0.9h-0.9zM154.9 307.8h0.9v0.9h-0.9zM124.8 304.7h0.9v0.9h-0.9zM146.5 305.0h0.9v0.9h-0.9zM139.7 320.5h0.9v0.9h-0.9zM149.4 320.0h0.9v0.9h-0.9zM140.0 314.2h0.9v0.9h-0.9zM139.4 309.1h0.9v0.9h-0.9zM155.2 321.8h0.9v0.9h-0.9zM143.5 311.0h0.9v0.9h-0.9zM132.0 307.6h0.9v0.9h-0.9zM147.7 300.7h0.9v0.9h-0.9zM137.1 301.6h0.9v0.9h-0.9zM144.3 315.0h0.9v0.9h-0.9zM145.9 307.2h0.9v0.9h-0.9zM130.5 298.2h0.9v0.9h-0.9zM142.3 319.2h0.9v0.9h-0.9zM139.0 308.6h0.9v0.9h-0.9zM137.0 301.5h0.9v0.9h-0.9zM154.3 313.8h0.9v0.9h-0.9zM125.2 300.7h0.9v0.9h-0.9zM157.5 303.2h0.9v0.9h-0.9zM141.5 302.2h0.9v0.9h-0.9zM145.8 303.8h0.9v0.9h-0.9zM135.2 301.6h0.9v0.9h-0.9zM144.6 313.5h0.9v0.9h-0.9zM148.6 309.1h0.9v0.9h-0.9zM141.1 306.6h0.9v0.9h-0.9zM151.1 300.8h0.9v0.9h-0.9zM132.5 313.8h0.9v0.9h-0.9zM126.0 319.9h0.9v0.9h-0.9zM139.0 310.3h0.9v0.9h-0.9zM157.4 308.7h0.9v0.9h-0.9zM143.6 305.1h0.9v0.9h-0.9zM148.0 313.7h0.9v0.9h-0.9zM132.0 313.5h0.9v0.9h-0.9zM153.3 312.2h0.9v0.9h-0.9zM133.5 315.3h0.9v0.9h-0.9zM157.8 305.8h0.9v0.9h-0.9zM142.3 317.8h0.9v0.9h-0.9zM155.9 313.7h0.9v0.9h-0.9zM134.7 314.2h0.9v0.9h-0.9zM142.0 302.2h0.9v0.9h-0.9zM123.4 317.5h0.9v0.9h-0.9zM132.4 304.8h0.9v0.9h-0.9zM134.3 311.6h0.9v0.9h-0.9zM153.7 304.0h0.9v0.9h-0.9zM138.3 304.7h0.9v0.9h-0.9zM155.3 315.6h0.9v0.9h-0.9zM132.3 307.0h0.9v0.9h-0.9zM144.0 297.0h0.9v0.9h-0.9zM135.9 310.0h0.9v0.9h-0.9zM126.0 310.5h0.9v0.9h-0.9zM142.6 305.3h0.9v0.9h-0.9zM154.0 302.8h0.9v0.9h-0.9zM147.0 307.3h0.9v0.9h-0.9zM154.7 303.8h0.9v0.9h-0.9zM149.0 313.2h0.9v0.9h-0.9zM155.2 319.9h0.9v0.9h-0.9zM124.6 308.6h0.9v0.9h-0.9zM129.6 315.6h0.9v0.9h-0.9zM157.8 307.0h0.9v0.9h-0.9zM144.9 317.9h0.9v0.9h-0.9zM144.4 308.2h0.9v0.9h-0.9zM123.1 304.3h0.9v0.9h-0.9zM153.6 299.2h0.9v0.9h-0.9zM145.4 310.5h0.9v0.9h-0.9zM141.9 314.4h0.9v0.9h-0.9zM133.4 318.4h0.9v0.9h-0.9zM137.0 315.9h0.9v0.9h-0.9zM135.4 310.8h0.9v0.9h-0.9zM138.3 320.4h0.9v0.9h-0.9zM130.1 304.8h0.9v0.9h-0.9zM159.0 314.5h0.9v0.9h-0.9zM141.7 307.3h0.9v0.9h-0.9zM127.2 307.2h0.9v0.9h-0.9zM146.2 317.2h0.9v0.9h-0.9zM152.9 318.8h0.9v0.9h-0.9zM146.5 304.3h0.9v0.9h-0.9zM138.1 319.4h0.9v0.9h-0.9zM143.3 318.6h0.9v0.9h-0.9zM123.8 305.8h0.9v0.9h-0.9zM132.8 310.8h0.9v0.9h-0.9zM133.0 300.1h0.9v0.9h-0.9zM141.2 293.6h0.9v0.9h-0.9zM135.2 311.9h0.9v0.9h-0.9zM128.8 308.7h0.9v0.9h-0.9zM131.9 306.7h0.9v0.9h-0.9zM144.9 312.2h0.9v0.9h-0.9zM147.1 304.0h0.9v0.9h-0.9zM159.8 311.3h0.9v0.9h-0.9zM134.6 318.2h0.9v0.9h-0.9zM137.5 322.4h0.9v0.9h-0.9zM152.0 308.4h0.9v0.9h-0.9zM136.6 303.4h0.9v0.9h-0.9zM133.0 307.2h0.9v0.9h-0.9zM157.9 310.3h0.9v0.9h-0.9zM141.3 312.0h0.9v0.9h-0.9zM138.6 300.6h0.9v0.9h-0.9z" fill="#4878ff" opacity="0.3"/>
<path d="M138.5 321.7h0.9v0.9h-0.9zM152.9 306.4h0.9v0.9h-0.9zM140.6 309.9h0.9v0.9h-0.9zM142.3 321.0h0.9v0.9h-0.9zM141.1 316.3h0.9v0.9h-0.9zM144.1 314.1h0.9v0.9h-0.9zM158.4 304.3h0.9v0.9h-0.9zM145.2 306.6h0.9v0.9h-0.9zM135.9 298.6h0.9v0.9h-0.9zM154.4 307.4h0.9v0.9h-0.9zM146.1 308.7h0.9v0.9h-0.9zM157.8 301.6h0.9v0.9h-0.9zM133.5 289.5h0.9v0.9h-0.9zM158.1 314.3h0.9v0.9h-0.9zM136.3 295.0h0.9v0.9h-0.9zM154.4 297.9h0.9v0.9h-0.9zM124.6 293.8h0.9v0.9h-0.9zM127.0 317.9h0.9v0.9h-0.9zM152.1 309.7h0.9v0.9h-0.9zM134.2 308.7h0.9v0.9h-0.9zM123.6 312.2h0.9v0.9h-0.9zM129.0 305.0h0.9v0.9h-0.9zM146.8 302.0h0.9v0.9h-0.9zM125.6 303.2h0.9v0.9h-0.9zM140.1 283.2h0.9v0.9h-0.9zM135.0 320.3h0.9v0.9h-0.9zM158.7 316.1h0.9v0.9h-0.9zM140.8 310.8h0.9v0.9h-0.9zM134.2 295.6h0.9v0.9h-0.9zM147.0 317.7h0.9v0.9h-0.9zM146.2 308.8h0.9v0.9h-0.9zM154.2 311.6h0.9v0.9h-0.9zM157.8 305.6h0.9v0.9h-0.9zM154.5 302.7h0.9v0.9h-0.9zM145.3 314.8h0.9v0.9h-0.9zM153.0 307.4h0.9v0.9h-0.9zM125.6 296.2h0.9v0.9h-0.9zM151.9 303.6h0.9v0.9h-0.9zM137.4 314.3h0.9v0.9h-0.9zM128.6 308.4h0.9v0.9h-0.9zM139.1 312.9h0.9v0.9h-0.9zM154.2 307.5h0.9v0.9h-0.9zM161.8 305.1h0.9v0.9h-0.9zM136.5 309.7h0.9v0.9h-0.9zM138.3 315.3h0.9v0.9h-0.9zM153.7 303.3h0.9v0.9h-0.9zM147.5 294.6h0.9v0.9h-0.9zM137.6 321.0h0.9v0.9h-0.9zM151.2 326.4h0.9v0.9h-0.9zM135.0 318.4h0.9v0.9h-0.9zM143.6 311.6h0.9v0.9h-0.9zM145.7 315.3h0.9v0.9h-0.9zM161.0 309.6h0.9v0.9h-0.9zM147.5 308.2h0.9v0.9h-0.9zM146.2 302.5h0.9v0.9h-0.9zM156.4 314.8h0.9v0.9h-0.9zM146.8 309.0h0.9v0.9h-0.9zM132.7 301.4h0.9v0.9h-0.9zM126.3 302.7h0.9v0.9h-0.9zM155.3 312.6h0.9v0.9h-0.9zM161.3 322.7h0.9v0.9h-0.9zM154.3 326.4h0.9v0.9h-0.9zM132.5 312.8h0.9v0.9h-0.9zM133.3 327.3h0.9v0.9h-0.9zM148.6 312.7h0.9v0.9h-0.9zM147.8 303.8h0.9v0.9h-0.9zM141.8 290.8h0.9v0.9h-0.9zM136.3 301.2h0.9v0.9h-0.9zM153.9 320.3h0.9v0.9h-0.9zM146.6 301.1h0.9v0.9h-0.9zM127.2 315.5h0.9v0.9h-0.9zM139.1 307.4h0.9v0.9h-0.9zM127.5 311.5h0.9v0.9h-0.9zM145.8 316.1h0.9v0.9h-0.9zM129.6 309.3h0.9v0.9h-0.9zM143.1 306.6h0.9v0.9h-0.9zM155.8 299.2h0.9v0.9h-0.9zM151.3 311.9h0.9v0.9h-0.9zM133.1 305.1h0.9v0.9h-0.9zM156.7 309.5h0.9v0.9h-0.9zM147.7 306.8h0.9v0.9h-0.9zM155.2 315.0h0.9v0.9h-0.9zM124.7 325.6h0.9v0.9h-0.9zM158.0 316.4h0.9v0.9h-0.9zM147.9 309.2h0.9v0.9h-0.9zM155.4 330.7h0.9v0.9h-0.9zM141.9 300.8h0.9v0.9h-0.9zM142.8 310.3h0.9v0.9h-0.9zM156.8 299.7h0.9v0.9h-0.9zM136.9 307.1h0.9v0.9h-0.9zM157.0 318.7h0.9v0.9h-0.9zM146.0 318.3h0.9v0.9h-0.9zM144.7 310.5h0.9v0.9h-0.9zM127.1 313.2h0.9v0.9h-0.9zM144.0 300.8h0.9v0.9h-0.9zM143.5 308.5h0.9v0.9h-0.9zM148.3 305.0h0.9v0.9h-0.9zM132.6 319.3h0.9v0.9h-0.9zM139.0 317.6h0.9v0.9h-0.9zM130.2 307.5h0.9v0.9h-0.9zM138.1 301.5h0.9v0.9h-0.9zM152.7 298.5h0.9v0.9h-0.9zM145.9 292.1h0.9v0.9h-0.9zM152.3 309.6h0.9v0.9h-0.9zM158.5 325.6h0.9v0.9h-0.9zM132.9 309.4h0.9v0.9h-0.9zM124.3 305.6h0.9v0.9h-0.9zM143.3 309.6h0.9v0.9h-0.9zM153.6 313.3h0.9v0.9h-0.9zM156.2 303.8h0.9v0.9h-0.9zM144.5 300.9h0.9v0.9h-0.9zM140.0 287.2h0.9v0.9h-0.9zM140.9 309.6h0.9v0.9h-0.9zM135.8 305.9h0.9v0.9h-0.9zM133.9 310.9h0.9v0.9h-0.9zM148.7 305.6h0.9v0.9h-0.9zM140.3 312.0h0.9v0.9h-0.9zM129.7 317.3h0.9v0.9h-0.9zM135.5 310.9h0.9v0.9h-0.9zM158.6 319.3h0.9v0.9h-0.9zM123.4 311.7h0.9v0.9h-0.9zM132.1 305.6h0.9v0.9h-0.9zM146.1 313.4h0.9v0.9h-0.9zM138.3 302.3h0.9v0.9h-0.9zM139.4 300.9h0.9v0.9h-0.9zM150.6 310.0h0.9v0.9h-0.9zM142.3 300.8h0.9v0.9h-0.9zM135.3 306.4h0.9v0.9h-0.9zM134.6 307.2h0.9v0.9h-0.9zM143.7 305.5h0.9v0.9h-0.9zM148.3 314.9h0.9v0.9h-0.9zM134.6 314.9h0.9v0.9h-0.9zM142.9 304.6h0.9v0.9h-0.9zM148.6 317.9h0.9v0.9h-0.9zM137.6 294.5h0.9v0.9h-0.9zM152.9 317.0h0.9v0.9h-0.9zM126.5 307.9h0.9v0.9h-0.9zM148.5 290.1h0.9v0.9h-0.9zM152.9 314.7h0.9v0.9h-0.9zM153.3 320.9h0.9v0.9h-0.9zM127.3 316.5h0.9v0.9h-0.9zM136.7 314.5h0.9v0.9h-0.9zM131.8 294.3h0.9v0.9h-0.9zM146.2 310.2h0.9v0.9h-0.9zM131.6 310.8h0.9v0.9h-0.9zM154.6 316.9h0.9v0.9h-0.9zM147.6 299.0h0.9v0.9h-0.9zM137.4 290.6h0.9v0.9h-0.9zM126.8 310.1h0.9v0.9h-0.9zM149.3 308.6h0.9v0.9h-0.9zM141.4 293.1h0.9v0.9h-0.9zM123.6 299.5h0.9v0.9h-0.9zM133.3 304.0h0.9v0.9h-0.9zM127.1 303.4h0.9v0.9h-0.9zM133.8 304.0h0.9v0.9h-0.9zM134.1 292.3h0.9v0.9h-0.9zM157.8 314.1h0.9v0.9h-0.9zM150.4 309.5h0.9v0.9h-0.9zM147.9 305.8h0.9v0.9h-0.9zM141.7 298.1h0.9v0.9h-0.9zM127.0 307.0h0.9v0.9h-0.9zM131.5 322.1h0.9v0.9h-0.9zM134.3 290.5h0.9v0.9h-0.9zM142.1 308.0h0.9v0.9h-0.9zM140.8 312.4h0.9v0.9h-0.9zM127.6 309.5h0.9v0.9h-0.9zM133.7 300.5h0.9v0.9h-0.9zM160.6 304.3h0.9v0.9h-0.9zM156.6 315.2h0.9v0.9h-0.9zM131.1 293.8h0.9v0.9h-0.9zM144.0 314.0h0.9v0.9h-0.9zM157.7 311.7h0.9v0.9h-0.9zM147.3 303.5h0.9v0.9h-0.9zM131.0 334.4h0.9v0.9h-0.9zM157.3 297.9h0.9v0.9h-0.9zM145.5 312.3h0.9v0.9h-0.9zM149.2 322.0h0.9v0.9h-0.9zM136.8 304.9h0.9v0.9h-0.9zM144.5 315.5h0.9v0.9h-0.9zM126.7 307.2h0.9v0.9h-0.9zM133.1 302.4h0.9v0.9h-0.9zM134.1 323.4h0.9v0.9h-0.9zM131.4 313.5h0.9v0.9h-0.9zM137.8 305.4h0.9v0.9h-0.9zM145.0 312.5h0.9v0.9h-0.9zM139.0 308.5h0.9v0.9h-0.9zM127.0 308.3h0.9v0.9h-0.9zM151.5 309.4h0.9v0.9h-0.9zM139.0 297.0h0.9v0.9h-0.9zM157.4 299.3h0.9v0.9h-0.9zM151.0 305.8h0.9v0.9h-0.9zM152.8 317.1h0.9v0.9h-0.9zM137.0 284.2h0.9v0.9h-0.9zM128.4 311.0h0.9v0.9h-0.9zM139.5 319.6h0.9v0.9h-0.9zM138.8 315.6h0.9v0.9h-0.9zM146.7 293.1h0.9v0.9h-0.9zM155.2 323.0h0.9v0.9h-0.9zM136.7 314.9h0.9v0.9h-0.9zM148.8 306.6h0.9v0.9h-0.9zM136.3 316.8h0.9v0.9h-0.9zM132.5 304.4h0.9v0.9h-0.9zM153.5 316.3h0.9v0.9h-0.9zM138.5 322.7h0.9v0.9h-0.9zM142.0 299.0h0.9v0.9h-0.9zM141.3 319.5h0.9v0.9h-0.9zM156.1 309.8h0.9v0.9h-0.9zM127.3 307.1h0.9v0.9h-0.9zM142.7 299.5h0.9v0.9h-0.9zM133.6 320.5h0.9v0.9h-0.9zM146.2 317.8h0.9v0.9h-0.9zM141.2 304.3h0.9v0.9h-0.9zM146.0 301.4h0.9v0.9h-0.9zM146.8 306.3h0.9v0.9h-0.9zM137.5 306.6h0.9v0.9h-0.9zM128.3 319.8h0.9v0.9h-0.9zM123.8 316.1h0.9v0.9h-0.9zM138.5 310.3h0.9v0.9h-0.9zM148.3 311.7h0.9v0.9h-0.9zM144.3 311.8h0.9v0.9h-0.9zM146.6 305.1h0.9v0.9h-0.9zM137.5 306.9h0.9v0.9h-0.9zM131.6 304.5h0.9v0.9h-0.9zM160.2 297.3h0.9v0.9h-0.9zM150.4 308.8h0.9v0.9h-0.9zM139.1 313.3h0.9v0.9h-0.9zM141.2 304.5h0.9v0.9h-0.9zM157.5 309.1h0.9v0.9h-0.9zM155.3 304.2h0.9v0.9h-0.9zM132.1 291.8h0.9v0.9h-0.9zM151.8 312.2h0.9v0.9h-0.9zM134.9 311.7h0.9v0.9h-0.9zM144.4 315.9h0.9v0.9h-0.9zM141.2 299.0h0.9v0.9h-0.9zM134.8 317.7h0.9v0.9h-0.9zM133.3 310.8h0.9v0.9h-0.9zM147.7 304.4h0.9v0.9h-0.9zM142.0 294.4h0.9v0.9h-0.9zM133.6 309.1h0.9v0.9h-0.9zM150.5 319.2h0.9v0.9h-0.9zM135.0 312.6h0.9v0.9h-0.9zM139.9 302.5h0.9v0.9h-0.9zM130.7 308.3h0.9v0.9h-0.9zM141.7 302.8h0.9v0.9h-0.9zM150.9 306.6h0.9v0.9h-0.9zM136.6 310.3h0.9v0.9h-0.9zM158.3 308.3h0.9v0.9h-0.9zM127.7 321.3h0.9v0.9h-0.9zM150.8 306.7h0.9v0.9h-0.9zM138.0 306.7h0.9v0.9h-0.9zM143.8 295.1h0.9v0.9h-0.9zM143.4 303.9h0.9v0.9h-0.9zM148.3 311.4h0.9v0.9h-0.9zM126.8 319.5h0.9v0.9h-0.9zM152.1 301.5h0.9v0.9h-0.9zM126.8 303.2h0.9v0.9h-0.9zM146.3 318.8h0.9v0.9h-0.9zM128.9 302.5h0.9v0.9h-0.9zM148.7 308.3h0.9v0.9h-0.9zM140.7 307.7h0.9v0.9h-0.9zM137.0 322.6h0.9v0.9h-0.9zM155.1 306.1h0.9v0.9h-0.9zM158.9 323.7h0.9v0.9h-0.9zM148.0 311.1h0.9v0.9h-0.9zM134.6 309.7h0.9v0.9h-0.9zM144.5 319.1h0.9v0.9h-0.9zM128.3 295.7h0.9v0.9h-0.9zM134.4 311.6h0.9v0.9h-0.9zM130.1 299.7h0.9v0.9h-0.9zM143.3 317.9h0.9v0.9h-0.9zM139.0 313.8h0.9v0.9h-0.9zM141.5 303.6h0.9v0.9h-0.9zM153.7 312.0h0.9v0.9h-0.9zM127.0 292.7h0.9v0.9h-0.9zM131.4 310.2h0.9v0.9h-0.9zM152.1 304.0h0.9v0.9h-0.9zM135.9 294.2h0.9v0.9h-0.9zM134.9 309.5h0.9v0.9h-0.9zM133.1 307.7h0.9v0.9h-0.9zM127.6 301.4h0.9v0.9h-0.9zM145.0 296.2h0.9v0.9h-0.9zM141.4 318.0h0.9v0.9h-0.9zM133.3 304.6h0.9v0.9h-0.9zM129.6 298.2h0.9v0.9h-0.9zM133.0 298.4h0.9v0.9h-0.9zM137.9 304.1h0.9v0.9h-0.9zM125.3 308.7h0.9v0.9h-0.9zM154.8 314.7h0.9v0.9h-0.9zM137.0 308.2h0.9v0.9h-0.9zM126.3 306.4h0.9v0.9h-0.9zM149.9 314.3h0.9v0.9h-0.9zM159.5 296.3h0.9v0.9h-0.9zM162.4 311.3h0.9v0.9h-0.9zM162.2 308.3h0.9v0.9h-0.9zM157.8 308.1h0.9v0.9h-0.9zM126.0 310.8h0.9v0.9h-0.9zM133.7 307.9h0.9v0.9h-0.9zM147.9 314.4h0.9v0.9h-0.9zM149.7 315.9h0.9v0.9h-0.9zM129.1 309.0h0.9v0.9h-0.9zM135.0 299.1h0.9v0.9h-0.9zM152.9 300.2h0.9v0.9h-0.9zM132.9 319.8h0.9v0.9h-0.9zM153.9 304.9h0.9v0.9h-0.9zM151.5 308.1h0.9v0.9h-0.9zM133.9 313.8h0.9v0.9h-0.9zM130.9 303.9h0.9v0.9h-0.9zM143.9 299.5h0.9v0.9h-0.9zM153.6 323.5h0.9v0.9h-0.9zM157.1 303.2h0.9v0.9h-0.9zM133.5 300.4h0.9v0.9h-0.9zM140.6 316.5h0.9v0.9h-0.9zM139.7 308.1h0.9v0.9h-0.9zM124.0 306.3h0.9v0.9h-0.9zM145.8 309.2h0.9v0.9h-0.9zM151.1 320.5h0.9v0.9h-0.9zM130.9 306.3h0.9v0.9h-0.9zM141.1 316.8h0.9v0.9h-0.9zM136.5 308.4h0.9v0.9h-0.9zM147.3 304.7h0.9v0.9h-0.9zM153.4 326.9h0.9v0.9h-0.9zM135.3 300.7h0.9v0.9h-0.9zM147.7 302.5h0.9v0.9h-0.9zM149.3 311.2h0.9v0.9h-0.9zM147.1 300.8h0.9v0.9h-0.9zM157.4 307.0h0.9v0.9h-0.9zM124.4 308.3h0.9v0.9h-0.9zM143.8 309.1h0.9v0.9h-0.9zM154.6 318.3h0.9v0.9h-0.9zM158.5 288.0h0.9v0.9h-0.9zM159.3 306.8h0.9v0.9h-0.9zM149.1 313.8h0.9v0.9h-0.9zM133.0 304.2h0.9v0.9h-0.9zM139.4 306.9h0.9v0.9h-0.9zM158.7 311.6h0.9v0.9h-0.9zM144.9 293.6h0.9v0.9h-0.9z" fill="#0000d8" opacity="0.3"/>
<defs><radialGradient id="g4" cx="0.5" cy="0.5" r="0.5"><stop offset="0" stop-color="#c00000"/><stop offset="0.12" stop-color="#e00000"/><stop offset="0.22" stop-color="#ff2000"/><stop offset="0.27" stop-color="#ff6000"/><stop offset="0.31" stop-color="#ffb000"/><stop offset="0.35" stop-color="#ffe800"/><stop offset="0.39" stop-color="#d8ff18"/><stop offset="0.46" stop-color="#a8ff38"/><stop offset="0.55" stop-color="#80ff50"/><stop offset="0.61" stop-color="#60ff78"/><stop offset="0.66" stop-color="#40ffc0"/><stop offset="0.71" stop-color="#30f0f8"/><stop offset="0.77" stop-color="#20b8ff"/><stop offset="0.83" stop-color="#1078ff"/><stop offset="0.88" stop-color="#0840ff"/><stop offset="0.94" stop-color="#0010ff"/><stop offset="1" stop-color="#0008ff"/></radialGradient></defs>
<defs><filter id="fg4" x="-30%" y="-30%" width="160%" height="160%"><feGaussianBlur stdDeviation="0.7"/></filter></defs>
<path d="M108.7 319.1h0.9v0.9h-0.9zM109.0 294.4h0.9v0.9h-0.9zM109.1 320.6h0.9v0.9h-0.9zM123.9 312.1h0.9v0.9h-0.9zM119.7 327.3h0.9v0.9h-0.9zM117.8 290.2h0.9v0.9h-0.9zM123.9 304.2h0.9v0.9h-0.9zM109.1 301.9h0.9v0.9h-0.9zM124.9 313.7h0.9v0.9h-0.9zM126.1 308.6h0.9v0.9h-0.9zM107.0 310.8h0.9v0.9h-0.9zM120.2 327.8h0.9v0.9h-0.9zM123.7 318.8h0.9v0.9h-0.9zM109.3 294.2h0.9v0.9h-0.9zM110.2 324.0h0.9v0.9h-0.9zM123.2 297.2h0.9v0.9h-0.9zM123.9 301.8h0.9v0.9h-0.9zM123.4 295.5h0.9v0.9h-0.9zM124.1 310.9h0.9v0.9h-0.9zM107.4 309.9h0.9v0.9h-0.9zM122.7 322.1h0.9v0.9h-0.9zM108.3 315.9h0.9v0.9h-0.9zM107.5 303.1h0.9v0.9h-0.9zM110.3 323.4h0.9v0.9h-0.9zM116.7 290.8h0.9v0.9h-0.9zM123.0 293.5h0.9v0.9h-0.9zM110.3 295.1h0.9v0.9h-0.9zM107.5 313.1h0.9v0.9h-0.9zM119.7 290.3h0.9v0.9h-0.9zM107.8 314.9h0.9v0.9h-0.9zM125.1 293.5h0.9v0.9h-0.9zM109.1 307.7h0.9v0.9h-0.9zM109.9 291.2h0.9v0.9h-0.9zM109.3 318.4h0.9v0.9h-0.9zM107.0 304.8h0.9v0.9h-0.9zM124.3 315.8h0.9v0.9h-0.9zM124.1 303.0h0.9v0.9h-0.9zM120.5 326.4h0.9v0.9h-0.9zM107.6 304.0h0.9v0.9h-0.9zM114.3 289.2h0.9v0.9h-0.9zM113.3 325.8h0.9v0.9h-0.9zM123.5 309.9h0.9v0.9h-0.9zM107.7 308.2h0.9v0.9h-0.9zM117.5 290.3h0.9v0.9h-0.9zM108.8 319.3h0.9v0.9h-0.9zM123.1 322.1h0.9v0.9h-0.9zM119.1 327.8h0.9v0.9h-0.9zM123.7 318.1h0.9v0.9h-0.9zM122.2 308.5h0.9v0.9h-0.9zM120.9 292.6h0.9v0.9h-0.9zM114.3 325.5h0.9v0.9h-0.9zM123.4 314.6h0.9v0.9h-0.9zM106.5 304.5h0.9v0.9h-0.9zM118.4 291.2h0.9v0.9h-0.9zM110.3 291.2h0.9v0.9h-0.9zM113.7 325.3h0.9v0.9h-0.9zM109.5 315.4h0.9v0.9h-0.9zM115.0 325.8h0.9v0.9h-0.9zM124.6 315.8h0.9v0.9h-0.9zM111.6 291.4h0.9v0.9h-0.9zM110.1 290.2h0.9v0.9h-0.9zM124.8 313.1h0.9v0.9h-0.9zM108.1 307.3h0.9v0.9h-0.9zM119.6 291.3h0.9v0.9h-0.9zM111.4 324.8h0.9v0.9h-0.9zM108.7 318.6h0.9v0.9h-0.9zM107.2 315.0h0.9v0.9h-0.9zM110.9 324.9h0.9v0.9h-0.9zM118.9 327.0h0.9v0.9h-0.9zM111.4 325.2h0.9v0.9h-0.9zM123.5 316.9h0.9v0.9h-0.9zM122.5 322.3h0.9v0.9h-0.9zM107.8 308.0h0.9v0.9h-0.9zM108.5 315.3h0.9v0.9h-0.9zM111.2 290.9h0.9v0.9h-0.9zM125.2 303.6h0.9v0.9h-0.9zM125.7 297.0h0.9v0.9h-0.9zM108.8 296.3h0.9v0.9h-0.9zM110.0 295.8h0.9v0.9h-0.9zM124.2 311.4h0.9v0.9h-0.9zM122.6 293.7h0.9v0.9h-0.9zM107.4 298.6h0.9v0.9h-0.9zM122.8 298.9h0.9v0.9h-0.9zM124.9 300.3h0.9v0.9h-0.9zM108.1 295.9h0.9v0.9h-0.9zM110.5 325.7h0.9v0.9h-0.9zM109.2 298.9h0.9v0.9h-0.9zM106.9 317.7h0.9v0.9h-0.9zM107.7 311.3h0.9v0.9h-0.9zM109.0 293.6h0.9v0.9h-0.9zM113.8 289.6h0.9v0.9h-0.9zM126.7 298.9h0.9v0.9h-0.9zM123.8 309.9h0.9v0.9h-0.9zM117.5 289.5h0.9v0.9h-0.9zM104.6 294.1h0.9v0.9h-0.9zM125.6 319.9h0.9v0.9h-0.9zM108.7 299.3h0.9v0.9h-0.9zM125.1 309.9h0.9v0.9h-0.9zM121.0 289.7h0.9v0.9h-0.9zM122.8 294.6h0.9v0.9h-0.9zM119.1 291.3h0.9v0.9h-0.9zM107.1 295.8h0.9v0.9h-0.9zM115.1 326.3h0.9v0.9h-0.9zM110.5 325.5h0.9v0.9h-0.9zM108.2 300.2h0.9v0.9h-0.9zM124.0 308.2h0.9v0.9h-0.9zM114.0 289.6h0.9v0.9h-0.9zM114.4 289.0h0.9v0.9h-0.9zM124.4 317.0h0.9v0.9h-0.9zM108.1 318.4h0.9v0.9h-0.9zM110.1 289.9h0.9v0.9h-0.9zM108.0 315.1h0.9v0.9h-0.9zM122.5 290.1h0.9v0.9h-0.9zM108.7 293.4h0.9v0.9h-0.9zM116.6 290.0h0.9v0.9h-0.9zM115.0 327.0h0.9v0.9h-0.9zM109.4 293.4h0.9v0.9h-0.9zM122.3 321.7h0.9v0.9h-0.9zM109.0 302.9h0.9v0.9h-0.9zM124.7 312.8h0.9v0.9h-0.9zM106.7 302.2h0.9v0.9h-0.9zM123.3 295.2h0.9v0.9h-0.9zM109.8 325.6h0.9v0.9h-0.9zM105.4 301.1h0.9v0.9h-0.9zM124.8 296.7h0.9v0.9h-0.9zM107.8 306.4h0.9v0.9h-0.9zM108.3 307.5h0.9v0.9h-0.9zM108.6 308.3h0.9v0.9h-0.9zM124.7 310.0h0.9v0.9h-0.9zM109.4 295.7h0.9v0.9h-0.9zM124.6 298.3h0.9v0.9h-0.9zM125.0 309.3h0.9v0.9h-0.9zM125.1 300.6h0.9v0.9h-0.9zM111.3 324.9h0.9v0.9h-0.9zM115.4 327.8h0.9v0.9h-0.9zM122.5 293.2h0.9v0.9h-0.9zM125.4 316.4h0.9v0.9h-0.9zM106.2 310.0h0.9v0.9h-0.9zM116.3 326.9h0.9v0.9h-0.9zM108.1 320.6h0.9v0.9h-0.9zM108.4 313.1h0.9v0.9h-0.9zM123.9 321.3h0.9v0.9h-0.9zM108.4 322.8h0.9v0.9h-0.9zM122.0 323.0h0.9v0.9h-0.9zM121.8 292.2h0.9v0.9h-0.9zM110.8 292.5h0.9v0.9h-0.9zM122.6 320.3h0.9v0.9h-0.9zM109.0 315.3h0.9v0.9h-0.9zM107.8 309.7h0.9v0.9h-0.9zM108.9 317.8h0.9v0.9h-0.9zM124.7 314.5h0.9v0.9h-0.9zM112.8 325.0h0.9v0.9h-0.9zM123.6 315.2h0.9v0.9h-0.9zM108.6 315.7h0.9v0.9h-0.9zM124.8 301.6h0.9v0.9h-0.9zM124.3 311.1h0.9v0.9h-0.9zM107.8 322.8h0.9v0.9h-0.9zM109.1 308.1h0.9v0.9h-0.9zM107.6 316.1h0.9v0.9h-0.9zM115.5 290.2h0.9v0.9h-0.9zM115.7 290.2h0.9v0.9h-0.9zM122.4 293.4h0.9v0.9h-0.9zM123.3 299.5h0.9v0.9h-0.9zM114.9 289.9h0.9v0.9h-0.9zM108.0 302.9h0.9v0.9h-0.9zM125.0 319.7h0.9v0.9h-0.9zM109.2 293.8h0.9v0.9h-0.9zM124.7 306.4h0.9v0.9h-0.9zM124.5 315.7h0.9v0.9h-0.9zM109.1 322.0h0.9v0.9h-0.9zM108.4 317.7h0.9v0.9h-0.9zM119.0 288.9h0.9v0.9h-0.9zM124.0 301.0h0.9v0.9h-0.9zM104.0 308.1h0.9v0.9h-0.9zM124.1 312.8h0.9v0.9h-0.9zM121.9 324.6h0.9v0.9h-0.9zM108.7 299.5h0.9v0.9h-0.9zM123.5 310.2h0.9v0.9h-0.9zM111.0 292.9h0.9v0.9h-0.9zM123.0 320.9h0.9v0.9h-0.9zM121.4 292.4h0.9v0.9h-0.9zM123.2 290.9h0.9v0.9h-0.9zM123.7 301.2h0.9v0.9h-0.9zM125.5 308.8h0.9v0.9h-0.9zM120.3 289.1h0.9v0.9h-0.9zM107.7 315.8h0.9v0.9h-0.9zM109.9 298.1h0.9v0.9h-0.9zM108.4 304.5h0.9v0.9h-0.9zM116.9 325.4h0.9v0.9h-0.9zM123.3 295.1h0.9v0.9h-0.9zM108.1 296.9h0.9v0.9h-0.9zM122.0 294.7h0.9v0.9h-0.9zM108.2 305.3h0.9v0.9h-0.9zM123.9 304.2h0.9v0.9h-0.9zM124.3 304.8h0.9v0.9h-0.9zM114.5 290.4h0.9v0.9h-0.9zM113.5 327.0h0.9v0.9h-0.9zM123.5 299.6h0.9v0.9h-0.9zM122.8 300.0h0.9v0.9h-0.9zM110.5 291.3h0.9v0.9h-0.9zM117.1 289.5h0.9v0.9h-0.9zM117.8 290.5h0.9v0.9h-0.9zM108.3 299.2h0.9v0.9h-0.9zM124.5 323.9h0.9v0.9h-0.9zM107.6 302.3h0.9v0.9h-0.9zM123.5 300.3h0.9v0.9h-0.9zM125.2 315.8h0.9v0.9h-0.9zM108.4 307.4h0.9v0.9h-0.9zM109.4 321.1h0.9v0.9h-0.9zM122.1 324.5h0.9v0.9h-0.9zM115.1 326.4h0.9v0.9h-0.9zM108.4 293.2h0.9v0.9h-0.9zM108.7 301.9h0.9v0.9h-0.9zM108.4 302.6h0.9v0.9h-0.9zM110.7 324.2h0.9v0.9h-0.9zM125.6 307.3h0.9v0.9h-0.9zM123.1 299.4h0.9v0.9h-0.9zM122.0 296.9h0.9v0.9h-0.9zM119.6 289.2h0.9v0.9h-0.9zM110.3 295.0h0.9v0.9h-0.9zM107.6 296.2h0.9v0.9h-0.9zM124.3 313.0h0.9v0.9h-0.9zM125.3 314.6h0.9v0.9h-0.9zM122.9 294.7h0.9v0.9h-0.9zM123.3 315.3h0.9v0.9h-0.9zM109.1 299.7h0.9v0.9h-0.9zM123.5 299.9h0.9v0.9h-0.9zM105.5 304.7h0.9v0.9h-0.9zM123.9 297.7h0.9v0.9h-0.9zM125.7 320.5h0.9v0.9h-0.9zM117.5 326.9h0.9v0.9h-0.9zM116.0 289.8h0.9v0.9h-0.9zM107.9 311.2h0.9v0.9h-0.9zM118.1 287.6h0.9v0.9h-0.9zM124.3 303.3h0.9v0.9h-0.9zM122.4 320.8h0.9v0.9h-0.9zM107.2 308.9h0.9v0.9h-0.9zM109.4 311.1h0.9v0.9h-0.9zM123.8 304.5h0.9v0.9h-0.9zM117.7 327.6h0.9v0.9h-0.9zM126.4 295.6h0.9v0.9h-0.9zM123.3 308.4h0.9v0.9h-0.9zM123.4 303.2h0.9v0.9h-0.9zM123.8 320.9h0.9v0.9h-0.9zM123.7 309.5h0.9v0.9h-0.9zM108.9 299.1h0.9v0.9h-0.9zM125.4 304.6h0.9v0.9h-0.9zM108.4 310.5h0.9v0.9h-0.9zM106.4 303.9h0.9v0.9h-0.9zM106.7 309.2h0.9v0.9h-0.9zM107.6 301.4h0.9v0.9h-0.9zM109.2 312.0h0.9v0.9h-0.9zM124.9 310.9h0.9v0.9h-0.9zM120.6 325.1h0.9v0.9h-0.9zM107.7 318.1h0.9v0.9h-0.9zM123.0 315.1h0.9v0.9h-0.9zM107.8 321.2h0.9v0.9h-0.9zM108.0 319.9h0.9v0.9h-0.9zM118.5 326.1h0.9v0.9h-0.9zM122.9 292.5h0.9v0.9h-0.9zM124.7 305.7h0.9v0.9h-0.9zM106.4 310.3h0.9v0.9h-0.9zM123.6 305.0h0.9v0.9h-0.9zM123.0 323.0h0.9v0.9h-0.9zM119.6 291.1h0.9v0.9h-0.9zM124.9 319.8h0.9v0.9h-0.9zM107.5 306.3h0.9v0.9h-0.9zM112.4 327.2h0.9v0.9h-0.9zM106.8 307.3h0.9v0.9h-0.9zM107.5 313.3h0.9v0.9h-0.9zM124.2 311.0h0.9v0.9h-0.9zM116.9 290.3h0.9v0.9h-0.9zM106.5 313.3h0.9v0.9h-0.9zM108.4 304.4h0.9v0.9h-0.9zM113.7 326.3h0.9v0.9h-0.9zM124.7 298.4h0.9v0.9h-0.9zM108.7 319.8h0.9v0.9h-0.9zM126.5 315.7h0.9v0.9h-0.9zM116.1 289.5h0.9v0.9h-0.9zM123.2 307.8h0.9v0.9h-0.9z" fill="#2a2aff" opacity="0.5"/>
<path d="M108.60 298.00C108.90 295.38 109.10 293.55 110.00 292.30C110.90 291.05 112.50 290.80 114.00 290.50C115.50 290.20 117.63 290.17 119.00 290.50C120.37 290.83 121.45 291.25 122.20 292.50C122.95 293.75 123.28 293.75 123.50 298.00C123.72 302.25 123.72 313.67 123.50 318.00C123.28 322.33 123.03 322.70 122.20 324.00C121.37 325.30 120.03 325.50 118.50 325.80C116.97 326.10 114.45 326.18 113.00 325.80C111.55 325.42 110.55 324.97 109.80 323.50C109.05 322.03 108.77 319.58 108.50 317.00C108.23 314.42 108.18 311.17 108.20 308.00C108.22 304.83 108.30 300.62 108.60 298.00Z" fill="#0008ff" filter="url(#fg4)"/>
<path d="M108.60 298.00C108.90 295.38 109.10 293.55 110.00 292.30C110.90 291.05 112.50 290.80 114.00 290.50C115.50 290.20 117.63 290.17 119.00 290.50C120.37 290.83 121.45 291.25 122.20 292.50C122.95 293.75 123.28 293.75 123.50 298.00C123.72 302.25 123.72 313.67 123.50 318.00C123.28 322.33 123.03 322.70 122.20 324.00C121.37 325.30 120.03 325.50 118.50 325.80C116.97 326.10 114.45 326.18 113.00 325.80C111.55 325.42 110.55 324.97 109.80 323.50C109.05 322.03 108.77 319.58 108.50 317.00C108.23 314.42 108.18 311.17 108.20 308.00C108.22 304.83 108.30 300.62 108.60 298.00Z" fill="#0008ff" transform="translate(115.0 309.0) scale(0.88) translate(-115.0 -309.0)"/>
<ellipse cx="115.0" cy="309.0" rx="5.26" ry="16.38" transform="rotate(0 115.0 309.0)" fill="url(#g4)"/>
<rect x="206.0" y="280.2" width="71.60" height="71.80" fill="none" stroke="#c4c4c4" stroke-width="0.8"/>
<path d="M206.0 280.2V352.0H277.6" stroke="#777" stroke-width="0.8" fill="none"/>
<path d="M203.80 287.38H206.0M270.49 352.0V354.20M203.80 304.53H206.0M254.00 352.0V354.20M203.80 324.58H206.0M234.44 352.0V354.20M203.80 336.04H206.0M222.30 352.0V354.20M203.80 346.81H206.0M208.86 352.0V354.20M204.80 318.54H206.0M240.33 352.0V353.20M204.80 315.01H206.0M243.77 352.0V353.20M204.80 312.51H206.0M246.22 352.0V353.20M204.80 310.57H206.0M248.11 352.0V353.20M204.80 308.98H206.0M249.66 352.0V353.20M204.80 307.64H206.0M250.97 352.0V353.20M204.80 306.47H206.0M252.10 352.0V353.20M204.80 305.45H206.0M253.10 352.0V353.20M204.80 299.37H206.0M258.96 352.0V353.20M204.80 296.35H206.0M261.87 352.0V353.20M204.80 294.21H206.0M263.93 352.0V353.20M204.80 292.54H206.0M265.52 352.0V353.20M204.80 291.19H206.0M266.83 352.0V353.20M204.80 290.04H206.0M267.93 352.0V353.20M204.80 289.04H206.0M268.89 352.0V353.20M204.80 288.16H206.0M269.73 352.0V353.20" stroke="#555" stroke-width="0.6" fill="none"/>
<rect x="203.80" y="334.64" width="1.8" height="2.8" fill="#111"/>
<rect x="220.90" y="352.30" width="2.8" height="1.8" fill="#111"/>
<text x="197.20" y="290.78" font-size="6.6" text-anchor="end" fill="#333" >10</text>
<text x="197.30" y="287.78" font-size="4.8" text-anchor="start" fill="#333" >5</text>
<text x="197.20" y="307.93" font-size="6.6" text-anchor="end" fill="#333" >10</text>
<text x="197.30" y="304.93" font-size="4.8" text-anchor="start" fill="#333" >4</text>
<text x="197.20" y="327.98" font-size="6.6" text-anchor="end" fill="#333" >10</text>
<text x="197.30" y="324.98" font-size="4.8" text-anchor="start" fill="#333" >3</text>
<text x="197.10" y="338.14" font-size="6.3" text-anchor="end" fill="#333" >0</text>
<text x="197.20" y="350.21" font-size="6.6" text-anchor="end" fill="#333" >-10</text>
<text x="197.30" y="347.21" font-size="4.8" text-anchor="start" fill="#333" >3</text>
<text x="209.86" y="365.90" font-size="6.6" text-anchor="middle" fill="#333" >-10</text>
<text x="213.76" y="362.70" font-size="4.8" text-anchor="start" fill="#333" >3</text>
<text x="222.90" y="366.10" font-size="6.4" text-anchor="middle" fill="#333" >0</text>
<text x="232.64" y="365.90" font-size="6.6" text-anchor="middle" fill="#333" >10</text>
<text x="236.44" y="362.70" font-size="4.8" text-anchor="start" fill="#333" >3</text>
<text x="252.20" y="365.90" font-size="6.6" text-anchor="middle" fill="#333" >10</text>
<text x="256.00" y="362.70" font-size="4.8" text-anchor="start" fill="#333" >4</text>
<text x="268.69" y="365.90" font-size="6.6" text-anchor="middle" fill="#333" >10</text>
<text x="272.49" y="362.70" font-size="4.8" text-anchor="start" fill="#333" >5</text>
<text x="240.37" y="378.20" font-size="9.0" text-anchor="middle" fill="#1a1a1a" textLength="19.8" lengthAdjust="spacingAndGlyphs" >IL-17A</text>
<text transform="translate(182.40 317.30) rotate(-90)" font-size="10.2" text-anchor="middle" fill="#1a1a1a" textLength="13.9" lengthAdjust="spacingAndGlyphs">Treg</text>
<rect x="236.9" y="282.7" width="39.80" height="44.50" fill="none" stroke="#555" stroke-width="0.9"/>
<text x="256.60" y="336.55" font-size="5.7" text-anchor="middle" fill="#2a2a2a" >IL-17A+</text>
<text x="256.60" y="342.95" font-size="5.7" text-anchor="middle" fill="#2a2a2a" >0.012</text>
<path d="M247.0 312.4h0.9v0.9h-0.9zM253.6 308.0h0.9v0.9h-0.9zM252.8 313.0h0.9v0.9h-0.9zM257.3 300.3h0.9v0.9h-0.9zM251.1 302.3h0.9v0.9h-0.9zM252.9 305.9h0.9v0.9h-0.9zM247.8 299.5h0.9v0.9h-0.9zM252.0 289.9h0.9v0.9h-0.9zM256.2 307.1h0.9v0.9h-0.9z" fill="#7070ff" opacity="0.6"/>
<path d="M209.6 295.2h0.9v0.9h-0.9zM223.5 284.8h0.9v0.9h-0.9zM225.5 314.0h0.9v0.9h-0.9zM225.7 313.6h0.9v0.9h-0.9zM223.1 312.8h0.9v0.9h-0.9zM226.7 303.9h0.9v0.9h-0.9zM223.9 290.1h0.9v0.9h-0.9zM217.4 314.2h0.9v0.9h-0.9zM228.2 297.7h0.9v0.9h-0.9zM216.6 287.2h0.9v0.9h-0.9zM228.7 308.1h0.9v0.9h-0.9zM232.1 316.5h0.9v0.9h-0.9zM232.7 312.5h0.9v0.9h-0.9zM221.0 302.0h0.9v0.9h-0.9zM228.5 292.2h0.9v0.9h-0.9zM226.1 301.3h0.9v0.9h-0.9zM229.3 300.0h0.9v0.9h-0.9zM220.2 313.7h0.9v0.9h-0.9zM209.0 314.6h0.9v0.9h-0.9zM224.8 299.6h0.9v0.9h-0.9zM226.5 300.6h0.9v0.9h-0.9zM226.3 305.8h0.9v0.9h-0.9zM226.9 296.4h0.9v0.9h-0.9zM220.5 321.6h0.9v0.9h-0.9zM224.9 303.4h0.9v0.9h-0.9zM219.4 300.3h0.9v0.9h-0.9zM224.6 294.0h0.9v0.9h-0.9zM223.3 302.6h0.9v0.9h-0.9zM214.6 305.1h0.9v0.9h-0.9zM229.0 301.0h0.9v0.9h-0.9zM222.5 307.3h0.9v0.9h-0.9zM220.8 289.2h0.9v0.9h-0.9zM223.6 300.9h0.9v0.9h-0.9zM220.6 317.5h0.9v0.9h-0.9zM224.0 298.2h0.9v0.9h-0.9zM220.4 319.3h0.9v0.9h-0.9zM227.1 288.9h0.9v0.9h-0.9zM226.2 300.5h0.9v0.9h-0.9zM220.8 315.1h0.9v0.9h-0.9zM226.7 297.3h0.9v0.9h-0.9zM223.4 310.7h0.9v0.9h-0.9zM222.9 308.7h0.9v0.9h-0.9zM220.3 316.6h0.9v0.9h-0.9zM230.0 299.0h0.9v0.9h-0.9zM217.1 300.7h0.9v0.9h-0.9zM227.4 306.8h0.9v0.9h-0.9zM223.2 306.6h0.9v0.9h-0.9zM216.8 304.6h0.9v0.9h-0.9zM223.0 299.2h0.9v0.9h-0.9zM227.1 299.0h0.9v0.9h-0.9zM220.6 311.3h0.9v0.9h-0.9zM226.3 305.6h0.9v0.9h-0.9zM224.5 308.5h0.9v0.9h-0.9zM225.0 296.1h0.9v0.9h-0.9zM227.3 323.2h0.9v0.9h-0.9zM225.2 302.6h0.9v0.9h-0.9zM228.8 310.7h0.9v0.9h-0.9zM220.1 304.1h0.9v0.9h-0.9zM220.9 314.3h0.9v0.9h-0.9zM217.6 316.3h0.9v0.9h-0.9zM220.4 307.7h0.9v0.9h-0.9zM221.5 308.5h0.9v0.9h-0.9zM228.7 310.7h0.9v0.9h-0.9zM218.0 302.7h0.9v0.9h-0.9zM224.1 322.0h0.9v0.9h-0.9zM221.2 301.4h0.9v0.9h-0.9zM220.0 304.5h0.9v0.9h-0.9zM226.5 296.0h0.9v0.9h-0.9zM229.8 316.4h0.9v0.9h-0.9zM227.1 310.6h0.9v0.9h-0.9zM234.6 295.4h0.9v0.9h-0.9zM221.0 324.5h0.9v0.9h-0.9zM218.0 307.8h0.9v0.9h-0.9zM222.7 296.5h0.9v0.9h-0.9zM219.2 303.1h0.9v0.9h-0.9zM224.7 309.5h0.9v0.9h-0.9zM226.2 305.6h0.9v0.9h-0.9zM223.6 310.5h0.9v0.9h-0.9zM220.6 293.0h0.9v0.9h-0.9zM227.3 286.2h0.9v0.9h-0.9zM226.0 316.6h0.9v0.9h-0.9zM217.8 284.8h0.9v0.9h-0.9zM219.6 307.8h0.9v0.9h-0.9zM219.1 314.3h0.9v0.9h-0.9zM226.4 296.0h0.9v0.9h-0.9zM227.0 291.9h0.9v0.9h-0.9zM221.4 307.0h0.9v0.9h-0.9zM229.5 312.1h0.9v0.9h-0.9zM230.3 291.8h0.9v0.9h-0.9zM238.0 297.0h0.9v0.9h-0.9zM224.7 319.2h0.9v0.9h-0.9zM225.8 315.9h0.9v0.9h-0.9zM217.9 294.8h0.9v0.9h-0.9zM221.5 299.8h0.9v0.9h-0.9zM224.0 302.0h0.9v0.9h-0.9zM218.2 307.0h0.9v0.9h-0.9zM217.1 298.6h0.9v0.9h-0.9zM224.9 296.8h0.9v0.9h-0.9zM223.4 310.9h0.9v0.9h-0.9zM230.2 315.9h0.9v0.9h-0.9zM227.5 309.5h0.9v0.9h-0.9zM217.8 297.2h0.9v0.9h-0.9zM219.5 300.0h0.9v0.9h-0.9zM222.8 296.3h0.9v0.9h-0.9zM221.5 315.1h0.9v0.9h-0.9zM221.5 287.3h0.9v0.9h-0.9zM222.2 303.6h0.9v0.9h-0.9zM221.8 324.4h0.9v0.9h-0.9zM227.7 320.3h0.9v0.9h-0.9zM220.7 311.8h0.9v0.9h-0.9zM224.6 304.1h0.9v0.9h-0.9zM219.6 306.8h0.9v0.9h-0.9zM214.6 313.6h0.9v0.9h-0.9zM236.1 318.4h0.9v0.9h-0.9zM213.9 306.6h0.9v0.9h-0.9zM220.0 299.2h0.9v0.9h-0.9zM222.2 315.5h0.9v0.9h-0.9zM226.7 297.2h0.9v0.9h-0.9zM226.0 306.2h0.9v0.9h-0.9zM232.7 291.5h0.9v0.9h-0.9zM222.9 296.2h0.9v0.9h-0.9zM223.3 286.4h0.9v0.9h-0.9zM219.2 303.8h0.9v0.9h-0.9zM220.7 296.7h0.9v0.9h-0.9zM222.8 299.6h0.9v0.9h-0.9zM219.2 302.5h0.9v0.9h-0.9zM223.5 307.7h0.9v0.9h-0.9zM215.5 301.0h0.9v0.9h-0.9zM228.7 291.7h0.9v0.9h-0.9zM223.9 300.3h0.9v0.9h-0.9zM228.3 315.8h0.9v0.9h-0.9zM224.6 300.2h0.9v0.9h-0.9zM216.2 299.9h0.9v0.9h-0.9zM219.5 305.0h0.9v0.9h-0.9zM230.3 321.9h0.9v0.9h-0.9zM224.7 305.8h0.9v0.9h-0.9zM222.8 307.4h0.9v0.9h-0.9zM222.5 320.6h0.9v0.9h-0.9zM220.0 305.8h0.9v0.9h-0.9zM220.6 313.3h0.9v0.9h-0.9zM231.5 310.7h0.9v0.9h-0.9zM224.3 305.3h0.9v0.9h-0.9zM226.0 300.6h0.9v0.9h-0.9zM230.8 320.7h0.9v0.9h-0.9zM228.0 312.2h0.9v0.9h-0.9zM221.6 321.3h0.9v0.9h-0.9zM217.3 298.4h0.9v0.9h-0.9zM233.0 301.3h0.9v0.9h-0.9zM219.8 290.2h0.9v0.9h-0.9zM228.1 315.7h0.9v0.9h-0.9zM224.5 290.5h0.9v0.9h-0.9zM223.1 298.1h0.9v0.9h-0.9zM227.6 318.2h0.9v0.9h-0.9zM225.5 308.9h0.9v0.9h-0.9zM230.5 320.4h0.9v0.9h-0.9zM218.3 309.2h0.9v0.9h-0.9zM218.3 298.4h0.9v0.9h-0.9zM228.7 295.3h0.9v0.9h-0.9zM222.9 316.4h0.9v0.9h-0.9zM225.7 290.6h0.9v0.9h-0.9zM223.2 303.2h0.9v0.9h-0.9zM219.6 323.5h0.9v0.9h-0.9zM223.9 305.8h0.9v0.9h-0.9zM228.3 306.8h0.9v0.9h-0.9zM217.8 305.4h0.9v0.9h-0.9zM225.6 306.9h0.9v0.9h-0.9zM228.4 313.2h0.9v0.9h-0.9zM226.0 304.0h0.9v0.9h-0.9zM223.9 322.8h0.9v0.9h-0.9zM216.4 315.6h0.9v0.9h-0.9zM225.8 299.4h0.9v0.9h-0.9zM223.7 311.0h0.9v0.9h-0.9zM217.6 307.1h0.9v0.9h-0.9zM226.4 297.7h0.9v0.9h-0.9zM224.4 318.1h0.9v0.9h-0.9zM224.7 298.0h0.9v0.9h-0.9zM216.8 289.9h0.9v0.9h-0.9zM228.2 303.9h0.9v0.9h-0.9zM223.4 303.8h0.9v0.9h-0.9zM220.6 321.2h0.9v0.9h-0.9z" fill="#3a3aff" opacity="0.4"/>
<defs><radialGradient id="g5" cx="0.5" cy="0.5" r="0.5"><stop offset="0" stop-color="#c00000"/><stop offset="0.12" stop-color="#e00000"/><stop offset="0.22" stop-color="#ff2000"/><stop offset="0.27" stop-color="#ff6000"/><stop offset="0.31" stop-color="#ffb000"/><stop offset="0.35" stop-color="#ffe800"/><stop offset="0.39" stop-color="#d8ff18"/><stop offset="0.46" stop-color="#a8ff38"/><stop offset="0.55" stop-color="#80ff50"/><stop offset="0.61" stop-color="#60ff78"/><stop offset="0.66" stop-color="#40ffc0"/><stop offset="0.71" stop-color="#30f0f8"/><stop offset="0.77" stop-color="#20b8ff"/><stop offset="0.83" stop-color="#1078ff"/><stop offset="0.88" stop-color="#0840ff"/><stop offset="0.94" stop-color="#0010ff"/><stop offset="1" stop-color="#0008ff"/></radialGradient></defs>
<defs><filter id="fg5" x="-30%" y="-30%" width="160%" height="160%"><feGaussianBlur stdDeviation="0.5"/></filter></defs>
<path d="M219.9 301.3h0.9v0.9h-0.9zM219.3 298.3h0.9v0.9h-0.9zM227.7 295.1h0.9v0.9h-0.9zM220.1 294.1h0.9v0.9h-0.9zM226.8 308.9h0.9v0.9h-0.9zM227.0 303.6h0.9v0.9h-0.9zM222.9 290.0h0.9v0.9h-0.9zM217.6 308.0h0.9v0.9h-0.9zM229.7 304.7h0.9v0.9h-0.9zM220.5 310.7h0.9v0.9h-0.9zM229.5 302.6h0.9v0.9h-0.9zM227.3 297.1h0.9v0.9h-0.9zM228.6 303.9h0.9v0.9h-0.9zM221.6 318.0h0.9v0.9h-0.9zM226.3 306.4h0.9v0.9h-0.9zM219.0 308.4h0.9v0.9h-0.9zM227.4 312.1h0.9v0.9h-0.9zM219.9 315.5h0.9v0.9h-0.9zM228.1 306.7h0.9v0.9h-0.9zM219.2 314.6h0.9v0.9h-0.9zM226.3 314.9h0.9v0.9h-0.9zM219.1 298.2h0.9v0.9h-0.9zM222.6 320.1h0.9v0.9h-0.9zM228.7 309.4h0.9v0.9h-0.9zM221.0 318.4h0.9v0.9h-0.9zM227.5 303.7h0.9v0.9h-0.9zM221.4 320.5h0.9v0.9h-0.9zM227.7 296.8h0.9v0.9h-0.9zM219.6 297.3h0.9v0.9h-0.9zM219.8 305.9h0.9v0.9h-0.9zM226.3 295.2h0.9v0.9h-0.9zM228.4 297.4h0.9v0.9h-0.9zM226.2 317.2h0.9v0.9h-0.9zM221.7 319.7h0.9v0.9h-0.9zM226.6 303.8h0.9v0.9h-0.9zM219.6 306.0h0.9v0.9h-0.9zM224.0 290.8h0.9v0.9h-0.9zM225.2 318.1h0.9v0.9h-0.9zM227.4 309.2h0.9v0.9h-0.9zM219.9 299.6h0.9v0.9h-0.9zM220.1 313.6h0.9v0.9h-0.9zM218.7 302.2h0.9v0.9h-0.9zM218.5 309.0h0.9v0.9h-0.9zM227.0 294.7h0.9v0.9h-0.9zM227.5 303.8h0.9v0.9h-0.9zM227.8 304.2h0.9v0.9h-0.9zM223.2 291.4h0.9v0.9h-0.9zM218.6 307.6h0.9v0.9h-0.9zM220.7 306.8h0.9v0.9h-0.9zM220.5 309.8h0.9v0.9h-0.9zM219.7 295.9h0.9v0.9h-0.9zM219.5 297.0h0.9v0.9h-0.9zM219.4 306.6h0.9v0.9h-0.9zM224.8 292.1h0.9v0.9h-0.9zM227.1 300.6h0.9v0.9h-0.9zM221.7 319.6h0.9v0.9h-0.9zM226.8 312.2h0.9v0.9h-0.9zM227.8 294.4h0.9v0.9h-0.9zM220.8 315.2h0.9v0.9h-0.9zM220.8 313.7h0.9v0.9h-0.9zM226.8 293.8h0.9v0.9h-0.9zM229.2 313.6h0.9v0.9h-0.9zM219.1 303.9h0.9v0.9h-0.9zM226.7 295.2h0.9v0.9h-0.9zM222.8 291.7h0.9v0.9h-0.9zM219.1 310.4h0.9v0.9h-0.9zM219.2 298.3h0.9v0.9h-0.9zM225.9 314.6h0.9v0.9h-0.9zM219.8 295.5h0.9v0.9h-0.9zM218.1 295.0h0.9v0.9h-0.9zM227.7 304.9h0.9v0.9h-0.9zM218.4 297.7h0.9v0.9h-0.9zM227.4 308.4h0.9v0.9h-0.9zM220.4 305.1h0.9v0.9h-0.9zM219.3 302.3h0.9v0.9h-0.9zM228.9 306.4h0.9v0.9h-0.9zM220.2 310.6h0.9v0.9h-0.9zM221.5 318.4h0.9v0.9h-0.9zM224.8 318.4h0.9v0.9h-0.9zM228.0 300.2h0.9v0.9h-0.9zM218.9 311.1h0.9v0.9h-0.9zM220.1 316.2h0.9v0.9h-0.9zM226.7 306.1h0.9v0.9h-0.9zM228.9 301.7h0.9v0.9h-0.9zM226.4 292.0h0.9v0.9h-0.9zM220.4 295.6h0.9v0.9h-0.9zM226.6 311.0h0.9v0.9h-0.9zM219.6 319.2h0.9v0.9h-0.9zM226.3 316.2h0.9v0.9h-0.9zM224.2 319.7h0.9v0.9h-0.9zM227.8 300.5h0.9v0.9h-0.9zM220.5 318.1h0.9v0.9h-0.9zM221.6 292.1h0.9v0.9h-0.9zM227.2 297.2h0.9v0.9h-0.9zM227.1 293.4h0.9v0.9h-0.9zM226.6 299.5h0.9v0.9h-0.9zM220.0 310.9h0.9v0.9h-0.9zM226.8 312.4h0.9v0.9h-0.9zM220.6 314.9h0.9v0.9h-0.9zM218.6 308.5h0.9v0.9h-0.9zM227.5 309.8h0.9v0.9h-0.9zM228.0 303.5h0.9v0.9h-0.9zM220.1 292.4h0.9v0.9h-0.9zM227.4 312.5h0.9v0.9h-0.9zM220.1 304.7h0.9v0.9h-0.9zM218.9 301.9h0.9v0.9h-0.9zM221.6 316.9h0.9v0.9h-0.9zM224.7 316.5h0.9v0.9h-0.9zM218.3 302.5h0.9v0.9h-0.9zM228.7 302.5h0.9v0.9h-0.9zM227.4 302.6h0.9v0.9h-0.9zM220.1 298.9h0.9v0.9h-0.9zM220.2 310.7h0.9v0.9h-0.9zM219.5 299.6h0.9v0.9h-0.9zM218.8 315.3h0.9v0.9h-0.9zM218.0 294.2h0.9v0.9h-0.9zM224.1 319.4h0.9v0.9h-0.9zM228.1 306.3h0.9v0.9h-0.9zM227.3 300.7h0.9v0.9h-0.9zM220.3 316.1h0.9v0.9h-0.9zM220.4 306.3h0.9v0.9h-0.9zM218.9 309.7h0.9v0.9h-0.9zM218.8 306.8h0.9v0.9h-0.9zM229.0 295.9h0.9v0.9h-0.9zM227.7 310.6h0.9v0.9h-0.9zM222.4 321.1h0.9v0.9h-0.9zM220.5 296.1h0.9v0.9h-0.9zM226.5 316.2h0.9v0.9h-0.9zM219.9 292.9h0.9v0.9h-0.9zM226.9 310.9h0.9v0.9h-0.9zM227.6 302.7h0.9v0.9h-0.9zM221.0 319.8h0.9v0.9h-0.9zM227.5 310.0h0.9v0.9h-0.9zM226.7 296.4h0.9v0.9h-0.9zM225.7 291.7h0.9v0.9h-0.9zM219.1 306.9h0.9v0.9h-0.9zM219.8 292.9h0.9v0.9h-0.9zM225.0 318.3h0.9v0.9h-0.9zM226.9 315.7h0.9v0.9h-0.9zM222.5 292.0h0.9v0.9h-0.9zM226.8 305.5h0.9v0.9h-0.9zM218.7 305.0h0.9v0.9h-0.9zM218.7 304.3h0.9v0.9h-0.9zM222.0 290.3h0.9v0.9h-0.9zM219.3 302.3h0.9v0.9h-0.9zM227.0 308.5h0.9v0.9h-0.9zM224.6 322.2h0.9v0.9h-0.9zM224.7 290.5h0.9v0.9h-0.9zM227.0 317.5h0.9v0.9h-0.9zM220.4 317.4h0.9v0.9h-0.9zM227.0 305.9h0.9v0.9h-0.9zM227.0 310.2h0.9v0.9h-0.9zM220.6 314.1h0.9v0.9h-0.9zM229.2 298.9h0.9v0.9h-0.9zM228.1 306.7h0.9v0.9h-0.9zM223.8 319.1h0.9v0.9h-0.9zM220.5 300.0h0.9v0.9h-0.9zM219.5 317.5h0.9v0.9h-0.9zM229.7 300.4h0.9v0.9h-0.9zM218.1 300.9h0.9v0.9h-0.9zM227.8 299.7h0.9v0.9h-0.9zM227.0 314.9h0.9v0.9h-0.9zM228.0 298.7h0.9v0.9h-0.9zM226.6 304.0h0.9v0.9h-0.9zM217.8 309.0h0.9v0.9h-0.9zM227.0 297.1h0.9v0.9h-0.9zM217.8 301.9h0.9v0.9h-0.9zM218.8 309.4h0.9v0.9h-0.9zM219.3 299.2h0.9v0.9h-0.9zM219.1 309.6h0.9v0.9h-0.9zM227.2 310.6h0.9v0.9h-0.9zM223.4 321.7h0.9v0.9h-0.9zM226.6 307.9h0.9v0.9h-0.9zM227.9 316.6h0.9v0.9h-0.9zM221.9 320.3h0.9v0.9h-0.9zM219.1 293.1h0.9v0.9h-0.9zM225.8 316.1h0.9v0.9h-0.9zM225.1 315.2h0.9v0.9h-0.9zM220.4 318.7h0.9v0.9h-0.9zM225.9 313.3h0.9v0.9h-0.9zM219.2 294.4h0.9v0.9h-0.9zM220.1 312.9h0.9v0.9h-0.9zM219.1 306.6h0.9v0.9h-0.9zM226.2 316.8h0.9v0.9h-0.9zM219.8 304.9h0.9v0.9h-0.9zM219.7 298.5h0.9v0.9h-0.9zM219.8 293.3h0.9v0.9h-0.9zM219.6 298.6h0.9v0.9h-0.9zM226.6 307.5h0.9v0.9h-0.9zM224.7 319.8h0.9v0.9h-0.9zM220.0 296.9h0.9v0.9h-0.9zM224.7 291.0h0.9v0.9h-0.9zM218.4 295.4h0.9v0.9h-0.9zM227.1 311.0h0.9v0.9h-0.9zM224.3 319.8h0.9v0.9h-0.9zM218.8 296.9h0.9v0.9h-0.9zM217.7 302.1h0.9v0.9h-0.9zM221.5 316.7h0.9v0.9h-0.9zM225.2 318.5h0.9v0.9h-0.9zM219.6 309.8h0.9v0.9h-0.9zM228.2 303.9h0.9v0.9h-0.9zM226.0 319.9h0.9v0.9h-0.9zM222.4 320.1h0.9v0.9h-0.9zM223.8 290.8h0.9v0.9h-0.9zM228.4 303.5h0.9v0.9h-0.9zM218.8 292.7h0.9v0.9h-0.9zM227.1 306.7h0.9v0.9h-0.9zM227.0 318.0h0.9v0.9h-0.9zM222.7 291.8h0.9v0.9h-0.9zM226.0 295.1h0.9v0.9h-0.9zM226.1 293.2h0.9v0.9h-0.9zM218.6 299.8h0.9v0.9h-0.9zM220.3 292.8h0.9v0.9h-0.9zM220.4 293.8h0.9v0.9h-0.9zM226.1 307.9h0.9v0.9h-0.9zM227.7 307.9h0.9v0.9h-0.9zM218.1 312.5h0.9v0.9h-0.9zM227.5 296.4h0.9v0.9h-0.9zM223.0 292.2h0.9v0.9h-0.9zM228.3 299.6h0.9v0.9h-0.9zM219.2 308.3h0.9v0.9h-0.9zM227.6 304.9h0.9v0.9h-0.9zM222.9 320.1h0.9v0.9h-0.9zM227.0 312.8h0.9v0.9h-0.9zM219.4 304.7h0.9v0.9h-0.9zM218.8 294.5h0.9v0.9h-0.9zM226.2 317.2h0.9v0.9h-0.9zM218.8 310.3h0.9v0.9h-0.9zM219.8 310.5h0.9v0.9h-0.9zM217.4 312.0h0.9v0.9h-0.9zM227.0 306.5h0.9v0.9h-0.9zM218.4 310.1h0.9v0.9h-0.9zM223.4 319.9h0.9v0.9h-0.9zM218.4 306.6h0.9v0.9h-0.9zM219.1 303.6h0.9v0.9h-0.9zM224.7 318.0h0.9v0.9h-0.9zM220.6 292.3h0.9v0.9h-0.9zM219.6 298.3h0.9v0.9h-0.9zM226.9 296.0h0.9v0.9h-0.9zM222.3 321.1h0.9v0.9h-0.9zM220.0 295.7h0.9v0.9h-0.9zM219.6 294.2h0.9v0.9h-0.9zM219.8 305.6h0.9v0.9h-0.9zM219.5 298.1h0.9v0.9h-0.9zM227.5 300.4h0.9v0.9h-0.9zM227.0 312.6h0.9v0.9h-0.9zM219.8 294.9h0.9v0.9h-0.9zM219.7 296.0h0.9v0.9h-0.9zM222.8 292.4h0.9v0.9h-0.9zM219.3 303.5h0.9v0.9h-0.9zM227.6 292.8h0.9v0.9h-0.9zM221.0 292.5h0.9v0.9h-0.9zM227.4 315.0h0.9v0.9h-0.9zM227.2 295.0h0.9v0.9h-0.9zM220.5 300.8h0.9v0.9h-0.9zM219.4 309.6h0.9v0.9h-0.9zM220.2 312.9h0.9v0.9h-0.9zM226.9 301.0h0.9v0.9h-0.9zM222.3 320.7h0.9v0.9h-0.9zM223.4 320.9h0.9v0.9h-0.9zM219.7 293.6h0.9v0.9h-0.9zM220.1 313.3h0.9v0.9h-0.9zM218.8 297.6h0.9v0.9h-0.9zM226.9 301.5h0.9v0.9h-0.9zM219.6 304.6h0.9v0.9h-0.9zM228.0 294.8h0.9v0.9h-0.9zM221.2 293.9h0.9v0.9h-0.9zM226.3 309.5h0.9v0.9h-0.9zM226.9 318.5h0.9v0.9h-0.9zM227.5 310.5h0.9v0.9h-0.9zM227.7 299.0h0.9v0.9h-0.9zM220.6 291.4h0.9v0.9h-0.9zM226.2 308.0h0.9v0.9h-0.9zM221.2 292.1h0.9v0.9h-0.9zM227.2 296.0h0.9v0.9h-0.9zM220.6 307.2h0.9v0.9h-0.9zM219.2 310.6h0.9v0.9h-0.9zM218.8 305.3h0.9v0.9h-0.9zM227.2 310.3h0.9v0.9h-0.9zM225.2 317.1h0.9v0.9h-0.9zM219.7 299.2h0.9v0.9h-0.9zM219.3 309.8h0.9v0.9h-0.9zM224.6 291.5h0.9v0.9h-0.9zM220.7 311.1h0.9v0.9h-0.9zM228.0 298.9h0.9v0.9h-0.9zM223.2 320.8h0.9v0.9h-0.9zM218.9 294.5h0.9v0.9h-0.9zM226.7 307.9h0.9v0.9h-0.9zM226.6 307.9h0.9v0.9h-0.9zM225.1 317.3h0.9v0.9h-0.9zM228.2 308.7h0.9v0.9h-0.9zM227.3 292.2h0.9v0.9h-0.9zM219.8 304.6h0.9v0.9h-0.9zM226.2 308.7h0.9v0.9h-0.9zM222.0 290.8h0.9v0.9h-0.9zM220.8 312.4h0.9v0.9h-0.9zM220.4 312.2h0.9v0.9h-0.9zM220.3 292.3h0.9v0.9h-0.9zM224.1 291.3h0.9v0.9h-0.9zM220.0 296.0h0.9v0.9h-0.9z" fill="#2a2aff" opacity="0.5"/>
<path d="M219.60 296.50C219.82 294.83 220.17 293.28 220.80 292.50C221.43 291.72 222.53 291.83 223.40 291.80C224.27 291.77 225.35 291.60 226.00 292.30C226.65 293.00 227.10 294.22 227.30 296.00C227.50 297.78 227.32 300.67 227.20 303.00C227.08 305.33 226.83 307.75 226.60 310.00C226.37 312.25 226.13 314.90 225.80 316.50C225.47 318.10 225.07 319.02 224.60 319.60C224.13 320.18 223.52 320.05 223.00 320.00C222.48 319.95 221.92 319.97 221.50 319.30C221.08 318.63 220.78 317.63 220.50 316.00C220.22 314.37 219.97 311.75 219.80 309.50C219.63 307.25 219.53 304.67 219.50 302.50C219.47 300.33 219.38 298.17 219.60 296.50Z" fill="#0008ff" filter="url(#fg5)"/>
<path d="M219.60 296.50C219.82 294.83 220.17 293.28 220.80 292.50C221.43 291.72 222.53 291.83 223.40 291.80C224.27 291.77 225.35 291.60 226.00 292.30C226.65 293.00 227.10 294.22 227.30 296.00C227.50 297.78 227.32 300.67 227.20 303.00C227.08 305.33 226.83 307.75 226.60 310.00C226.37 312.25 226.13 314.90 225.80 316.50C225.47 318.10 225.07 319.02 224.60 319.60C224.13 320.18 223.52 320.05 223.00 320.00C222.48 319.95 221.92 319.97 221.50 319.30C221.08 318.63 220.78 317.63 220.50 316.00C220.22 314.37 219.97 311.75 219.80 309.50C219.63 307.25 219.53 304.67 219.50 302.50C219.47 300.33 219.38 298.17 219.60 296.50Z" fill="#0008ff" transform="translate(223.3 304.5) scale(0.88) translate(-223.3 -304.5)"/>
<ellipse cx="223.3" cy="304.5" rx="3.19" ry="11.77" transform="rotate(0 223.3 304.5)" fill="url(#g5)"/>
<rect x="321.0" y="279.6" width="73.20" height="72.40" fill="none" stroke="#c4c4c4" stroke-width="0.8"/>
<path d="M321.0 279.6V352.0H394.2" stroke="#777" stroke-width="0.8" fill="none"/>
<path d="M318.80 286.84H321.0M386.93 352.0V354.20M318.80 304.14H321.0M370.07 352.0V354.20M318.80 324.35H321.0M350.08 352.0V354.20M318.80 335.91H321.0M337.66 352.0V354.20M318.80 346.77H321.0M323.93 352.0V354.20M319.80 318.26H321.0M356.10 352.0V353.20M319.80 314.70H321.0M359.62 352.0V353.20M319.80 312.18H321.0M362.11 352.0V353.20M319.80 310.22H321.0M364.05 352.0V353.20M319.80 308.62H321.0M365.63 352.0V353.20M319.80 307.27H321.0M366.97 352.0V353.20M319.80 306.09H321.0M368.13 352.0V353.20M319.80 305.06H321.0M369.15 352.0V353.20M319.80 298.93H321.0M375.14 352.0V353.20M319.80 295.88H321.0M378.11 352.0V353.20M319.80 293.72H321.0M380.22 352.0V353.20M319.80 292.05H321.0M381.85 352.0V353.20M319.80 290.68H321.0M383.19 352.0V353.20M319.80 289.52H321.0M384.32 352.0V353.20M319.80 288.52H321.0M385.30 352.0V353.20M319.80 287.63H321.0M386.16 352.0V353.20" stroke="#555" stroke-width="0.6" fill="none"/>
<rect x="318.80" y="334.51" width="1.8" height="2.8" fill="#111"/>
<rect x="336.26" y="352.30" width="2.8" height="1.8" fill="#111"/>
<text x="312.20" y="291.84" font-size="6.6" text-anchor="end" fill="#333" >10</text>
<text x="312.30" y="288.84" font-size="4.8" text-anchor="start" fill="#333" >5</text>
<text x="312.20" y="309.14" font-size="6.6" text-anchor="end" fill="#333" >10</text>
<text x="312.30" y="306.14" font-size="4.8" text-anchor="start" fill="#333" >4</text>
<text x="312.20" y="329.35" font-size="6.6" text-anchor="end" fill="#333" >10</text>
<text x="312.30" y="326.35" font-size="4.8" text-anchor="start" fill="#333" >3</text>
<text x="312.10" y="339.61" font-size="6.3" text-anchor="end" fill="#333" >0</text>
<text x="312.20" y="351.77" font-size="6.6" text-anchor="end" fill="#333" >-10</text>
<text x="312.30" y="348.77" font-size="4.8" text-anchor="start" fill="#333" >3</text>
<text x="324.93" y="366.10" font-size="6.6" text-anchor="middle" fill="#333" >-10</text>
<text x="328.83" y="362.90" font-size="4.8" text-anchor="start" fill="#333" >3</text>
<text x="338.26" y="366.30" font-size="6.4" text-anchor="middle" fill="#333" >0</text>
<text x="348.28" y="366.10" font-size="6.6" text-anchor="middle" fill="#333" >10</text>
<text x="352.08" y="362.90" font-size="4.8" text-anchor="start" fill="#333" >3</text>
<text x="368.27" y="366.10" font-size="6.6" text-anchor="middle" fill="#333" >10</text>
<text x="372.07" y="362.90" font-size="4.8" text-anchor="start" fill="#333" >4</text>
<text x="385.13" y="366.10" font-size="6.6" text-anchor="middle" fill="#333" >10</text>
<text x="388.93" y="362.90" font-size="4.8" text-anchor="start" fill="#333" >5</text>
<text x="353.04" y="378.20" font-size="9.0" text-anchor="middle" fill="#1a1a1a" textLength="19.8" lengthAdjust="spacingAndGlyphs" >IL-17A</text>
<text transform="translate(298.20 313.50) rotate(-90)" font-size="10.2" text-anchor="middle" fill="#1a1a1a" textLength="13.9" lengthAdjust="spacingAndGlyphs">Treg</text>
<rect x="352.6" y="281.3" width="41.20" height="45.20" fill="none" stroke="#555" stroke-width="0.9"/>
<text x="372.20" y="335.25" font-size="5.7" text-anchor="middle" fill="#2a2a2a" >IL-17A+</text>
<text x="372.20" y="341.95" font-size="5.7" text-anchor="middle" fill="#2a2a2a" >0.39</text>
<path d="M369.5 301.8h0.9v0.9h-0.9zM368.6 309.0h0.9v0.9h-0.9zM384.4 308.4h0.9v0.9h-0.9zM365.4 308.5h0.9v0.9h-0.9zM383.9 293.3h0.9v0.9h-0.9zM376.2 301.5h0.9v0.9h-0.9zM374.0 296.8h0.9v0.9h-0.9zM361.4 304.1h0.9v0.9h-0.9zM366.9 301.7h0.9v0.9h-0.9zM363.3 307.6h0.9v0.9h-0.9zM384.2 298.8h0.9v0.9h-0.9zM375.5 302.0h0.9v0.9h-0.9zM375.4 311.9h0.9v0.9h-0.9zM375.4 304.0h0.9v0.9h-0.9zM361.5 311.9h0.9v0.9h-0.9zM390.2 292.7h0.9v0.9h-0.9zM378.9 303.7h0.9v0.9h-0.9zM359.1 315.7h0.9v0.9h-0.9zM378.3 318.0h0.9v0.9h-0.9zM364.3 301.9h0.9v0.9h-0.9zM356.7 305.2h0.9v0.9h-0.9zM354.7 302.8h0.9v0.9h-0.9zM384.9 308.2h0.9v0.9h-0.9zM382.9 305.6h0.9v0.9h-0.9zM380.8 304.0h0.9v0.9h-0.9zM359.1 307.8h0.9v0.9h-0.9zM372.0 299.8h0.9v0.9h-0.9zM360.8 312.4h0.9v0.9h-0.9zM355.0 299.5h0.9v0.9h-0.9zM376.5 308.6h0.9v0.9h-0.9zM375.1 295.2h0.9v0.9h-0.9zM384.2 304.1h0.9v0.9h-0.9zM356.9 311.6h0.9v0.9h-0.9zM371.6 293.2h0.9v0.9h-0.9zM344.2 303.7h0.9v0.9h-0.9zM365.8 306.5h0.9v0.9h-0.9zM374.2 299.8h0.9v0.9h-0.9zM377.1 306.2h0.9v0.9h-0.9zM361.3 309.7h0.9v0.9h-0.9zM374.7 303.6h0.9v0.9h-0.9zM376.3 299.7h0.9v0.9h-0.9zM364.1 304.1h0.9v0.9h-0.9zM362.5 314.3h0.9v0.9h-0.9zM375.2 309.3h0.9v0.9h-0.9zM391.8 313.9h0.9v0.9h-0.9zM390.3 302.2h0.9v0.9h-0.9zM370.6 306.2h0.9v0.9h-0.9zM373.7 304.8h0.9v0.9h-0.9zM376.2 314.6h0.9v0.9h-0.9zM349.5 295.7h0.9v0.9h-0.9zM359.0 306.8h0.9v0.9h-0.9zM374.1 307.4h0.9v0.9h-0.9zM393.2 305.2h0.9v0.9h-0.9zM357.7 307.7h0.9v0.9h-0.9zM392.4 317.5h0.9v0.9h-0.9zM372.3 306.0h0.9v0.9h-0.9zM376.5 308.8h0.9v0.9h-0.9zM371.5 302.0h0.9v0.9h-0.9zM389.6 314.7h0.9v0.9h-0.9zM373.2 301.3h0.9v0.9h-0.9zM366.4 297.8h0.9v0.9h-0.9zM359.9 303.3h0.9v0.9h-0.9zM365.3 306.8h0.9v0.9h-0.9zM367.5 299.2h0.9v0.9h-0.9zM368.9 289.2h0.9v0.9h-0.9zM376.9 303.5h0.9v0.9h-0.9zM387.7 302.2h0.9v0.9h-0.9zM371.4 299.2h0.9v0.9h-0.9zM386.0 302.9h0.9v0.9h-0.9zM379.3 299.0h0.9v0.9h-0.9zM366.4 303.1h0.9v0.9h-0.9zM363.4 309.6h0.9v0.9h-0.9zM381.9 312.5h0.9v0.9h-0.9zM363.2 301.3h0.9v0.9h-0.9zM372.4 309.0h0.9v0.9h-0.9zM359.4 303.2h0.9v0.9h-0.9zM383.8 305.5h0.9v0.9h-0.9zM371.7 297.8h0.9v0.9h-0.9zM369.2 309.3h0.9v0.9h-0.9zM383.6 294.3h0.9v0.9h-0.9zM377.0 302.5h0.9v0.9h-0.9zM362.7 316.4h0.9v0.9h-0.9zM379.8 298.0h0.9v0.9h-0.9zM361.7 305.9h0.9v0.9h-0.9zM356.8 303.5h0.9v0.9h-0.9zM377.9 296.4h0.9v0.9h-0.9zM374.4 307.4h0.9v0.9h-0.9zM365.5 307.1h0.9v0.9h-0.9zM379.5 307.4h0.9v0.9h-0.9zM365.3 310.1h0.9v0.9h-0.9zM368.9 306.0h0.9v0.9h-0.9zM373.1 304.6h0.9v0.9h-0.9zM351.0 311.2h0.9v0.9h-0.9zM377.5 305.5h0.9v0.9h-0.9zM378.9 302.0h0.9v0.9h-0.9zM370.8 307.8h0.9v0.9h-0.9zM349.4 300.0h0.9v0.9h-0.9zM366.1 302.7h0.9v0.9h-0.9zM366.7 299.7h0.9v0.9h-0.9zM375.0 309.6h0.9v0.9h-0.9zM377.2 311.1h0.9v0.9h-0.9zM377.8 313.9h0.9v0.9h-0.9zM389.3 301.7h0.9v0.9h-0.9zM363.7 300.9h0.9v0.9h-0.9zM368.7 309.2h0.9v0.9h-0.9zM377.9 306.0h0.9v0.9h-0.9zM365.3 302.0h0.9v0.9h-0.9zM370.3 306.0h0.9v0.9h-0.9zM340.3 306.2h0.9v0.9h-0.9zM377.7 300.1h0.9v0.9h-0.9zM387.6 309.5h0.9v0.9h-0.9zM379.9 294.6h0.9v0.9h-0.9zM380.9 305.6h0.9v0.9h-0.9zM374.5 290.2h0.9v0.9h-0.9zM355.8 302.7h0.9v0.9h-0.9zM358.1 312.9h0.9v0.9h-0.9zM360.4 309.3h0.9v0.9h-0.9zM376.3 322.5h0.9v0.9h-0.9zM373.0 314.1h0.9v0.9h-0.9zM367.8 297.5h0.9v0.9h-0.9zM376.3 312.8h0.9v0.9h-0.9zM366.7 311.3h0.9v0.9h-0.9zM378.8 304.8h0.9v0.9h-0.9zM374.8 305.6h0.9v0.9h-0.9zM366.1 305.7h0.9v0.9h-0.9zM377.1 300.1h0.9v0.9h-0.9zM344.6 308.8h0.9v0.9h-0.9zM365.3 308.3h0.9v0.9h-0.9zM363.4 307.2h0.9v0.9h-0.9zM370.1 302.7h0.9v0.9h-0.9zM372.0 307.0h0.9v0.9h-0.9zM353.8 312.6h0.9v0.9h-0.9zM383.5 306.8h0.9v0.9h-0.9zM355.1 310.1h0.9v0.9h-0.9zM372.6 315.2h0.9v0.9h-0.9zM367.6 303.5h0.9v0.9h-0.9zM383.1 291.2h0.9v0.9h-0.9zM368.4 303.6h0.9v0.9h-0.9zM347.8 298.8h0.9v0.9h-0.9zM375.1 306.9h0.9v0.9h-0.9zM390.4 310.8h0.9v0.9h-0.9zM358.2 309.8h0.9v0.9h-0.9zM376.7 305.5h0.9v0.9h-0.9zM360.4 316.6h0.9v0.9h-0.9zM391.5 306.7h0.9v0.9h-0.9zM363.9 297.6h0.9v0.9h-0.9zM360.6 310.5h0.9v0.9h-0.9zM354.3 312.1h0.9v0.9h-0.9zM370.8 307.1h0.9v0.9h-0.9zM380.9 320.0h0.9v0.9h-0.9zM380.6 303.8h0.9v0.9h-0.9zM376.7 305.7h0.9v0.9h-0.9zM373.1 305.5h0.9v0.9h-0.9zM362.0 306.8h0.9v0.9h-0.9zM358.1 312.0h0.9v0.9h-0.9zM368.7 297.4h0.9v0.9h-0.9zM379.8 309.2h0.9v0.9h-0.9zM373.9 295.2h0.9v0.9h-0.9zM358.7 308.3h0.9v0.9h-0.9zM376.0 308.6h0.9v0.9h-0.9zM363.5 311.9h0.9v0.9h-0.9zM366.1 305.1h0.9v0.9h-0.9zM364.1 297.2h0.9v0.9h-0.9zM364.5 299.0h0.9v0.9h-0.9zM368.5 314.7h0.9v0.9h-0.9zM376.0 301.3h0.9v0.9h-0.9zM377.3 301.3h0.9v0.9h-0.9zM385.0 310.0h0.9v0.9h-0.9zM369.0 304.6h0.9v0.9h-0.9zM373.7 298.5h0.9v0.9h-0.9zM360.5 304.1h0.9v0.9h-0.9zM363.2 304.8h0.9v0.9h-0.9zM382.0 303.5h0.9v0.9h-0.9zM379.2 316.1h0.9v0.9h-0.9zM368.3 314.1h0.9v0.9h-0.9zM364.1 297.7h0.9v0.9h-0.9zM374.9 304.0h0.9v0.9h-0.9zM357.2 313.2h0.9v0.9h-0.9zM382.2 298.8h0.9v0.9h-0.9zM370.9 304.5h0.9v0.9h-0.9zM359.6 307.1h0.9v0.9h-0.9zM358.4 294.0h0.9v0.9h-0.9zM388.5 301.0h0.9v0.9h-0.9zM364.8 303.6h0.9v0.9h-0.9zM365.2 318.6h0.9v0.9h-0.9zM377.9 310.3h0.9v0.9h-0.9zM382.6 318.5h0.9v0.9h-0.9zM348.9 309.9h0.9v0.9h-0.9zM374.9 305.5h0.9v0.9h-0.9zM385.6 309.0h0.9v0.9h-0.9zM354.4 306.6h0.9v0.9h-0.9zM371.2 312.1h0.9v0.9h-0.9zM350.6 309.1h0.9v0.9h-0.9zM374.6 309.2h0.9v0.9h-0.9zM377.2 291.7h0.9v0.9h-0.9zM380.5 304.8h0.9v0.9h-0.9zM364.5 311.0h0.9v0.9h-0.9zM372.5 315.5h0.9v0.9h-0.9zM384.6 297.9h0.9v0.9h-0.9zM381.4 305.0h0.9v0.9h-0.9zM372.7 304.1h0.9v0.9h-0.9zM384.0 299.9h0.9v0.9h-0.9zM377.7 295.2h0.9v0.9h-0.9zM376.5 296.9h0.9v0.9h-0.9zM359.3 304.7h0.9v0.9h-0.9zM360.9 312.0h0.9v0.9h-0.9zM361.1 315.2h0.9v0.9h-0.9zM381.9 305.6h0.9v0.9h-0.9zM379.8 306.3h0.9v0.9h-0.9zM366.7 307.5h0.9v0.9h-0.9zM369.4 304.6h0.9v0.9h-0.9zM366.7 301.6h0.9v0.9h-0.9zM382.1 304.7h0.9v0.9h-0.9zM381.3 303.1h0.9v0.9h-0.9zM372.1 302.0h0.9v0.9h-0.9zM387.0 315.5h0.9v0.9h-0.9zM372.1 310.8h0.9v0.9h-0.9zM357.5 296.9h0.9v0.9h-0.9zM381.0 293.9h0.9v0.9h-0.9zM391.9 304.5h0.9v0.9h-0.9zM358.5 299.4h0.9v0.9h-0.9zM363.7 310.5h0.9v0.9h-0.9zM361.9 299.9h0.9v0.9h-0.9zM390.2 297.3h0.9v0.9h-0.9zM366.3 313.9h0.9v0.9h-0.9zM346.9 300.6h0.9v0.9h-0.9zM375.5 304.8h0.9v0.9h-0.9zM367.1 296.8h0.9v0.9h-0.9zM382.4 301.8h0.9v0.9h-0.9zM366.1 305.4h0.9v0.9h-0.9zM389.1 306.3h0.9v0.9h-0.9zM379.9 291.3h0.9v0.9h-0.9zM366.1 305.0h0.9v0.9h-0.9zM365.6 300.1h0.9v0.9h-0.9zM367.2 298.9h0.9v0.9h-0.9zM367.4 305.7h0.9v0.9h-0.9zM377.4 298.2h0.9v0.9h-0.9zM371.0 300.0h0.9v0.9h-0.9zM383.3 316.4h0.9v0.9h-0.9zM375.5 307.9h0.9v0.9h-0.9zM370.4 308.4h0.9v0.9h-0.9zM371.1 297.0h0.9v0.9h-0.9zM387.0 319.8h0.9v0.9h-0.9zM380.3 305.2h0.9v0.9h-0.9zM378.6 316.2h0.9v0.9h-0.9zM368.3 310.1h0.9v0.9h-0.9zM375.4 291.2h0.9v0.9h-0.9zM369.6 309.0h0.9v0.9h-0.9zM377.4 304.5h0.9v0.9h-0.9zM359.8 307.0h0.9v0.9h-0.9zM375.5 308.8h0.9v0.9h-0.9zM393.3 305.6h0.9v0.9h-0.9zM385.6 308.5h0.9v0.9h-0.9zM360.3 308.5h0.9v0.9h-0.9zM372.2 313.9h0.9v0.9h-0.9zM382.7 310.8h0.9v0.9h-0.9zM365.2 305.3h0.9v0.9h-0.9zM383.2 301.8h0.9v0.9h-0.9zM374.1 313.5h0.9v0.9h-0.9zM373.5 307.1h0.9v0.9h-0.9zM387.4 308.5h0.9v0.9h-0.9zM357.9 306.4h0.9v0.9h-0.9zM374.3 307.8h0.9v0.9h-0.9zM375.7 301.3h0.9v0.9h-0.9zM383.4 306.9h0.9v0.9h-0.9zM388.5 307.7h0.9v0.9h-0.9zM385.1 300.4h0.9v0.9h-0.9zM372.1 306.0h0.9v0.9h-0.9zM365.0 308.2h0.9v0.9h-0.9zM369.9 303.2h0.9v0.9h-0.9zM366.3 305.0h0.9v0.9h-0.9zM356.0 311.4h0.9v0.9h-0.9zM378.5 309.3h0.9v0.9h-0.9zM387.8 307.4h0.9v0.9h-0.9zM370.7 314.2h0.9v0.9h-0.9zM369.7 306.6h0.9v0.9h-0.9zM350.1 302.0h0.9v0.9h-0.9zM373.6 309.8h0.9v0.9h-0.9zM379.6 311.8h0.9v0.9h-0.9zM367.6 301.8h0.9v0.9h-0.9zM376.1 300.2h0.9v0.9h-0.9zM369.3 305.8h0.9v0.9h-0.9zM351.7 295.0h0.9v0.9h-0.9zM378.1 300.6h0.9v0.9h-0.9zM381.8 302.1h0.9v0.9h-0.9zM362.1 309.3h0.9v0.9h-0.9zM370.6 307.6h0.9v0.9h-0.9zM366.0 300.0h0.9v0.9h-0.9zM369.7 300.1h0.9v0.9h-0.9zM371.3 298.6h0.9v0.9h-0.9zM377.1 310.2h0.9v0.9h-0.9zM378.4 296.9h0.9v0.9h-0.9zM386.7 293.8h0.9v0.9h-0.9zM375.5 305.8h0.9v0.9h-0.9zM381.6 300.7h0.9v0.9h-0.9zM367.7 312.6h0.9v0.9h-0.9zM385.6 298.5h0.9v0.9h-0.9zM370.1 300.0h0.9v0.9h-0.9zM344.7 312.5h0.9v0.9h-0.9zM366.0 305.5h0.9v0.9h-0.9zM375.9 296.7h0.9v0.9h-0.9zM383.1 300.8h0.9v0.9h-0.9zM357.2 307.3h0.9v0.9h-0.9zM375.0 301.6h0.9v0.9h-0.9zM372.5 316.1h0.9v0.9h-0.9zM380.8 305.2h0.9v0.9h-0.9zM369.2 317.0h0.9v0.9h-0.9zM368.4 292.4h0.9v0.9h-0.9zM386.6 301.9h0.9v0.9h-0.9zM349.3 296.0h0.9v0.9h-0.9zM358.2 290.8h0.9v0.9h-0.9zM364.8 301.2h0.9v0.9h-0.9zM391.1 304.5h0.9v0.9h-0.9zM366.7 304.0h0.9v0.9h-0.9zM375.2 311.5h0.9v0.9h-0.9zM387.5 292.4h0.9v0.9h-0.9zM356.9 304.9h0.9v0.9h-0.9zM385.1 301.4h0.9v0.9h-0.9zM366.9 303.4h0.9v0.9h-0.9zM388.4 302.0h0.9v0.9h-0.9zM373.9 307.2h0.9v0.9h-0.9zM383.2 305.5h0.9v0.9h-0.9zM383.0 316.1h0.9v0.9h-0.9zM381.9 302.7h0.9v0.9h-0.9zM371.7 306.9h0.9v0.9h-0.9zM370.3 297.9h0.9v0.9h-0.9zM363.0 301.5h0.9v0.9h-0.9zM351.6 324.1h0.9v0.9h-0.9zM382.7 301.5h0.9v0.9h-0.9zM365.1 313.1h0.9v0.9h-0.9zM357.7 298.5h0.9v0.9h-0.9zM384.7 304.6h0.9v0.9h-0.9zM381.8 305.9h0.9v0.9h-0.9zM373.3 301.0h0.9v0.9h-0.9zM378.6 306.7h0.9v0.9h-0.9zM375.8 302.4h0.9v0.9h-0.9zM386.5 305.6h0.9v0.9h-0.9zM379.9 297.6h0.9v0.9h-0.9zM355.1 309.9h0.9v0.9h-0.9zM366.1 299.7h0.9v0.9h-0.9zM377.3 313.8h0.9v0.9h-0.9zM370.2 303.3h0.9v0.9h-0.9zM378.2 308.7h0.9v0.9h-0.9zM374.0 293.4h0.9v0.9h-0.9zM381.8 300.1h0.9v0.9h-0.9zM375.7 304.8h0.9v0.9h-0.9zM375.5 321.5h0.9v0.9h-0.9zM370.5 311.9h0.9v0.9h-0.9zM373.4 302.9h0.9v0.9h-0.9zM381.8 307.4h0.9v0.9h-0.9zM371.3 298.9h0.9v0.9h-0.9zM378.0 327.4h0.9v0.9h-0.9zM371.9 309.3h0.9v0.9h-0.9zM367.0 327.8h0.9v0.9h-0.9zM357.7 301.4h0.9v0.9h-0.9zM352.7 309.7h0.9v0.9h-0.9zM375.1 308.0h0.9v0.9h-0.9zM373.3 315.4h0.9v0.9h-0.9zM388.6 312.9h0.9v0.9h-0.9zM343.7 299.3h0.9v0.9h-0.9zM374.6 311.0h0.9v0.9h-0.9zM343.1 315.6h0.9v0.9h-0.9zM377.1 315.7h0.9v0.9h-0.9zM360.5 300.2h0.9v0.9h-0.9zM361.9 301.2h0.9v0.9h-0.9zM364.8 293.8h0.9v0.9h-0.9zM387.7 308.8h0.9v0.9h-0.9zM364.3 291.8h0.9v0.9h-0.9zM386.2 290.3h0.9v0.9h-0.9zM361.1 296.9h0.9v0.9h-0.9zM365.1 308.2h0.9v0.9h-0.9zM382.8 307.2h0.9v0.9h-0.9zM360.3 313.6h0.9v0.9h-0.9zM386.4 310.2h0.9v0.9h-0.9zM364.7 300.0h0.9v0.9h-0.9zM366.3 309.3h0.9v0.9h-0.9zM375.5 302.5h0.9v0.9h-0.9zM386.0 304.6h0.9v0.9h-0.9zM366.9 301.0h0.9v0.9h-0.9zM358.7 303.6h0.9v0.9h-0.9zM363.5 304.3h0.9v0.9h-0.9zM377.2 308.0h0.9v0.9h-0.9zM368.0 317.4h0.9v0.9h-0.9zM360.3 309.6h0.9v0.9h-0.9zM373.3 306.9h0.9v0.9h-0.9zM365.5 299.9h0.9v0.9h-0.9zM380.1 293.7h0.9v0.9h-0.9zM374.5 295.4h0.9v0.9h-0.9zM352.7 305.4h0.9v0.9h-0.9zM366.7 317.6h0.9v0.9h-0.9zM353.5 305.9h0.9v0.9h-0.9zM374.1 306.1h0.9v0.9h-0.9zM367.7 294.4h0.9v0.9h-0.9zM381.0 309.8h0.9v0.9h-0.9zM377.2 306.8h0.9v0.9h-0.9zM386.2 311.4h0.9v0.9h-0.9zM380.6 300.9h0.9v0.9h-0.9zM384.2 299.3h0.9v0.9h-0.9zM377.3 298.5h0.9v0.9h-0.9zM371.2 310.1h0.9v0.9h-0.9zM369.6 311.2h0.9v0.9h-0.9zM367.7 315.9h0.9v0.9h-0.9zM371.3 322.0h0.9v0.9h-0.9zM380.9 304.7h0.9v0.9h-0.9zM360.6 302.3h0.9v0.9h-0.9zM355.7 306.9h0.9v0.9h-0.9zM386.9 302.5h0.9v0.9h-0.9zM363.5 303.5h0.9v0.9h-0.9zM370.6 312.3h0.9v0.9h-0.9zM363.9 297.2h0.9v0.9h-0.9zM353.8 304.5h0.9v0.9h-0.9zM355.7 309.6h0.9v0.9h-0.9zM370.4 300.4h0.9v0.9h-0.9zM388.8 293.6h0.9v0.9h-0.9zM382.9 305.7h0.9v0.9h-0.9zM375.8 304.9h0.9v0.9h-0.9zM360.4 308.9h0.9v0.9h-0.9zM386.1 291.7h0.9v0.9h-0.9zM374.0 304.2h0.9v0.9h-0.9zM369.6 307.6h0.9v0.9h-0.9zM370.7 302.3h0.9v0.9h-0.9zM386.1 298.6h0.9v0.9h-0.9zM368.3 302.1h0.9v0.9h-0.9zM363.9 301.5h0.9v0.9h-0.9zM388.3 299.4h0.9v0.9h-0.9zM345.9 300.3h0.9v0.9h-0.9zM358.7 313.0h0.9v0.9h-0.9zM377.8 297.8h0.9v0.9h-0.9zM370.4 302.8h0.9v0.9h-0.9zM375.6 308.3h0.9v0.9h-0.9zM375.2 304.8h0.9v0.9h-0.9zM363.1 305.4h0.9v0.9h-0.9zM375.0 296.0h0.9v0.9h-0.9zM373.5 296.6h0.9v0.9h-0.9zM354.0 304.3h0.9v0.9h-0.9zM378.4 310.9h0.9v0.9h-0.9zM366.4 295.2h0.9v0.9h-0.9zM362.7 303.1h0.9v0.9h-0.9zM371.3 307.8h0.9v0.9h-0.9zM370.6 311.7h0.9v0.9h-0.9zM365.5 307.8h0.9v0.9h-0.9zM379.7 307.3h0.9v0.9h-0.9zM378.5 297.6h0.9v0.9h-0.9zM382.4 301.4h0.9v0.9h-0.9zM370.6 298.1h0.9v0.9h-0.9zM376.7 301.9h0.9v0.9h-0.9zM365.1 309.3h0.9v0.9h-0.9zM364.2 307.2h0.9v0.9h-0.9zM374.7 308.3h0.9v0.9h-0.9zM373.2 296.9h0.9v0.9h-0.9zM374.3 307.3h0.9v0.9h-0.9zM382.5 311.3h0.9v0.9h-0.9zM344.3 301.4h0.9v0.9h-0.9zM360.7 308.8h0.9v0.9h-0.9zM378.8 308.5h0.9v0.9h-0.9zM379.3 307.3h0.9v0.9h-0.9zM371.6 301.1h0.9v0.9h-0.9zM380.7 305.0h0.9v0.9h-0.9zM384.7 302.0h0.9v0.9h-0.9zM369.8 299.8h0.9v0.9h-0.9zM380.2 299.5h0.9v0.9h-0.9zM346.6 299.6h0.9v0.9h-0.9zM365.2 304.9h0.9v0.9h-0.9zM368.9 313.2h0.9v0.9h-0.9zM376.5 311.3h0.9v0.9h-0.9zM388.4 311.8h0.9v0.9h-0.9zM383.2 301.9h0.9v0.9h-0.9zM377.9 304.3h0.9v0.9h-0.9zM381.6 301.2h0.9v0.9h-0.9zM380.4 301.7h0.9v0.9h-0.9zM381.3 313.1h0.9v0.9h-0.9zM386.7 302.4h0.9v0.9h-0.9zM387.8 293.8h0.9v0.9h-0.9zM375.0 295.7h0.9v0.9h-0.9zM373.3 297.3h0.9v0.9h-0.9zM372.6 300.4h0.9v0.9h-0.9zM387.2 319.3h0.9v0.9h-0.9zM382.8 311.9h0.9v0.9h-0.9zM378.4 304.6h0.9v0.9h-0.9zM370.8 297.5h0.9v0.9h-0.9zM364.5 310.4h0.9v0.9h-0.9zM368.7 307.7h0.9v0.9h-0.9zM363.4 320.2h0.9v0.9h-0.9zM388.4 304.6h0.9v0.9h-0.9zM385.6 304.2h0.9v0.9h-0.9zM368.4 314.6h0.9v0.9h-0.9zM381.6 310.7h0.9v0.9h-0.9zM384.6 306.1h0.9v0.9h-0.9zM368.4 307.8h0.9v0.9h-0.9zM354.0 305.9h0.9v0.9h-0.9zM386.0 303.8h0.9v0.9h-0.9zM362.0 309.1h0.9v0.9h-0.9zM371.6 309.3h0.9v0.9h-0.9zM366.4 308.9h0.9v0.9h-0.9zM374.8 307.0h0.9v0.9h-0.9zM384.0 300.3h0.9v0.9h-0.9zM371.7 312.5h0.9v0.9h-0.9zM387.0 310.0h0.9v0.9h-0.9zM361.2 306.6h0.9v0.9h-0.9zM369.0 303.2h0.9v0.9h-0.9z" fill="#4a5aaa" opacity="0.45"/>
<path d="M339.5 290.6h0.9v0.9h-0.9zM352.2 311.0h0.9v0.9h-0.9zM339.9 302.8h0.9v0.9h-0.9zM347.5 301.2h0.9v0.9h-0.9zM349.7 302.5h0.9v0.9h-0.9zM340.2 302.3h0.9v0.9h-0.9zM349.4 298.8h0.9v0.9h-0.9zM350.9 312.6h0.9v0.9h-0.9zM350.2 309.2h0.9v0.9h-0.9zM346.7 309.0h0.9v0.9h-0.9zM343.5 288.8h0.9v0.9h-0.9zM343.6 315.4h0.9v0.9h-0.9zM352.3 297.7h0.9v0.9h-0.9zM346.0 300.1h0.9v0.9h-0.9zM341.2 302.8h0.9v0.9h-0.9zM351.0 305.5h0.9v0.9h-0.9zM345.8 289.9h0.9v0.9h-0.9zM358.0 296.9h0.9v0.9h-0.9zM347.2 310.8h0.9v0.9h-0.9zM347.9 310.9h0.9v0.9h-0.9zM335.4 298.9h0.9v0.9h-0.9zM343.6 295.6h0.9v0.9h-0.9zM339.1 311.1h0.9v0.9h-0.9zM340.6 312.7h0.9v0.9h-0.9zM351.5 302.6h0.9v0.9h-0.9zM340.0 300.9h0.9v0.9h-0.9zM343.4 300.4h0.9v0.9h-0.9zM343.1 305.3h0.9v0.9h-0.9zM345.5 304.6h0.9v0.9h-0.9zM346.8 313.5h0.9v0.9h-0.9zM357.0 305.1h0.9v0.9h-0.9zM346.6 303.8h0.9v0.9h-0.9zM351.8 309.8h0.9v0.9h-0.9zM347.5 304.0h0.9v0.9h-0.9zM349.8 312.3h0.9v0.9h-0.9zM344.8 308.0h0.9v0.9h-0.9zM338.0 300.3h0.9v0.9h-0.9zM349.4 294.0h0.9v0.9h-0.9zM339.5 306.7h0.9v0.9h-0.9zM337.2 302.7h0.9v0.9h-0.9zM357.4 307.4h0.9v0.9h-0.9zM355.7 315.9h0.9v0.9h-0.9zM343.2 303.6h0.9v0.9h-0.9zM348.9 312.7h0.9v0.9h-0.9zM354.2 310.4h0.9v0.9h-0.9zM348.7 297.7h0.9v0.9h-0.9zM352.2 301.0h0.9v0.9h-0.9zM351.9 314.4h0.9v0.9h-0.9zM339.8 319.1h0.9v0.9h-0.9zM346.1 312.6h0.9v0.9h-0.9zM351.7 318.0h0.9v0.9h-0.9zM353.0 316.5h0.9v0.9h-0.9zM351.2 299.6h0.9v0.9h-0.9zM346.1 309.9h0.9v0.9h-0.9zM351.8 306.1h0.9v0.9h-0.9zM343.5 296.3h0.9v0.9h-0.9zM347.5 326.1h0.9v0.9h-0.9zM346.5 301.7h0.9v0.9h-0.9zM350.1 310.2h0.9v0.9h-0.9zM347.7 291.1h0.9v0.9h-0.9zM343.7 300.7h0.9v0.9h-0.9zM350.2 300.7h0.9v0.9h-0.9zM345.9 297.4h0.9v0.9h-0.9zM344.3 320.6h0.9v0.9h-0.9zM351.2 308.1h0.9v0.9h-0.9zM342.9 296.6h0.9v0.9h-0.9zM352.2 305.1h0.9v0.9h-0.9zM350.1 307.2h0.9v0.9h-0.9zM347.7 287.8h0.9v0.9h-0.9zM351.6 317.5h0.9v0.9h-0.9zM347.5 304.0h0.9v0.9h-0.9zM348.2 303.4h0.9v0.9h-0.9zM338.0 302.7h0.9v0.9h-0.9zM347.1 312.6h0.9v0.9h-0.9zM342.2 303.0h0.9v0.9h-0.9zM347.2 308.5h0.9v0.9h-0.9zM356.8 309.7h0.9v0.9h-0.9zM350.4 296.8h0.9v0.9h-0.9zM355.2 293.2h0.9v0.9h-0.9zM353.9 311.3h0.9v0.9h-0.9zM347.7 297.8h0.9v0.9h-0.9zM349.9 301.9h0.9v0.9h-0.9zM353.9 284.7h0.9v0.9h-0.9zM347.6 286.9h0.9v0.9h-0.9zM347.5 303.1h0.9v0.9h-0.9zM351.4 297.2h0.9v0.9h-0.9zM342.2 290.1h0.9v0.9h-0.9zM344.9 306.4h0.9v0.9h-0.9zM345.9 298.3h0.9v0.9h-0.9zM346.0 309.1h0.9v0.9h-0.9zM348.6 291.4h0.9v0.9h-0.9zM344.6 298.9h0.9v0.9h-0.9zM333.2 309.3h0.9v0.9h-0.9zM348.7 297.8h0.9v0.9h-0.9zM349.7 306.8h0.9v0.9h-0.9zM344.7 307.3h0.9v0.9h-0.9zM346.0 300.3h0.9v0.9h-0.9zM352.3 294.1h0.9v0.9h-0.9zM356.6 306.9h0.9v0.9h-0.9zM345.0 308.1h0.9v0.9h-0.9zM342.4 302.3h0.9v0.9h-0.9zM357.1 308.4h0.9v0.9h-0.9zM346.3 304.0h0.9v0.9h-0.9zM351.7 311.6h0.9v0.9h-0.9zM345.5 313.5h0.9v0.9h-0.9zM347.0 304.8h0.9v0.9h-0.9zM350.9 300.0h0.9v0.9h-0.9zM339.3 304.1h0.9v0.9h-0.9zM351.5 303.1h0.9v0.9h-0.9zM351.5 313.7h0.9v0.9h-0.9zM345.4 305.2h0.9v0.9h-0.9zM346.4 309.8h0.9v0.9h-0.9zM349.6 306.5h0.9v0.9h-0.9zM354.0 308.0h0.9v0.9h-0.9zM348.6 300.1h0.9v0.9h-0.9zM347.5 314.6h0.9v0.9h-0.9zM350.7 306.1h0.9v0.9h-0.9zM346.7 298.8h0.9v0.9h-0.9zM343.6 312.5h0.9v0.9h-0.9zM347.3 305.9h0.9v0.9h-0.9zM353.6 302.4h0.9v0.9h-0.9zM344.8 315.3h0.9v0.9h-0.9zM350.4 294.2h0.9v0.9h-0.9zM347.2 299.9h0.9v0.9h-0.9zM344.7 303.7h0.9v0.9h-0.9zM339.1 300.3h0.9v0.9h-0.9zM356.3 303.9h0.9v0.9h-0.9zM344.9 312.1h0.9v0.9h-0.9zM340.4 303.7h0.9v0.9h-0.9zM353.7 305.4h0.9v0.9h-0.9zM348.9 303.8h0.9v0.9h-0.9zM349.0 310.3h0.9v0.9h-0.9zM346.4 306.1h0.9v0.9h-0.9zM348.5 292.1h0.9v0.9h-0.9zM351.8 318.1h0.9v0.9h-0.9zM351.4 307.1h0.9v0.9h-0.9zM345.5 308.0h0.9v0.9h-0.9zM357.1 315.8h0.9v0.9h-0.9zM343.9 316.1h0.9v0.9h-0.9zM343.9 301.0h0.9v0.9h-0.9zM346.6 309.8h0.9v0.9h-0.9zM346.2 312.4h0.9v0.9h-0.9zM348.9 316.5h0.9v0.9h-0.9zM340.5 306.3h0.9v0.9h-0.9zM350.7 316.2h0.9v0.9h-0.9zM337.0 303.9h0.9v0.9h-0.9zM337.6 308.6h0.9v0.9h-0.9zM344.6 307.8h0.9v0.9h-0.9zM352.4 311.6h0.9v0.9h-0.9zM346.4 309.9h0.9v0.9h-0.9zM362.8 302.2h0.9v0.9h-0.9zM350.3 302.2h0.9v0.9h-0.9zM351.6 300.1h0.9v0.9h-0.9zM350.4 295.3h0.9v0.9h-0.9zM348.4 323.1h0.9v0.9h-0.9zM341.8 301.6h0.9v0.9h-0.9zM352.0 298.0h0.9v0.9h-0.9zM335.9 294.2h0.9v0.9h-0.9zM348.4 313.3h0.9v0.9h-0.9zM347.9 306.1h0.9v0.9h-0.9zM352.9 305.4h0.9v0.9h-0.9zM354.2 316.0h0.9v0.9h-0.9zM345.9 314.5h0.9v0.9h-0.9zM351.0 304.8h0.9v0.9h-0.9zM347.4 313.2h0.9v0.9h-0.9zM341.3 294.6h0.9v0.9h-0.9zM353.3 319.3h0.9v0.9h-0.9zM348.9 312.9h0.9v0.9h-0.9zM339.3 296.4h0.9v0.9h-0.9zM344.7 303.1h0.9v0.9h-0.9zM348.2 302.3h0.9v0.9h-0.9zM347.1 304.3h0.9v0.9h-0.9zM350.5 313.1h0.9v0.9h-0.9zM351.8 315.4h0.9v0.9h-0.9zM346.5 302.4h0.9v0.9h-0.9zM338.0 293.8h0.9v0.9h-0.9zM351.4 308.9h0.9v0.9h-0.9zM347.6 303.3h0.9v0.9h-0.9zM341.2 290.1h0.9v0.9h-0.9zM344.4 303.7h0.9v0.9h-0.9zM334.5 314.7h0.9v0.9h-0.9zM343.9 308.5h0.9v0.9h-0.9zM353.9 316.0h0.9v0.9h-0.9zM345.8 312.2h0.9v0.9h-0.9zM351.9 305.8h0.9v0.9h-0.9zM348.9 299.3h0.9v0.9h-0.9zM348.6 300.8h0.9v0.9h-0.9zM346.2 306.2h0.9v0.9h-0.9zM352.0 303.8h0.9v0.9h-0.9zM346.0 302.5h0.9v0.9h-0.9zM361.0 302.5h0.9v0.9h-0.9zM349.7 294.8h0.9v0.9h-0.9zM347.5 297.0h0.9v0.9h-0.9zM344.5 310.7h0.9v0.9h-0.9zM356.0 306.6h0.9v0.9h-0.9zM350.4 306.7h0.9v0.9h-0.9zM345.1 306.0h0.9v0.9h-0.9zM352.2 306.8h0.9v0.9h-0.9zM345.4 302.1h0.9v0.9h-0.9zM349.7 303.1h0.9v0.9h-0.9zM352.0 295.5h0.9v0.9h-0.9zM351.1 299.7h0.9v0.9h-0.9zM346.9 320.3h0.9v0.9h-0.9zM352.5 301.8h0.9v0.9h-0.9zM345.4 311.7h0.9v0.9h-0.9zM352.0 305.2h0.9v0.9h-0.9zM351.1 302.5h0.9v0.9h-0.9zM333.5 313.1h0.9v0.9h-0.9zM344.8 309.6h0.9v0.9h-0.9zM346.4 303.4h0.9v0.9h-0.9zM342.8 310.8h0.9v0.9h-0.9zM351.5 314.3h0.9v0.9h-0.9zM350.9 308.5h0.9v0.9h-0.9zM344.7 305.8h0.9v0.9h-0.9zM349.5 287.9h0.9v0.9h-0.9zM341.5 304.2h0.9v0.9h-0.9zM351.4 315.3h0.9v0.9h-0.9zM355.9 300.1h0.9v0.9h-0.9zM347.7 301.8h0.9v0.9h-0.9zM343.2 302.9h0.9v0.9h-0.9zM347.9 311.2h0.9v0.9h-0.9zM339.8 304.5h0.9v0.9h-0.9zM342.3 315.3h0.9v0.9h-0.9zM355.9 302.0h0.9v0.9h-0.9zM343.7 309.7h0.9v0.9h-0.9zM352.1 298.4h0.9v0.9h-0.9zM345.1 307.3h0.9v0.9h-0.9zM341.9 315.9h0.9v0.9h-0.9zM347.5 305.8h0.9v0.9h-0.9zM341.4 314.0h0.9v0.9h-0.9zM340.4 300.2h0.9v0.9h-0.9zM344.2 304.4h0.9v0.9h-0.9zM340.0 299.8h0.9v0.9h-0.9zM350.2 305.0h0.9v0.9h-0.9zM347.8 312.2h0.9v0.9h-0.9zM349.5 312.4h0.9v0.9h-0.9zM347.3 299.0h0.9v0.9h-0.9zM355.6 293.3h0.9v0.9h-0.9zM340.3 297.2h0.9v0.9h-0.9zM359.1 305.8h0.9v0.9h-0.9zM352.6 294.3h0.9v0.9h-0.9zM341.6 307.5h0.9v0.9h-0.9zM344.9 306.1h0.9v0.9h-0.9zM350.2 305.9h0.9v0.9h-0.9zM347.6 306.8h0.9v0.9h-0.9zM346.2 307.5h0.9v0.9h-0.9zM352.1 298.8h0.9v0.9h-0.9zM348.6 311.6h0.9v0.9h-0.9zM346.3 304.7h0.9v0.9h-0.9zM356.5 313.2h0.9v0.9h-0.9zM358.8 318.5h0.9v0.9h-0.9zM345.6 300.5h0.9v0.9h-0.9zM345.8 311.5h0.9v0.9h-0.9zM330.1 305.7h0.9v0.9h-0.9zM353.3 305.7h0.9v0.9h-0.9zM348.9 303.7h0.9v0.9h-0.9zM338.9 312.1h0.9v0.9h-0.9zM345.8 308.7h0.9v0.9h-0.9zM347.4 319.1h0.9v0.9h-0.9zM349.7 308.4h0.9v0.9h-0.9z" fill="#4a5aaa" opacity="0.45"/>
<path d="M334.8 298.1h0.9v0.9h-0.9zM337.3 315.3h0.9v0.9h-0.9zM335.3 286.0h0.9v0.9h-0.9zM331.4 323.1h0.9v0.9h-0.9zM332.5 307.2h0.9v0.9h-0.9zM325.7 300.3h0.9v0.9h-0.9zM331.0 312.7h0.9v0.9h-0.9zM338.4 310.5h0.9v0.9h-0.9zM340.4 301.2h0.9v0.9h-0.9zM343.8 303.3h0.9v0.9h-0.9zM339.9 324.6h0.9v0.9h-0.9zM332.7 308.9h0.9v0.9h-0.9zM334.7 306.7h0.9v0.9h-0.9zM336.8 304.9h0.9v0.9h-0.9zM335.4 311.9h0.9v0.9h-0.9zM328.6 298.9h0.9v0.9h-0.9zM332.8 293.1h0.9v0.9h-0.9zM337.0 301.4h0.9v0.9h-0.9zM331.0 293.2h0.9v0.9h-0.9zM330.8 309.5h0.9v0.9h-0.9zM328.9 313.7h0.9v0.9h-0.9zM338.4 308.1h0.9v0.9h-0.9zM326.8 298.6h0.9v0.9h-0.9zM340.5 302.1h0.9v0.9h-0.9zM331.4 298.9h0.9v0.9h-0.9zM337.2 288.9h0.9v0.9h-0.9zM340.4 307.5h0.9v0.9h-0.9zM330.1 310.9h0.9v0.9h-0.9zM321.6 294.3h0.9v0.9h-0.9zM336.8 318.9h0.9v0.9h-0.9zM329.3 292.6h0.9v0.9h-0.9zM334.9 306.2h0.9v0.9h-0.9zM331.4 298.2h0.9v0.9h-0.9zM343.0 296.9h0.9v0.9h-0.9zM327.1 301.6h0.9v0.9h-0.9zM341.7 311.6h0.9v0.9h-0.9zM335.0 293.6h0.9v0.9h-0.9zM334.7 331.2h0.9v0.9h-0.9zM338.2 314.8h0.9v0.9h-0.9zM327.2 301.6h0.9v0.9h-0.9zM332.4 320.9h0.9v0.9h-0.9zM333.7 304.7h0.9v0.9h-0.9zM340.9 288.1h0.9v0.9h-0.9zM332.2 291.0h0.9v0.9h-0.9zM332.1 301.1h0.9v0.9h-0.9zM332.6 318.3h0.9v0.9h-0.9zM329.1 302.4h0.9v0.9h-0.9zM337.8 301.5h0.9v0.9h-0.9zM332.5 322.8h0.9v0.9h-0.9zM339.0 297.6h0.9v0.9h-0.9zM336.4 297.1h0.9v0.9h-0.9zM337.4 292.3h0.9v0.9h-0.9zM339.2 308.6h0.9v0.9h-0.9zM336.8 305.2h0.9v0.9h-0.9zM336.2 297.3h0.9v0.9h-0.9zM335.4 310.6h0.9v0.9h-0.9zM337.3 296.7h0.9v0.9h-0.9zM338.0 294.3h0.9v0.9h-0.9zM331.4 297.4h0.9v0.9h-0.9zM332.0 304.0h0.9v0.9h-0.9zM338.5 314.8h0.9v0.9h-0.9zM337.3 298.4h0.9v0.9h-0.9zM338.8 314.0h0.9v0.9h-0.9zM331.2 294.4h0.9v0.9h-0.9zM334.3 322.6h0.9v0.9h-0.9zM333.5 303.5h0.9v0.9h-0.9zM338.6 294.4h0.9v0.9h-0.9zM329.6 304.0h0.9v0.9h-0.9zM339.3 302.3h0.9v0.9h-0.9zM331.8 289.9h0.9v0.9h-0.9zM343.0 293.7h0.9v0.9h-0.9zM341.6 298.6h0.9v0.9h-0.9zM340.8 320.5h0.9v0.9h-0.9zM330.6 310.3h0.9v0.9h-0.9zM338.7 316.4h0.9v0.9h-0.9zM333.5 316.2h0.9v0.9h-0.9zM335.6 296.0h0.9v0.9h-0.9zM340.1 316.5h0.9v0.9h-0.9zM335.0 303.9h0.9v0.9h-0.9zM338.9 320.3h0.9v0.9h-0.9zM328.8 314.7h0.9v0.9h-0.9zM345.2 297.1h0.9v0.9h-0.9zM337.9 305.6h0.9v0.9h-0.9zM336.8 316.4h0.9v0.9h-0.9zM327.0 300.4h0.9v0.9h-0.9zM328.1 302.2h0.9v0.9h-0.9zM344.4 295.6h0.9v0.9h-0.9zM332.7 299.5h0.9v0.9h-0.9zM337.0 302.2h0.9v0.9h-0.9zM331.1 298.1h0.9v0.9h-0.9zM334.2 293.9h0.9v0.9h-0.9zM322.9 315.6h0.9v0.9h-0.9zM335.7 299.6h0.9v0.9h-0.9zM334.2 311.6h0.9v0.9h-0.9zM330.7 305.3h0.9v0.9h-0.9zM332.3 316.1h0.9v0.9h-0.9zM322.8 292.3h0.9v0.9h-0.9zM342.1 294.2h0.9v0.9h-0.9zM331.0 293.9h0.9v0.9h-0.9z" fill="#6070b8" opacity="0.4"/>
<defs><radialGradient id="g6" cx="0.5" cy="0.5" r="0.5"><stop offset="0" stop-color="#c81818"/><stop offset="0.12" stop-color="#d82020"/><stop offset="0.19" stop-color="#e83020"/><stop offset="0.24" stop-color="#f07020"/><stop offset="0.3" stop-color="#f0c020"/><stop offset="0.35" stop-color="#d8d830"/><stop offset="0.42" stop-color="#b0d040"/><stop offset="0.55" stop-color="#90c850"/><stop offset="0.65" stop-color="#80c460"/><stop offset="0.71" stop-color="#70c4a0"/><stop offset="0.76" stop-color="#60c4e4"/><stop offset="0.82" stop-color="#5098d8"/><stop offset="0.88" stop-color="#4868b8"/><stop offset="0.94" stop-color="#4458a8"/><stop offset="1" stop-color="#4455a5"/></radialGradient></defs>
<defs><filter id="fg6" x="-30%" y="-30%" width="160%" height="160%"><feGaussianBlur stdDeviation="0.5"/></filter></defs>
<path d="M333.8 296.3h0.9v0.9h-0.9zM334.7 310.3h0.9v0.9h-0.9zM343.1 312.8h0.9v0.9h-0.9zM336.4 318.4h0.9v0.9h-0.9zM334.6 297.0h0.9v0.9h-0.9zM335.3 313.2h0.9v0.9h-0.9zM340.4 290.4h0.9v0.9h-0.9zM334.6 310.4h0.9v0.9h-0.9zM334.6 315.0h0.9v0.9h-0.9zM341.5 320.1h0.9v0.9h-0.9zM342.5 317.9h0.9v0.9h-0.9zM342.2 307.8h0.9v0.9h-0.9zM336.4 292.2h0.9v0.9h-0.9zM334.3 307.3h0.9v0.9h-0.9zM333.9 300.7h0.9v0.9h-0.9zM343.2 317.9h0.9v0.9h-0.9zM344.4 319.8h0.9v0.9h-0.9zM335.6 298.5h0.9v0.9h-0.9zM343.3 305.9h0.9v0.9h-0.9zM334.9 293.8h0.9v0.9h-0.9zM346.0 299.6h0.9v0.9h-0.9zM343.3 300.3h0.9v0.9h-0.9zM340.7 320.5h0.9v0.9h-0.9zM342.8 302.1h0.9v0.9h-0.9zM334.9 305.9h0.9v0.9h-0.9zM335.1 293.7h0.9v0.9h-0.9zM335.4 297.4h0.9v0.9h-0.9zM343.5 305.4h0.9v0.9h-0.9zM342.5 314.5h0.9v0.9h-0.9zM343.3 311.4h0.9v0.9h-0.9zM338.1 291.5h0.9v0.9h-0.9zM343.4 312.1h0.9v0.9h-0.9zM343.2 295.0h0.9v0.9h-0.9zM341.4 292.3h0.9v0.9h-0.9zM341.6 292.0h0.9v0.9h-0.9zM346.1 300.8h0.9v0.9h-0.9zM334.7 305.6h0.9v0.9h-0.9zM335.3 312.5h0.9v0.9h-0.9zM344.3 315.4h0.9v0.9h-0.9zM343.8 300.6h0.9v0.9h-0.9zM337.4 321.2h0.9v0.9h-0.9zM343.5 318.3h0.9v0.9h-0.9zM343.1 298.9h0.9v0.9h-0.9zM343.8 300.0h0.9v0.9h-0.9zM343.4 301.0h0.9v0.9h-0.9zM334.9 304.5h0.9v0.9h-0.9zM335.0 308.2h0.9v0.9h-0.9zM344.2 316.8h0.9v0.9h-0.9zM334.1 303.3h0.9v0.9h-0.9zM333.7 316.6h0.9v0.9h-0.9zM335.7 299.6h0.9v0.9h-0.9zM343.5 299.4h0.9v0.9h-0.9zM344.9 312.8h0.9v0.9h-0.9zM333.7 302.4h0.9v0.9h-0.9zM343.9 294.9h0.9v0.9h-0.9zM343.3 309.9h0.9v0.9h-0.9zM332.4 304.6h0.9v0.9h-0.9zM344.0 306.6h0.9v0.9h-0.9zM338.5 291.1h0.9v0.9h-0.9zM343.4 310.7h0.9v0.9h-0.9zM342.6 311.1h0.9v0.9h-0.9zM342.0 291.9h0.9v0.9h-0.9zM343.6 304.4h0.9v0.9h-0.9zM335.9 318.9h0.9v0.9h-0.9zM335.0 300.6h0.9v0.9h-0.9zM342.8 309.7h0.9v0.9h-0.9zM338.7 291.1h0.9v0.9h-0.9zM342.4 298.6h0.9v0.9h-0.9zM342.4 297.0h0.9v0.9h-0.9zM343.0 304.5h0.9v0.9h-0.9zM335.2 303.7h0.9v0.9h-0.9zM335.9 307.2h0.9v0.9h-0.9zM343.8 312.1h0.9v0.9h-0.9zM332.9 295.6h0.9v0.9h-0.9zM334.9 309.3h0.9v0.9h-0.9zM335.4 305.9h0.9v0.9h-0.9zM335.6 296.1h0.9v0.9h-0.9zM335.1 297.6h0.9v0.9h-0.9zM341.7 294.3h0.9v0.9h-0.9zM335.9 315.5h0.9v0.9h-0.9zM335.4 300.6h0.9v0.9h-0.9zM338.2 320.4h0.9v0.9h-0.9zM333.6 314.1h0.9v0.9h-0.9zM335.5 315.3h0.9v0.9h-0.9zM343.8 295.7h0.9v0.9h-0.9zM334.6 310.9h0.9v0.9h-0.9zM343.3 316.6h0.9v0.9h-0.9zM336.0 292.1h0.9v0.9h-0.9zM334.4 315.4h0.9v0.9h-0.9zM334.8 305.1h0.9v0.9h-0.9zM342.7 317.2h0.9v0.9h-0.9zM343.5 304.8h0.9v0.9h-0.9zM336.4 291.8h0.9v0.9h-0.9zM342.9 306.3h0.9v0.9h-0.9zM343.9 296.4h0.9v0.9h-0.9zM337.0 292.3h0.9v0.9h-0.9zM335.7 309.2h0.9v0.9h-0.9zM338.1 321.5h0.9v0.9h-0.9zM336.2 319.2h0.9v0.9h-0.9zM343.1 313.1h0.9v0.9h-0.9zM343.4 294.9h0.9v0.9h-0.9zM339.5 290.6h0.9v0.9h-0.9zM335.5 300.8h0.9v0.9h-0.9zM343.5 311.3h0.9v0.9h-0.9zM337.6 291.6h0.9v0.9h-0.9zM334.4 314.3h0.9v0.9h-0.9zM343.7 312.8h0.9v0.9h-0.9zM335.1 309.5h0.9v0.9h-0.9zM334.0 314.4h0.9v0.9h-0.9zM334.7 312.3h0.9v0.9h-0.9zM343.2 310.2h0.9v0.9h-0.9zM344.9 305.7h0.9v0.9h-0.9zM342.0 291.5h0.9v0.9h-0.9zM340.2 291.3h0.9v0.9h-0.9zM335.3 315.8h0.9v0.9h-0.9zM334.6 298.1h0.9v0.9h-0.9zM334.5 311.8h0.9v0.9h-0.9zM343.0 311.0h0.9v0.9h-0.9zM341.6 320.7h0.9v0.9h-0.9zM337.0 291.3h0.9v0.9h-0.9zM334.3 306.5h0.9v0.9h-0.9zM335.5 293.5h0.9v0.9h-0.9zM342.4 298.1h0.9v0.9h-0.9zM332.8 296.3h0.9v0.9h-0.9zM343.2 316.3h0.9v0.9h-0.9zM344.4 308.8h0.9v0.9h-0.9zM335.3 305.7h0.9v0.9h-0.9zM335.4 314.6h0.9v0.9h-0.9zM343.3 306.9h0.9v0.9h-0.9zM334.6 319.3h0.9v0.9h-0.9zM342.9 311.9h0.9v0.9h-0.9zM333.1 313.3h0.9v0.9h-0.9zM337.5 289.3h0.9v0.9h-0.9zM335.3 315.0h0.9v0.9h-0.9zM342.0 291.0h0.9v0.9h-0.9zM343.5 295.2h0.9v0.9h-0.9zM342.7 297.4h0.9v0.9h-0.9zM335.9 313.6h0.9v0.9h-0.9zM334.6 299.9h0.9v0.9h-0.9zM343.5 314.7h0.9v0.9h-0.9zM333.7 313.1h0.9v0.9h-0.9zM339.6 320.4h0.9v0.9h-0.9zM343.6 314.2h0.9v0.9h-0.9zM334.6 299.7h0.9v0.9h-0.9zM335.6 309.5h0.9v0.9h-0.9zM344.3 313.7h0.9v0.9h-0.9zM336.1 303.3h0.9v0.9h-0.9zM338.9 291.4h0.9v0.9h-0.9zM335.8 315.5h0.9v0.9h-0.9zM343.7 299.1h0.9v0.9h-0.9zM345.9 303.0h0.9v0.9h-0.9zM343.2 312.9h0.9v0.9h-0.9zM341.3 291.7h0.9v0.9h-0.9zM343.5 311.7h0.9v0.9h-0.9zM338.3 290.2h0.9v0.9h-0.9zM334.0 309.7h0.9v0.9h-0.9zM343.4 307.6h0.9v0.9h-0.9zM343.2 306.8h0.9v0.9h-0.9zM341.5 290.7h0.9v0.9h-0.9zM333.9 317.6h0.9v0.9h-0.9zM345.4 308.1h0.9v0.9h-0.9zM338.8 290.6h0.9v0.9h-0.9zM335.0 298.7h0.9v0.9h-0.9zM344.5 297.2h0.9v0.9h-0.9zM336.0 292.0h0.9v0.9h-0.9zM343.4 303.4h0.9v0.9h-0.9zM335.7 316.6h0.9v0.9h-0.9zM333.9 300.1h0.9v0.9h-0.9zM332.6 300.8h0.9v0.9h-0.9zM343.8 311.7h0.9v0.9h-0.9zM343.7 306.1h0.9v0.9h-0.9zM335.9 291.9h0.9v0.9h-0.9zM343.1 317.8h0.9v0.9h-0.9zM334.8 306.4h0.9v0.9h-0.9zM334.8 312.1h0.9v0.9h-0.9zM332.3 310.2h0.9v0.9h-0.9zM343.2 299.9h0.9v0.9h-0.9zM344.0 301.8h0.9v0.9h-0.9zM345.4 308.1h0.9v0.9h-0.9zM341.9 318.9h0.9v0.9h-0.9zM342.4 306.9h0.9v0.9h-0.9zM334.1 298.2h0.9v0.9h-0.9zM342.6 302.9h0.9v0.9h-0.9zM340.0 292.1h0.9v0.9h-0.9zM342.7 313.8h0.9v0.9h-0.9zM334.8 293.1h0.9v0.9h-0.9zM335.3 292.0h0.9v0.9h-0.9zM343.1 311.1h0.9v0.9h-0.9zM332.9 314.8h0.9v0.9h-0.9zM338.5 320.5h0.9v0.9h-0.9zM343.8 299.6h0.9v0.9h-0.9zM343.4 310.8h0.9v0.9h-0.9zM343.5 300.5h0.9v0.9h-0.9zM338.3 290.3h0.9v0.9h-0.9zM342.9 310.6h0.9v0.9h-0.9zM340.2 320.8h0.9v0.9h-0.9zM342.8 306.3h0.9v0.9h-0.9zM342.5 314.6h0.9v0.9h-0.9zM334.7 312.4h0.9v0.9h-0.9zM337.6 291.0h0.9v0.9h-0.9zM334.3 292.3h0.9v0.9h-0.9zM343.8 312.7h0.9v0.9h-0.9zM343.7 310.6h0.9v0.9h-0.9zM336.0 302.5h0.9v0.9h-0.9zM334.6 308.7h0.9v0.9h-0.9zM343.0 300.1h0.9v0.9h-0.9zM333.5 306.6h0.9v0.9h-0.9zM344.1 313.9h0.9v0.9h-0.9zM336.1 318.4h0.9v0.9h-0.9zM342.6 296.1h0.9v0.9h-0.9zM343.3 302.9h0.9v0.9h-0.9zM334.4 303.0h0.9v0.9h-0.9zM343.0 294.2h0.9v0.9h-0.9zM336.5 292.1h0.9v0.9h-0.9zM338.9 291.6h0.9v0.9h-0.9zM339.2 319.8h0.9v0.9h-0.9zM345.1 313.6h0.9v0.9h-0.9zM336.7 318.8h0.9v0.9h-0.9zM343.5 306.1h0.9v0.9h-0.9zM340.2 291.7h0.9v0.9h-0.9zM342.7 295.6h0.9v0.9h-0.9zM333.8 296.4h0.9v0.9h-0.9zM335.2 310.2h0.9v0.9h-0.9zM334.8 317.8h0.9v0.9h-0.9zM335.5 295.1h0.9v0.9h-0.9zM335.7 315.3h0.9v0.9h-0.9zM340.0 291.4h0.9v0.9h-0.9zM342.5 305.1h0.9v0.9h-0.9zM335.8 313.9h0.9v0.9h-0.9zM334.7 305.7h0.9v0.9h-0.9zM335.4 313.0h0.9v0.9h-0.9zM335.2 304.0h0.9v0.9h-0.9zM343.2 316.6h0.9v0.9h-0.9zM345.2 294.8h0.9v0.9h-0.9zM341.6 319.6h0.9v0.9h-0.9zM335.9 313.5h0.9v0.9h-0.9zM335.2 308.0h0.9v0.9h-0.9zM339.4 290.3h0.9v0.9h-0.9zM344.4 295.0h0.9v0.9h-0.9zM333.1 299.3h0.9v0.9h-0.9zM335.2 310.6h0.9v0.9h-0.9zM343.3 303.5h0.9v0.9h-0.9zM339.1 291.4h0.9v0.9h-0.9zM337.1 320.8h0.9v0.9h-0.9zM334.6 316.7h0.9v0.9h-0.9zM338.5 291.3h0.9v0.9h-0.9zM336.3 295.8h0.9v0.9h-0.9zM343.0 300.3h0.9v0.9h-0.9zM335.3 318.3h0.9v0.9h-0.9zM342.6 306.2h0.9v0.9h-0.9zM336.7 289.7h0.9v0.9h-0.9zM343.3 295.0h0.9v0.9h-0.9zM338.9 320.8h0.9v0.9h-0.9zM335.1 305.4h0.9v0.9h-0.9zM335.1 300.0h0.9v0.9h-0.9zM343.7 315.6h0.9v0.9h-0.9zM343.1 305.9h0.9v0.9h-0.9zM342.1 298.4h0.9v0.9h-0.9zM336.2 294.0h0.9v0.9h-0.9zM334.5 304.8h0.9v0.9h-0.9zM341.5 292.0h0.9v0.9h-0.9zM343.7 307.9h0.9v0.9h-0.9zM337.4 320.4h0.9v0.9h-0.9zM334.4 313.8h0.9v0.9h-0.9zM334.2 298.3h0.9v0.9h-0.9zM344.7 303.1h0.9v0.9h-0.9zM345.3 304.5h0.9v0.9h-0.9zM343.5 311.6h0.9v0.9h-0.9zM335.4 306.5h0.9v0.9h-0.9zM334.8 308.4h0.9v0.9h-0.9zM335.5 298.6h0.9v0.9h-0.9zM343.1 297.6h0.9v0.9h-0.9zM335.8 318.8h0.9v0.9h-0.9zM340.7 319.9h0.9v0.9h-0.9zM336.2 291.6h0.9v0.9h-0.9zM342.9 295.4h0.9v0.9h-0.9zM339.0 319.0h0.9v0.9h-0.9zM338.4 291.3h0.9v0.9h-0.9zM336.3 314.0h0.9v0.9h-0.9zM342.3 304.3h0.9v0.9h-0.9zM334.9 293.7h0.9v0.9h-0.9zM332.8 297.2h0.9v0.9h-0.9zM335.6 296.7h0.9v0.9h-0.9zM344.0 307.5h0.9v0.9h-0.9zM344.1 314.5h0.9v0.9h-0.9zM337.6 318.7h0.9v0.9h-0.9zM336.4 304.1h0.9v0.9h-0.9zM343.4 298.6h0.9v0.9h-0.9zM335.8 315.3h0.9v0.9h-0.9zM340.5 321.9h0.9v0.9h-0.9zM343.0 317.0h0.9v0.9h-0.9zM344.0 305.9h0.9v0.9h-0.9zM344.8 315.0h0.9v0.9h-0.9zM344.1 293.0h0.9v0.9h-0.9zM335.6 309.1h0.9v0.9h-0.9zM342.9 316.6h0.9v0.9h-0.9zM338.0 320.8h0.9v0.9h-0.9zM334.9 315.0h0.9v0.9h-0.9zM341.0 318.6h0.9v0.9h-0.9zM345.0 311.2h0.9v0.9h-0.9z" fill="#4a5aaa" opacity="0.5"/>
<path d="M335.30 294.50C335.52 292.27 335.85 292.13 336.50 291.60C337.15 291.07 338.30 291.30 339.20 291.30C340.10 291.30 341.25 291.07 341.90 291.60C342.55 292.13 342.88 292.27 343.10 294.50C343.32 296.73 343.20 301.42 343.20 305.00C343.20 308.58 343.30 313.63 343.10 316.00C342.90 318.37 342.65 318.60 342.00 319.20C341.35 319.80 340.13 319.60 339.20 319.60C338.27 319.60 337.05 319.80 336.40 319.20C335.75 318.60 335.50 318.37 335.30 316.00C335.10 313.63 335.20 308.58 335.20 305.00C335.20 301.42 335.08 296.73 335.30 294.50Z" fill="#4455a5" filter="url(#fg6)"/>
<path d="M335.30 294.50C335.52 292.27 335.85 292.13 336.50 291.60C337.15 291.07 338.30 291.30 339.20 291.30C340.10 291.30 341.25 291.07 341.90 291.60C342.55 292.13 342.88 292.27 343.10 294.50C343.32 296.73 343.20 301.42 343.20 305.00C343.20 308.58 343.30 313.63 343.10 316.00C342.90 318.37 342.65 318.60 342.00 319.20C341.35 319.80 340.13 319.60 339.20 319.60C338.27 319.60 337.05 319.80 336.40 319.20C335.75 318.60 335.50 318.37 335.30 316.00C335.10 313.63 335.20 308.58 335.20 305.00C335.20 301.42 335.08 296.73 335.30 294.50Z" fill="#4455a5" transform="translate(339.3 305.6) scale(0.88) translate(-339.3 -305.6)"/>
<ellipse cx="339.3" cy="305.6" rx="2.93" ry="12.64" transform="rotate(0 339.3 305.6)" fill="url(#g6)"/>
<text x="7.00" y="407.60" font-size="12.3" text-anchor="start" fill="#000" font-weight="bold" >D</text>
<rect x="68.4" y="397.40" width="5.2" height="5.0" fill="#a3002b"/>
<text x="76.80" y="401.70" font-size="5.9" text-anchor="start" fill="#333" textLength="40.0" lengthAdjust="spacingAndGlyphs" >Positive Control</text>
<rect x="68.4" y="405.10" width="5.2" height="5.0" fill="#223d85"/>
<text x="76.80" y="409.40" font-size="5.9" text-anchor="start" fill="#333" textLength="44.0" lengthAdjust="spacingAndGlyphs" >Expanded Treg A</text>
<rect x="68.4" y="412.80" width="5.2" height="5.0" fill="#5ea53c"/>
<text x="76.80" y="417.10" font-size="5.9" text-anchor="start" fill="#333" textLength="43.3" lengthAdjust="spacingAndGlyphs" >Expanded Treg B</text>
<path d="M42.1 440V498.6M41.5 498.1H154.2" stroke="#222" stroke-width="1.2" fill="none"/>
<text x="35.80" y="500.20" font-size="6.6" text-anchor="end" fill="#222" textLength="3.8" lengthAdjust="spacingAndGlyphs" >0</text>
<text x="35.80" y="486.35" font-size="6.6" text-anchor="end" fill="#222" textLength="15.0" lengthAdjust="spacingAndGlyphs" >2000</text>
<text x="35.80" y="472.50" font-size="6.6" text-anchor="end" fill="#222" textLength="15.0" lengthAdjust="spacingAndGlyphs" >4000</text>
<text x="35.80" y="458.65" font-size="6.6" text-anchor="end" fill="#222" textLength="15.0" lengthAdjust="spacingAndGlyphs" >6000</text>
<text x="35.80" y="444.80" font-size="6.6" text-anchor="end" fill="#222" textLength="15.0" lengthAdjust="spacingAndGlyphs" >8000</text>
<path d="M38.7 498.10H42.1M38.7 484.25H42.1M38.7 470.40H42.1M38.7 456.55H42.1M38.7 442.70H42.1M70.0 498.1V501.3M125.4 498.1V501.3" stroke="#222" stroke-width="1" fill="none"/>
<rect x="49.4" y="497.34" width="10.40" height="0.80" fill="#a3002b"/>
<path d="M54.60 497.34V496.99M51.60 496.99H57.60" stroke="#333" stroke-width="1" fill="none"/>
<rect x="64.2" y="497.75" width="11.20" height="0.80" fill="#223d85"/>
<path d="M69.80 497.75V497.62M66.80 497.62H72.80" stroke="#333" stroke-width="1" fill="none"/>
<rect x="78.8" y="491.31" width="11.20" height="6.79" fill="#5ea53c"/>
<path d="M84.40 491.31V487.57M81.40 487.57H87.40" stroke="#333" stroke-width="1" fill="none"/>
<rect x="104.9" y="467.63" width="11.50" height="30.47" fill="#a3002b"/>
<path d="M110.65 467.63V451.15M107.65 451.15H113.65" stroke="#333" stroke-width="1" fill="none"/>
<rect x="120.0" y="497.48" width="10.80" height="0.80" fill="#223d85"/>
<path d="M125.40 497.48V496.78M122.40 496.78H128.40" stroke="#333" stroke-width="1" fill="none"/>
<rect x="133.9" y="493.81" width="11.60" height="4.29" fill="#5ea53c"/>
<path d="M139.70 493.81V491.11M136.70 491.11H142.70" stroke="#333" stroke-width="1" fill="none"/>
<path d="M56.50 447.20H108.90M56.50 445.60V448.80M108.90 445.60V448.80" stroke="#333" stroke-width="1.0" fill="none"/>
<path d="M70.00 440.00H122.60M70.00 438.40V441.60M122.60 438.40V441.60" stroke="#333" stroke-width="1.0" fill="none"/>
<path d="M83.80 431.70H137.80M83.80 430.10V433.30M137.80 430.10V433.30" stroke="#333" stroke-width="1.0" fill="none"/>
<text x="82.60" y="446.20" font-size="5.5" text-anchor="middle" fill="#333" >*</text>
<text x="96.30" y="437.30" font-size="5.5" text-anchor="middle" fill="#333" >ns</text>
<text x="110.80" y="429.00" font-size="5.5" text-anchor="middle" fill="#333" >ns</text>
<text transform="translate(14.9 468.8) rotate(-90)" font-size="7.8" text-anchor="middle" fill="#222" textLength="33.2" lengthAdjust="spacingAndGlyphs">IL-17A MFI</text>
<text x="69.80" y="510.50" font-size="7.3" text-anchor="middle" fill="#333" textLength="27.8" lengthAdjust="spacingAndGlyphs" >Pre-Th17</text>
<text x="69.80" y="518.30" font-size="7.3" text-anchor="middle" fill="#333" textLength="35.8" lengthAdjust="spacingAndGlyphs" >polarization</text>
<text x="124.80" y="510.50" font-size="7.3" text-anchor="middle" fill="#333" textLength="31.8" lengthAdjust="spacingAndGlyphs" >Post-Th17</text>
<text x="124.80" y="518.30" font-size="7.3" text-anchor="middle" fill="#333" textLength="35.8" lengthAdjust="spacingAndGlyphs" >polarization</text>
<text x="169.60" y="407.50" font-size="12.3" text-anchor="start" fill="#000" font-weight="bold" >E</text>
<path d="M207.2 435.3V497.9M206.6 497.4H295.4" stroke="#222" stroke-width="1.2" fill="none"/>
<text x="200.80" y="499.80" font-size="7.0" text-anchor="end" fill="#222" textLength="3.8" lengthAdjust="spacingAndGlyphs" >0</text>
<text x="200.80" y="484.92" font-size="7.0" text-anchor="end" fill="#222" textLength="7.5" lengthAdjust="spacingAndGlyphs" >20</text>
<text x="200.80" y="470.05" font-size="7.0" text-anchor="end" fill="#222" textLength="7.5" lengthAdjust="spacingAndGlyphs" >40</text>
<text x="200.80" y="455.17" font-size="7.0" text-anchor="end" fill="#222" textLength="7.5" lengthAdjust="spacingAndGlyphs" >60</text>
<text x="200.80" y="440.30" font-size="7.0" text-anchor="end" fill="#222" textLength="7.5" lengthAdjust="spacingAndGlyphs" >80</text>
<path d="M203.79999999999998 497.40H207.2M203.79999999999998 482.52H207.2M203.79999999999998 467.65H207.2M203.79999999999998 452.77H207.2M203.79999999999998 437.90H207.2M216.20 497.4V500.59999999999997M234.00 497.4V500.59999999999997M251.70 497.4V500.59999999999997M269.50 497.4V500.59999999999997M287.20 497.4V500.59999999999997" stroke="#222" stroke-width="1" fill="none"/>
<polyline points="216.20,444.00 234.00,461.48 251.70,465.72 269.50,475.98 287.20,487.58" stroke="#b3062f" stroke-width="1.45" fill="none" stroke-linejoin="round"/>
<path d="M216.20 444.97V443.11M214.60 444.97h3.2M214.60 443.11h3.2M234.00 463.19V459.84M232.40 463.19h3.2M232.40 459.84h3.2M251.70 466.91V463.56M250.10 466.91h3.2M250.10 463.56h3.2M269.50 478.06V473.97M267.90 478.06h3.2M267.90 473.97h3.2M287.20 489.59V485.50M285.60 489.59h3.2M285.60 485.50h3.2" stroke="#b3062f" stroke-width="0.9" fill="none"/>
<circle cx="216.20" cy="444.00" r="1.3" fill="#b3062f"/>
<circle cx="234.00" cy="461.48" r="1.3" fill="#b3062f"/>
<circle cx="251.70" cy="465.72" r="1.3" fill="#b3062f"/>
<circle cx="269.50" cy="475.98" r="1.3" fill="#b3062f"/>
<circle cx="287.20" cy="487.58" r="1.3" fill="#b3062f"/>
<polyline points="216.20,443.03 234.00,455.82 251.70,457.39 269.50,472.04 287.20,486.17" stroke="#26468c" stroke-width="1.45" fill="none" stroke-linejoin="round"/>
<path d="M216.20 443.85V442.36M214.60 443.85h3.2M214.60 442.36h3.2M234.00 456.49V455.01M232.40 456.49h3.2M232.40 455.01h3.2M251.70 457.98V456.49M250.10 457.98h3.2M250.10 456.49h3.2M269.50 475.09V468.62M267.90 475.09h3.2M267.90 468.62h3.2M287.20 492.94V479.55M285.60 492.94h3.2M285.60 479.55h3.2" stroke="#26468c" stroke-width="0.9" fill="none"/>
<circle cx="216.20" cy="443.03" r="1.3" fill="#26468c"/>
<circle cx="234.00" cy="455.82" r="1.3" fill="#26468c"/>
<circle cx="251.70" cy="457.39" r="1.3" fill="#26468c"/>
<circle cx="269.50" cy="472.04" r="1.3" fill="#26468c"/>
<circle cx="287.20" cy="486.17" r="1.3" fill="#26468c"/>
<path d="M216.20 437.90H234.00M216.20 436.50V439.30M234.00 436.50V439.30" stroke="#333" stroke-width="1.0" fill="none"/>
<text x="225.10" y="436.90" font-size="5.5" text-anchor="middle" fill="#333" >**</text>
<path d="M216.20 428.80H251.80M216.20 427.40V430.20M251.80 427.40V430.20" stroke="#333" stroke-width="1.0" fill="none"/>
<text x="234.00" y="427.80" font-size="5.5" text-anchor="middle" fill="#333" >**</text>
<path d="M216.20 419.90H271.60M216.20 418.50V421.30M271.60 418.50V421.30" stroke="#333" stroke-width="1.0" fill="none"/>
<text x="243.90" y="418.90" font-size="5.5" text-anchor="middle" fill="#333" >**</text>
<path d="M216.20 411.60H290.60M216.20 410.20V413.00M290.60 410.20V413.00" stroke="#333" stroke-width="1.0" fill="none"/>
<text x="253.40" y="410.60" font-size="5.5" text-anchor="middle" fill="#333" >***</text>
<path d="M280.8 434.9h6.6" stroke="#b3062f" stroke-width="1.3"/><circle cx="284.1" cy="434.9" r="1.2" fill="#b3062f"/>
<text x="290.50" y="437.10" font-size="5.9" text-anchor="start" fill="#333" textLength="48.6" lengthAdjust="spacingAndGlyphs" >HD Expanded Treg</text>
<path d="M280.8 445.4h6.6" stroke="#26468c" stroke-width="1.3"/><circle cx="284.1" cy="445.4" r="1.2" fill="#26468c"/>
<text x="290.50" y="447.60" font-size="5.9" text-anchor="start" fill="#333" textLength="48.6" lengthAdjust="spacingAndGlyphs" >AA Expanded Treg</text>
<text x="216.20" y="509.50" font-size="6.9" text-anchor="middle" fill="#333" textLength="9.0" lengthAdjust="spacingAndGlyphs" >No</text>
<text x="234.00" y="509.50" font-size="6.9" text-anchor="middle" fill="#333" textLength="9.6" lengthAdjust="spacingAndGlyphs" >8:1</text>
<text x="251.70" y="509.50" font-size="6.9" text-anchor="middle" fill="#333" textLength="9.6" lengthAdjust="spacingAndGlyphs" >4:1</text>
<text x="269.50" y="509.50" font-size="6.9" text-anchor="middle" fill="#333" textLength="9.6" lengthAdjust="spacingAndGlyphs" >2:1</text>
<text x="287.20" y="509.50" font-size="6.9" text-anchor="middle" fill="#333" textLength="9.6" lengthAdjust="spacingAndGlyphs" >1:1</text>
<text x="216.20" y="517.60" font-size="6.9" text-anchor="middle" fill="#333" textLength="13.0" lengthAdjust="spacingAndGlyphs" >Treg</text>
<text transform="translate(175.6 465.8) rotate(-90)" font-size="8.4" text-anchor="middle" fill="#222" textLength="43.6" lengthAdjust="spacingAndGlyphs">Percentage of</text>
<text transform="translate(187.6 465.8) rotate(-90)" font-size="8.4" text-anchor="middle" fill="#222" textLength="55.2" lengthAdjust="spacingAndGlyphs">proliferating cells</text>
<text x="229.90" y="530.60" font-size="9.3" text-anchor="start" fill="#222" textLength="3.9" lengthAdjust="spacingAndGlyphs" >T</text>
<text x="233.60" y="533.60" font-size="6.6" text-anchor="start" fill="#333" textLength="8.8" lengthAdjust="spacingAndGlyphs" >con</text>
<text x="242.50" y="530.60" font-size="9.3" text-anchor="start" fill="#222" textLength="31.2" lengthAdjust="spacingAndGlyphs" >:Treg ratio</text>
<text x="355.20" y="407.50" font-size="12.3" text-anchor="start" fill="#000" font-weight="bold" >F</text>
<path d="M383.7 433.2V497.5M383.09999999999997 497.0H475.8" stroke="#222" stroke-width="1.2" fill="none"/>
<text x="377.30" y="499.40" font-size="7.0" text-anchor="end" fill="#222" textLength="9.1" lengthAdjust="spacingAndGlyphs" >0.8</text>
<text x="377.30" y="484.20" font-size="7.0" text-anchor="end" fill="#222" textLength="9.1" lengthAdjust="spacingAndGlyphs" >1.0</text>
<text x="377.30" y="469.00" font-size="7.0" text-anchor="end" fill="#222" textLength="9.1" lengthAdjust="spacingAndGlyphs" >1.2</text>
<text x="377.30" y="453.80" font-size="7.0" text-anchor="end" fill="#222" textLength="9.1" lengthAdjust="spacingAndGlyphs" >1.4</text>
<text x="377.30" y="438.60" font-size="7.0" text-anchor="end" fill="#222" textLength="9.1" lengthAdjust="spacingAndGlyphs" >1.6</text>
<path d="M380.3 497.00H383.7M380.3 481.80H383.7M380.3 466.60H383.7M380.3 451.40H383.7M380.3 436.20H383.7M392.50 497.0V500.2M411.20 497.0V500.2M429.80 497.0V500.2M448.30 497.0V500.2M466.80 497.0V500.2" stroke="#222" stroke-width="1" fill="none"/>
<polyline points="392.50,449.12 411.20,465.08 429.80,474.20 448.30,475.72 466.80,480.28" stroke="#b3062f" stroke-width="1.15" fill="none" stroke-linejoin="round"/>
<path d="M392.50 449.88V448.36M390.90 449.88h3.2M390.90 448.36h3.2M411.20 476.48V452.92M409.60 476.48h3.2M409.60 452.92h3.2M429.80 478.76V469.64M428.20 478.76h3.2M428.20 469.64h3.2M448.30 479.52V471.16M446.70 479.52h3.2M446.70 471.16h3.2M466.80 481.04V479.52M465.20 481.04h3.2M465.20 479.52h3.2" stroke="#b3062f" stroke-width="0.9" fill="none"/>
<circle cx="392.50" cy="449.12" r="1.3" fill="#b3062f"/>
<circle cx="411.20" cy="465.08" r="1.3" fill="#b3062f"/>
<circle cx="429.80" cy="474.20" r="1.3" fill="#b3062f"/>
<circle cx="448.30" cy="475.72" r="1.3" fill="#b3062f"/>
<circle cx="466.80" cy="480.28" r="1.3" fill="#b3062f"/>
<polyline points="392.50,449.12 411.20,470.40 429.80,471.92 448.30,481.04 466.80,481.80" stroke="#26468c" stroke-width="1.15" fill="none" stroke-linejoin="round"/>
<path d="M392.50 449.88V448.36M390.90 449.88h3.2M390.90 448.36h3.2M411.20 475.72V466.60M409.60 475.72h3.2M409.60 466.60h3.2M429.80 478.00V466.60M428.20 478.00h3.2M428.20 466.60h3.2M448.30 481.80V480.28M446.70 481.80h3.2M446.70 480.28h3.2M466.80 482.56V481.04M465.20 482.56h3.2M465.20 481.04h3.2" stroke="#26468c" stroke-width="0.9" fill="none"/>
<circle cx="392.50" cy="449.12" r="1.3" fill="#26468c"/>
<circle cx="411.20" cy="470.40" r="1.3" fill="#26468c"/>
<circle cx="429.80" cy="471.92" r="1.3" fill="#26468c"/>
<circle cx="448.30" cy="481.04" r="1.3" fill="#26468c"/>
<circle cx="466.80" cy="481.80" r="1.3" fill="#26468c"/>
<path d="M392.70 443.80H411.40M392.70 442.40V445.20M411.40 442.40V445.20" stroke="#333" stroke-width="1.0" fill="none"/>
<text x="402.05" y="442.80" font-size="5.5" text-anchor="middle" fill="#333" >**</text>
<path d="M392.70 434.40H430.40M392.70 433.00V435.80M430.40 433.00V435.80" stroke="#333" stroke-width="1.0" fill="none"/>
<text x="411.55" y="433.40" font-size="5.5" text-anchor="middle" fill="#333" >**</text>
<path d="M392.70 425.00H450.80M392.70 423.60V426.40M450.80 423.60V426.40" stroke="#333" stroke-width="1.0" fill="none"/>
<text x="421.75" y="424.00" font-size="5.5" text-anchor="middle" fill="#333" >**</text>
<path d="M392.70 415.80H467.50M392.70 414.40V417.20M467.50 414.40V417.20" stroke="#333" stroke-width="1.0" fill="none"/>
<text x="430.10" y="414.80" font-size="5.5" text-anchor="middle" fill="#333" >***</text>
<path d="M459.4 439.4h6.6" stroke="#b3062f" stroke-width="1.3"/><circle cx="462.7" cy="439.4" r="1.2" fill="#b3062f"/>
<text x="469.10" y="441.60" font-size="5.9" text-anchor="start" fill="#333" textLength="44.4" lengthAdjust="spacingAndGlyphs" >Expanded Treg A</text>
<path d="M459.4 448.1h6.6" stroke="#26468c" stroke-width="1.3"/><circle cx="462.7" cy="448.1" r="1.2" fill="#26468c"/>
<text x="469.10" y="450.30" font-size="5.9" text-anchor="start" fill="#333" textLength="44.4" lengthAdjust="spacingAndGlyphs" >Expanded Treg B</text>
<text x="392.50" y="509.50" font-size="6.9" text-anchor="middle" fill="#333" textLength="9.0" lengthAdjust="spacingAndGlyphs" >No</text>
<text x="411.20" y="509.50" font-size="6.9" text-anchor="middle" fill="#333" textLength="9.6" lengthAdjust="spacingAndGlyphs" >8:1</text>
<text x="429.80" y="509.50" font-size="6.9" text-anchor="middle" fill="#333" textLength="9.6" lengthAdjust="spacingAndGlyphs" >4:1</text>
<text x="448.30" y="509.50" font-size="6.9" text-anchor="middle" fill="#333" textLength="9.6" lengthAdjust="spacingAndGlyphs" >2:1</text>
<text x="466.80" y="509.50" font-size="6.9" text-anchor="middle" fill="#333" textLength="9.6" lengthAdjust="spacingAndGlyphs" >1:1</text>
<text x="392.50" y="517.60" font-size="6.9" text-anchor="middle" fill="#333" textLength="13.0" lengthAdjust="spacingAndGlyphs" >Treg</text>
<text transform="translate(362.9 464.9) rotate(-90)" font-size="8.8" text-anchor="middle" fill="#222" textLength="58.4" lengthAdjust="spacingAndGlyphs">Proliferation index</text>
<text x="408.60" y="530.60" font-size="9.3" text-anchor="start" fill="#222" textLength="3.9" lengthAdjust="spacingAndGlyphs" >T</text>
<text x="412.30" y="533.60" font-size="6.6" text-anchor="start" fill="#333" textLength="8.8" lengthAdjust="spacingAndGlyphs" >con</text>
<text x="421.20" y="530.60" font-size="9.3" text-anchor="start" fill="#222" textLength="31.2" lengthAdjust="spacingAndGlyphs" >:Treg ratio</text>
<rect x="0.5" y="0.5" width="519" height="541" fill="none" stroke="#000" stroke-width="1"/>
<rect x="1.5" y="1.5" width="517" height="539" fill="none" stroke="#000" stroke-width="1" opacity="0.3"/>
</svg>
</body></html>
